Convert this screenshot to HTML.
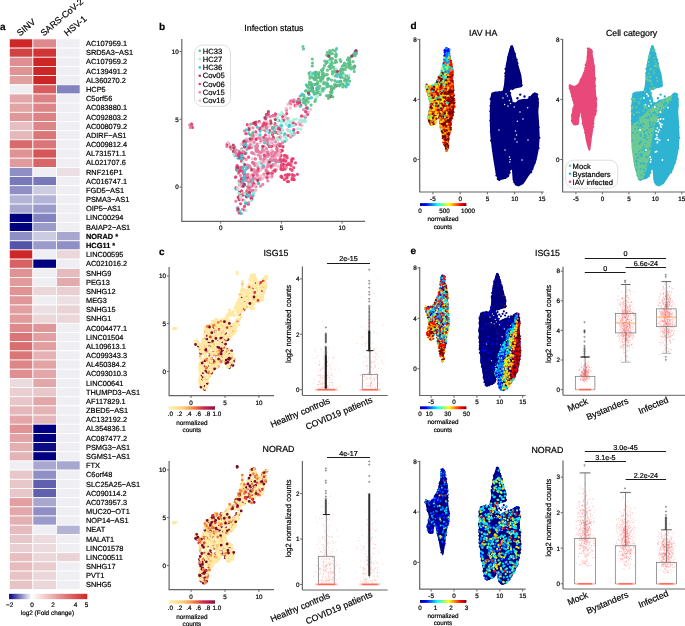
<!DOCTYPE html>
<html><head><meta charset="utf-8"><style>
html,body{margin:0;padding:0;background:#fff;}
svg{display:block;font-family:"Liberation Sans",sans-serif;will-change:transform;text-rendering:geometricPrecision;}
text{stroke:#000;stroke-width:0.2px;}
</style></head><body>
<svg width="685" height="626" viewBox="0 0 685 626" fill="none">
<g fill="#000">
<rect x="9.3" y="38.9" width="23.6" height="9.2" fill="#cd2626" stroke="#fff" stroke-width="0.8"/>
<rect x="32.9" y="38.9" width="23.6" height="9.2" fill="#de8a8c" stroke="#fff" stroke-width="0.8"/>
<rect x="56.5" y="38.9" width="23.6" height="9.2" fill="#efeff3" stroke="#fff" stroke-width="0.8"/>
<text x="86" y="46.1" font-size="7.4">AC107959.1</text>
<rect x="9.3" y="48.1" width="23.6" height="9.2" fill="#d24243" stroke="#fff" stroke-width="0.8"/>
<rect x="32.9" y="48.1" width="23.6" height="9.2" fill="#d03636" stroke="#fff" stroke-width="0.8"/>
<rect x="56.5" y="48.1" width="23.6" height="9.2" fill="#efeff3" stroke="#fff" stroke-width="0.8"/>
<text x="86" y="55.3" font-size="7.4">SRD5A3−AS1</text>
<rect x="9.3" y="57.2" width="23.6" height="9.2" fill="#df8f91" stroke="#fff" stroke-width="0.8"/>
<rect x="32.9" y="57.2" width="23.6" height="9.2" fill="#cd2626" stroke="#fff" stroke-width="0.8"/>
<rect x="56.5" y="57.2" width="23.6" height="9.2" fill="#efeff3" stroke="#fff" stroke-width="0.8"/>
<text x="86" y="64.4" font-size="7.4">AC107959.2</text>
<rect x="9.3" y="66.4" width="23.6" height="9.2" fill="#df9395" stroke="#fff" stroke-width="0.8"/>
<rect x="32.9" y="66.4" width="23.6" height="9.2" fill="#cd2626" stroke="#fff" stroke-width="0.8"/>
<rect x="56.5" y="66.4" width="23.6" height="9.2" fill="#efeff3" stroke="#fff" stroke-width="0.8"/>
<text x="86" y="73.6" font-size="7.4">AC139491.2</text>
<rect x="9.3" y="75.6" width="23.6" height="9.2" fill="#e19fa1" stroke="#fff" stroke-width="0.8"/>
<rect x="32.9" y="75.6" width="23.6" height="9.2" fill="#cd2626" stroke="#fff" stroke-width="0.8"/>
<rect x="56.5" y="75.6" width="23.6" height="9.2" fill="#efeff3" stroke="#fff" stroke-width="0.8"/>
<text x="86" y="82.8" font-size="7.4">AL360270.2</text>
<rect x="9.3" y="84.8" width="23.6" height="9.2" fill="#efeff3" stroke="#fff" stroke-width="0.8"/>
<rect x="32.9" y="84.8" width="23.6" height="9.2" fill="#d75e5f" stroke="#fff" stroke-width="0.8"/>
<rect x="56.5" y="84.8" width="23.6" height="9.2" fill="#8383bf" stroke="#fff" stroke-width="0.8"/>
<text x="86" y="92" font-size="7.4">HCP5</text>
<rect x="9.3" y="94" width="23.6" height="9.2" fill="#e3a7a9" stroke="#fff" stroke-width="0.8"/>
<rect x="32.9" y="94" width="23.6" height="9.2" fill="#dd8284" stroke="#fff" stroke-width="0.8"/>
<rect x="56.5" y="94" width="23.6" height="9.2" fill="#efeff3" stroke="#fff" stroke-width="0.8"/>
<text x="86" y="101.1" font-size="7.4">C5orf56</text>
<rect x="9.3" y="103.1" width="23.6" height="9.2" fill="#e2a3a5" stroke="#fff" stroke-width="0.8"/>
<rect x="32.9" y="103.1" width="23.6" height="9.2" fill="#dd8688" stroke="#fff" stroke-width="0.8"/>
<rect x="56.5" y="103.1" width="23.6" height="9.2" fill="#efeff3" stroke="#fff" stroke-width="0.8"/>
<text x="86" y="110.3" font-size="7.4">AC083880.1</text>
<rect x="9.3" y="112.3" width="23.6" height="9.2" fill="#e09799" stroke="#fff" stroke-width="0.8"/>
<rect x="32.9" y="112.3" width="23.6" height="9.2" fill="#dd8284" stroke="#fff" stroke-width="0.8"/>
<rect x="56.5" y="112.3" width="23.6" height="9.2" fill="#efeff3" stroke="#fff" stroke-width="0.8"/>
<text x="86" y="119.5" font-size="7.4">AC092803.2</text>
<rect x="9.3" y="121.5" width="23.6" height="9.2" fill="#e7bfc2" stroke="#fff" stroke-width="0.8"/>
<rect x="32.9" y="121.5" width="23.6" height="9.2" fill="#dd8688" stroke="#fff" stroke-width="0.8"/>
<rect x="56.5" y="121.5" width="23.6" height="9.2" fill="#efeff3" stroke="#fff" stroke-width="0.8"/>
<text x="86" y="128.7" font-size="7.4">AC008079.2</text>
<rect x="9.3" y="130.7" width="23.6" height="9.2" fill="#e5b7ba" stroke="#fff" stroke-width="0.8"/>
<rect x="32.9" y="130.7" width="23.6" height="9.2" fill="#db7678" stroke="#fff" stroke-width="0.8"/>
<rect x="56.5" y="130.7" width="23.6" height="9.2" fill="#efeff3" stroke="#fff" stroke-width="0.8"/>
<text x="86" y="137.8" font-size="7.4">ADIRF−AS1</text>
<rect x="9.3" y="139.8" width="23.6" height="9.2" fill="#d96a6c" stroke="#fff" stroke-width="0.8"/>
<rect x="32.9" y="139.8" width="23.6" height="9.2" fill="#db7678" stroke="#fff" stroke-width="0.8"/>
<rect x="56.5" y="139.8" width="23.6" height="9.2" fill="#efeff3" stroke="#fff" stroke-width="0.8"/>
<text x="86" y="147" font-size="7.4">AC009812.4</text>
<rect x="9.3" y="149" width="23.6" height="9.2" fill="#df9395" stroke="#fff" stroke-width="0.8"/>
<rect x="32.9" y="149" width="23.6" height="9.2" fill="#d55657" stroke="#fff" stroke-width="0.8"/>
<rect x="56.5" y="149" width="23.6" height="9.2" fill="#efeff3" stroke="#fff" stroke-width="0.8"/>
<text x="86" y="156.2" font-size="7.4">AL731571.1</text>
<rect x="9.3" y="158.2" width="23.6" height="9.2" fill="#e19b9d" stroke="#fff" stroke-width="0.8"/>
<rect x="32.9" y="158.2" width="23.6" height="9.2" fill="#d86668" stroke="#fff" stroke-width="0.8"/>
<rect x="56.5" y="158.2" width="23.6" height="9.2" fill="#efeff3" stroke="#fff" stroke-width="0.8"/>
<text x="86" y="165.4" font-size="7.4">AL021707.6</text>
<rect x="9.3" y="167.4" width="23.6" height="9.2" fill="#8f8fc5" stroke="#fff" stroke-width="0.8"/>
<rect x="32.9" y="167.4" width="23.6" height="9.2" fill="#efeff3" stroke="#fff" stroke-width="0.8"/>
<rect x="56.5" y="167.4" width="23.6" height="9.2" fill="#ecdfe3" stroke="#fff" stroke-width="0.8"/>
<text x="86" y="174.5" font-size="7.4">RNF216P1</text>
<rect x="9.3" y="176.5" width="23.6" height="9.2" fill="#7878ba" stroke="#fff" stroke-width="0.8"/>
<rect x="32.9" y="176.5" width="23.6" height="9.2" fill="#7878ba" stroke="#fff" stroke-width="0.8"/>
<rect x="56.5" y="176.5" width="23.6" height="9.2" fill="#efeff3" stroke="#fff" stroke-width="0.8"/>
<text x="86" y="183.7" font-size="7.4">AC016747.1</text>
<rect x="9.3" y="185.7" width="23.6" height="9.2" fill="#8f8fc5" stroke="#fff" stroke-width="0.8"/>
<rect x="32.9" y="185.7" width="23.6" height="9.2" fill="#cbcbe2" stroke="#fff" stroke-width="0.8"/>
<rect x="56.5" y="185.7" width="23.6" height="9.2" fill="#efeff3" stroke="#fff" stroke-width="0.8"/>
<text x="86" y="192.9" font-size="7.4">FGD5−AS1</text>
<rect x="9.3" y="194.9" width="23.6" height="9.2" fill="#b3b3d6" stroke="#fff" stroke-width="0.8"/>
<rect x="32.9" y="194.9" width="23.6" height="9.2" fill="#b3b3d6" stroke="#fff" stroke-width="0.8"/>
<rect x="56.5" y="194.9" width="23.6" height="9.2" fill="#efeff3" stroke="#fff" stroke-width="0.8"/>
<text x="86" y="202.1" font-size="7.4">PSMA3−AS1</text>
<rect x="9.3" y="204.1" width="23.6" height="9.2" fill="#a7a7d0" stroke="#fff" stroke-width="0.8"/>
<rect x="32.9" y="204.1" width="23.6" height="9.2" fill="#9b9bcb" stroke="#fff" stroke-width="0.8"/>
<rect x="56.5" y="204.1" width="23.6" height="9.2" fill="#efeff3" stroke="#fff" stroke-width="0.8"/>
<text x="86" y="211.2" font-size="7.4">OIP5−AS1</text>
<rect x="9.3" y="213.2" width="23.6" height="9.2" fill="#000080" stroke="#fff" stroke-width="0.8"/>
<rect x="32.9" y="213.2" width="23.6" height="9.2" fill="#8383bf" stroke="#fff" stroke-width="0.8"/>
<rect x="56.5" y="213.2" width="23.6" height="9.2" fill="#efeff3" stroke="#fff" stroke-width="0.8"/>
<text x="86" y="220.4" font-size="7.4">LINC00294</text>
<rect x="9.3" y="222.4" width="23.6" height="9.2" fill="#000080" stroke="#fff" stroke-width="0.8"/>
<rect x="32.9" y="222.4" width="23.6" height="9.2" fill="#9b9bcb" stroke="#fff" stroke-width="0.8"/>
<rect x="56.5" y="222.4" width="23.6" height="9.2" fill="#efeff3" stroke="#fff" stroke-width="0.8"/>
<text x="86" y="229.6" font-size="7.4">BAIAP2−AS1</text>
<rect x="9.3" y="231.6" width="23.6" height="9.2" fill="#8f8fc5" stroke="#fff" stroke-width="0.8"/>
<rect x="32.9" y="231.6" width="23.6" height="9.2" fill="#cbcbe2" stroke="#fff" stroke-width="0.8"/>
<rect x="56.5" y="231.6" width="23.6" height="9.2" fill="#a7a7d0" stroke="#fff" stroke-width="0.8"/>
<text x="86" y="238.8" font-size="7.4"><tspan font-weight="bold">NORAD *</tspan></text>
<rect x="9.3" y="240.8" width="23.6" height="9.2" fill="#5454a8" stroke="#fff" stroke-width="0.8"/>
<rect x="32.9" y="240.8" width="23.6" height="9.2" fill="#9b9bcb" stroke="#fff" stroke-width="0.8"/>
<rect x="56.5" y="240.8" width="23.6" height="9.2" fill="#8f8fc5" stroke="#fff" stroke-width="0.8"/>
<text x="86" y="247.9" font-size="7.4"><tspan font-weight="bold">HCG11 *</tspan></text>
<rect x="9.3" y="249.9" width="23.6" height="9.2" fill="#cd2626" stroke="#fff" stroke-width="0.8"/>
<rect x="32.9" y="249.9" width="23.6" height="9.2" fill="#efeff3" stroke="#fff" stroke-width="0.8"/>
<rect x="56.5" y="249.9" width="23.6" height="9.2" fill="#ebd7da" stroke="#fff" stroke-width="0.8"/>
<text x="86" y="257.1" font-size="7.4">LINC00595</text>
<rect x="9.3" y="259.1" width="23.6" height="9.2" fill="#d76264" stroke="#fff" stroke-width="0.8"/>
<rect x="32.9" y="259.1" width="23.6" height="9.2" fill="#000080" stroke="#fff" stroke-width="0.8"/>
<rect x="56.5" y="259.1" width="23.6" height="9.2" fill="#efeff3" stroke="#fff" stroke-width="0.8"/>
<text x="86" y="266.3" font-size="7.4">AC021016.2</text>
<rect x="9.3" y="268.3" width="23.6" height="9.2" fill="#df9395" stroke="#fff" stroke-width="0.8"/>
<rect x="32.9" y="268.3" width="23.6" height="9.2" fill="#efeff3" stroke="#fff" stroke-width="0.8"/>
<rect x="56.5" y="268.3" width="23.6" height="9.2" fill="#e6bbbe" stroke="#fff" stroke-width="0.8"/>
<text x="86" y="275.5" font-size="7.4">SNHG9</text>
<rect x="9.3" y="277.4" width="23.6" height="9.2" fill="#e19b9d" stroke="#fff" stroke-width="0.8"/>
<rect x="32.9" y="277.4" width="23.6" height="9.2" fill="#efeff3" stroke="#fff" stroke-width="0.8"/>
<rect x="56.5" y="277.4" width="23.6" height="9.2" fill="#e3abad" stroke="#fff" stroke-width="0.8"/>
<text x="86" y="284.6" font-size="7.4">PEG13</text>
<rect x="9.3" y="286.6" width="23.6" height="9.2" fill="#df9395" stroke="#fff" stroke-width="0.8"/>
<rect x="32.9" y="286.6" width="23.6" height="9.2" fill="#ebd7da" stroke="#fff" stroke-width="0.8"/>
<rect x="56.5" y="286.6" width="23.6" height="9.2" fill="#eacfd2" stroke="#fff" stroke-width="0.8"/>
<text x="86" y="293.8" font-size="7.4">SNHG12</text>
<rect x="9.3" y="295.8" width="23.6" height="9.2" fill="#e09799" stroke="#fff" stroke-width="0.8"/>
<rect x="32.9" y="295.8" width="23.6" height="9.2" fill="#efeff3" stroke="#fff" stroke-width="0.8"/>
<rect x="56.5" y="295.8" width="23.6" height="9.2" fill="#ecdfe3" stroke="#fff" stroke-width="0.8"/>
<text x="86" y="303" font-size="7.4">MEG3</text>
<rect x="9.3" y="305" width="23.6" height="9.2" fill="#e19fa1" stroke="#fff" stroke-width="0.8"/>
<rect x="32.9" y="305" width="23.6" height="9.2" fill="#ecdfe3" stroke="#fff" stroke-width="0.8"/>
<rect x="56.5" y="305" width="23.6" height="9.2" fill="#ead3d6" stroke="#fff" stroke-width="0.8"/>
<text x="86" y="312.2" font-size="7.4">SNHG15</text>
<rect x="9.3" y="314.1" width="23.6" height="9.2" fill="#e19b9d" stroke="#fff" stroke-width="0.8"/>
<rect x="32.9" y="314.1" width="23.6" height="9.2" fill="#ebd7da" stroke="#fff" stroke-width="0.8"/>
<rect x="56.5" y="314.1" width="23.6" height="9.2" fill="#ebd7da" stroke="#fff" stroke-width="0.8"/>
<text x="86" y="321.3" font-size="7.4">SNHG1</text>
<rect x="9.3" y="323.3" width="23.6" height="9.2" fill="#de8a8c" stroke="#fff" stroke-width="0.8"/>
<rect x="32.9" y="323.3" width="23.6" height="9.2" fill="#e09799" stroke="#fff" stroke-width="0.8"/>
<rect x="56.5" y="323.3" width="23.6" height="9.2" fill="#efeff3" stroke="#fff" stroke-width="0.8"/>
<text x="86" y="330.5" font-size="7.4">AC004477.1</text>
<rect x="9.3" y="332.5" width="23.6" height="9.2" fill="#db7678" stroke="#fff" stroke-width="0.8"/>
<rect x="32.9" y="332.5" width="23.6" height="9.2" fill="#e19fa1" stroke="#fff" stroke-width="0.8"/>
<rect x="56.5" y="332.5" width="23.6" height="9.2" fill="#efeff3" stroke="#fff" stroke-width="0.8"/>
<text x="86" y="339.7" font-size="7.4">LINC01504</text>
<rect x="9.3" y="341.7" width="23.6" height="9.2" fill="#d96e70" stroke="#fff" stroke-width="0.8"/>
<rect x="32.9" y="341.7" width="23.6" height="9.2" fill="#e19fa1" stroke="#fff" stroke-width="0.8"/>
<rect x="56.5" y="341.7" width="23.6" height="9.2" fill="#efeff3" stroke="#fff" stroke-width="0.8"/>
<text x="86" y="348.9" font-size="7.4">AL109613.1</text>
<rect x="9.3" y="350.9" width="23.6" height="9.2" fill="#db7678" stroke="#fff" stroke-width="0.8"/>
<rect x="32.9" y="350.9" width="23.6" height="9.2" fill="#e5b3b6" stroke="#fff" stroke-width="0.8"/>
<rect x="56.5" y="350.9" width="23.6" height="9.2" fill="#efeff3" stroke="#fff" stroke-width="0.8"/>
<text x="86" y="358" font-size="7.4">AC099343.3</text>
<rect x="9.3" y="360" width="23.6" height="9.2" fill="#dd8688" stroke="#fff" stroke-width="0.8"/>
<rect x="32.9" y="360" width="23.6" height="9.2" fill="#e2a3a5" stroke="#fff" stroke-width="0.8"/>
<rect x="56.5" y="360" width="23.6" height="9.2" fill="#efeff3" stroke="#fff" stroke-width="0.8"/>
<text x="86" y="367.2" font-size="7.4">AL450384.2</text>
<rect x="9.3" y="369.2" width="23.6" height="9.2" fill="#df8f91" stroke="#fff" stroke-width="0.8"/>
<rect x="32.9" y="369.2" width="23.6" height="9.2" fill="#e3a7a9" stroke="#fff" stroke-width="0.8"/>
<rect x="56.5" y="369.2" width="23.6" height="9.2" fill="#efeff3" stroke="#fff" stroke-width="0.8"/>
<text x="86" y="376.4" font-size="7.4">AC093010.3</text>
<rect x="9.3" y="378.4" width="23.6" height="9.2" fill="#ecdbde" stroke="#fff" stroke-width="0.8"/>
<rect x="32.9" y="378.4" width="23.6" height="9.2" fill="#e3a7a9" stroke="#fff" stroke-width="0.8"/>
<rect x="56.5" y="378.4" width="23.6" height="9.2" fill="#efeff3" stroke="#fff" stroke-width="0.8"/>
<text x="86" y="385.6" font-size="7.4">LINC00641</text>
<rect x="9.3" y="387.6" width="23.6" height="9.2" fill="#eacfd2" stroke="#fff" stroke-width="0.8"/>
<rect x="32.9" y="387.6" width="23.6" height="9.2" fill="#e8c7ca" stroke="#fff" stroke-width="0.8"/>
<rect x="56.5" y="387.6" width="23.6" height="9.2" fill="#efeff3" stroke="#fff" stroke-width="0.8"/>
<text x="86" y="394.7" font-size="7.4">THUMPD3−AS1</text>
<rect x="9.3" y="396.7" width="23.6" height="9.2" fill="#e8c7ca" stroke="#fff" stroke-width="0.8"/>
<rect x="32.9" y="396.7" width="23.6" height="9.2" fill="#e3a7a9" stroke="#fff" stroke-width="0.8"/>
<rect x="56.5" y="396.7" width="23.6" height="9.2" fill="#efeff3" stroke="#fff" stroke-width="0.8"/>
<text x="86" y="403.9" font-size="7.4">AF117829.1</text>
<rect x="9.3" y="405.9" width="23.6" height="9.2" fill="#e5b7ba" stroke="#fff" stroke-width="0.8"/>
<rect x="32.9" y="405.9" width="23.6" height="9.2" fill="#e5b3b6" stroke="#fff" stroke-width="0.8"/>
<rect x="56.5" y="405.9" width="23.6" height="9.2" fill="#efeff3" stroke="#fff" stroke-width="0.8"/>
<text x="86" y="413.1" font-size="7.4">ZBED5−AS1</text>
<rect x="9.3" y="415.1" width="23.6" height="9.2" fill="#e3a7a9" stroke="#fff" stroke-width="0.8"/>
<rect x="32.9" y="415.1" width="23.6" height="9.2" fill="#e5b7ba" stroke="#fff" stroke-width="0.8"/>
<rect x="56.5" y="415.1" width="23.6" height="9.2" fill="#efeff3" stroke="#fff" stroke-width="0.8"/>
<text x="86" y="422.3" font-size="7.4">AC132192.2</text>
<rect x="9.3" y="424.2" width="23.6" height="9.2" fill="#df9395" stroke="#fff" stroke-width="0.8"/>
<rect x="32.9" y="424.2" width="23.6" height="9.2" fill="#000080" stroke="#fff" stroke-width="0.8"/>
<rect x="56.5" y="424.2" width="23.6" height="9.2" fill="#efeff3" stroke="#fff" stroke-width="0.8"/>
<text x="86" y="431.4" font-size="7.4">AL354836.1</text>
<rect x="9.3" y="433.4" width="23.6" height="9.2" fill="#e2a3a5" stroke="#fff" stroke-width="0.8"/>
<rect x="32.9" y="433.4" width="23.6" height="9.2" fill="#000080" stroke="#fff" stroke-width="0.8"/>
<rect x="56.5" y="433.4" width="23.6" height="9.2" fill="#efeff3" stroke="#fff" stroke-width="0.8"/>
<text x="86" y="440.6" font-size="7.4">AC087477.2</text>
<rect x="9.3" y="442.6" width="23.6" height="9.2" fill="#e4afb1" stroke="#fff" stroke-width="0.8"/>
<rect x="32.9" y="442.6" width="23.6" height="9.2" fill="#0c0c86" stroke="#fff" stroke-width="0.8"/>
<rect x="56.5" y="442.6" width="23.6" height="9.2" fill="#efeff3" stroke="#fff" stroke-width="0.8"/>
<text x="86" y="449.8" font-size="7.4">PSMG3−AS1</text>
<rect x="9.3" y="451.8" width="23.6" height="9.2" fill="#e5b3b6" stroke="#fff" stroke-width="0.8"/>
<rect x="32.9" y="451.8" width="23.6" height="9.2" fill="#000080" stroke="#fff" stroke-width="0.8"/>
<rect x="56.5" y="451.8" width="23.6" height="9.2" fill="#efeff3" stroke="#fff" stroke-width="0.8"/>
<text x="86" y="459" font-size="7.4">SGMS1−AS1</text>
<rect x="9.3" y="460.9" width="23.6" height="9.2" fill="#efeff3" stroke="#fff" stroke-width="0.8"/>
<rect x="32.9" y="460.9" width="23.6" height="9.2" fill="#a7a7d0" stroke="#fff" stroke-width="0.8"/>
<rect x="56.5" y="460.9" width="23.6" height="9.2" fill="#a7a7d0" stroke="#fff" stroke-width="0.8"/>
<text x="86" y="468.1" font-size="7.4">FTX</text>
<rect x="9.3" y="470.1" width="23.6" height="9.2" fill="#e8c7ca" stroke="#fff" stroke-width="0.8"/>
<rect x="32.9" y="470.1" width="23.6" height="9.2" fill="#8f8fc5" stroke="#fff" stroke-width="0.8"/>
<rect x="56.5" y="470.1" width="23.6" height="9.2" fill="#efeff3" stroke="#fff" stroke-width="0.8"/>
<text x="86" y="477.3" font-size="7.4">C6orf48</text>
<rect x="9.3" y="479.3" width="23.6" height="9.2" fill="#e8c7ca" stroke="#fff" stroke-width="0.8"/>
<rect x="32.9" y="479.3" width="23.6" height="9.2" fill="#6060ae" stroke="#fff" stroke-width="0.8"/>
<rect x="56.5" y="479.3" width="23.6" height="9.2" fill="#efeff3" stroke="#fff" stroke-width="0.8"/>
<text x="86" y="486.5" font-size="7.4">SLC25A25−AS1</text>
<rect x="9.3" y="488.5" width="23.6" height="9.2" fill="#e8c7ca" stroke="#fff" stroke-width="0.8"/>
<rect x="32.9" y="488.5" width="23.6" height="9.2" fill="#6060ae" stroke="#fff" stroke-width="0.8"/>
<rect x="56.5" y="488.5" width="23.6" height="9.2" fill="#efeff3" stroke="#fff" stroke-width="0.8"/>
<text x="86" y="495.7" font-size="7.4">AC090114.2</text>
<rect x="9.3" y="497.7" width="23.6" height="9.2" fill="#e19fa1" stroke="#fff" stroke-width="0.8"/>
<rect x="32.9" y="497.7" width="23.6" height="9.2" fill="#a7a7d0" stroke="#fff" stroke-width="0.8"/>
<rect x="56.5" y="497.7" width="23.6" height="9.2" fill="#efeff3" stroke="#fff" stroke-width="0.8"/>
<text x="86" y="504.8" font-size="7.4">AC073957.3</text>
<rect x="9.3" y="506.8" width="23.6" height="9.2" fill="#e3a7a9" stroke="#fff" stroke-width="0.8"/>
<rect x="32.9" y="506.8" width="23.6" height="9.2" fill="#8f8fc5" stroke="#fff" stroke-width="0.8"/>
<rect x="56.5" y="506.8" width="23.6" height="9.2" fill="#efeff3" stroke="#fff" stroke-width="0.8"/>
<text x="86" y="514" font-size="7.4">MUC20−OT1</text>
<rect x="9.3" y="516" width="23.6" height="9.2" fill="#e4afb1" stroke="#fff" stroke-width="0.8"/>
<rect x="32.9" y="516" width="23.6" height="9.2" fill="#9b9bcb" stroke="#fff" stroke-width="0.8"/>
<rect x="56.5" y="516" width="23.6" height="9.2" fill="#efeff3" stroke="#fff" stroke-width="0.8"/>
<text x="86" y="523.2" font-size="7.4">NOP14−AS1</text>
<rect x="9.3" y="525.2" width="23.6" height="9.2" fill="#e6bbbe" stroke="#fff" stroke-width="0.8"/>
<rect x="32.9" y="525.2" width="23.6" height="9.2" fill="#efeff3" stroke="#fff" stroke-width="0.8"/>
<rect x="56.5" y="525.2" width="23.6" height="9.2" fill="#b3b3d6" stroke="#fff" stroke-width="0.8"/>
<text x="86" y="532.4" font-size="7.4">NEAT</text>
<rect x="9.3" y="534.4" width="23.6" height="9.2" fill="#e8c7ca" stroke="#fff" stroke-width="0.8"/>
<rect x="32.9" y="534.4" width="23.6" height="9.2" fill="#ecdbde" stroke="#fff" stroke-width="0.8"/>
<rect x="56.5" y="534.4" width="23.6" height="9.2" fill="#efeff3" stroke="#fff" stroke-width="0.8"/>
<text x="86" y="541.5" font-size="7.4">MALAT1</text>
<rect x="9.3" y="543.5" width="23.6" height="9.2" fill="#eacfd2" stroke="#fff" stroke-width="0.8"/>
<rect x="32.9" y="543.5" width="23.6" height="9.2" fill="#ecdbde" stroke="#fff" stroke-width="0.8"/>
<rect x="56.5" y="543.5" width="23.6" height="9.2" fill="#efeff3" stroke="#fff" stroke-width="0.8"/>
<text x="86" y="550.7" font-size="7.4">LINC01578</text>
<rect x="9.3" y="552.7" width="23.6" height="9.2" fill="#e7bfc2" stroke="#fff" stroke-width="0.8"/>
<rect x="32.9" y="552.7" width="23.6" height="9.2" fill="#ebd7da" stroke="#fff" stroke-width="0.8"/>
<rect x="56.5" y="552.7" width="23.6" height="9.2" fill="#ead3d6" stroke="#fff" stroke-width="0.8"/>
<text x="86" y="559.9" font-size="7.4">LINC00511</text>
<rect x="9.3" y="561.9" width="23.6" height="9.2" fill="#e6bbbe" stroke="#fff" stroke-width="0.8"/>
<rect x="32.9" y="561.9" width="23.6" height="9.2" fill="#e9cbce" stroke="#fff" stroke-width="0.8"/>
<rect x="56.5" y="561.9" width="23.6" height="9.2" fill="#efeff3" stroke="#fff" stroke-width="0.8"/>
<text x="86" y="569.1" font-size="7.4">SNHG17</text>
<rect x="9.3" y="571.1" width="23.6" height="9.2" fill="#e8c3c6" stroke="#fff" stroke-width="0.8"/>
<rect x="32.9" y="571.1" width="23.6" height="9.2" fill="#ebd7da" stroke="#fff" stroke-width="0.8"/>
<rect x="56.5" y="571.1" width="23.6" height="9.2" fill="#efeff3" stroke="#fff" stroke-width="0.8"/>
<text x="86" y="578.2" font-size="7.4">PVT1</text>
<rect x="9.3" y="580.2" width="23.6" height="9.2" fill="#e8c3c6" stroke="#fff" stroke-width="0.8"/>
<rect x="32.9" y="580.2" width="23.6" height="9.2" fill="#ebd7da" stroke="#fff" stroke-width="0.8"/>
<rect x="56.5" y="580.2" width="23.6" height="9.2" fill="#efeff3" stroke="#fff" stroke-width="0.8"/>
<text x="86" y="587.4" font-size="7.4">SNHG5</text>
<text x="20.1" y="36.5" font-size="9" transform="rotate(-40 20.1 36.5)">SINV</text>
<text x="43.7" y="36.5" font-size="9" transform="rotate(-40 43.7 36.5)">SARS-CoV-2</text>
<text x="67.3" y="36.5" font-size="9" transform="rotate(-40 67.3 36.5)">HSV-1</text>
<text x="0" y="29.5" font-size="10" font-weight="bold">a</text>
<defs><linearGradient id="hg" x1="0" x2="1"><stop offset="0" stop-color="#000080"/><stop offset="0.2857" stop-color="#ffffff"/><stop offset="1" stop-color="#cd2626"/></linearGradient></defs>
<rect x="9.1" y="593.8" width="78.2" height="5.4" fill="url(#hg)"/>
<text x="9.6" y="607" font-size="6.4" text-anchor="middle">−2</text>
<text x="32" y="607" font-size="6.4" text-anchor="middle">0</text>
<text x="53" y="607" font-size="6.4" text-anchor="middle">2</text>
<text x="75.5" y="607" font-size="6.4" text-anchor="middle">4</text>
<text x="86.6" y="607" font-size="6.4" text-anchor="middle">5</text>
<text x="47.4" y="615" font-size="6.4" text-anchor="middle">log2 (Fold change)</text>
<text x="159" y="29.5" font-size="10" font-weight="bold">b</text>
<text x="273.9" y="30.8" font-size="8.8" text-anchor="middle">Infection status</text>
<path d="M181.8 39L181.8 221.3" stroke="#666" stroke-width="1.2"/>
<path d="M179.5 51.5L181.8 51.5" stroke="#666" stroke-width="1"/>
<text x="178.8" y="53.7" font-size="6.3" text-anchor="end">10</text>
<path d="M179.5 119.2L181.8 119.2" stroke="#666" stroke-width="1"/>
<text x="178.8" y="121.5" font-size="6.3" text-anchor="end">5</text>
<path d="M179.5 187L181.8 187" stroke="#666" stroke-width="1"/>
<text x="178.8" y="189.2" font-size="6.3" text-anchor="end">0</text>
<path d="M181.2 221.3L365 221.3" stroke="#666" stroke-width="1.2"/>
<path d="M220.7 221.3L220.7 223.6" stroke="#666" stroke-width="1"/>
<text x="220.7" y="230.2" font-size="6.3" text-anchor="middle">0</text>
<path d="M281.4 221.3L281.4 223.6" stroke="#666" stroke-width="1"/>
<text x="281.4" y="230.2" font-size="6.3" text-anchor="middle">5</text>
<path d="M342.1 221.3L342.1 223.6" stroke="#666" stroke-width="1"/>
<text x="342.1" y="230.2" font-size="6.3" text-anchor="middle">10</text>
<text x="159" y="255.2" font-size="10" font-weight="bold">c</text>
<text x="275.9" y="255.5" font-size="8.8" text-anchor="middle">ISG15</text>
<path d="M169.1 267L169.1 395.6" stroke="#666" stroke-width="1.2"/>
<path d="M166.8 275.9L169.1 275.9" stroke="#666" stroke-width="1"/>
<text x="166.1" y="278.1" font-size="6.3" text-anchor="end">10</text>
<path d="M166.8 323.6L169.1 323.6" stroke="#666" stroke-width="1"/>
<text x="166.1" y="325.8" font-size="6.3" text-anchor="end">5</text>
<path d="M166.8 371.4L169.1 371.4" stroke="#666" stroke-width="1"/>
<text x="166.1" y="373.6" font-size="6.3" text-anchor="end">0</text>
<path d="M168.6 395.6L274 395.6" stroke="#666" stroke-width="1.2"/>
<path d="M191.1 395.6L191.1 397.9" stroke="#666" stroke-width="1"/>
<text x="191.1" y="404.5" font-size="6.3" text-anchor="middle">0</text>
<path d="M225 395.6L225 397.9" stroke="#666" stroke-width="1"/>
<text x="225" y="404.5" font-size="6.3" text-anchor="middle">5</text>
<path d="M258.9 395.6L258.9 397.9" stroke="#666" stroke-width="1"/>
<text x="258.9" y="404.5" font-size="6.3" text-anchor="middle">10</text>
<rect x="168.5" y="406.3" width="46.5" height="3.4" fill="url(#ylr)"/>
<text x="170.4" y="416.4" font-size="6.3" text-anchor="middle">.0</text>
<text x="179.7" y="416.4" font-size="6.3" text-anchor="middle">.2</text>
<text x="189" y="416.4" font-size="6.3" text-anchor="middle">.4</text>
<text x="198.3" y="416.4" font-size="6.3" text-anchor="middle">.6</text>
<text x="207.6" y="416.4" font-size="6.3" text-anchor="middle">.8</text>
<text x="216.9" y="416.4" font-size="6.3" text-anchor="middle">1.0</text>
<text x="191.9" y="424.7" font-size="6.4" text-anchor="middle">normalized</text>
<text x="191.9" y="432.2" font-size="6.4" text-anchor="middle">counts</text>
<text x="278.5" y="451.8" font-size="8.8" text-anchor="middle">NORAD</text>
<path d="M169.1 461L169.1 589.6" stroke="#666" stroke-width="1.2"/>
<path d="M166.8 469.9L169.1 469.9" stroke="#666" stroke-width="1"/>
<text x="166.1" y="472.1" font-size="6.3" text-anchor="end">10</text>
<path d="M166.8 517.6L169.1 517.6" stroke="#666" stroke-width="1"/>
<text x="166.1" y="519.9" font-size="6.3" text-anchor="end">5</text>
<path d="M166.8 565.4L169.1 565.4" stroke="#666" stroke-width="1"/>
<text x="166.1" y="567.6" font-size="6.3" text-anchor="end">0</text>
<path d="M168.6 589.6L274 589.6" stroke="#666" stroke-width="1.2"/>
<path d="M191.1 589.6L191.1 591.9" stroke="#666" stroke-width="1"/>
<text x="191.1" y="598.5" font-size="6.3" text-anchor="middle">0</text>
<path d="M225 589.6L225 591.9" stroke="#666" stroke-width="1"/>
<text x="225" y="598.5" font-size="6.3" text-anchor="middle">5</text>
<path d="M258.9 589.6L258.9 591.9" stroke="#666" stroke-width="1"/>
<text x="258.9" y="598.5" font-size="6.3" text-anchor="middle">10</text>
<rect x="168.5" y="600.3" width="46.5" height="3.4" fill="url(#ylr)"/>
<text x="170.4" y="610.4" font-size="6.3" text-anchor="middle">.0</text>
<text x="179.7" y="610.4" font-size="6.3" text-anchor="middle">.2</text>
<text x="189" y="610.4" font-size="6.3" text-anchor="middle">.4</text>
<text x="198.3" y="610.4" font-size="6.3" text-anchor="middle">.6</text>
<text x="207.6" y="610.4" font-size="6.3" text-anchor="middle">.8</text>
<text x="216.9" y="610.4" font-size="6.3" text-anchor="middle">1.0</text>
<text x="191.9" y="618.7" font-size="6.4" text-anchor="middle">normalized</text>
<text x="191.9" y="626.2" font-size="6.4" text-anchor="middle">counts</text>
<defs><linearGradient id="ylr" x1="0" x2="1"><stop offset="0" stop-color="#fff2b8"/><stop offset="0.3" stop-color="#fcd27a"/><stop offset="0.55" stop-color="#f3803f"/><stop offset="0.75" stop-color="#d2284a"/><stop offset="1" stop-color="#8a1042"/></linearGradient></defs>
<text x="410.5" y="29" font-size="10" font-weight="bold">d</text>
<text x="483.2" y="35.5" font-size="8.8" text-anchor="middle">IAV HA</text>
<text x="631.6" y="35.5" font-size="8.8" text-anchor="middle">Cell category</text>
<path d="M419.7 39L419.7 192" stroke="#666" stroke-width="1.2"/>
<path d="M417.4 39.3L419.7 39.3" stroke="#666" stroke-width="1"/>
<text x="416.7" y="41.5" font-size="6.3" text-anchor="end">8</text>
<path d="M417.4 99.4L419.7 99.4" stroke="#666" stroke-width="1"/>
<text x="416.7" y="101.6" font-size="6.3" text-anchor="end">4</text>
<path d="M417.4 159.5L419.7 159.5" stroke="#666" stroke-width="1"/>
<text x="416.7" y="161.7" font-size="6.3" text-anchor="end">0</text>
<path d="M419.2 192L543.6 192" stroke="#666" stroke-width="1.2"/>
<path d="M432.9 192L432.9 194.3" stroke="#666" stroke-width="1"/>
<text x="432.9" y="200.9" font-size="6.3" text-anchor="middle">-5</text>
<path d="M460.2 192L460.2 194.3" stroke="#666" stroke-width="1"/>
<text x="460.2" y="200.9" font-size="6.3" text-anchor="middle">0</text>
<path d="M487.4 192L487.4 194.3" stroke="#666" stroke-width="1"/>
<text x="487.4" y="200.9" font-size="6.3" text-anchor="middle">5</text>
<path d="M514.7 192L514.7 194.3" stroke="#666" stroke-width="1"/>
<text x="514.7" y="200.9" font-size="6.3" text-anchor="middle">10</text>
<path d="M542 192L542 194.3" stroke="#666" stroke-width="1"/>
<text x="542" y="200.9" font-size="6.3" text-anchor="middle">15</text>
<path d="M562.6 39L562.6 192" stroke="#666" stroke-width="1.2"/>
<path d="M560.3 39.3L562.6 39.3" stroke="#666" stroke-width="1"/>
<text x="559.6" y="41.5" font-size="6.3" text-anchor="end">8</text>
<path d="M560.3 99.4L562.6 99.4" stroke="#666" stroke-width="1"/>
<text x="559.6" y="101.6" font-size="6.3" text-anchor="end">4</text>
<path d="M560.3 159.5L562.6 159.5" stroke="#666" stroke-width="1"/>
<text x="559.6" y="161.7" font-size="6.3" text-anchor="end">0</text>
<path d="M562.1 192L685 192" stroke="#666" stroke-width="1.2"/>
<path d="M575.9 192L575.9 194.3" stroke="#666" stroke-width="1"/>
<text x="575.9" y="200.9" font-size="6.3" text-anchor="middle">-5</text>
<path d="M602.4 192L602.4 194.3" stroke="#666" stroke-width="1"/>
<text x="602.4" y="200.9" font-size="6.3" text-anchor="middle">0</text>
<path d="M628.9 192L628.9 194.3" stroke="#666" stroke-width="1"/>
<text x="628.9" y="200.9" font-size="6.3" text-anchor="middle">5</text>
<path d="M655.3 192L655.3 194.3" stroke="#666" stroke-width="1"/>
<text x="655.3" y="200.9" font-size="6.3" text-anchor="middle">10</text>
<path d="M681.8 192L681.8 194.3" stroke="#666" stroke-width="1"/>
<text x="681.8" y="200.9" font-size="6.3" text-anchor="middle">15</text>
<defs><linearGradient id="jet" x1="0" x2="1"><stop offset="0" stop-color="#00008f"/><stop offset="0.125" stop-color="#0000ff"/><stop offset="0.375" stop-color="#00ffff"/><stop offset="0.625" stop-color="#ffff00"/><stop offset="0.875" stop-color="#ff0000"/><stop offset="1" stop-color="#800000"/></linearGradient></defs>
<rect x="420" y="203.1" width="46.4" height="2.9" fill="url(#jet)"/>
<text x="420" y="213.2" font-size="6.3" text-anchor="middle">0</text>
<text x="444.6" y="213.2" font-size="6.3" text-anchor="middle">500</text>
<text x="468.1" y="213.2" font-size="6.3" text-anchor="middle">1000</text>
<text x="443" y="221.1" font-size="6.3" text-anchor="middle">normalized</text>
<text x="443" y="228.8" font-size="6.3" text-anchor="middle">counts</text>
<text x="410.5" y="254.4" font-size="10" font-weight="bold">e</text>
<path d="M419.7 267L419.7 395.5" stroke="#666" stroke-width="1.2"/>
<path d="M417.4 267.9L419.7 267.9" stroke="#666" stroke-width="1"/>
<text x="416.7" y="270.1" font-size="6.3" text-anchor="end">8</text>
<path d="M417.4 318.3L419.7 318.3" stroke="#666" stroke-width="1"/>
<text x="416.7" y="320.5" font-size="6.3" text-anchor="end">4</text>
<path d="M417.4 368.7L419.7 368.7" stroke="#666" stroke-width="1"/>
<text x="416.7" y="370.9" font-size="6.3" text-anchor="end">0</text>
<path d="M419.2 395.5L525.6 395.5" stroke="#666" stroke-width="1.2"/>
<path d="M431.1 395.5L431.1 397.8" stroke="#666" stroke-width="1"/>
<text x="431.1" y="404.4" font-size="6.3" text-anchor="middle">-5</text>
<path d="M454 395.5L454 397.8" stroke="#666" stroke-width="1"/>
<text x="454" y="404.4" font-size="6.3" text-anchor="middle">0</text>
<path d="M476.9 395.5L476.9 397.8" stroke="#666" stroke-width="1"/>
<text x="476.9" y="404.4" font-size="6.3" text-anchor="middle">5</text>
<path d="M499.8 395.5L499.8 397.8" stroke="#666" stroke-width="1"/>
<text x="499.8" y="404.4" font-size="6.3" text-anchor="middle">10</text>
<path d="M522.7 395.5L522.7 397.8" stroke="#666" stroke-width="1"/>
<text x="522.7" y="404.4" font-size="6.3" text-anchor="middle">15</text>
<rect x="420" y="406.3" width="46.4" height="2.9" fill="url(#jet)"/>
<text x="420" y="416.4" font-size="6.3" text-anchor="middle">0</text>
<text x="429.3" y="416.4" font-size="6.3" text-anchor="middle">10</text>
<text x="447.8" y="416.4" font-size="6.3" text-anchor="middle">30</text>
<text x="466.4" y="416.4" font-size="6.3" text-anchor="middle">50</text>
<text x="443" y="424" font-size="6.3" text-anchor="middle">normalized</text>
<text x="443" y="431.7" font-size="6.3" text-anchor="middle">counts</text>
<path d="M419.7 460.7L419.7 589.2" stroke="#666" stroke-width="1.2"/>
<path d="M417.4 461.6L419.7 461.6" stroke="#666" stroke-width="1"/>
<text x="416.7" y="463.8" font-size="6.3" text-anchor="end">8</text>
<path d="M417.4 512L419.7 512" stroke="#666" stroke-width="1"/>
<text x="416.7" y="514.2" font-size="6.3" text-anchor="end">4</text>
<path d="M417.4 562.4L419.7 562.4" stroke="#666" stroke-width="1"/>
<text x="416.7" y="564.6" font-size="6.3" text-anchor="end">0</text>
<path d="M419.2 589.2L525.6 589.2" stroke="#666" stroke-width="1.2"/>
<path d="M431.1 589.2L431.1 591.5" stroke="#666" stroke-width="1"/>
<text x="431.1" y="598.1" font-size="6.3" text-anchor="middle">-5</text>
<path d="M454 589.2L454 591.5" stroke="#666" stroke-width="1"/>
<text x="454" y="598.1" font-size="6.3" text-anchor="middle">0</text>
<path d="M476.9 589.2L476.9 591.5" stroke="#666" stroke-width="1"/>
<text x="476.9" y="598.1" font-size="6.3" text-anchor="middle">5</text>
<path d="M499.8 589.2L499.8 591.5" stroke="#666" stroke-width="1"/>
<text x="499.8" y="598.1" font-size="6.3" text-anchor="middle">10</text>
<path d="M522.7 589.2L522.7 591.5" stroke="#666" stroke-width="1"/>
<text x="522.7" y="598.1" font-size="6.3" text-anchor="middle">15</text>
<rect x="420" y="600" width="46.4" height="2.9" fill="url(#jet)"/>
<text x="420" y="610.1" font-size="6.3" text-anchor="middle">0</text>
<text x="435.5" y="610.1" font-size="6.3" text-anchor="middle">1</text>
<text x="450.9" y="610.1" font-size="6.3" text-anchor="middle">2</text>
<text x="466.4" y="610.1" font-size="6.3" text-anchor="middle">3</text>
<text x="443" y="617.7" font-size="6.3" text-anchor="middle">normalized</text>
<text x="443" y="625.4" font-size="6.3" text-anchor="middle">counts</text>
<path d="M349.9 62.8h0M327.8 79.6h0M331.7 62.4h0M331 94.8h0M344.5 63h0M329.9 66.6h0M328.6 86.1h0M319.2 77.6h0M326.7 84.7h0M330.3 92.2h0M331.3 86.3h0M345.1 78.5h0M332 91.3h0M343.7 66h0M311.7 87.4h0M312.1 89.8h0M342.7 70.3h0M323.5 76.3h0M330 61.6h0M250.4 134.9h0M340.5 60.8h0M329 97.8h0M316.6 90h0M317.4 92.4h0M321.8 77.8h0M342.3 75h0M305.5 91h0M334.9 69.7h0M328.8 56.3h0M317.2 84h0M315.8 79.4h0M339.5 85.8h0M330.5 58.4h0M306.4 100.6h0M328.6 60.9h0M343 69.7h0M315.5 75.2h0M312.3 89.6h0M315.2 84.4h0M310.5 82.6h0M327.5 70.2h0M323.4 68.3h0M307.6 86.9h0M308.2 102.1h0M316.1 78h0M349.6 81.2h0M328.5 95.9h0M340.1 59.7h0M324.2 88.7h0M310.3 72.7h0M332.5 58.7h0M340.8 76h0M324 75.7h0M349.3 64.5h0M340.8 61.4h0M327.8 86.4h0M332.5 53.6h0M328.4 98.3h0" stroke="#5bbf86" stroke-width="3.2" stroke-linecap="round" stroke-opacity="0.9"/>
<path d="M268.2 143h0M260.3 156.9h0M283.6 115.4h0M244.6 195h0M262.4 148.9h0M280 158.2h0M291.2 100.7h0M275 157.5h0M191.1 124h0M240.5 175.6h0M248.5 181.8h0M277.4 150.7h0M189.6 125.1h0M272.2 128.5h0M268 154.5h0M274.4 156.3h0M249.5 192.9h0M250.5 167.5h0M256.5 151.3h0M262.8 184.4h0M246.1 145.1h0M243.4 142.4h0M247 190.8h0M277.6 160.8h0M272.4 151.4h0M244.5 152.3h0M259 152.1h0M282.8 146.3h0M274 154.6h0M239.7 185h0M284 155.5h0M258.1 183.5h0M275.8 162.3h0M260.4 156.3h0M261 179.1h0M284.2 160.2h0M246.9 149.4h0M273.9 157.9h0M281.7 151.1h0M233.7 151.2h0M266.5 116.2h0M267.8 152.3h0M238.3 169h0M237.6 210.5h0M226.8 146.4h0M270.5 160.2h0M269 144.1h0M276.1 169.6h0M273.5 145.5h0M250.3 183h0M279.5 160.3h0M242.5 209.2h0M278.6 143.9h0M242.6 183.4h0M248.9 177.5h0M256 186.6h0M258.4 150.8h0M261 177.9h0M262.3 167.8h0M266.4 138.5h0M267.2 123.8h0M255.5 164.5h0M255.5 158.9h0M263.9 174.2h0M257.2 174.7h0" stroke="#e37ca0" stroke-width="3.2" stroke-linecap="round" stroke-opacity="0.9"/>
<path d="M271 173.5h0M260.1 142.5h0M249.3 141.9h0M301.2 117h0M251.9 138.9h0M287.8 104.3h0M276 116.9h0M271.5 177.5h0M253 181.4h0M286.8 109.1h0M294.1 103.2h0M262.6 124.3h0M268.8 116.6h0M278.2 166.2h0M266.1 168.6h0M261 137.1h0M245.2 174h0M285.1 116.5h0M277.7 137.5h0M291.2 124.1h0M278.4 133.1h0M258.5 180.2h0M251.4 198.8h0M247.3 175h0M302.5 121.7h0M278.3 129.1h0M252.4 197.8h0M234.5 149.6h0M264 142.3h0" stroke="#f8b8cc" stroke-width="3.2" stroke-linecap="round" stroke-opacity="0.9"/>
<path d="M282.4 119h0M291.3 122.5h0M283.3 120.8h0M317.4 96.7h0M281.1 139.5h0M282.7 114.8h0M282.9 119.1h0M297.8 128.8h0M304.7 119.8h0M261.3 166.6h0M283.4 119.2h0M300.8 129.1h0M302.2 120.4h0M281.8 112.7h0M285.2 133.4h0M274.4 119h0M286.9 140.3h0M277.1 119.6h0M243.4 178.7h0M249.5 195.5h0M286.6 124.8h0M281.5 121.9h0" stroke="#9eeedd" stroke-width="3.2" stroke-linecap="round" stroke-opacity="0.9"/>
<path d="M256.8 170.8h0M276.2 145.3h0M258.3 171.1h0M273.2 154.2h0M243.4 173.1h0M263.9 139.3h0M277.5 151.5h0M293 178.2h0M252.9 178h0M280.3 144.3h0M242.7 195.1h0M275.9 153.3h0M263.2 129.5h0M265.3 155.9h0M295.1 105.7h0M253.9 190.5h0M248.6 157.2h0M240.6 203.8h0M281.4 150.3h0M272.5 134.6h0M239.3 157.2h0M297.4 174.3h0M264 122.9h0M293.1 158.7h0M291.8 179.5h0M243.2 144.7h0M280.9 161.8h0M288.3 163.4h0M265.4 135h0M287.3 181.5h0M252.1 138.9h0M305.4 117.1h0M295.4 124.4h0M283.8 165.6h0M292.2 177.6h0M254.3 184.4h0M228.5 144.1h0M275.1 123.7h0M291.1 165.4h0M278.6 129h0M285.2 175h0M247.5 167.7h0M260.6 127.9h0M256.1 138.9h0M240.3 153.9h0M293.3 122.8h0M298.6 99.2h0M247.3 124.7h0M273.2 115.5h0M287.9 175.2h0" stroke="#e83a6e" stroke-width="3.2" stroke-linecap="round" stroke-opacity="0.9"/>
<path d="M354.8 54.2h0M259.2 121.5h0M307.6 108.1h0M268 144.2h0M331.8 89.3h0M233.4 151.5h0M353 55.3h0M330.6 96.4h0M246.5 196.8h0M239.6 157.3h0M266.3 128.9h0M246.8 193.5h0M242.9 194.3h0M238.1 197.3h0M249.1 128h0M241.4 178.9h0M242 182h0M246 203.2h0M247.8 189.7h0M273.4 137.3h0M276.9 148.4h0M245.5 177.8h0M275.1 127.7h0M251.2 198.8h0M236 187.9h0" stroke="#a8385a" stroke-width="3.2" stroke-linecap="round" stroke-opacity="0.9"/>
<path d="M245.8 178.8h0M346.9 80.7h0M327.5 83.8h0M242.3 181.2h0M272.8 164.3h0M266.4 129.6h0M275 128.9h0M304.5 116.5h0M268.8 161.1h0M339.1 81.6h0M278.9 132h0M293.5 130.9h0M279.5 145.5h0M237.9 207.7h0M245.8 139.8h0M244.1 175.9h0M280.9 132.9h0M273.7 129.6h0M246.1 153.1h0M305.3 100h0M296.7 101.2h0M244.2 166.5h0M260.2 131.1h0" stroke="#38c8d8" stroke-width="3.2" stroke-linecap="round" stroke-opacity="0.9"/>
<path d="M342.9 69.3h0M336.8 81.9h0M307.6 98.3h0M326.6 95.7h0M309.3 82.1h0M348.3 57.9h0M353.1 61.7h0M315.1 73.7h0M336.6 62h0M314.9 101.5h0M341.3 68.9h0M335.7 56.2h0M326.5 61.8h0M348.8 77.7h0M342.2 69.5h0M345.1 80.6h0M326.9 86.8h0M322.6 75.2h0M324.2 82.7h0M348 59.8h0M312.5 63h0M332.5 71.5h0M333.6 88.4h0M347.7 63.5h0M322.3 88.7h0M304.8 103h0M322.7 79.2h0M337.8 85.7h0M310.9 83.9h0M328.8 78.5h0M322.5 76.6h0M331.2 58.8h0M324.5 65.7h0M327.3 52.3h0M306.2 90.6h0M313.9 72.8h0M318.5 74.5h0M310.1 90.6h0M335.8 54.7h0M314.1 79.2h0M335.7 60.2h0M346 81h0M326.7 55.2h0M329.4 52.7h0M317.3 90.7h0M304.3 97.2h0M317 87.7h0M355.6 51.5h0M349.7 61.2h0M349.1 67.3h0M350.3 64.6h0M318.9 88.6h0M318.8 73.9h0M312.2 77.2h0M300.1 100.1h0M311.4 87.2h0M345.8 81.9h0M331.5 80.1h0M318.9 72.5h0M317.9 83.5h0M313.4 91.3h0M318.1 87.1h0M309.9 75.7h0M349.1 62.6h0M321.4 70.2h0M319.8 93h0M328.8 66.6h0" stroke="#5bbf86" stroke-width="3.2" stroke-linecap="round" stroke-opacity="0.9"/>
<path d="M246.1 159.4h0M244.4 130.9h0M257.3 178.3h0M275.3 115.6h0M247.1 165h0M254.9 158.8h0M264.2 150.7h0M242.3 155.3h0M248.5 166.8h0M277 152.7h0M273.1 152.4h0M242.7 168.3h0M231 149h0M271.7 139.2h0M260.6 186.2h0M266.6 148.5h0M251.7 140.2h0M251.8 169.2h0M252.6 181.5h0M251.8 186.5h0M271.5 173.5h0M289.9 102.7h0M191.6 126.1h0M252.1 186.3h0M267.3 140.8h0M252.8 134.7h0M264 139.7h0M265.2 157.9h0M260.7 152.8h0M263.7 161.4h0M305.5 111.3h0M275.7 141.7h0M267.9 151.9h0M273.3 165.3h0M258.1 151.4h0M266.1 170.8h0M292.8 135.2h0M270.5 165.9h0M246.6 175.4h0M250.5 144.6h0M275.4 164.6h0M266.4 116.2h0M282.5 142.7h0M251.8 174.8h0M254.3 172.8h0M290.8 104h0M276.7 148.9h0M286.1 161.8h0M238.5 173.3h0M241.6 148.8h0M252.9 127.8h0M249.9 187.5h0M271.1 167.6h0M284.6 156.9h0M260.9 140.8h0M286.5 110.3h0M257.6 146.1h0M253.6 163.8h0M252.2 182.4h0M276.4 155.8h0" stroke="#e37ca0" stroke-width="3.2" stroke-linecap="round" stroke-opacity="0.9"/>
<path d="M278.6 120.5h0M284.2 164.3h0M241.4 178.9h0M300.9 105.3h0M244.1 184.6h0M243.3 178h0M291.8 160.4h0M227.1 144.3h0M256.1 122.2h0M294.6 133.8h0M280.5 126.5h0M280.8 155.7h0M280.1 150.7h0M283.6 159.6h0M281 176.7h0M253.3 123.4h0M236.6 169.4h0M235.2 152.9h0M293.4 101.4h0M240.4 154h0M292.1 170.3h0M241.9 158.5h0M248.7 147.7h0M272.4 173.2h0M275.9 132.5h0M248.6 187.7h0M238.4 154.3h0M243.5 158.1h0M284.3 167.9h0M191.8 124.1h0M192.6 127.5h0M245.9 141.8h0M244.3 173.7h0M297.5 103.9h0M239.4 194.7h0M243 200h0M292.1 134.7h0M294.4 175.5h0M259.4 129h0M268.1 154.1h0M295.5 162.8h0M284.6 164.2h0M255.7 131.9h0M297.5 102.3h0M265.9 126.3h0M267 172.8h0M247.7 177.6h0M265.7 119h0M282.4 150.6h0M245.1 153.7h0M282.9 169.7h0M282.9 146.8h0M241.5 161.2h0" stroke="#e83a6e" stroke-width="3.2" stroke-linecap="round" stroke-opacity="0.9"/>
<path d="M279.4 154.3h0M246.7 138.8h0M256.7 134.3h0M275.8 165.2h0M302.1 125.6h0M298.9 122.6h0M240.2 157.7h0M267.1 165.3h0M255.2 154.4h0M296.6 106h0M258.3 177.6h0M284.5 136.3h0M308.5 112.1h0M247.8 190.2h0M286.2 134.7h0M269 176.7h0M269 135.8h0M235.6 201.5h0M253.2 132.1h0M262.8 128.3h0M287.2 129.6h0M255.7 189.9h0M285 141.7h0M271.6 157.3h0M264.1 152.9h0M286.8 162.6h0M267.7 115.4h0M270 125.3h0M267 160.1h0M264.2 167.9h0M251.5 183.3h0M253.6 172.3h0M275.5 129.6h0M256.2 177.6h0M272.6 131.8h0M259.8 123h0M270.8 159.7h0M238.8 158.7h0M259.9 179h0M257.5 127.6h0M267.6 131.9h0M264.7 176.6h0" stroke="#f8b8cc" stroke-width="3.2" stroke-linecap="round" stroke-opacity="0.9"/>
<path d="M243.3 162.3h0M241.9 150h0M281.6 126h0M279.4 126.8h0M286.4 119.2h0M305.2 120.1h0M240.7 150.7h0M290.3 131.9h0M263.2 128.9h0M304.8 121.7h0M240.7 196h0M244.7 200.9h0M280.1 131.2h0M277.5 119.5h0M278.3 114.3h0M284.7 135.6h0M344.6 82.1h0" stroke="#9eeedd" stroke-width="3.2" stroke-linecap="round" stroke-opacity="0.9"/>
<path d="M336.6 48.7h0M259.9 134.9h0M268.6 131.7h0M237.9 158.1h0M313.9 92.8h0M243.2 144.3h0M269.4 132.6h0M244.2 186h0M237 170.5h0M235.9 189h0M278.4 161.6h0M248.6 133.4h0M248.5 196.4h0M246.3 129.9h0M284.7 141.2h0M257.2 127.1h0M264.6 158.5h0M307.7 86.2h0M247.2 194.8h0M311.5 97.7h0" stroke="#38c8d8" stroke-width="3.2" stroke-linecap="round" stroke-opacity="0.9"/>
<path d="M251.7 169.9h0M240.1 157.9h0M268.4 111.7h0M335.8 86.1h0M275.4 159.9h0M312.4 88.1h0M241.8 153.3h0M255.7 124.6h0M238.4 151.4h0M236.8 167.1h0M233.3 145.2h0M230.2 146.7h0M354.6 66.2h0" stroke="#a8385a" stroke-width="3.2" stroke-linecap="round" stroke-opacity="0.9"/>
<path d="M309.2 94.7h0M312.5 85.9h0M274.8 131.5h0M303.8 100.3h0M245.6 203.3h0M253.2 195.6h0M235.2 155.6h0M253.5 192.6h0M276.9 126.3h0M284.6 134.2h0M269.2 143.6h0M252.2 152.9h0M241.3 213.4h0M237.4 150.8h0M258.7 183.3h0M245.1 170.4h0M289.3 125.2h0M290.3 125.8h0M267.6 114.9h0M241.4 158.4h0M244.4 184.6h0M316.8 88.3h0M278.9 161.7h0M307.6 108.2h0M274.7 131.7h0" stroke="#38c8d8" stroke-width="3.2" stroke-linecap="round" stroke-opacity="0.9"/>
<path d="M315.6 99.5h0M346.1 67.2h0M345.4 86h0M336.1 56.2h0M330.3 54h0M342.6 69.6h0M353.8 54h0M346.3 65.9h0M310.6 83.1h0M334.2 87.6h0M311.8 83.7h0M344.2 64.4h0M328.1 78.7h0M303.2 99h0M345.1 69.4h0M331.2 87.2h0M317.6 81.7h0M315.5 75.9h0M320.8 81.1h0M328.2 78.5h0M342.3 84h0M327.4 62.3h0M314.7 79.3h0M328 55.4h0M308.3 91.9h0M335.2 50.9h0M319.3 76.6h0M316 72.2h0M303.5 49h0M311.1 85.2h0M337.9 85.3h0M352.1 67.3h0M336.2 54.2h0M303 46.5h0M305 101.8h0M320.3 91.9h0M327.4 74.5h0M335.3 84.7h0M323.6 73.6h0M344.7 80.4h0M322.7 74.2h0M340.9 81.6h0M320.7 78.7h0M330.7 63.7h0M332.8 96.8h0M309.1 98.6h0M310.9 83.7h0M305.9 104.6h0M303.4 102.6h0M342.5 77.4h0M342.3 66h0M313.7 78h0M341 77.1h0M324.8 61h0M351.7 56.5h0M306.3 84.9h0M319.9 86.2h0M309 73.3h0M323 77.5h0M329.7 50.5h0M349.7 58.4h0M340.5 71.3h0M330.4 51.2h0M339.7 84.7h0M330.3 54.1h0M266 127.2h0M346.9 83.9h0M335.4 85.5h0M316.8 84.2h0M316.3 93.4h0M314.4 94.2h0M314.1 92.6h0M356.5 53.4h0M310 78.2h0M349.2 67.5h0" stroke="#5bbf86" stroke-width="3.2" stroke-linecap="round" stroke-opacity="0.9"/>
<path d="M262.6 178.5h0M288.4 130.5h0M267.7 127h0M228.1 142.6h0M273 153.7h0M252 142.3h0M290.4 107.9h0M266.8 121.8h0M285.8 166.2h0M285.5 162.6h0M255.8 190.1h0M287.3 155.8h0M275.6 119.1h0M285.3 116h0M275.5 157.6h0M250.4 177.3h0M276.9 155.6h0M265.1 129.4h0M283.9 119.3h0M258.5 168.5h0M264.1 155.2h0M240.7 186.2h0M229.6 144.9h0M280.3 160.1h0M237.1 151.5h0M241.3 144.1h0" stroke="#f8b8cc" stroke-width="3.2" stroke-linecap="round" stroke-opacity="0.9"/>
<path d="M255 123.7h0M248.5 204.2h0M285.6 160.9h0M291.4 162.2h0M281.2 176.1h0M240.2 170.6h0M288.4 135.5h0M251.3 197.6h0M288.5 181.6h0M285 155.4h0M242.4 171.3h0M292.4 174.7h0M281.5 164.8h0M270.6 120.8h0M282.7 164.1h0M241.6 190.8h0M293.8 129.5h0M286.8 177h0M262.7 126h0M247 191.4h0M252.9 135.4h0M253.5 183.3h0M268.9 173h0M244.5 206.4h0M280.8 151.3h0M286.7 113.6h0M282.7 164.6h0M282.5 116.6h0M275 171.2h0M255.1 163.7h0M283.6 160.8h0M268.3 114.1h0M294.2 179.7h0M271.5 146.4h0M285.2 169.1h0M281.1 169.2h0M306.3 107.8h0M288.4 164.2h0M305.9 111.9h0" stroke="#e83a6e" stroke-width="3.2" stroke-linecap="round" stroke-opacity="0.9"/>
<path d="M249.7 184.8h0M253.3 136.3h0M285.9 178.2h0M271.8 156.3h0M272.1 142.6h0M266.2 170.2h0M246.2 180.1h0M264.2 146.5h0M268.5 162.4h0M255.5 146.2h0M272.1 116.1h0M251.6 147.6h0M277.8 152.9h0M279 160.7h0M274 155.4h0M251.2 190.3h0M252.4 135.4h0M247.1 191.9h0M255.8 150.3h0M257.9 167.2h0M263.3 159.7h0M263.8 139.1h0M248.8 147.5h0M251.5 182.7h0M279 155h0M265.8 139.7h0M269.2 145.8h0M257.3 171.6h0M267.8 180.9h0M263.9 166.2h0M246.9 168.6h0M286.2 177.7h0M243.6 193.4h0M249.6 145.5h0M249.1 184.1h0M303.7 109.7h0M258.1 137.8h0M273.6 139h0M266.7 127.4h0M259.4 178.9h0M257.2 148.3h0M236 201h0M250.1 181.2h0M272.3 160.3h0M251.2 147.2h0M256.5 173.2h0M290.6 137.1h0M260.5 158.8h0M286.2 167.5h0M271.3 153.6h0M243.3 142.6h0M237.3 208.1h0M271.3 153.2h0M290.2 164h0M247 175.5h0M254.8 165.4h0M298.6 100.5h0M264.5 158h0M294 99.8h0M247.5 186.5h0M267.8 156.4h0M250.6 140h0M275.8 159.8h0M261.8 151.7h0M254.9 172.4h0M268.8 155.2h0M288 118.5h0M249.9 189.3h0M255.7 147.8h0M235.3 155.3h0M278.6 144.8h0M258.3 155h0M254 169.5h0M272.1 142.2h0" stroke="#e37ca0" stroke-width="3.2" stroke-linecap="round" stroke-opacity="0.9"/>
<path d="M251.8 199.6h0M269.4 146.4h0M267.9 140.3h0M240.1 182h0M252.7 162.5h0M264.9 117.7h0M239.3 199.6h0M280.5 129.5h0M254.7 122.6h0M249.7 192.3h0M239.5 192h0M262.7 146.3h0M250 138.8h0M269.7 161.9h0M275.5 119.5h0M249.1 129.8h0M328.7 56.1h0" stroke="#a8385a" stroke-width="3.2" stroke-linecap="round" stroke-opacity="0.9"/>
<path d="M286.3 139.3h0M280.6 124.9h0M276.1 127h0M336.3 68.8h0M348.9 75.1h0M258 164.4h0M288.8 131h0M282.4 129.4h0M238.9 193.3h0M300.8 122h0M309.4 88.7h0M290.8 121.9h0M296.2 119h0M263.5 138.5h0M320.7 92.5h0M276.6 138.9h0" stroke="#9eeedd" stroke-width="3.2" stroke-linecap="round" stroke-opacity="0.9"/>
<path d="M267.3 140.7h0M257.2 175.2h0M249.3 165.6h0M248 174.4h0M242.2 182.5h0M300.1 124.6h0M235.3 177.6h0M253.3 177.8h0M240.1 152.5h0M267.6 166.9h0M248.6 202.7h0M290.3 101.3h0M250.1 180.1h0M239 181.1h0M272.8 171.3h0M250.6 195.4h0M269.9 145.9h0M246.2 180.2h0M243.2 151.4h0M257.2 144.1h0M235.6 149.9h0M251.5 190.6h0M256.6 149.2h0M268.1 164.3h0M269.4 138.6h0M267 152h0M253.1 162.6h0M270.4 159.3h0M272.1 175.9h0M275.1 152.5h0M278 133.4h0M267.7 143.2h0M270.2 116.6h0M260.1 138.6h0M272.6 132.8h0M254.2 142.3h0M267 176.4h0M190.3 127.6h0M261.5 163.2h0M236 153.5h0M274.9 124.9h0M265.4 130.8h0M251.7 152.6h0M267.7 171.7h0M234.7 146.5h0M263.2 167h0M266.5 139.4h0M247.1 140.9h0M273.3 160.3h0M255.3 179.1h0M242.7 179.2h0M253.5 153.5h0M234.6 152.6h0" stroke="#e37ca0" stroke-width="3.2" stroke-linecap="round" stroke-opacity="0.9"/>
<path d="M263.8 137.3h0M240.5 169.9h0M280.9 155.1h0M284.3 179.6h0M275.7 132.6h0M290.4 169.1h0M271.1 166.2h0M269.5 130.6h0M258.3 169h0M293.6 179.3h0M286.8 165.1h0M244.5 210.1h0M281.1 167.2h0M241.5 167.3h0M289.4 164.5h0M237.1 165.5h0M264.2 155.3h0M281.1 169.1h0M267 177.8h0M286.4 156.2h0M239.1 171.9h0M245.9 133.7h0M253.8 185.1h0M281.2 160.2h0M279.8 146.1h0M280.6 159.7h0M275.5 113.8h0M287 177.8h0M307.5 114.6h0M241.5 179.1h0M278.8 128h0M297.8 132.5h0M249.4 148h0M253.5 175.3h0M235.8 176.8h0M283.4 120.4h0M266.3 114.3h0M293.7 167.7h0M239.1 213h0M282 177.4h0M239.6 156.1h0M289.4 174.6h0M274.5 170.2h0M238.3 155.6h0M287.6 174.6h0M239.6 152.8h0M301.6 115.9h0M287.2 157.9h0M263.9 124.5h0M291.8 159.2h0M256 139.6h0M266 123.9h0" stroke="#e83a6e" stroke-width="3.2" stroke-linecap="round" stroke-opacity="0.9"/>
<path d="M329.3 95.7h0M335.2 76h0M331.6 67.5h0M326.8 82.9h0M309.3 84.3h0M252.9 132.8h0M322.6 70.6h0M335.9 71.6h0M323 90.9h0M351.1 69h0M316.5 74h0M330.8 61.2h0M334.7 62.7h0M356.6 50.9h0M303.8 95.1h0M343.1 84.8h0M323.8 83.1h0M312.3 66h0M314.8 84.1h0M325.8 63.5h0M340.2 77.1h0M311.1 105.1h0M333.6 72.2h0M318.5 74.1h0M308.9 88h0M320.7 80.7h0M354.8 66.3h0M336.5 74h0M330.4 68.7h0M354.2 71.5h0M331.9 92.5h0M354 68.4h0M327.8 85.7h0M311.2 85.1h0M332.7 67.6h0M326.2 74.9h0M355.1 55.7h0M311.4 90.9h0M332.8 50.1h0M315.8 72.3h0M332.4 73.9h0M250.7 124h0M344.9 75.3h0M346.7 76h0M347.4 59.8h0M334.4 84.8h0M306.3 100.1h0M340.2 70.5h0M342.8 86.9h0M317 77.7h0M347.5 79.3h0M312.1 90h0M340.5 81h0M343 73.1h0M272.5 127.4h0M312.3 59h0M340.6 73.6h0M300.3 96h0M334.7 80.6h0M320.1 94.7h0M275.2 132.6h0M333.5 67h0M331.4 89.4h0M322.2 72.5h0M349.3 65.2h0M329.5 66h0M311.5 88.6h0M331.8 64.5h0M323.6 83.9h0" stroke="#5bbf86" stroke-width="3.2" stroke-linecap="round" stroke-opacity="0.9"/>
<path d="M285.9 137.8h0M288.8 120.2h0M293.6 119.6h0M289.6 130.6h0M254.1 192.6h0M305.5 121.1h0M282.8 130.4h0M280.4 115h0M277.4 117.8h0M245.7 210.5h0M311.4 73.9h0M288.4 121.2h0M343.9 75.5h0M285.9 123h0M259.5 162.1h0M290.8 135.1h0M329.5 61.7h0M281.7 121h0M251.4 200.6h0M270.2 143.4h0M294.6 134.5h0M238.2 189.7h0M249.8 184.3h0M253 145h0M291.8 126.2h0M277.8 120.8h0M277.8 140.2h0M316.4 97.2h0M291 134.7h0M294.2 125.3h0M238.8 183.5h0M244.6 193.7h0M299.6 120.1h0M267.5 131.2h0M233.9 154.6h0M291.7 133.8h0" stroke="#9eeedd" stroke-width="3.2" stroke-linecap="round" stroke-opacity="0.9"/>
<path d="M302 95h0M245.5 144h0M281.6 125.5h0M346.2 86.9h0M312.7 74h0M264.7 142.8h0M337.2 76.3h0M263.3 165.6h0M242.5 168.4h0M246.8 168h0M302.1 94.1h0M239.5 211h0M243.7 178.1h0M354.8 52.2h0M246.6 147.1h0M300.3 106.3h0M338.5 74.5h0M252.4 179.8h0M241.5 155.7h0M245.7 144.3h0M244.1 172.8h0M243.4 180.9h0M348.4 84.4h0M289 126.5h0" stroke="#38c8d8" stroke-width="3.2" stroke-linecap="round" stroke-opacity="0.9"/>
<path d="M244 141.2h0M267.7 173.5h0M337.5 71.4h0M257.7 180.4h0M271 123.2h0M244.4 147.1h0M244.3 184.2h0M308.5 93.2h0M233.7 147.9h0M238.1 209.1h0M242.9 186.3h0M355.8 50.7h0M351.7 56.1h0M299.9 102.5h0M238.3 167.3h0M244.7 164.5h0M280.1 137.1h0" stroke="#a8385a" stroke-width="3.2" stroke-linecap="round" stroke-opacity="0.9"/>
<path d="M271.5 149.8h0M279.7 150.8h0M281 136.9h0M305.8 116h0M249.7 126.1h0M279.3 155.1h0M265 162.2h0M254.8 185.7h0M260.9 170.1h0M240.8 198.4h0M237.4 188.2h0M310.6 109.3h0M252.3 158.9h0M271.9 141.9h0M286 108.4h0M256.4 163.2h0M278.9 132.7h0M269.8 141.2h0M261.5 161.1h0M275.1 144.6h0M278.7 153.4h0M260.8 175.9h0" stroke="#f8b8cc" stroke-width="3.2" stroke-linecap="round" stroke-opacity="0.9"/>
<rect x="194.5" y="45.1" width="36" height="61.2" fill="#fff" stroke="#c8c8c8" stroke-width="0.6" rx="8"/>
<path d="M199.8 50.8h0" stroke="#5bbf86" stroke-width="2.6" stroke-linecap="round"/>
<text x="202.8" y="53.5" font-size="7.6">HC33</text>
<path d="M199.8 59.1h0" stroke="#9eeedd" stroke-width="2.6" stroke-linecap="round"/>
<text x="202.8" y="61.8" font-size="7.6">HC27</text>
<path d="M199.8 67.4h0" stroke="#38c8d8" stroke-width="2.6" stroke-linecap="round"/>
<text x="202.8" y="70.1" font-size="7.6">HC36</text>
<path d="M199.8 75.7h0" stroke="#a8385a" stroke-width="2.6" stroke-linecap="round"/>
<text x="202.8" y="78.4" font-size="7.6">Cov05</text>
<path d="M199.8 84h0" stroke="#e83a6e" stroke-width="2.6" stroke-linecap="round"/>
<text x="202.8" y="86.7" font-size="7.6">Cov06</text>
<path d="M199.8 92.3h0" stroke="#e37ca0" stroke-width="2.6" stroke-linecap="round"/>
<text x="202.8" y="95" font-size="7.6">Cov15</text>
<path d="M199.8 100.6h0" stroke="#f8b8cc" stroke-width="2.6" stroke-linecap="round"/>
<text x="202.8" y="103.3" font-size="7.6">Cov16</text>
<path d="M239.8 311.7h0M208.1 325.6h0M216.9 319.8h0M207.9 328.7h0M262.2 281.2h0M246.1 291.1h0M216.8 323.7h0M212.8 371.6h0M229.1 324.7h0M227.3 327h0M223.5 345h0M255.9 286h0M222.3 328.4h0M226.3 321.5h0M265.1 281.8h0M231.2 333.4h0M202.7 382.1h0M211.6 371.4h0M224.7 318.8h0M266.2 276.3h0M202.2 370.3h0M202.5 341.2h0M246 292.6h0M208.4 334.1h0M207.2 340.3h0M231 336.6h0M221.2 351.2h0M219.6 325.5h0M230.2 325.9h0M219.2 364.8h0M204.7 378.7h0M240.7 296.3h0M265.7 286h0M225.8 358.5h0M238 312.8h0M241.1 290.2h0M216.1 337.4h0M206.3 339h0M245.5 308h0M205.1 378.2h0M227.3 349.6h0M203.5 376.1h0M204.7 347.7h0M220.8 331.9h0M242.8 292.3h0M203.2 378.4h0M237.1 311.6h0M246 306.4h0M208.5 347.4h0M211.8 335h0M233.5 362h0M174.1 328.4h0M253.7 288.3h0M203.3 373.7h0M216.4 362.9h0M252.6 285.9h0M233.5 324.1h0M253.9 286h0M218.7 358.3h0M212.1 330.3h0M199.6 382.8h0M212.9 335.8h0M241.6 307.7h0M205.6 327h0M221.8 326.1h0M223 340.9h0M250.9 296.8h0M221 333.7h0M237.3 274.1h0M213.3 334h0M230.8 324.9h0M235.4 326.1h0M249.9 307h0M203.2 366.3h0M209.1 365.6h0M232.1 326.4h0M230.9 359.9h0M220.2 358.8h0M230.9 351.3h0M229.2 356.5h0M173.2 329.1h0M260.1 301.1h0M242.1 305.8h0M239.4 313.9h0M200.6 349.2h0M217.9 353h0M230.2 359.1h0M253.8 298.4h0M209.4 370.7h0M248.8 299.6h0M222 348.9h0M236.1 307.4h0M216.9 359.9h0M225.7 320.2h0M208.8 334.3h0M196.7 345.3h0M207 347h0M212.5 345.7h0M216.2 367.2h0M203.6 350h0M215.4 329.9h0M230.7 329.1h0M219.1 331.8h0M202.4 380.9h0M243.2 298.2h0M205.7 328.4h0M211.7 333.2h0M210.3 326.1h0M207.3 339.9h0M263.8 289.8h0M211.3 348.1h0M220.2 324.7h0M229.3 310h0M243 306.5h0M201.2 364.4h0M237 309h0M208.5 350h0M207.1 336h0M212.6 348.9h0M213.4 337.5h0M239.6 304.1h0M263.5 284.9h0M209.1 364.9h0M202.4 346h0M238 321.2h0M206.7 328.7h0M211.2 361.6h0M242.7 294.2h0M232.2 354.9h0M174.6 328.9h0M222.8 345.2h0M221.2 319.7h0M238.8 303.5h0M206.6 383.8h0M226.7 321h0M209.1 337.2h0M201.4 380.6h0M223.7 360.8h0M200 379.1h0M229.5 351.3h0M238.2 315.4h0M209.2 349.8h0M219.6 333.5h0M200.2 384.9h0M240.6 307.4h0M203.1 368.7h0M259.3 296h0M219.9 358.3h0M226.9 316.9h0M207.2 357.5h0M253.1 290.5h0M206.1 331.8h0M243.6 289.9h0M218.4 328.2h0M215.6 349.3h0M212.2 346.8h0M213.9 354.3h0M211.6 330.2h0M201 352h0M224.3 358.5h0M224.7 320.5h0M214 344.2h0M204.3 347.2h0M236.9 303.3h0M235.5 329h0M260.8 289.7h0M227.4 326.6h0M256.6 297h0M236.4 326.6h0M235.7 305.9h0M209.7 366.7h0M202.5 378.5h0M232.5 327.1h0M241 307.8h0M218.5 363.1h0M253.8 275.8h0M204.6 351.8h0M253.2 285.2h0M211.3 353.9h0M257.4 290.6h0M255.6 298.9h0M200.8 352.7h0M221.6 356.2h0M214.4 325.9h0M207.4 377.1h0M262.5 288.2h0M211.9 332.3h0M207.1 380.5h0M204.4 350.2h0M221.7 338.3h0M231 360.2h0M209.6 325.3h0M207.4 369.2h0M199.8 364.2h0M226.9 349h0M204.6 378.7h0M254.8 299.2h0M249.9 285.6h0M222.7 360.4h0M239.2 311.1h0" stroke="#ffe9a4" stroke-width="2.8" stroke-linecap="round"/>
<path d="M224.9 353.7h0M216.7 367.5h0M244.7 302.4h0M208.4 326.6h0M216.1 364.2h0M225.2 361.9h0M252.4 288.9h0M206.3 337.9h0M253.2 278.5h0M239.4 314.5h0M213.8 355.1h0M218.1 366.4h0M260 284.3h0M211 325h0" stroke="#e2383c" stroke-width="2.8" stroke-linecap="round"/>
<path d="M202.9 377.6h0M204.2 342.1h0M201.6 350.5h0M202.1 361.8h0M226.9 340h0M217 352.2h0M199.8 348h0M202.2 383.8h0M223.3 337.6h0M209.4 373.4h0M223.8 340.3h0M209.9 355.8h0M231.2 356.9h0M213.9 360.7h0M209.7 374.4h0M212.5 361h0M212.8 339.5h0M232.1 358.5h0M203.7 353.3h0M205.3 338.8h0M209.4 343h0M211.7 358.7h0M207.9 366.1h0M228.1 360.4h0M201.6 350h0M223 343.3h0M233 365.4h0M228.8 337.5h0M224 331.8h0M216.7 362.9h0M200.8 381.9h0M201.1 363h0M221.4 358h0M206.3 380.7h0M210 358.8h0" stroke="#7a0a2e" stroke-width="2.8" stroke-linecap="round"/>
<path d="M223.4 341.6h0M221.4 332.9h0M241.6 308.3h0M220.4 324.1h0M223.1 344.8h0M214.2 354.5h0M202.5 383.8h0M215.9 335h0M224.8 323.5h0M224.4 333.5h0" stroke="#fcc46c" stroke-width="2.8" stroke-linecap="round"/>
<path d="M213.6 351.8h0M209.3 352.7h0" stroke="#f4803a" stroke-width="2.8" stroke-linecap="round"/>
<path d="M222.6 343h0M211.7 354h0M215 352.4h0M255.6 297.2h0M257 291h0M241.2 317h0M213 352h0M216.1 334.3h0M208.4 335.6h0M224.2 345.5h0M257.4 295.8h0M210.5 324.4h0M203.2 378.7h0M256.8 288.6h0M225.9 346.4h0M258.3 296.6h0M212.1 325.8h0M216.3 360.4h0M200.8 366.8h0M231.3 315.2h0M250.8 288.2h0M203.3 389.1h0M250.3 294.2h0M211.3 335.9h0M228 321.2h0M220.1 326.3h0M233.6 325.1h0M210.5 372.9h0M232.3 360.1h0M225.4 337h0M205.1 388.9h0M250.9 286.9h0M213.1 337.1h0M228 317.5h0M228.2 360.6h0M215 340.9h0M250.8 289.2h0M217.1 322.5h0M203.1 345.6h0M200.5 356.2h0M204.6 329.9h0M251.8 302.3h0M241.3 307.5h0M231.4 313h0M229.8 325.7h0M225.3 339.8h0M236.1 323.7h0M209.6 358.5h0M246.6 296.7h0M255.1 280.6h0M232.5 314.7h0M212.7 334.8h0M229.3 363.7h0M217.4 366.8h0M252.7 278.6h0M244.1 308.1h0M220.8 358.2h0M255.8 278.9h0M198.8 349h0M242.9 295.1h0M218.4 324.3h0M225.8 327.8h0M212.3 337.6h0M240 306.5h0M201.6 352.2h0M209.9 336.4h0M243.5 298.3h0M262.5 288.4h0M201.4 362.4h0M210.2 361.7h0M203.5 383.7h0M200.5 357.5h0M254.2 308.3h0M201.5 384.1h0M214.7 361.1h0M253.4 295.3h0M206.3 386.9h0M206.2 368.4h0M219.7 326.2h0M205.7 376.3h0M224.1 340.5h0M240.3 302.7h0M264.3 279.3h0M250.7 293h0M221.2 324h0M210.1 369.4h0M237.1 272.4h0M242.3 281.2h0M254 280.2h0M219.7 359.1h0M226.5 315.4h0M244.8 305h0M236.3 309.6h0M233.8 328.3h0M224.4 321.7h0M209 370.5h0M231 359.5h0M211.5 334.5h0M202.1 348.4h0M201.4 379.3h0M207.8 375.9h0M206 342.4h0M203.8 373.5h0M204.8 386.2h0M242.8 307.8h0M208 340.7h0M253.7 281.1h0M225.5 334.3h0M250.8 288.2h0M251.9 302.5h0M219 358.1h0M227.8 362.2h0M229.1 313.2h0M237.2 313h0M237.7 307.8h0M238.6 301.5h0M202 376.2h0M203.8 347.6h0M241.7 307h0M205.1 348.9h0M211.7 339.8h0M238.8 320.6h0M242.1 306h0M259.6 287.1h0M238 310.4h0M212.5 337.6h0M254.9 287.2h0M216.1 360.1h0M204.7 339.8h0M228.8 354.7h0M200.7 345.2h0M212.7 338.9h0M255.5 286.5h0M221.9 320.1h0M202.1 348.7h0M264.9 277h0M200.1 384.3h0M216.6 321.7h0M251 276.2h0M238.9 313.2h0M208.1 345h0M208.8 335.9h0M203.4 365.8h0M206.5 384.1h0M229.5 336.2h0M207.5 337.1h0M217.2 339.1h0M205.6 329.6h0M202.3 363.8h0M220.6 325.6h0M209.5 372.7h0M205.8 341.2h0M232 360.4h0M258.2 282.1h0M221.7 353.1h0M256.5 291.1h0M259.7 295.4h0M203 371.1h0M223.7 353.6h0M204.6 340.4h0M240.7 304.9h0M260.6 290.4h0M198.2 343.1h0M200.4 386.4h0M228.5 313.5h0M261.6 299.4h0M226.2 323.2h0M207.2 327.1h0M217.2 338.4h0M204.5 359.2h0M205.3 357.6h0M206.8 349.7h0M228.7 315.5h0M215.8 322.5h0M216.4 351.8h0M206.3 362.9h0M205.7 331.4h0M207.3 362.7h0M218.9 357h0M224 319h0M206.9 365.3h0M214.4 339.5h0M225.3 336.7h0M224.4 354.3h0M231.4 356.7h0M207.1 327h0M204.8 341.1h0M200.9 369.6h0M207.2 366.3h0M258.7 289.9h0M248.2 287h0M216.3 367.4h0M238 309.4h0M253 276.2h0M216.9 328.2h0M210.6 356.6h0M258.5 296.7h0M221.7 331.1h0M229.1 335h0M209.4 333.9h0M233.4 330.2h0M220.4 325.8h0M236.5 321.8h0M213.3 340.3h0M223.3 320.1h0M233.6 315h0M237 323h0M204.5 357.9h0M256 293.1h0M222.7 359.7h0M255.2 298h0M247.7 302.8h0M211.7 361.7h0M215.3 328.8h0M216.2 320.4h0M207.5 382.5h0" stroke="#ffe9a4" stroke-width="2.8" stroke-linecap="round"/>
<path d="M247 297.9h0M206 381.7h0M244.5 309.1h0M206.8 339.2h0M205.7 370.5h0M200.6 353.6h0M224.7 322.6h0M215.3 325.4h0M233.9 361h0M220.5 350.7h0M218.4 339.5h0M213.4 350.7h0M227.2 360.6h0M204.7 389.5h0M213.7 338.5h0M230.1 365.6h0M205.1 386.2h0M202.1 380.3h0M216.6 356.5h0M210.1 340.6h0M217.1 339.6h0M206.9 382.4h0M234 359.1h0" stroke="#7a0a2e" stroke-width="2.8" stroke-linecap="round"/>
<path d="M215.5 322.9h0M240.3 295h0M210.1 336.5h0M200 356h0M226.9 356.7h0M201.9 383.3h0M209.7 376.1h0M229 338.1h0M241.3 311h0" stroke="#fcc46c" stroke-width="2.8" stroke-linecap="round"/>
<path d="M226 352.4h0M231 326.7h0M209.8 372.8h0M222.4 344.1h0M253.2 275.1h0M228.8 359.9h0M212.1 346h0M215.7 331.2h0M262.2 290.8h0" stroke="#e2383c" stroke-width="2.8" stroke-linecap="round"/>
<path d="M211.9 342.6h0M202.3 382.2h0M200 380.9h0M209.2 359.2h0" stroke="#f4803a" stroke-width="2.8" stroke-linecap="round"/>
<path d="M217.6 324.1h0M202.6 345.5h0M202.1 375h0M220.4 343.1h0M238.1 322.1h0M212.9 339.1h0M216 362.6h0M225.7 329.4h0M202.3 369h0M216.1 333.9h0M211 328.3h0M237.1 305.4h0M230.1 310.7h0M216.1 324.3h0M226.6 362.7h0M213.1 350.3h0M213.6 336h0M261.9 295.1h0M211.7 372.5h0M228.9 356.1h0M225.5 321.6h0M211.4 365.9h0M224.4 331.6h0M205.2 343.5h0M204 351.1h0M201.9 344.1h0M239.7 319.4h0M232.7 363.1h0M228.1 351.8h0M214.2 340.2h0M262.6 283.2h0M217.5 338.7h0M216.3 367.4h0M240.1 300.7h0M204.4 353.4h0M229.6 337.7h0M262.8 279.2h0M211.4 362.5h0M219.6 334.1h0M223.5 327.3h0M251.3 308.8h0M226.9 329.9h0M252.8 280.1h0M209.7 368.1h0M264 283.8h0M227.5 363h0M255.2 280.4h0M204.4 345h0M200.6 381.1h0M236.5 305.5h0M206.1 364h0M216.4 364.8h0M222.9 334.9h0M207.2 331.2h0M227.2 335.7h0M211.1 340.2h0M220.6 326.6h0M210.7 330.9h0M217.4 323.5h0M252.2 296.8h0M201.1 344.4h0M252.6 299.4h0M219.4 338.2h0M205.8 346.2h0M256 297.3h0M225.7 338.9h0M243.9 289.3h0M224.1 328.5h0M210.9 335.2h0M215.2 352.6h0M220 339.2h0M209 341.1h0M255.7 301.2h0M211.1 367.7h0M228.6 364.2h0M217.2 343.8h0M238.2 312.2h0M254.3 293.5h0M249.9 288.7h0M224.8 335.5h0M218.8 357.7h0M233.5 333.4h0M235.1 315.8h0M235.7 321.8h0M210.1 338.9h0M265 285.8h0M208.3 345h0M265.3 283.2h0M236.7 319.3h0M203.1 351.5h0M208.9 332.3h0M213.7 340.8h0M205.6 349.8h0M220.1 328h0M199.5 365.5h0M246.5 292.8h0M196.8 343.1h0M209.6 371.3h0M225.1 324.8h0M206.4 342.5h0M253.3 282.8h0M225.2 363.8h0M238.3 306.6h0M203.4 344.1h0M207.2 386.1h0M253 281.2h0M261.1 287.5h0M218.2 343.4h0M241.5 292h0M227.4 320.4h0M239.6 310.4h0M208.3 345.1h0M237.2 321.8h0M199.3 379.3h0M219.6 338.9h0M223.6 360.5h0M205.9 337.2h0M207.8 352.1h0M220.9 345.3h0M212.8 336.6h0M213.8 350.1h0M207.6 369.3h0M206.1 376.4h0M251.7 303.1h0M213.8 345.6h0M204.1 351.5h0M228.5 365.4h0M231.6 354.2h0M203.5 366.9h0M239.5 304h0M209.8 339.4h0M242.4 288.6h0M256.1 294.9h0M202.2 383.3h0M213.3 337.4h0M205 334.7h0M203.5 368.6h0M209.2 350.4h0M206.2 385.9h0M200.8 358.9h0M241.5 304.7h0M211.3 325h0M210.9 334h0M218.5 325.3h0M222.8 340h0M206.3 352.9h0M251.3 300.3h0M215.6 340.6h0M213.3 338h0M210.7 332.3h0M255.3 283.1h0M218.9 356.9h0M219.8 320.8h0M210 359.3h0M264 292.2h0M257 295.6h0M207.7 371.5h0M263.8 280.8h0M254.6 286.3h0M208.5 361.2h0M220.2 342.5h0M174.2 329.1h0M263.6 293.5h0M199.7 376.6h0M223.4 342.5h0M246.4 303h0M251 299.4h0M260.4 289.3h0M239 305.7h0M233.7 358.3h0M235.2 332.6h0M206.4 384.8h0M204.6 383.6h0M223.7 344.2h0M263.8 286.4h0M230.4 366h0M243.2 297.1h0M253.2 275h0M210 363.8h0M225.5 353.6h0M224.8 351h0M227.8 315.5h0M200.1 366.8h0M201.4 382.5h0M213.4 367.2h0M205.6 341.2h0M229.7 351h0M206.4 383.4h0M201.6 349.6h0M208.2 360.2h0M216.7 322.6h0M242.7 300.4h0M218 342.9h0M222.8 343.3h0M235.7 331.3h0M217.5 335h0M232 331.3h0M200.1 373.5h0M263.2 296.8h0M251.4 308.8h0M221.8 343.2h0M235 327.8h0M247.5 300.9h0M203.1 381.8h0M208.9 350.6h0M173.4 328.3h0M243.7 306.8h0M229.7 356h0M219.8 339.2h0M258.1 301.4h0M213.8 344h0M221 339.4h0M213.7 338h0M262.4 287.9h0M223.6 327.2h0M211.3 328.6h0M232.3 330.2h0M202.8 382.2h0" stroke="#ffe9a4" stroke-width="2.8" stroke-linecap="round"/>
<path d="M253.3 299.3h0M211.5 359.1h0M203 372.8h0M221 343.9h0M253.7 292.4h0M213.9 337.5h0M223.2 326.1h0M233.1 331.4h0M201.4 386.2h0M261.6 286.8h0M202.2 378h0" stroke="#fcc46c" stroke-width="2.8" stroke-linecap="round"/>
<path d="M205.5 350.8h0M210.4 362.3h0M198.3 345.9h0M207.2 383.6h0M201 387.2h0M208.8 343.2h0M214.6 363.5h0M214.2 361.7h0M203.4 348.5h0M215.1 331.8h0M224.5 356.7h0M228.1 339.6h0M204.3 365.9h0M205 360.9h0M217.3 347.1h0M225.6 333.5h0M211.5 337.4h0M221.4 359.5h0M222.6 351h0" stroke="#7a0a2e" stroke-width="2.8" stroke-linecap="round"/>
<path d="M255.4 287.1h0M208.6 372.7h0M219.2 329.4h0M222.4 347h0M214.4 368.3h0M206.7 351h0" stroke="#e2383c" stroke-width="2.8" stroke-linecap="round"/>
<path d="M221.2 361.9h0M204.7 377.2h0M224.1 355.7h0M205.7 332.2h0M200.4 349.7h0M220.5 361.2h0M210.2 328.1h0" stroke="#f4803a" stroke-width="2.8" stroke-linecap="round"/>
<path d="M225 343.5h0M249 286.9h0M264.4 288.4h0M256.3 283.1h0M237.6 321.9h0M260.8 282.4h0M211.6 330h0M263.2 281.1h0M211 362.9h0M223.8 347.4h0M225.2 340.5h0M226.7 319.3h0M243.7 310h0" stroke="#e2383c" stroke-width="2.8" stroke-linecap="round"/>
<path d="M242.4 284h0M265.5 287.7h0M208.6 330.7h0M247.4 295.7h0M264.3 288.8h0M213.9 369.6h0M215.8 359.5h0M208 361.1h0" stroke="#fcc46c" stroke-width="2.8" stroke-linecap="round"/>
<path d="M206.3 335.5h0M229.8 354.5h0M205.6 348.8h0M206.9 372h0M229.3 367.8h0M230.5 365h0M227.5 349.4h0M241.8 296.9h0M202.7 374h0M202.8 377.3h0M205.8 345.8h0M201.9 375.2h0M211.6 373.1h0M197.8 343.2h0M209.5 346h0M221.9 341.8h0M219.7 352.5h0M207.4 359.7h0M231.6 350.8h0M213.2 327.8h0M229 363.2h0M231.3 358.9h0M228.2 365.3h0" stroke="#7a0a2e" stroke-width="2.8" stroke-linecap="round"/>
<path d="M239.8 311.1h0M217 362.1h0M250.6 275.6h0M240.2 299.1h0M226.1 319.2h0M212 361.4h0M257.3 283.1h0M211.1 362.1h0M205.1 344.3h0M218.6 339.2h0M200.8 348.2h0M209.8 369.7h0M210.3 344.3h0M231.2 352.8h0M243.1 296.5h0M215.6 331.7h0M245.3 305.5h0M227.6 367.2h0M213.8 338h0M226.1 327.4h0M202.6 365h0M196.7 340.3h0M200.6 372.1h0M231.3 325.1h0M221.3 344.4h0M226.3 338.8h0M255.1 280h0M226.6 357.7h0M216.5 321.9h0M229.7 310.4h0M254.8 275h0M242.9 305.8h0M211.9 340h0M247.9 295.1h0M205.8 381.6h0M220.6 341.7h0M240.8 311.2h0M255.9 301.9h0M228.1 367.3h0M225.9 328.4h0M218.4 352.1h0M261.8 295.6h0M199.6 381.2h0M226.7 318.1h0M229.3 349.3h0M205.2 376.2h0M196.4 343.5h0M216.5 325h0M224 357.1h0M229 330.7h0M213.2 338.1h0M232.8 329h0M251.9 308.9h0M242 306.3h0M202.2 368.2h0M206.5 385.8h0M222 328.4h0M219.9 341.1h0M254.2 285.2h0M210.8 359.3h0M205 350.5h0M249.6 303.1h0M245.4 302.6h0M210.1 338.1h0M224.6 332.6h0M219.2 349.6h0M233 354.4h0M259.5 301.2h0M256 291.2h0M206.6 387.5h0M224.5 341.7h0M214.3 325.4h0M244.7 295.9h0M197.8 341.4h0M218.6 324.9h0M176.1 328.4h0M258.9 299.8h0M229.6 364.3h0M238 319.3h0M203.7 378.9h0M216.9 358.5h0M266.4 278.9h0M254.2 279.2h0M203.1 349.6h0M221.1 347.2h0M227.2 336.8h0M266.9 277h0M235.7 327.8h0M207.8 381.4h0M250.4 292h0M227 353.9h0M209.8 370.3h0M231.4 336.6h0M208.8 334.5h0M204.4 383.4h0M233 312.6h0M213.2 343.9h0M233.7 358.5h0M200.4 344.9h0M237.7 311.8h0M220.2 326.8h0M199.9 380.4h0M200.9 365.8h0M252 305.6h0M239.6 312.4h0M244.7 305.4h0M223.3 346.2h0M256.7 281.4h0M200.7 373.8h0M216.6 356.9h0M240.4 308.7h0M235.6 322.9h0M215.4 347.4h0M210.5 365.9h0M209.9 361.1h0M219.2 358.1h0M222.2 340.3h0M246.2 293.3h0M214.2 340.6h0M229.3 321h0M251 306.2h0M206.8 368.8h0M228.9 330.2h0M230.9 328.1h0M205.9 365.6h0M242.1 295.5h0M214.3 347.6h0M195 341h0M250.1 285.1h0M227 323.8h0M256.7 300.5h0M226.9 335.1h0M206 363.2h0M205.5 333.3h0M205.4 355.7h0M202.2 364.5h0M199.8 369.8h0M201.8 385.1h0M221.9 359.1h0M220.5 323.7h0M210.6 340.9h0M241.1 311.3h0M244 290.9h0M202.1 360h0M206.7 344.1h0M258.1 284h0M231.6 354.4h0M227.9 322.1h0M220.8 344.2h0M226.2 321.6h0M221.3 330h0M221.1 336h0M211.4 336.3h0M209.7 374.7h0M206.1 381.1h0M204.5 344.2h0M218.6 323h0M245.7 307.4h0M224.3 325.5h0M225.5 362.5h0M250.4 305.2h0M259.9 297h0M204 381.3h0M201.8 359.5h0M219.4 333.5h0M203.1 350.3h0M255.8 300.3h0M215.8 365.9h0M199.1 344.4h0M248 301.2h0M227.4 361.3h0M225.6 357.9h0M260.3 298h0M209.5 360.1h0M209.2 359.5h0M262.7 289h0M222.1 320.2h0M226.4 354.1h0M229.1 325.1h0M219.7 336.8h0M202.6 349.6h0M264.6 288.6h0M238.7 305.3h0M213.8 339.9h0M204.9 336.2h0M202.3 364h0M207.3 331.4h0M252.2 290.2h0M215.1 366.7h0M249.8 279.2h0M212.8 344.4h0M238.6 307.5h0M238.4 299.6h0M226.7 323.2h0M229.1 328.8h0M250.6 296.8h0M239.2 306.4h0M249 284.1h0M217.3 353.6h0M208.6 344.3h0M213.8 343.9h0M202.6 366.3h0M208.4 371.5h0M204.5 353.6h0M204.2 368.7h0M204.7 376.8h0M209.2 375.6h0M232.6 359.3h0M256.5 286.1h0M236.1 307.1h0M224.1 355.6h0" stroke="#ffe9a4" stroke-width="2.8" stroke-linecap="round"/>
<path d="M218.1 356.2h0M209.2 371.9h0M206.2 359.6h0M221 321.6h0M215.3 362.8h0M210.5 360.1h0" stroke="#f4803a" stroke-width="2.8" stroke-linecap="round"/>
<path d="M232.5 361.8h0M239.9 294.7h0M225.6 321.1h0M215.7 326.4h0M217.4 351.3h0M252.1 303.2h0M246.9 307h0M213.9 344.5h0M206.8 331.6h0M227.1 350h0M256.6 299.2h0M212.1 363.9h0M227.5 366.3h0M212.8 324.6h0" stroke="#fcc46c" stroke-width="2.8" stroke-linecap="round"/>
<path d="M263.8 290.1h0M217.7 326.6h0M264.2 278.6h0M237.2 307.2h0M209.8 337.8h0M210 336.2h0M230.3 333.7h0M234.1 333h0M249.8 292.3h0M201.2 347.4h0M204.4 334.4h0M217.2 363.6h0M224 337.4h0M235.3 331h0M213.1 321.5h0M218.6 333.7h0M197.9 343.5h0M240.1 296.3h0M213.4 323.4h0M230 333.2h0M244.8 306.1h0M210.6 327.7h0M266 285.3h0M199.6 345.2h0M247.2 300.9h0M227 361h0M206.7 331.8h0M226.3 356.8h0M228.1 355.8h0M201.4 345.2h0M221.2 351.2h0M218.5 323.9h0M262.7 299.9h0M200.9 351h0M228.8 366.9h0M222.1 348.8h0M203 347.6h0M226 356.7h0M237.9 322.8h0M199.6 368.3h0M216.1 363.7h0M209.1 359.2h0M223.5 352.4h0M203 382.2h0M251.6 297.2h0M212 323.3h0M227.9 356.4h0M223.3 327.8h0M256.2 299.5h0M212.9 329.7h0M200.8 364.7h0M247.5 290h0M210.2 364.9h0M227.4 364.1h0M229.3 327.9h0M205.9 346.4h0M244.5 291.9h0M205.7 388.1h0M248.4 293.3h0M244.1 290.3h0M211.7 328.4h0M227.2 320.3h0M200.7 368.3h0M220.6 351h0M206.6 333.6h0M210.9 361.4h0M242.1 304.8h0M234.8 308.1h0M224.9 343.1h0M221.2 358.3h0M258.3 297.8h0M254.9 295h0M260.9 285.5h0M245.2 308.2h0M213.6 368.2h0M229.5 364.6h0M225.8 359.3h0M213.2 367.9h0M220.1 323.2h0M254.8 286.4h0M237.3 302.9h0M254.3 303.9h0M229 327.8h0M242.3 286.1h0M255.2 292.8h0M222.9 323h0M251.4 277.8h0M230.1 355h0M208.6 330.5h0M204.9 329.6h0M202.3 351.4h0M252 275.4h0M261.9 287.7h0M256 286.5h0M208.5 363.8h0M212.4 346.4h0M202.6 370.4h0M219.4 344h0M210.3 331.4h0M259.6 293.4h0M238.4 305.4h0M231.7 361h0M252.4 296.3h0M220.9 330.4h0M265.6 286.6h0M210.5 330.5h0M211.9 344.9h0M250.3 281.3h0M262.4 295.1h0M241.4 309.6h0M212.7 345.7h0M200.2 381.7h0M197.3 344.5h0M203.7 342.4h0M226.9 318.8h0M216.6 359.5h0M205.4 363.9h0M223.6 327.4h0M217 359.8h0M215.3 319.1h0M208.6 359.9h0M203.2 375.1h0M219.3 364.7h0M216.9 319.8h0M239.4 301.6h0M205.6 344h0M205 388.6h0M212 355h0M216.1 340.3h0M203.9 343.1h0M209.3 347.3h0M212.5 321.4h0M259.5 290.6h0M214 364.8h0M218.5 359.8h0M203.2 338.8h0M238.3 315.3h0M238 307.9h0M233.4 324.4h0M203.6 353.3h0M210.9 372h0M228.8 365.9h0M222.8 328.2h0M211.5 370.4h0M255 287.4h0M245.5 303.4h0M218.1 322.9h0M217.7 343h0M224.3 324.1h0M247.2 297.9h0M229.2 362.7h0M238.2 308.7h0M245.6 298h0M204.1 379.4h0M244.3 299.6h0M216.2 364.2h0M233.6 326.2h0M216.3 324.3h0M253.6 279.9h0M238.9 325h0M225.5 329.2h0M253.4 303.1h0M214.6 321.7h0M243 311.1h0M255.7 291.3h0M242.9 290.6h0M233.5 311.4h0M231.3 335.3h0M201 352.1h0M252 298.4h0M252.7 297h0M249.2 307.4h0M267.1 276.4h0M210.6 352.4h0M227.1 366.8h0M253.4 279.8h0M261.2 295.3h0M200.2 362.4h0M254 275.3h0M249.8 291.9h0M239.8 305.5h0M203.5 381.7h0M262.7 299.5h0M239.8 301h0M247.2 286.9h0M214.8 326.8h0M252.5 305.1h0M212.2 333.2h0M230.8 330.4h0M204.2 348.8h0M208.7 351h0M246.1 304.5h0M200.5 377.7h0M242.9 303.2h0M220.9 330.1h0M264 282.8h0M245.2 303.5h0M203.4 347.8h0M208.3 378.4h0M206.4 380.8h0M252.9 305.4h0M203.6 353.2h0M254.1 276.8h0M248 289.9h0M200.4 346.9h0M216.4 359.4h0M255.4 278.2h0M217.9 356.9h0M257.6 301.6h0M209 369.1h0M233.1 334.4h0M257.4 284.7h0" stroke="#ffe9a4" stroke-width="2.8" stroke-linecap="round"/>
<path d="M210.3 336.9h0M227.1 327.6h0M254.8 292.5h0M258 300.4h0" stroke="#e2383c" stroke-width="2.8" stroke-linecap="round"/>
<path d="M220.8 338.1h0M202.1 363.1h0M209.5 327h0M221.5 351.2h0M206.3 367.8h0M228.5 359h0M221.2 348.9h0M195.5 344.5h0M254 297h0M249.8 303.5h0M205.7 349.9h0M218.9 347.6h0M229.2 358.2h0M212.6 341.1h0M224.4 321.7h0M221.2 354h0M228 362.3h0M226.2 360.2h0M211.8 332.7h0M229.4 323.4h0M225.6 344.1h0M218.6 359.1h0M226 363.3h0M214.6 368.8h0M215.9 338.4h0" stroke="#7a0a2e" stroke-width="2.8" stroke-linecap="round"/>
<path d="M207.2 326.5h0M214 325.2h0M218.3 322.4h0M219.6 350.5h0M206 367.5h0M213.3 325.8h0M218.7 354.3h0" stroke="#f4803a" stroke-width="2.8" stroke-linecap="round"/>
<path d="M239.8 505.7h0M207.9 522.7h0M262.2 475.2h0M246.1 485.1h0M266.2 470.3h0M246 500.4h0M241.6 501.7h0M213.3 528h0M248.8 493.6h0M219.1 525.8h0M202.4 540h0M253.2 472.5h0M253.8 469.8h0M254.8 493.2h0" stroke="#e2383c" stroke-width="2.8" stroke-linecap="round"/>
<path d="M224.9 547.7h0M216.7 561.5h0M202.9 571.6h0M208.1 519.6h0M216.9 513.8h0M201.6 544.5h0M202.1 555.8h0M212.8 565.6h0M229.1 518.7h0M227.3 521h0M223.5 539h0M226.9 534h0M202.7 576.1h0M211.6 565.4h0M217 546.2h0M202.2 564.3h0M202.5 535.2h0M246 486.6h0M207.2 534.3h0M231 530.6h0M221.2 545.2h0M209.4 567.4h0M223.8 534.3h0M230.2 519.9h0M240.7 490.3h0M265.7 480h0M225.8 552.5h0M238 506.8h0M216.1 531.4h0M205.1 572.2h0M227.3 543.6h0M203.5 570.1h0M204.7 541.7h0M220.8 525.9h0M242.8 486.3h0M209.9 549.8h0M223.4 535.6h0M237.1 505.6h0M231.2 550.9h0M208.5 541.4h0M233.5 556h0M174.1 522.4h0M253.7 482.3h0M213.9 554.7h0M203.3 567.7h0M209.7 568.4h0M244.7 496.4h0M216.4 556.9h0M252.6 479.9h0M253.9 480h0M212.9 529.8h0M205.6 521h0M221.8 520.1h0M212.8 533.5h0M223 534.9h0M241.6 502.3h0M221 527.7h0M237.3 468.1h0M230.8 518.9h0M235.4 520.1h0M249.9 501h0M232.1 552.5h0M203.2 560.3h0M209.1 559.6h0M203.7 547.3h0M230.9 553.9h0M220.2 552.8h0M229.2 550.5h0M173.2 523.1h0M260.1 495.1h0M208.4 520.6h0M242.1 499.8h0M239.4 507.9h0M200.6 543.2h0M223.1 538.8h0M216.1 558.2h0M230.2 553.1h0M253.8 492.4h0M209.4 564.7h0M211.7 552.7h0M207.9 560.1h0M236.1 501.4h0M228.1 554.4h0M216.9 553.9h0M225.7 514.2h0M225.2 555.9h0M208.8 528.3h0M207 541h0M201.6 544h0M252.4 482.9h0M230.7 523.1h0M243.2 492.2h0M223 537.3h0M205.7 522.4h0M233 559.4h0M211.7 527.2h0M207.3 533.9h0M263.8 483.8h0M211.3 542.1h0M220.2 518.7h0M229.3 504h0M209.3 546.7h0M228.8 531.5h0M208.5 544h0M212.6 542.9h0M213.4 531.5h0M206.3 531.9h0M206.7 522.7h0M242.7 488.2h0M232.2 548.9h0M202.5 577.8h0M174.6 522.9h0M222.8 539.2h0M224 525.8h0M238.8 497.5h0M216.7 556.9h0M226.7 515h0M201.4 574.6h0M223.7 554.8h0M200 573.1h0M229.5 545.3h0M209.2 543.8h0M219.6 527.5h0M200.2 578.9h0M240.6 501.4h0M203.1 562.7h0M219.9 552.3h0M207.2 551.5h0M253.1 484.5h0M206.1 525.8h0M218.4 522.2h0M215.6 543.3h0M212.2 540.8h0M213.9 548.3h0M211.6 524.2h0M201 546h0M224.3 552.5h0M224.7 514.5h0M214 538.2h0M204.3 541.2h0M236.9 497.3h0M235.5 523h0M227.4 520.6h0M224.8 517.5h0M256.6 491h0M236.4 520.6h0M209.7 560.7h0M202.5 572.5h0M232.5 521.1h0M241 501.8h0M218.5 557.1h0M253.2 479.2h0M211.3 547.9h0M257.4 484.6h0M239.4 508.5h0M213.8 549.1h0M218.1 560.4h0M221.6 550.2h0M262.5 482.2h0M211.9 526.3h0M206.3 574.7h0M204.4 544.2h0M221.7 532.3h0M231 554.2h0M209.6 519.3h0M207.4 563.2h0M199.8 558.2h0M224.4 527.5h0M226.9 543h0M204.6 572.7h0M249.9 479.6h0M210 552.8h0M211 519h0" stroke="#ffe9a4" stroke-width="2.8" stroke-linecap="round"/>
<path d="M204.2 536.1h0M216.8 517.7h0M222.3 522.4h0M265.1 475.8h0M231.2 527.4h0M224.7 512.8h0M199.8 542h0M206.3 533h0M211.8 529h0M199.6 576.8h0M250.9 490.8h0M230.9 545.3h0M243 500.5h0M237 503h0M209.1 558.9h0M238 515.2h0M214.2 548.5h0M238.2 509.4h0M243.6 483.9h0M200.8 546.7h0M214.4 519.9h0M201.1 557h0M207.1 574.5h0M239.2 505.1h0" stroke="#f4803a" stroke-width="2.8" stroke-linecap="round"/>
<path d="M255.9 480h0M202.2 577.8h0M219.2 558.8h0M241.1 484.2h0M245.5 502h0M212.5 555h0M220.4 518.1h0M205.3 532.8h0M216.2 561.2h0M215.4 523.9h0M210.3 520.1h0M207.1 530h0M260.8 483.7h0M204.6 545.8h0M260 478.3h0" stroke="#fcc46c" stroke-width="2.8" stroke-linecap="round"/>
<path d="M226.3 515.5h0M208.4 528.1h0M223.3 531.6h0M219.6 519.5h0M204.7 572.7h0M203.2 572.4h0M213.6 545.8h0M233.5 518.1h0M218.7 552.3h0M212.1 524.3h0M221.4 526.9h0M232.1 520.4h0M209.4 537h0M217.9 547h0M222 542.9h0M196.7 539.3h0M212.5 539.7h0M203.6 544h0M202.4 574.9h0M201.2 558.4h0M239.6 498.1h0M263.5 478.9h0M211.2 555.6h0M221.2 513.7h0M206.6 577.8h0M200.8 575.9h0M209.1 531.2h0M215.9 529h0M259.3 490h0M226.9 510.9h0M235.7 499.9h0M255.6 492.9h0M207.4 571.1h0M221.4 552h0M222.7 554.4h0" stroke="#7a0a2e" stroke-width="2.8" stroke-linecap="round"/>
<path d="M222.6 537h0M216.1 528.3h0M231.3 509.2h0M250.8 482.2h0M209.6 552.5h0M220.8 552.2h0M225.8 521.8h0M209.8 566.8h0M222.4 538.1h0M200.5 551.5h0M242.3 475.2h0M236.3 503.6h0M201.4 573.3h0M251.9 496.5h0M238.6 495.5h0M203.8 541.6h0M227.2 554.6h0M238 504.4h0M254.9 481.2h0M209.7 570.1h0M207.5 531.1h0M209.5 566.7h0M256.5 485.1h0M259.7 489.4h0M223.7 547.6h0M207.2 521.1h0M241.3 505h0M217.2 532.4h0M204.8 535.1h0M258.7 483.9h0M206.9 576.4h0" stroke="#f4803a" stroke-width="2.8" stroke-linecap="round"/>
<path d="M247 491.9h0M211.7 548h0M215 546.4h0M255.6 491.2h0M257 485h0M213 546h0M208.4 529.6h0M224.2 539.5h0M257.4 489.8h0M210.5 518.4h0M215.5 516.9h0M225.9 540.4h0M240.3 489h0M212.1 519.8h0M216.3 554.4h0M250.3 488.2h0M211.3 529.9h0M226 546.4h0M228 515.2h0M211.9 536.6h0M233.6 519.1h0M225.4 531h0M250.9 480.9h0M210.1 530.5h0M213.1 531.1h0M228 511.5h0M228.2 554.6h0M231 520.7h0M217.1 516.5h0M203.1 539.6h0M200.5 550.2h0M204.6 523.9h0M241.3 501.5h0M231.4 507h0M229.8 519.7h0M206.8 533.2h0M225.3 533.8h0M236.1 517.7h0M205.7 564.5h0M246.6 490.7h0M255.1 474.6h0M229.3 557.7h0M217.4 560.8h0M252.7 472.6h0M244.1 502.1h0M218.4 518.3h0M212.3 531.6h0M209.9 530.4h0M243.5 492.3h0M262.5 482.4h0M224.7 516.6h0M201.4 556.4h0M210.2 555.7h0M233.9 555h0M203.5 577.7h0M201.5 578.1h0M214.7 555.1h0M220.5 544.7h0M206.2 562.4h0M205.7 570.3h0M224.1 534.5h0M240.3 496.7h0M264.3 473.3h0M210.1 563.4h0M219.7 553.1h0M226.5 509.4h0M244.8 499h0M218.4 533.5h0M233.8 522.3h0M224.4 515.7h0M209 564.5h0M231 553.5h0M202.1 542.4h0M207.8 569.9h0M206 536.4h0M203.8 567.5h0M208 534.7h0M253.7 475.1h0M225.5 528.3h0M219 552.1h0M228.8 553.9h0M227.8 556.2h0M229.1 507.2h0M241.7 501h0M205.1 542.9h0M211.7 533.8h0M242.1 500h0M259.6 481.1h0M204.7 583.5h0M212.5 531.6h0M213.7 532.5h0M226.9 550.7h0M212.1 540h0M204.7 533.8h0M228.8 548.7h0M212.7 532.9h0M255.5 480.5h0M221.9 514.1h0M264.9 471h0M201.9 577.3h0M200.1 578.3h0M238.9 507.2h0M208.1 539h0M208.8 529.9h0M217.2 533.1h0M205.6 523.6h0M229 532.1h0M202.3 557.8h0M220.6 519.6h0M205.8 535.2h0M232 554.4h0M258.2 476.1h0M221.7 547.1h0M203 565.1h0M204.6 534.4h0M230.1 559.6h0M240.7 498.9h0M260.6 484.4h0M198.2 537.1h0M200.4 580.4h0M228.5 507.5h0M261.6 493.4h0M226.2 517.2h0M205.1 580.2h0M205.3 551.6h0M206.8 543.7h0M228.7 509.5h0M215.8 516.5h0M216.4 545.8h0M205.7 525.4h0M207.3 556.7h0M218.9 551h0M224 513h0M206.9 559.3h0M214.4 533.5h0M225.3 530.7h0M216.6 550.5h0M224.4 548.3h0M231.4 550.7h0M207.1 521h0M207.2 560.3h0M216.3 561.4h0M210.1 534.6h0M253 470.2h0M217.1 533.6h0M216.9 522.2h0M209.2 553.2h0M221.7 525.1h0M229.1 529h0M209.4 527.9h0M233.4 524.2h0M220.4 519.8h0M236.5 515.8h0M234 553.1h0M213.3 534.3h0M215.7 525.2h0M223.3 514.1h0M233.6 509h0M237 517h0M204.5 551.9h0M256 487.1h0M222.7 553.7h0M211.7 555.7h0M262.2 484.8h0M216.2 514.4h0" stroke="#ffe9a4" stroke-width="2.8" stroke-linecap="round"/>
<path d="M206 575.7h0M241.2 511h0M203.2 572.7h0M244.5 503.1h0M203.3 583.1h0M220.1 520.3h0M210.5 566.9h0M232.3 554.1h0M205.1 582.9h0M251.8 496.3h0M232.5 508.7h0M212.7 528.8h0M240 500.5h0M201.6 546.2h0M215.3 519.4h0M254.2 502.3h0M253.4 489.3h0M206.3 580.9h0M219.7 520.2h0M250.7 487h0M221.2 518h0M237.1 466.4h0M213.4 544.7h0M242.8 501.8h0M250.8 482.2h0M202 570.2h0M202.3 576.2h0M238.8 514.6h0M200.7 539.2h0M202.1 542.7h0M216.6 515.7h0M251 470.2h0M206.5 578.1h0M229.5 530.2h0M200 574.9h0M202.1 574.3h0M206.3 556.9h0M200.9 563.6h0M248.2 481h0M238 503.4h0M210.6 550.6h0M258.5 490.7h0M247.7 496.8h0" stroke="#7a0a2e" stroke-width="2.8" stroke-linecap="round"/>
<path d="M256.8 482.6h0M200.8 560.8h0M198.8 543h0M242.9 489.1h0M253.2 469.1h0M254 474.2h0M211.5 528.5h0M204.8 580.2h0M237.2 507h0M203.4 559.8h0M204.5 553.2h0M215.3 522.8h0M207.5 576.5h0" stroke="#e2383c" stroke-width="2.8" stroke-linecap="round"/>
<path d="M258.3 490.6h0M215 534.9h0M250.8 483.2h0M200 550h0M200.6 547.6h0M255.8 472.9h0M237.7 501.8h0M216.1 554.1h0M255.2 492h0" stroke="#fcc46c" stroke-width="2.8" stroke-linecap="round"/>
<path d="M217.6 518.1h0M202.3 563h0M216.1 527.9h0M251.3 502.8h0M255.2 474.4h0M236.5 499.5h0M227.2 529.7h0M252.6 493.4h0M208.6 566.7h0M238.2 506.2h0M235.7 515.8h0M265 479.8h0M201 581.2h0M236.7 513.3h0M199.5 559.5h0M225.2 557.8h0M203.4 538.1h0M261.1 481.5h0M207.8 546.1h0M204.7 571.2h0M206.1 570.4h0M203.5 560.9h0M202.2 577.3h0M210.7 526.3h0M255.3 477.1h0M224.1 549.7h0M204.3 559.9h0M246.4 497h0M253.2 469h0M210.2 522.1h0M200.1 560.8h0M225.6 527.5h0M216.7 516.6h0M217.5 529h0M261.6 480.8h0" stroke="#7a0a2e" stroke-width="2.8" stroke-linecap="round"/>
<path d="M202.6 539.5h0M202.1 569h0M220.4 537.1h0M238.1 516.1h0M253.3 493.3h0M216 556.6h0M225.7 523.4h0M211 522.3h0M230.1 504.7h0M216.1 518.3h0M226.6 556.7h0M211.5 553.1h0M205.5 544.8h0M213.1 544.3h0M213.6 530h0M261.9 489.1h0M211.7 566.5h0M228.9 550.1h0M225.5 515.6h0M211.4 559.9h0M224.4 525.6h0M201.9 538.1h0M239.7 513.4h0M232.7 557.1h0M228.1 545.8h0M214.2 534.2h0M262.6 477.2h0M217.5 532.7h0M216.3 561.4h0M240.1 494.7h0M204.4 547.4h0M229.6 531.7h0M211.4 556.5h0M223.5 521.3h0M252.8 474.1h0M210.4 556.3h0M209.7 562.1h0M264 477.8h0M227.5 557h0M204.4 539h0M200.6 575.1h0M255.4 481.1h0M206.1 558h0M216.4 558.8h0M222.9 528.9h0M207.2 525.2h0M211.1 534.2h0M210.7 524.9h0M252.2 490.8h0M201.1 538.4h0M219.4 532.2h0M205.8 540.2h0M225.7 532.9h0M243.9 483.3h0M203 566.8h0M224.1 522.5h0M215.2 546.6h0M220 533.2h0M209 535.1h0M221 537.9h0M228.6 558.2h0M217.2 537.8h0M254.3 487.5h0M249.9 482.7h0M224.8 529.5h0M218.8 551.7h0M233.5 527.4h0M235.1 509.8h0M210.1 532.9h0M208.3 539h0M208.8 537.2h0M265.3 477.2h0M208.9 526.3h0M213.7 534.8h0M205.6 543.8h0M220.1 522h0M246.5 486.8h0M196.8 537.1h0M209.6 565.3h0M225.1 518.8h0M206.4 536.5h0M253.3 476.8h0M221.2 555.9h0M238.3 500.6h0M207.2 580.1h0M214.2 555.7h0M253 475.2h0M218.2 537.4h0M241.5 486h0M227.4 514.4h0M239.6 504.4h0M208.3 539.1h0M199.3 573.3h0M219.6 532.9h0M205.9 531.2h0M222.4 541h0M220.9 539.3h0M212.8 530.6h0M214.4 562.3h0M213.8 544.1h0M251.7 497.1h0M213.8 539.6h0M228.5 559.4h0M231.6 548.2h0M239.5 498h0M209.8 533.4h0M242.4 482.6h0M256.1 488.9h0M206.7 545h0M213.3 531.4h0M205 528.7h0M203.5 562.6h0M209.2 544.4h0M200.8 552.9h0M241.5 498.7h0M211.3 519h0M210.9 528h0M218.5 519.3h0M222.8 534h0M206.3 546.9h0M215.6 534.6h0M213.3 532h0M224.5 550.7h0M228.1 533.6h0M210 553.3h0M264 486.2h0M213.9 531.5h0M257 489.6h0M207.7 565.5h0M263.8 474.8h0M223.2 520.1h0M254.6 480.3h0M208.5 555.2h0M220.2 536.5h0M174.2 523.1h0M263.6 487.5h0M199.7 570.6h0M223.4 536.5h0M233.1 525.4h0M205 554.9h0M233.7 552.3h0M235.2 526.6h0M206.4 578.8h0M200.4 543.7h0M204.6 577.6h0M223.7 538.2h0M263.8 480.4h0M230.4 560h0M243.2 491.1h0M220.5 555.2h0M225.5 547.6h0M224.8 545h0M227.8 509.5h0M201.4 580.2h0M201.4 576.5h0M213.4 561.2h0M205.6 535.2h0M217.3 541.1h0M229.7 545h0M208.2 554.2h0M242.7 494.4h0M218 536.9h0M222.8 537.3h0M235.7 525.3h0M232 525.3h0M200.1 567.5h0M263.2 490.8h0M251.4 502.8h0M211.5 531.4h0M221.4 553.5h0M222.6 545h0M208.9 544.6h0M173.4 522.3h0M202.2 572h0M243.7 500.8h0M229.7 550h0M219.8 533.2h0M258.1 495.4h0M213.8 538h0M221 533.4h0M213.7 532h0M223.6 521.2h0M211.3 522.6h0M202.8 576.2h0" stroke="#ffe9a4" stroke-width="2.8" stroke-linecap="round"/>
<path d="M212.9 533.1h0M204 545.1h0M262.8 473.2h0M256 491.3h0M198.3 539.9h0M210.9 529.2h0M255.7 495.2h0M207.2 577.6h0M203.1 545.5h0M207.6 563.3h0M204.1 545.5h0M215.1 525.8h0M206.2 579.9h0M251.3 494.3h0M218.9 550.9h0M219.8 514.8h0M205.7 526.2h0M260.4 483.3h0M239 499.7h0M206.4 577.4h0M203.1 575.8h0M232.3 524.2h0" stroke="#f4803a" stroke-width="2.8" stroke-linecap="round"/>
<path d="M237.1 499.4h0M205.2 537.5h0M253.7 486.4h0M247.5 494.9h0M262.4 481.9h0" stroke="#e2383c" stroke-width="2.8" stroke-linecap="round"/>
<path d="M219.6 528.1h0M226.9 523.9h0M220.6 520.6h0M217.4 517.5h0M211.1 561.7h0M219.2 523.4h0M214.6 557.5h0M237.2 515.8h0M223.6 554.5h0M203.4 542.5h0M251 493.4h0M210 557.8h0M201.6 543.6h0M221.8 537.2h0M235 521.8h0" stroke="#fcc46c" stroke-width="2.8" stroke-linecap="round"/>
<path d="M225 537.5h0M242.4 478h0M206.3 529.5h0M239.8 505.1h0M217 556.1h0M250.6 469.6h0M226.1 513.2h0M212 555.4h0M211.1 556.1h0M218.6 533.2h0M209.8 563.7h0M210.3 538.3h0M231.2 546.8h0M215.6 525.7h0M227.6 561.2h0M205.6 542.8h0M206.9 566h0M226.1 521.4h0M231.3 519.1h0M221.3 538.4h0M229.3 561.8h0M255.1 474h0M230.5 559h0M242.9 499.8h0M211.9 534h0M227.5 543.4h0M240.8 505.2h0M255.9 495.9h0M228.1 561.3h0M218.4 546.1h0M226.7 512.1h0M229.3 543.3h0M196.4 537.5h0M216.5 519h0M218.1 550.2h0M224 551.1h0M229 524.7h0M213.2 532.1h0M232.8 523h0M242 500.3h0M206.5 579.8h0M249 480.9h0M222 522.4h0M219.9 535.1h0M254.2 479.2h0M264.4 482.4h0M245.4 496.6h0M210.1 532.1h0M224.6 526.6h0M233 548.4h0M256 485.2h0M224.5 535.7h0M214.3 519.4h0M197.8 535.4h0M208.6 524.7h0M202.8 571.3h0M205.8 539.8h0M176.1 522.4h0M258.9 493.8h0M229.6 558.3h0M211.6 567.1h0M238 513.3h0M216.9 552.5h0M266.4 472.9h0M254.2 473.2h0M250.4 486h0M237.6 515.9h0M227 547.9h0M260.8 476.4h0M200.4 538.9h0M220.2 520.8h0M199.9 574.4h0M200.9 559.8h0M252 499.6h0M239.6 506.4h0M244.7 499.4h0M223.3 540.2h0M200.7 567.8h0M216.6 550.9h0M240.4 502.7h0M235.6 516.9h0M215.4 541.4h0M221.9 535.8h0M209.9 555.1h0M219.2 552.1h0M222.2 534.3h0M214.2 534.6h0M229.3 515h0M251 500.2h0M206.8 562.8h0M206.2 553.6h0M228.9 524.2h0M205.9 559.6h0M242.1 489.5h0M195 535h0M250.1 479.1h0M256.7 494.5h0M226.9 529.1h0M206 557.2h0M205.5 527.3h0M205.4 549.7h0M247.4 489.7h0M201.8 579.1h0M219.7 546.5h0M207.4 553.7h0M220.5 517.7h0M231.6 544.8h0M241.1 505.3h0M244 484.9h0M202.1 554h0M258.1 478h0M231.6 548.4h0M211 556.9h0M227.9 516.1h0M226.2 515.6h0M221.1 530h0M211.4 530.3h0M209.7 568.7h0M206.1 575.1h0M218.6 517h0M245.7 501.4h0M223.8 541.4h0M213.9 563.6h0M250.4 499.2h0M204 575.3h0M219.4 527.5h0M203.1 544.3h0M215.8 559.9h0M199.1 538.4h0M227.4 555.3h0M225.6 551.9h0M260.3 492h0M209.5 554.1h0M225.2 534.5h0M209.2 553.5h0M226.7 513.3h0M262.7 483h0M222.1 514.2h0M226.4 548.1h0M229.1 519.1h0M229 557.2h0M202.3 558h0M215.1 560.7h0M249.8 473.2h0M208 555.1h0M212.8 538.4h0M231.3 552.9h0M226.7 517.2h0M239.2 500.4h0M228.2 559.3h0M208.6 538.3h0M213.8 537.9h0M202.6 560.3h0M208.4 565.5h0M204.5 547.6h0M204.2 562.7h0M232.6 553.3h0M236.1 501.1h0M224.1 549.6h0" stroke="#ffe9a4" stroke-width="2.8" stroke-linecap="round"/>
<path d="M229.8 548.5h0M205.1 538.3h0M200.8 542.2h0M196.7 534.3h0M200.6 566.1h0M220.6 535.7h0M225.9 522.4h0M261.8 489.6h0M199.6 575.2h0M202.7 568h0M202.2 562.2h0M210.8 553.3h0M249.6 497.1h0M265.5 481.7h0M206.6 581.5h0M218.6 518.9h0M201.9 569.2h0M203.7 572.9h0M227.2 530.8h0M266.9 471h0M235.7 521.8h0M204.4 577.4h0M233 506.6h0M197.8 537.2h0M213.2 537.9h0M233.7 552.5h0M237.7 505.8h0M246.2 487.3h0M202.2 558.5h0M199.8 563.8h0M221.9 553.1h0M264.3 482.8h0M204.5 538.2h0M225.5 556.5h0M201.8 553.5h0M248 495.2h0M215.8 553.5h0M219.7 530.8h0M204.9 530.2h0M207.3 525.4h0M229.1 522.8h0M250.6 490.8h0M249 478.1h0M204.7 570.8h0" stroke="#7a0a2e" stroke-width="2.8" stroke-linecap="round"/>
<path d="M240.2 493.1h0M245.3 499.5h0M213.8 532h0M202.6 559h0M226.3 532.8h0M226.6 551.7h0M216.5 515.9h0M229.7 504.4h0M254.8 469h0M247.9 489.1h0M205.8 575.6h0M241.8 490.9h0M251.9 502.9h0M259.5 495.2h0M256.3 477.1h0M203.1 543.6h0M207.8 575.4h0M209.8 564.3h0M208.8 528.5h0M256.7 475.4h0M230.9 522.1h0M206.7 538.1h0M213.2 521.8h0M224.3 519.5h0M238.7 499.3h0M213.8 533.9h0M252.2 484.2h0M238.6 501.5h0M238.4 493.6h0M215.3 556.8h0M209.2 569.6h0" stroke="#f4803a" stroke-width="2.8" stroke-linecap="round"/>
<path d="M257.3 477.1h0M243.1 490.5h0M205 544.5h0M219.2 543.6h0M244.7 489.9h0M209.2 565.9h0M221.1 541.2h0M231.4 530.6h0M211.6 524h0M209.5 540h0M210.5 559.9h0M214.3 541.6h0M227 517.8h0M263.2 475.1h0M210.6 534.9h0M220.8 538.2h0M255.8 494.3h0M202.6 543.6h0M264.6 482.6h0M210.5 554.1h0M217.3 547.6h0M243.7 504h0M256.5 480.1h0" stroke="#fcc46c" stroke-width="2.8" stroke-linecap="round"/>
<path d="M205.2 570.2h0M221.3 524h0M259.9 491h0M221 515.6h0" stroke="#e2383c" stroke-width="2.8" stroke-linecap="round"/>
<path d="M232.5 555.8h0M217.7 520.6h0M239.9 488.7h0M237.2 501.2h0M210 530.2h0M225.6 515.1h0M230.3 527.7h0M234.1 527h0M220.8 532.1h0M201.2 541.4h0M204.4 528.4h0M217.2 557.6h0M224 531.4h0M235.3 525h0M218.6 527.7h0M202.1 557.1h0M230 527.2h0M244.8 500.1h0M210.6 521.7h0M266 479.3h0M209.5 521h0M247.2 494.9h0M227 555h0M226.3 550.8h0M228.1 549.8h0M262.7 493.9h0M200.9 545h0M228.8 560.9h0M222.1 542.8h0M221.5 545.2h0M203 541.6h0M226 550.7h0M237.9 516.8h0M209.1 553.2h0M223.5 546.4h0M203 576.2h0M227.1 521.6h0M223.3 521.8h0M212.9 523.7h0M200.8 558.7h0M247.5 484h0M210.2 558.9h0M227.4 558.1h0M205.9 540.4h0M248.4 487.3h0M221.2 542.9h0M200.7 562.3h0M220.6 545h0M252.1 497.2h0M242.1 498.8h0M246.9 501h0M224.9 537.1h0M221.2 552.3h0M258.3 491.8h0M213.9 538.5h0M254.9 489h0M260.9 479.5h0M245.2 502.2h0M213.6 562.2h0M229.5 558.6h0M213.2 561.9h0M254.8 480.4h0M254 491h0M237.3 496.9h0M254.3 497.9h0M229 521.8h0M206.8 525.6h0M222.9 517h0M251.4 471.8h0M230.1 549h0M208.6 524.5h0M256 480.5h0M212.4 540.4h0M219.4 538h0M256.6 493.2h0M259.6 487.4h0M218.3 516.4h0M231.7 555h0M212.1 557.9h0M211.9 538.9h0M205.7 543.9h0M241.4 503.6h0M212.7 539.7h0M218.9 541.6h0M197.3 538.5h0M203.7 536.4h0M226.9 512.8h0M216.6 553.5h0M205.4 557.9h0M223.6 521.4h0M217 553.8h0M229.2 552.2h0M219.6 544.5h0M212.6 535.1h0M219.3 558.7h0M205.6 538h0M224.4 515.7h0M221.2 548h0M228 556.3h0M212 549h0M216.1 534.3h0M209.3 541.3h0M259.5 484.6h0M214 558.8h0M218.5 553.8h0M203.2 532.8h0M238.3 509.3h0M238 501.9h0M233.4 518.4h0M210.9 566h0M228.8 559.9h0M226.2 554.2h0M222.8 522.2h0M227.5 560.3h0M211.5 564.4h0M218.1 516.9h0M247.2 491.9h0M229.2 556.7h0M238.2 502.7h0M216.2 558.2h0M216.3 518.3h0M206 561.5h0M253.6 473.9h0M238.9 519h0M253.4 497.1h0M214.6 515.7h0M243 505.1h0M211.8 526.7h0M242.9 484.6h0M231.3 529.3h0M201 546.1h0M252 492.4h0M252.7 491h0M267.1 470.4h0M210.6 546.4h0M227.1 560.8h0M261.2 489.3h0M203.5 575.7h0M262.7 493.5h0M247.2 480.9h0M230.8 524.4h0M225.6 538.1h0M218.6 553.1h0M226 557.3h0M208.7 545h0M200.5 571.7h0M214.6 562.8h0M242.9 497.2h0M220.9 524.1h0M203.4 541.8h0M208.3 572.4h0M218.7 548.3h0M206.4 574.8h0M203.6 547.2h0M254.1 470.8h0M216.4 553.4h0M255.4 472.2h0M217.9 550.9h0M257.6 495.6h0M209 563.1h0M233.1 528.4h0" stroke="#ffe9a4" stroke-width="2.8" stroke-linecap="round"/>
<path d="M263.8 484.1h0M264.2 472.6h0M249.8 486.3h0M210.3 530.9h0M207.2 520.5h0M213.1 515.5h0M197.9 537.5h0M213.4 517.4h0M215.7 520.4h0M201.4 539.2h0M221.2 545.2h0M218.5 517.9h0M206.3 561.8h0M251.6 491.2h0M212 517.3h0M254.8 486.5h0M227.9 550.4h0M256.2 493.5h0M228.5 553h0M211.7 522.4h0M195.5 538.5h0M227.2 514.3h0M227.1 544h0M202.3 545.4h0M252 469.4h0M261.9 481.7h0M202.6 564.4h0M214 519.2h0M210.3 525.4h0M238.4 499.4h0M210.5 524.5h0M250.3 475.3h0M200.2 575.7h0M208.6 553.9h0M203.6 547.3h0M255 481.4h0M245.5 497.4h0M224.3 518.1h0M204.1 573.4h0M225.5 523.2h0M212.8 518.6h0M255.7 485.3h0M249.2 501.4h0M200.2 556.4h0M229.4 517.4h0M249.8 485.9h0M239.8 499.5h0M239.8 495h0M214.8 520.8h0M252.9 499.4h0M248 483.9h0" stroke="#7a0a2e" stroke-width="2.8" stroke-linecap="round"/>
<path d="M209.8 531.8h0M217.4 545.3h0M216.1 557.7h0M244.5 485.9h0M206.6 527.6h0M255.2 486.8h0M208.5 557.8h0M215.3 513.1h0M205 582.6h0M233.6 520.2h0M233.5 505.4h0M254 469.3h0M213.3 519.8h0M215.9 532.4h0" stroke="#fcc46c" stroke-width="2.8" stroke-linecap="round"/>
<path d="M240.1 490.3h0M199.6 539.2h0M206.7 525.8h0M199.6 562.3h0M229.3 521.9h0M205.7 582.1h0M244.1 484.3h0M210.9 555.4h0M234.8 502.1h0M225.8 553.3h0M220.1 517.2h0M242.3 480.1h0M204.9 523.6h0M252.4 490.3h0M249.8 497.5h0M220.9 524.4h0M265.6 480.6h0M203.2 569.1h0M216.9 513.8h0M239.4 495.6h0M203.9 537.1h0M217.7 537h0M244.3 493.6h0M253.4 473.8h0M212.2 527.2h0M200.4 540.9h0M257.4 478.7h0" stroke="#f4803a" stroke-width="2.8" stroke-linecap="round"/>
<path d="M258 494.4h0M262.4 489.1h0M212.5 515.4h0M245.6 492h0M252.5 499.1h0M204.2 542.8h0M246.1 498.5h0M264 476.8h0M245.2 497.5h0" stroke="#e2383c" stroke-width="2.8" stroke-linecap="round"/>
<path d="M237.2 467h0" stroke="#7a0a2e" stroke-width="3" stroke-linecap="round"/>
<path d="M446.7 47.7L449.6 49.6L451 59.2L452.5 66.8L452.9 78.3L453.4 89.8L454 97.5L454.8 105.1L454 110.9L452.5 116.6L451.5 122.4L450.6 130L449.6 135.8L448.7 143.4L447.7 150.2L446.4 151.1L444.8 147.3L442.9 139.6L441.9 132L440 126L438.5 118L437.5 112L436.5 118L435.8 124.3L433 125.5L430.5 125.2L428.5 122.4L428 116.6L429.1 110.9L430.5 105.1L428.5 97.5L425.3 86L426.6 84.4L431.4 86L435.2 84.1L438.1 78.3L440.6 72.6L442.5 66.8L443.9 59.2L444.4 51.5L444.8 48.6Z" fill="#c8501a"/>
<path d="M442.8 107.3h0M431.8 104h0M448.4 90.2h0M444.7 86.9h0M448.2 94.3h0M432.8 107.5h0M445.6 108.4h0M428.5 85.8h0M435.1 93.3h0M445.9 101.4h0M443.1 120.9h0M434.7 115h0M432.8 122.3h0M425.9 87.9h0M443.6 96h0M446.2 82h0M442.6 97.9h0M434.4 86.9h0M433.2 121.7h0M439.9 94.6h0M445 139.5h0M448.8 76.7h0M449.5 132.9h0M444.8 136.4h0M442.1 92h0M443.4 106.8h0M429.1 98.6h0M447.1 103.1h0M448.3 116.2h0M428.1 86.3h0M445.7 124.6h0M448.7 139h0M447.4 104h0M431.4 111.1h0M444.1 120.7h0M431.9 107.2h0M433.2 111h0M446.8 144.8h0M448.3 134.9h0M441.1 127h0M431.7 114.1h0M438.8 84.5h0M442 103.7h0M431.1 96.6h0M435.4 118.1h0M435.1 92.8h0M447.7 79.5h0M443.5 117.4h0M444.8 99.3h0M437.2 106.9h0M432.2 104.9h0M439.1 115.2h0M444.7 90.6h0M447.7 116.9h0M429.9 95h0M447.5 132.6h0M447 95.7h0M428.7 116.7h0M431.4 90.8h0M440.3 94.8h0M434 113.8h0M430.1 121.1h0M449.1 63h0M434.7 116.9h0M429.9 86.9h0M443 134.5h0M432.4 124.5h0M439 94.6h0M447.6 98.9h0M430 109.9h0M429.1 116.2h0M447.9 90.8h0M436.8 105h0M439.4 97.7h0M438.1 97.6h0M443.8 124.1h0M442.6 128.6h0M439.9 115.5h0M448 147.6h0M439.2 104.1h0M431.5 91.8h0M443.1 113.9h0M445.3 138.7h0M430.3 89h0M426.8 91.1h0M440.4 89.8h0M430.1 112.8h0M432.5 94.8h0M443.3 126.1h0M445.5 137.3h0M443.2 98.2h0M431.6 119.3h0M427.8 90.6h0M435 88.2h0M445.1 88.7h0M425.9 87h0M444.6 89h0M432.8 93.3h0" stroke="#ffe600" stroke-width="2.3" stroke-linecap="round"/>
<path d="M431 105.1h0M440.4 75.2h0M442.2 82.8h0M448.4 78h0M449.3 58.5h0M434 108.7h0M432.2 93.1h0M439.1 77.8h0M429.1 111.8h0M448.1 65.2h0M445.6 53.2h0M444.4 60.6h0M449.2 72.6h0M449.6 76.8h0M432.6 112.9h0M430 94.2h0M429.8 93h0M446.9 71.3h0M441.3 90.3h0M448.1 70h0M439.4 76h0M445 64.7h0M442.7 113.7h0M447.7 76.3h0M444.6 64.2h0M448.6 64.7h0M432.2 112.3h0M449.6 64h0M429.6 120.1h0M449.4 59.7h0M441.5 79.6h0M449.2 83.9h0M443.5 77h0M445.9 70.9h0M439.1 81h0M445.9 124.1h0M444.5 52.1h0M442.7 79h0M450.2 59.4h0M431.7 112.7h0M447.7 48.9h0M447.9 66.5h0M445.7 76.7h0M429.5 87.1h0M431.6 115.5h0M432.6 97.9h0M443.1 64.1h0M429.9 98.9h0M437.4 98h0M444.9 65.6h0M439.6 109h0M444.9 83.9h0M437.7 83.8h0M451.2 67.1h0M435.7 83.4h0" stroke="#00e5ee" stroke-width="2.3" stroke-linecap="round"/>
<path d="M446.2 107.5h0M447.7 113h0M442.7 104.8h0M444.3 132.3h0M449.4 130.9h0M448.1 93.5h0M439.2 104.6h0M445.6 95.4h0M441.7 96.7h0M450.8 99.6h0M437 80.8h0M452.3 83.4h0M449.5 88.8h0M442.7 117.3h0M450.6 129.8h0M446.7 72.7h0M449.6 90.2h0M449.5 91.6h0M448.6 120.6h0M440.4 123h0M446.9 143.8h0M448.8 85.3h0M435.7 90.7h0M445.1 87.8h0M440.7 95.6h0M448 140.8h0M451.4 103.6h0M448.2 75h0M445.7 140.1h0M434.1 96.3h0M443 109.5h0M446.9 116h0M436.4 118.5h0M450.8 114.4h0M435.1 92h0M449.6 95.2h0M451.4 83.1h0M449.1 124.6h0M441.2 129.2h0M446.5 150.8h0M450.8 123.2h0M448.1 137.4h0M450.4 96.5h0M451 110.1h0M442.2 79.7h0M449.1 132.9h0M442.4 93.6h0M446.5 131.6h0M449 72.2h0M449.3 104.6h0M445.4 117h0M451.3 86.9h0M448.4 112.5h0M446.5 106.4h0M446.8 110.9h0M452.1 92.2h0M449.2 115.5h0M443.7 143h0M446.1 148.8h0M447.4 126.9h0M450.9 82.2h0M451.4 80.6h0M445.3 105.8h0M443.9 113.4h0M441.3 116.7h0M433.1 122.6h0M450.4 117.8h0M451.7 104.4h0M434.2 106.6h0M452 83.7h0M434.8 108.5h0M443.8 102.5h0M442.6 111.8h0M435.8 112.4h0M433.3 122.6h0M453.2 89.5h0M448.4 101.2h0M429.7 118.4h0M451.9 99.3h0M431.5 104.6h0M440.4 95.3h0M447.9 135.8h0M446.1 134.1h0M436.7 111.2h0M439.9 110.3h0M433 116.2h0M434 94.6h0M449 111.4h0M448.2 91.7h0M440.6 100.1h0M452.6 92.3h0M449.6 73.8h0M451.8 72.3h0M453.9 98.8h0M434.6 96.4h0M430.3 92.2h0M451.5 113.8h0M451.7 87.4h0M439.3 86.2h0M439 95.2h0M445.9 108.4h0M452 99.3h0M446.5 73h0M442.8 113.9h0M440.8 117.1h0M449.8 117.7h0M441.6 91.5h0M443.2 132.9h0M451.9 111.1h0M447.4 82.6h0M435.9 92.1h0M442.4 99.6h0M452.6 109.2h0M445.2 103.3h0M440.6 80.4h0M440.3 96.7h0M450.6 124.8h0M444.2 144.6h0M434.3 121.5h0M443.8 84.9h0M446 123.7h0M448.6 93.3h0M450 126.1h0M439.6 111.1h0M430.6 124.3h0M450.1 103.5h0M437.3 84h0M449.5 116.7h0M446.8 122.9h0M449.5 90.8h0M435.9 90.8h0M432.8 104h0M451.4 79.7h0M435.1 95.1h0" stroke="#7f0000" stroke-width="2.3" stroke-linecap="round"/>
<path d="M439.3 76.9h0M430.6 117.7h0M435.1 112.9h0M449.7 126.5h0M447.4 115.3h0M451.9 105.1h0M446.5 150.7h0M430.4 104.6h0M448.2 81.5h0M435.4 111h0M439.4 93.8h0M450.4 125.5h0M450.6 106h0M436 83.8h0M443.7 106.9h0M449.9 129.6h0M433.2 89h0M444.1 72.6h0M450.6 70.6h0M439.6 114.8h0M443.3 127.6h0M446.9 87h0M450.4 72.3h0M433.6 98.9h0M448.6 139.1h0M434.9 101h0M443.8 142.8h0M439.9 98.5h0M434.5 91.1h0M450.2 66.4h0M446 118.6h0M451.9 74.7h0M431.9 93.5h0M434.3 122.9h0M443.1 132.5h0M443.5 109.5h0M448.4 89.5h0M446.5 129.4h0M436.3 90.2h0M444.4 97.7h0M435.9 112h0M433.9 124.1h0M441.1 103.6h0M432.6 95.4h0M448 116.8h0M448.4 61.6h0M446.7 103.3h0M444.1 110.1h0M433.6 104.3h0M438.3 96.3h0M433.8 106h0M444.3 107.5h0M429.6 112.2h0M443.7 101.9h0M444.2 123.8h0M435.7 121.7h0M440.2 102h0M431.2 91.7h0M449.3 133h0M429.7 97.8h0M433.9 104.9h0M433.4 101.4h0M437.7 86.1h0M443.6 77.2h0M438.7 107.2h0M437 108.2h0M440 118.8h0M448.1 115.7h0M448.5 96.7h0M449.9 60.1h0M430.7 88.5h0M450.5 116.3h0M440.9 93.3h0M443.3 124.3h0M451.5 113.7h0M431.3 102.3h0M443.3 131.9h0M432.3 114.3h0M430.6 87.5h0M447.7 62.6h0M435.7 106.5h0M442.6 108.8h0M452.5 93h0M444.7 106.1h0M434.2 93.8h0" stroke="#ff7f00" stroke-width="2.3" stroke-linecap="round"/>
<path d="M433.8 119.6h0M441.9 95.1h0M433.4 113.6h0M434.6 106.9h0M447.4 88.4h0M449 68.8h0M444.9 63.5h0M446.8 63.9h0M447.4 67.8h0M439.8 74.9h0M444.5 80.2h0M448.1 82.8h0M440.1 79.3h0M445.6 65.8h0M434.5 109.7h0M447 69.7h0M428.7 93.5h0M439.4 114.7h0M442.8 76.3h0M441.5 81.5h0M448.4 57.2h0" stroke="#7fff7f" stroke-width="2.3" stroke-linecap="round"/>
<path d="M445.6 50.4h0M445.7 65.3h0M442.1 71.4h0M447.3 55.4h0M443.7 63.3h0M448.7 63.9h0M445.2 50.9h0M448.5 61.8h0M445.5 53.4h0M449.5 49.9h0M446.1 65.5h0M449.2 49.5h0" stroke="#007fff" stroke-width="2.3" stroke-linecap="round"/>
<path d="M449 53h0M445.6 49.6h0M447.3 54.7h0M445.6 54.9h0M447.7 52.4h0" stroke="#0000ff" stroke-width="2.3" stroke-linecap="round"/>
<path d="M444.2 126.4h0M449.9 125.4h0M442 105.4h0M450.6 124.3h0M441.1 129.3h0M453.8 95.6h0M450.1 110.6h0M448.6 92.2h0M448.9 64.3h0M437.2 82.2h0M444.1 86.9h0M452.6 70.4h0M454.4 107.2h0M446.8 74h0M451.9 73.9h0M451.2 91.5h0M442.6 72.7h0M443.4 106.2h0M453.5 94.4h0M445.7 125.4h0M434.6 100.7h0M449.5 132.4h0M442.2 99.1h0M429.5 114.5h0M442.4 130.8h0M440.8 105h0M450.9 83.4h0M448.6 110.7h0M453 86.9h0M450.8 112.9h0M450.5 119.3h0M439.6 88.6h0M443.6 73.2h0M449.2 95.8h0M444.7 126.2h0M450.4 69h0M442.6 100h0M451.4 102.2h0M443.7 116.7h0M447.2 102.6h0M439.7 98.4h0M450.7 61.7h0M430.8 103.7h0M451.2 74.4h0M437.6 112.5h0M446.8 142.2h0M440.5 115h0M440.6 105.2h0M442.6 119.4h0M440.2 104.5h0M440.6 96h0M437.5 91.2h0M443.4 82.3h0M445.8 93.1h0M447 128h0M445.6 125.4h0" stroke="#ff0000" stroke-width="2.3" stroke-linecap="round"/>
<path d="M451 110.1h0M439.3 89.5h0M447.9 124.2h0M450.8 110.3h0M444.8 112.7h0M448.6 112.7h0M434.8 99.8h0M444.8 82.5h0M449.6 118.5h0M444.5 81.3h0M437.9 80.5h0M440.1 104.6h0M448.3 97.5h0M435 96.8h0M451.3 109.3h0M438.3 105.8h0M435.7 91.2h0M444.7 136.6h0M444.9 118.5h0M443.6 142h0M442.8 138.2h0M440.7 108h0M450.4 101.3h0M427 89.4h0M452.4 81h0M451 87.5h0M448.2 139h0M441.1 75h0M448.5 131.4h0M445.4 133.1h0M452.1 114.8h0M434.8 90.3h0M439.1 117.6h0M439.4 105.3h0M442.6 102.2h0M451.4 81.7h0M439.4 107.9h0M451 119.5h0M450.6 94.4h0M446.3 117h0M449.4 92h0M454.3 100.1h0M435.9 86.4h0M449.2 125h0M453.8 103.1h0M433.1 107.2h0M444.9 130.9h0M453 87.4h0M445.2 137.4h0M432.4 114.6h0M451.4 107.5h0M446.9 85.8h0M444.8 97.9h0M446.6 120.8h0M444.2 141.9h0M442.4 78.7h0M450.7 119.1h0M450.9 87.5h0M445.6 99.5h0M434 94.6h0M437.5 89.7h0M426.7 84.7h0M454 99.1h0M443.1 107.1h0M450.1 99.7h0M428.7 117h0M437.5 93.7h0M447.4 136.5h0M449.9 77.5h0M440 106.7h0M447.8 148.3h0M440.8 81.9h0M439.8 109.1h0M448.4 128.8h0M446.1 107.5h0M452.1 82.2h0M448.8 131.8h0M440.8 126.6h0M448.3 145.6h0M449 125.4h0M444.3 111.8h0M450.2 125h0M443.5 120.3h0M452.4 74.5h0M450 109.7h0M443.8 130.5h0M452.5 82.5h0M445.3 139.4h0M438 86.6h0M452.6 114.8h0M444.4 132.6h0M429.4 121.6h0M441.4 97.3h0M437.1 86.6h0M448.2 135.6h0M437.7 81.2h0M446.9 119.9h0M443.4 136.3h0M444.1 137.6h0M438.3 87.2h0M453.7 95.6h0M443.6 76h0M449.2 103.6h0M451.5 98.1h0M431.6 103.3h0M452.2 89.1h0M448.2 139.9h0M446 129.3h0M450.7 117.8h0M449.6 109.8h0M444.7 131.8h0M441.3 111h0M445.4 144.7h0M449.1 72.3h0M446.5 137.5h0M444.7 98h0M443.2 133.2h0M432.3 111.9h0M447.1 142.4h0M438.4 84.8h0M429.6 94.2h0M438.1 111h0" stroke="#7f0000" stroke-width="2.3" stroke-linecap="round"/>
<path d="M430 85.6h0M446.2 128.7h0M433.9 93.4h0M435.2 87.1h0M434.6 105.4h0M438 97.1h0M449.2 82.5h0M442.5 118.7h0M438.7 79.8h0M444.6 108.9h0M438.2 87.7h0M443.4 141.2h0M428.1 86.3h0M442.3 102.6h0M435.8 119.1h0M441.4 97.8h0M448.2 95.7h0M443.1 120.9h0M430.6 112.5h0M446.3 125.3h0M437.5 85.5h0M439.9 98.4h0M434.1 93.4h0M440 113.5h0M449.1 131.3h0M438.7 107.7h0M446.7 103.4h0M438.2 91h0M435.5 116h0M431.7 98.4h0M447.6 96.1h0M429.2 114.1h0M440.5 89.7h0M430 112.7h0M430.8 93.5h0M447.4 129.5h0M439.5 82.2h0M447.5 117.7h0M442.1 83h0M441.7 89.8h0M432.7 124.2h0M432.5 102.2h0M433 125h0M436.9 108.3h0M446.8 58.6h0M435.8 85.6h0M447.7 126.4h0M433.7 98.5h0M446.6 93.2h0M449.2 76.8h0M433.4 92.7h0M440.3 119.9h0M427.3 91.7h0M446.1 100.7h0M444.8 78.3h0M449.1 65.4h0M446.4 101.6h0M441.5 80.5h0M443.4 98.6h0M443.3 131.5h0M446.8 100.4h0M436.7 101.3h0M436.2 106.4h0M433.4 119.2h0M448.4 83.3h0M445.4 76.3h0M445.5 95h0M435.7 123.8h0M438.7 102.4h0M436.1 113.9h0M448 72.6h0M447.5 134.6h0M431.8 115.8h0M430.1 99.8h0M430 115.4h0" stroke="#ffe600" stroke-width="2.3" stroke-linecap="round"/>
<path d="M447.7 70.7h0M431.9 118.8h0M445.1 82.9h0M449.9 72.5h0M443.9 64.7h0M429.7 88.2h0M441.8 77.9h0M444.4 70.8h0M449.2 70.5h0M439.5 95.4h0M438.6 100.9h0M446.5 64.1h0M428.2 87.8h0M432.4 95.2h0M452.2 71.3h0M447.3 61.7h0M448.9 59.4h0M429.3 91.2h0M447.1 66.5h0M444.5 84.6h0M452.5 68.9h0M440.6 109.1h0M448.6 52.6h0M449.1 67.6h0M443 67.4h0M442.4 80.6h0M447.1 60.5h0M430 91.2h0M449.1 63.8h0M444.5 56.6h0M444.2 115.5h0M441.7 84.8h0M448.1 90.3h0M447 78.3h0M444.2 83.8h0M446.3 50.4h0M428.2 92.8h0M442.9 116.5h0M429.3 98.9h0M449 83.9h0M447.7 60.2h0M448 71.7h0M431.5 92.5h0M442.3 84.2h0M447 55h0M431.3 90.3h0" stroke="#00e5ee" stroke-width="2.3" stroke-linecap="round"/>
<path d="M440.5 127h0M449.7 58.2h0M444 88.4h0M452 75.5h0M444.2 109.5h0M446 136.6h0M438.7 88.7h0M444.9 107h0M448.6 75.4h0M443.6 92.6h0M433.6 92.2h0M444.5 72.2h0M443.9 117.6h0M439.6 110.6h0M454.2 100h0M431.3 124.8h0M440.1 122.6h0M437.4 87h0M434.3 111.3h0M437.6 112.1h0M447.2 83.7h0M446.9 120.9h0M425.9 87.2h0M434.7 102.3h0M429.8 92.4h0M439.5 88.7h0M449.5 87.4h0M436.3 96.3h0M449.2 131.7h0M442.2 121.6h0M444 82.5h0M441.5 73.8h0M439.4 102h0M451.7 64h0M445.3 108.3h0M453.1 99.7h0M428.2 118.3h0M439.3 77h0M450.7 106.6h0M439 114h0M436.4 87.3h0M435.8 108h0M452.2 79.7h0M451.6 94.7h0M450.5 66.2h0M447.4 102.1h0M429.6 93.6h0M439.5 87.6h0M450.1 78.1h0M433.9 107.9h0M434.3 103.8h0M448.3 122.1h0M451.7 88.4h0M451.6 82.3h0M439.7 113h0M443.3 123.3h0M441.1 104.4h0M451.1 118.2h0M447.4 139.6h0M436.5 114.5h0M440.8 128.6h0M431.3 93.9h0M443.4 84h0M445.2 80.5h0M438.7 108.5h0M446.1 71.4h0M439.4 95.6h0M452.5 86.4h0M444.8 86.3h0M452.2 117.7h0M444.5 139h0M435.5 107.3h0M446.2 108.3h0M448.9 110.8h0M444.2 57.9h0M440.1 117.2h0M452 114.5h0M446.3 135h0M441.4 104.2h0M430.2 110.6h0M447 82h0M436.9 112.9h0M446.3 127h0M440.8 125.3h0M449.9 97.7h0M453.2 90.2h0M431 106.7h0M439.5 97.3h0M452 105h0M448.7 123.1h0M443.8 87.7h0M444.9 87.7h0M438.7 100.8h0M451.2 121.3h0M444.9 125.8h0M434.8 108.7h0M435.3 104.8h0M435.5 98.4h0M449.3 128h0M453.9 107.5h0M430.1 117.1h0M444.8 140.6h0M450.7 73h0M452.4 94.4h0M433 110.9h0M445.2 108.9h0M442.6 103.5h0M448.2 128.7h0" stroke="#ff7f00" stroke-width="2.3" stroke-linecap="round"/>
<path d="M446 94.1h0M444.6 91.8h0M453.1 97.8h0M430.6 94.3h0M430.4 117.4h0M443.9 63h0M435.3 104h0M433 105.8h0M435.6 113.1h0M450.7 68.8h0M451.6 80.3h0M448.8 92.7h0M451 100.8h0M442 88.2h0M445.3 142.1h0M446.1 119.4h0M452.6 84.2h0M448.7 85.5h0M450.5 64.2h0M451.3 100h0M451.4 102.9h0M448.8 58.5h0M434.1 93.3h0M433 97.7h0M443.4 120.6h0M448.3 100.1h0M446.6 125.3h0M445.2 72.7h0M441.2 86h0M451.3 112.7h0M451 69.6h0M449.7 87.8h0M434.1 111.8h0M454.3 106.4h0M446.7 106.1h0M450.4 86.4h0M450.2 116h0M447.6 117.3h0M450.7 114h0M449.2 134.3h0M445 77.2h0M449.7 65.6h0M444 104.3h0M436.4 94.5h0M447.5 124.2h0M433.3 97.7h0M452.5 74.6h0M451.5 65.2h0M452.6 72.8h0M451.8 102.7h0M451.2 84.7h0M450.4 72.9h0M446.4 80.9h0M435.8 115.8h0M447 88.9h0M445.3 93.1h0M443.9 105h0M437.6 103.3h0M438.6 113.5h0M427.8 86.6h0M452 77.9h0M445.4 85.9h0M429.2 118.9h0M451.4 112h0M434.6 88h0M443.7 112.2h0M443.8 65.1h0M448.6 117h0M446.1 66h0M445.3 86.5h0M441.1 101.1h0M449.3 94.2h0M432.7 93.1h0M441.6 96.1h0M439.8 106.4h0M433.6 95.3h0M452.7 82.7h0M443.1 68.5h0M446.7 109.5h0M450.4 90.5h0M453.9 100.6h0M450.6 61.3h0M453.7 105.6h0M441.5 118.9h0" stroke="#ff0000" stroke-width="2.3" stroke-linecap="round"/>
<path d="M444.3 78.4h0M444.7 71.6h0M436 84h0M430.1 119.7h0M429.7 95.3h0M435.9 83.7h0M444.7 57.5h0M432.5 100.2h0M447.6 118.4h0M447.5 68.3h0M441.2 129.2h0M438.3 78.1h0M435.2 112.7h0M444.9 117.2h0M446 73.6h0M446.1 103.4h0M441.2 101.7h0M443.7 115.5h0M443.8 81.1h0M435 98.5h0M440.4 74.3h0M443.8 114.2h0M439 79.6h0" stroke="#7fff7f" stroke-width="2.3" stroke-linecap="round"/>
<path d="M448.9 50.9h0M449.5 56.1h0M449.2 53.3h0M448.7 70.4h0M441.7 70.3h0M445.2 56.2h0" stroke="#007fff" stroke-width="2.3" stroke-linecap="round"/>
<path d="M445.2 53.8h0M446.5 48.1h0M444.7 50.5h0" stroke="#0000ff" stroke-width="2.3" stroke-linecap="round"/>
<path d="M439.4 97.1h0M438.9 87h0M445.5 132.9h0M438.7 97.2h0M452.2 83.8h0M438.4 100.5h0M443.6 110.8h0M433.7 111.2h0M447.6 78.5h0M445.6 108.7h0M439.3 112.3h0M436.9 109.6h0M447.5 137.5h0M448.7 117.1h0M452.1 95.2h0M432.1 85.9h0M437.3 103.1h0M451 69.7h0M448 78.8h0M439.9 89.1h0M436.1 87.1h0M442.9 100.8h0M449.8 131.1h0M433.4 93.9h0M449.1 130.6h0M429.8 87.9h0M448.3 97.2h0M442.8 109.3h0M433.1 95.6h0M440.5 95h0M432.2 90.5h0M440.5 114.1h0M446.1 114.6h0M444 88h0M443.5 81.4h0M445.2 91.1h0M441.5 114h0M430 107.9h0M447.8 107h0M443.7 118.7h0M447.9 70.9h0M447.7 123.3h0M446.3 140.3h0M445.1 83.6h0M447.3 86h0M429.6 110.5h0M429.8 90.7h0M447.4 130.1h0M432.6 104.5h0M434.7 94.4h0M442.5 127h0M437.4 110.2h0M444.8 143.8h0M446.9 141.1h0M451.8 70.1h0M444.1 131.5h0M444.5 79.3h0M448.1 87.2h0M442.1 107.6h0M447.4 142.1h0M445.5 109h0M426.9 91.3h0M443 132.5h0M450.4 85.1h0M451.1 114.8h0M433.4 102h0M442.6 89.9h0M446.8 134.2h0M430.8 114.2h0M446.6 119.5h0M441.2 83.2h0M433.3 97.2h0M452.2 109h0M430 89.5h0M451 120h0M430 101.3h0M444 77.8h0M452.6 75.8h0M444.5 132h0M451 60.9h0M442.6 133.8h0M443.6 128.1h0M434.3 113.3h0M448.6 67.9h0M434.9 120.4h0M452.2 71.2h0M430.5 94.9h0M444 101.9h0M440.5 118.6h0M445.7 63.8h0M449.7 63.4h0" stroke="#ff7f00" stroke-width="2.3" stroke-linecap="round"/>
<path d="M449.9 111h0M447.8 148h0M450.6 67.6h0M443.8 91.1h0M451.3 79h0M445.1 103.8h0M444 114.1h0M450.5 65.2h0M434.7 111.6h0M433 104.2h0M450.3 112.3h0M452.6 71.9h0M429.1 96.3h0M451 62.9h0M451.4 77.6h0M432.8 118.7h0M445.1 143.1h0M440 82.2h0M431 119.9h0M453.3 112.5h0M451 60.9h0M451.2 116.5h0M431 99.5h0M437.2 98.2h0M433.2 111.7h0M450.5 115.5h0M435.9 106.2h0M439.3 110.5h0M446.9 132.2h0M442.5 109.2h0M430.3 118.9h0M440.3 89.4h0M436.3 90.1h0M438.9 80.1h0M449.2 122.5h0M431.3 90.2h0M450.6 120.1h0M444.2 130h0M444.1 94.3h0M443.2 119h0M439.5 110.3h0M440.5 113.7h0M453 86.1h0M451.9 94.1h0M450.3 125.4h0M447.4 99h0M451.2 73.3h0M447.4 101.1h0M451.7 68.1h0M443.6 76.1h0M452.1 75.8h0M437.2 99.2h0M447.3 139.2h0M452 67.1h0M449.9 65.4h0M447.7 93.1h0M451.6 78.9h0M451.8 106.7h0M441.6 120.4h0" stroke="#ff0000" stroke-width="2.3" stroke-linecap="round"/>
<path d="M436.5 98.6h0M444.9 75.4h0M428 94.9h0M446.5 84.3h0M445.2 72.5h0M432.8 85.3h0M444.4 78.4h0M446.9 59h0M444.5 65.9h0M443.2 68.4h0M446.2 67.1h0M429.2 118.8h0M439.5 114.4h0M430.1 98h0M438.3 97.6h0M448.8 54.9h0M449.3 57.7h0M431.4 106.4h0M448.6 49.2h0M447.9 101.9h0M431.4 119.6h0M430.7 107.4h0M443.8 84.6h0M445.3 53.2h0M443.6 65.2h0M444.5 70.6h0M445.2 81.3h0M448.2 71.8h0M448.9 66.5h0M443.9 59.3h0M445.1 68.4h0M442 72.5h0M443.1 75.9h0M443.9 77.5h0M431.5 116.9h0M445.6 102.1h0M444.2 71.5h0M447.8 71.7h0M443.1 71.5h0M429.4 119.4h0M435.5 84.5h0M449 70.8h0M438.6 104.8h0M441.2 82.5h0M428.8 92.2h0M447.6 103.1h0M432.3 91.3h0M452 68.5h0M444.7 84.8h0M437.4 80.9h0M450.2 67.6h0M441.7 71.9h0M439.9 107h0M430.7 106.4h0M442 91.6h0M430.7 118.7h0M447.5 67.3h0M447.5 57.3h0" stroke="#00e5ee" stroke-width="2.3" stroke-linecap="round"/>
<path d="M433.7 110.2h0M442.7 134.9h0M446.6 112.5h0M441.5 112.4h0M435.4 121.6h0M433.5 116.6h0M445.9 83.1h0M446.7 117.3h0M447.6 65.5h0M435.4 118.7h0M444.3 96.6h0M440.1 105.9h0M441.8 105.8h0M442.1 69.1h0M437.9 101.5h0M444.7 132.6h0M444 132.1h0M442.5 97.7h0M431.7 124.3h0M446 131.5h0M427.1 86.9h0M441.5 125.6h0M435.9 112.1h0M438 103.2h0M435.3 89.5h0M443.1 120.5h0M442.2 101.8h0M437.7 107.1h0M428.5 119.3h0M430.9 99.9h0M444.7 87.3h0M433.2 109.9h0M448 89.5h0M441.2 122h0M428.7 95.4h0M439.8 80h0M447.8 147.5h0M426.4 87.5h0M446.4 114.4h0M442.2 94.1h0M448.1 75.3h0M440.6 79.3h0M433.7 99.2h0M446.4 93.3h0M446 81h0M440.9 112.2h0M435.9 117.5h0M428.8 91.4h0M441.1 95h0M431.1 119.1h0M439.6 84.8h0M436.8 87h0M434.5 107.8h0M438 99.2h0M432.8 112.8h0M437.5 103.1h0M439.7 115.3h0M434.1 103.9h0M436 96.2h0M429.2 90.7h0M444.1 57.4h0M442.5 99.8h0M443.5 95.9h0M442.6 103.7h0M437.9 82.9h0M440.4 105.4h0M434.4 85.6h0M444.1 109.2h0M428.2 117.1h0M436 116.8h0M439.9 86.9h0M448.2 132.1h0M430.7 118.2h0M442.6 69.6h0M439 114.1h0M448.5 57.3h0M434.3 104.6h0M445.1 74.5h0M428.5 116h0M446.8 117.9h0M435.8 114.1h0M448.4 87.8h0M446.5 101h0M432.9 106.6h0M442 69.4h0M447.1 123.7h0M443.7 100h0" stroke="#ffe600" stroke-width="2.3" stroke-linecap="round"/>
<path d="M451.5 102.7h0M451.1 112.2h0M452.3 113.4h0M453.3 112.1h0M450.3 113.8h0M436.6 103.3h0M453 98.6h0M438.4 105.9h0M442.6 132.6h0M448.6 91.7h0M452.4 80.9h0M453.2 107.1h0M428.9 115.6h0M447.5 120.5h0M452.1 98.1h0M450 76.9h0M449.8 90.8h0M445.3 97.3h0M441.1 108.6h0M449.6 119.8h0M431.8 107.9h0M440.9 80.6h0M448.5 93.4h0M442.5 72.6h0M449.9 119.5h0M445.3 136.2h0M433.2 117.7h0M442.6 105.4h0M448.5 132.9h0M446.6 139.9h0M437.8 109.8h0M433.5 123.9h0M441.4 84.3h0M444.7 106.4h0M451.4 97.1h0M450.3 92.2h0M444.2 124.2h0M445.7 121.9h0M445.6 146.5h0M454.5 102.8h0M433.5 104.5h0M434 86.7h0M440.7 86.3h0M443.1 136.3h0M453 100h0M448.7 100.9h0M451 112.8h0M441.8 131.6h0M451.9 118.4h0M444.9 139.5h0M453.4 90.6h0M452.7 92h0M434.4 115.6h0M432.1 88.9h0M450.2 100.9h0M447.1 144.3h0M448.9 83.5h0M452.1 113.5h0M444.9 113.5h0M443.8 123.4h0M445.3 137.1h0M449.2 93h0M441.7 103.6h0M452.7 115.5h0M449.3 105.5h0M446.7 130.5h0M451.8 112.2h0M433 113.3h0M437.2 82.2h0M449.4 111.5h0M436.4 118.7h0M448.5 98.1h0M433.3 97.9h0M433.8 89.7h0M452.4 75.5h0M444.1 107.6h0M449.2 113.6h0M449.4 90.3h0M449.5 121.8h0M451.1 117.7h0M440.3 87.3h0M453.5 100.2h0M438 99.4h0M444.9 131.4h0M440.2 99.4h0M439.9 115.7h0M430.8 106.5h0M450.4 127.6h0M446.1 80.3h0M447.4 134.1h0M441.3 93.9h0M438.3 95.4h0M446.4 84.6h0M443.4 125.6h0M437.7 106.6h0M445.4 88.7h0M439.7 113.3h0M444.7 101.3h0M451.7 91.5h0M428.9 120.3h0M450 120.5h0M448.9 134.2h0M447.1 100.5h0M450 90.6h0M446.8 93.9h0M444.8 124.7h0M443.5 97.5h0M445.6 92.5h0M446.3 126.4h0M449.5 99.5h0M442.6 124.3h0M442.1 124.2h0M446.9 117.6h0M444.7 123.6h0M450.7 129.2h0M445.4 144.6h0M438.7 77.5h0M448.2 138.9h0M444.1 80.8h0M442.8 136.2h0M432 95.4h0M439.9 78.6h0M450.9 97.3h0M441.8 79.1h0M450.8 127.8h0M430.7 107.4h0M452.2 101.4h0M442 92.8h0M452.3 101h0M443.3 116.5h0M448.3 122.1h0M444.7 93h0M447.9 76.9h0M452.9 109.4h0M448.1 147.1h0M447.7 100.6h0" stroke="#7f0000" stroke-width="2.3" stroke-linecap="round"/>
<path d="M448.5 57.5h0M426.3 87.8h0M443.5 70.9h0M441 97.2h0M445.1 107.9h0M427.1 85.6h0M442.1 68.7h0M442.3 67.6h0M447.4 68.3h0M443.5 81h0M429.3 98h0M445.8 66.9h0M428.5 116.4h0M430.3 102.4h0M444.5 85.1h0M445.5 76.8h0M430.4 116.6h0M434.2 104.4h0" stroke="#7fff7f" stroke-width="2.3" stroke-linecap="round"/>
<path d="M447.4 49.7h0M444.4 55.6h0M444.8 52.5h0M446.7 50.6h0M448.4 51.2h0M448 49.2h0M444.7 50.6h0" stroke="#0000ff" stroke-width="2.3" stroke-linecap="round"/>
<path d="M446.5 56.9h0M447.1 54.5h0M446.8 62.6h0M446 48.6h0M445.6 71.7h0M448.5 71.6h0M445.5 71.8h0M444.5 59.9h0M446.9 48.6h0M447.3 55.9h0M446.4 56.1h0" stroke="#007fff" stroke-width="2.3" stroke-linecap="round"/>
<path d="M512.5 45L513.6 47.4L516 55.7L518.4 65.3L521.3 74.9L522.2 82L522 87L519 87.8L515 88.6L512.6 90.2L511 89.4L509.8 91L511 95L512.2 99L513 103L515.8 102.2L519 99.8L523 99L527 99L530.1 96.6L532.5 93.4L534.9 92.2L537.3 93.4L538.5 99L539 102.4L538.3 112L539 121.6L539.7 136L539 148L536.6 160L533 169.6L528.2 176.8L523.4 184L518.6 186.4L515 185.2L512.6 179.2L511.9 169.6L510.2 170.8L509 176.8L504.2 179.2L498.2 180.4L495.8 174.4L493.4 160L491.7 148L490.3 136L489.8 124L489.8 109.6L490.5 97.6L491.5 92.8L495 91.4L500 91.5L502.8 90.5L504 84.5L504.8 75L505.7 65.3L507.6 55.7L509.5 48.5L511 45.5Z" fill="#00007f"/>
<path d="M499 169.3h0M522.3 137.5h0M534.2 153.6h0M537.7 141.2h0M525.1 179.6h0M533.8 103h0M505.3 159.5h0M532.2 104h0M537.8 106.3h0M524.6 99.8h0M505.4 76h0M537.4 94.4h0M523.1 160.2h0M492.3 111.2h0M515.1 113.3h0M510.2 92.9h0M535.5 142.9h0M508.5 104h0M504.6 102.2h0M516.9 125.1h0M523.4 111.7h0M507.5 125.3h0M509.9 55h0M537.3 114h0M509.8 172.7h0M534.5 162.2h0M517.1 137h0M506.2 135.9h0M516.5 73.9h0M522.1 157.9h0M524.4 179h0M510.3 69.3h0M535.8 121.3h0M532 115.9h0M515.9 103.7h0M513.4 83.6h0M521.9 136.4h0M490.7 115.7h0M521.5 138.2h0M511.5 148.4h0M507.4 169.7h0M500.6 150.4h0M533 160.9h0M503.6 172.6h0M513.3 157h0M507 82.5h0M491.7 133h0M499.9 117.1h0M508.9 80.3h0M525.6 120.7h0M502.2 153.8h0M503.1 177.2h0M523 164.1h0M534.2 95.1h0M492.6 115.9h0M519.9 180.4h0M514.1 182.2h0M532 153.4h0M516.5 166.6h0M506.9 64.2h0M508.8 95.9h0M534.4 108.4h0M507.9 66.4h0M515.4 159.8h0M503.7 163.9h0M531.7 114.3h0M510 62.8h0M527.8 131.7h0M522.5 158.8h0M497.9 179.2h0M508.7 153h0M497.4 107.5h0M532.9 101.8h0M516.1 77.8h0M531 172.5h0M515 53.7h0M535.2 128.1h0M520.9 81.8h0M522.3 141h0M503.8 152.7h0M505.6 171.8h0M512 139.4h0M498.6 119h0M510.5 136.3h0M530.4 143h0M516.8 62.3h0M537.7 133.4h0M515.5 155.6h0M496.2 152.6h0M505.3 166.8h0M530.7 170.4h0M513.8 73.1h0M515 176.6h0M506.7 132.6h0M535.4 104h0M507.8 146h0M497.5 122.3h0M528.6 155.7h0M521.2 183.5h0M535.7 103.6h0M504.9 152.6h0M506.6 130.1h0M517.6 161.7h0M510.1 56.7h0M517.6 70h0M528.9 154.5h0M518.4 101.3h0M501.8 108.1h0M507.5 73.6h0M518.8 154.2h0M510.5 168.3h0M520 142.8h0M528.6 168.5h0M501.4 168h0M508.4 94.6h0M511.8 72h0M515.2 163.7h0M494.8 134h0M513.6 161.6h0M494 115.5h0M502.5 123.6h0M512.3 87.8h0M518.6 154.1h0M521.1 139h0M511.3 82.8h0M506.9 107.2h0M536 114.1h0M516.6 164h0M512.4 132h0M493.5 98.8h0M532.5 131.4h0M504.2 99.7h0M529.4 162.4h0M503.9 95.6h0M505.5 68.7h0M512.5 163h0M529.4 97.1h0M505.1 92.5h0M526.4 134.5h0M493.9 120.1h0M500.9 159.7h0M534.6 146.7h0M530.2 112.1h0M533.9 118.8h0M531.2 169.7h0M507.3 170.6h0M501.2 136.6h0M510.5 165.2h0M522.6 152.2h0M534.2 118.3h0M511.2 78.1h0M507 150.1h0M495.9 144.7h0M507.5 86.5h0M503.6 176.5h0M505 130.9h0M535.2 158.2h0M500.4 164.3h0M536.3 154.2h0M492.3 117.6h0M519 170.6h0M510.7 77.7h0M514.1 120.8h0M515.7 167.1h0M515.4 152.5h0M497.7 178.6h0M516.8 153h0M517.5 115.2h0M501.4 168.4h0M524.2 114.6h0M518.7 182.9h0M505.1 73.2h0M508.6 171.7h0M510.8 68.5h0M514.7 63h0M509.3 151.3h0M528.1 173.1h0M504.5 101.8h0M506.1 148.7h0M507.9 169.2h0M538.7 148.2h0M510.4 81.2h0M528.8 153.2h0M508.5 70.8h0M514.1 112.3h0M528.7 174.1h0M507.4 118h0M519.6 102.4h0M509.6 127.1h0M527.9 133.7h0M518.2 134.5h0M523.9 146.8h0M509.2 63.6h0M510 120.4h0M500.3 156h0M515.9 179.7h0M527.2 113.6h0M496.3 175.5h0M515.3 64.5h0M499.6 113.4h0M517 84.3h0M501.3 104.8h0M504 160.4h0M512.2 72.8h0M517.4 136.3h0M501.1 135.7h0M509.7 148h0M505.3 154.3h0M504.5 91.2h0M496.3 129.3h0M516 80.9h0M516.3 173.3h0M529 123.3h0M514.9 80.4h0M495.3 112.5h0M519.6 107.2h0M501.4 173.4h0M534.5 127.1h0M518.9 124.2h0M517.9 67.6h0M506.5 164.3h0M534.6 97.2h0M508.7 129.9h0M494.8 106.2h0M529 115.9h0M506.3 96.2h0M498.9 92.7h0M513.7 180h0M511.1 99.2h0M511.2 162.1h0M514.9 154.8h0M514.2 85.3h0M504.7 123.3h0M521.3 111.2h0M513.9 169.7h0M524.7 130.4h0M532.2 118h0M520.4 127.9h0M531.4 171.8h0M506.1 124.9h0M512.1 145.4h0M515.5 59.9h0M533.9 118.8h0M491.8 96.8h0M508.6 95.1h0M515.1 111.5h0M494.3 149.4h0M533.1 137h0M513.7 102.9h0M503.9 127.8h0M515 63.5h0M531.8 161.4h0M514.9 80.1h0M534.5 111.4h0M509.2 146.8h0M534.4 111.6h0M514.6 157.4h0M498.1 105.2h0M508.4 135h0M508.3 169.8h0M521.1 151.8h0M523.8 120.2h0M532.6 164.5h0M501.9 129.5h0M493.2 95.7h0M529 164.3h0M530.6 110.8h0M514.7 165.4h0M512.9 85.7h0M499.8 125.7h0M514 140.5h0M501.9 123.1h0M534.7 163h0M511.9 118.1h0M523.4 117.1h0M500.8 132.1h0M490.9 140.6h0M530 166.9h0M499.3 130.5h0M525.1 122.8h0M537.7 123.8h0M506.1 94.6h0M525.8 164h0M495.7 106.9h0M519.7 139.9h0M520.7 165.5h0M518.4 110.8h0M493.8 107.7h0M496.1 112h0M490.3 111.2h0M498.5 114.8h0M514.4 117.4h0M527.9 144.3h0M513.6 151.6h0M499.7 97.1h0M508.5 170.4h0M504.5 93.8h0M505.4 69.1h0M493.6 138.1h0M521.4 112.8h0M526.7 134.1h0M510.6 143.1h0M517.7 155.7h0M509.1 122.8h0M504 165.5h0M533.8 120.9h0M519.5 74.3h0M536.1 154.5h0M525.1 175.2h0M508 57.6h0M521.1 110.9h0M512 121.9h0M491.3 107.1h0M491.5 98.1h0M530.8 125.6h0M494 95.2h0M522.6 153.6h0M530.4 109.6h0M529 153.1h0M507.9 92.7h0M490.3 120.6h0M505.5 177.9h0M518.8 159.1h0M515.6 153.9h0M521.9 165.8h0M517.1 69.6h0M530.5 132.3h0M513.8 70.7h0M512 84.7h0M498.3 139.8h0M503.8 145.1h0M519 135.1h0M520.2 104.5h0M511.4 82.5h0M533.7 151.7h0M521.5 164h0M511.8 136.3h0M533.2 112.6h0M516.8 167.1h0M519.5 170.1h0M507.6 167.5h0M496.1 132.6h0M514.5 55.1h0M512.9 129.8h0M508.8 148.7h0M506.1 158.9h0M511.2 57h0M508.1 62h0M513.8 131h0M534 102.8h0M499.3 143h0M509.4 106.4h0M508.6 148.9h0M516.6 84h0M514.1 111.5h0M498.6 178.7h0M495 93.5h0M510.7 68.2h0M517.6 63.2h0M511 127.2h0M511.2 63.2h0M506.7 159h0M501.8 117.8h0M533 125.5h0M520.4 131.7h0M513.7 135.7h0M508.2 81.3h0M538.1 121.4h0M490.5 99h0M503 141.4h0M524.6 137.5h0M499.7 167.5h0M508.4 87.3h0M499.5 145.7h0M493.9 128.8h0M519.1 101.4h0M522.1 110.5h0M536.2 118.6h0M524.7 100.5h0M523.5 176.8h0M490.4 105.8h0M506.1 153.5h0M498.7 162.1h0M517.8 124.8h0M517.7 67.4h0M533.7 111.2h0M494.1 98.1h0M535.3 140.1h0M536 105.9h0M511.4 123.5h0M514.6 127.8h0M525.8 150.2h0M517.5 133.4h0M490.7 131.7h0M534.6 128.7h0M496.7 172.4h0M493.4 151.3h0M496.7 125.2h0M522.6 124h0M504.3 122.3h0M512.8 104.6h0M519.2 141.7h0M538 98.9h0M511.2 46.4h0M499.5 157.7h0M497.5 125.2h0M530.5 108.8h0M503.1 122.3h0M492.5 96.7h0M534.9 140.6h0M538.2 145.5h0M507.4 88.1h0M514.7 117h0M497.9 161.8h0M495.4 159.5h0M497.3 94.4h0M534.2 101.8h0M501.2 108.3h0M537.4 135.6h0M516.9 59.7h0M519.6 75.8h0M514.3 132.3h0M503.4 107.1h0M523.3 181.7h0M521.9 85.2h0M535.5 94.1h0M499.4 180.1h0M492.4 108.8h0M532.5 169h0M534 115.8h0M522.9 163.1h0M501.8 98.3h0M492.1 94.4h0M531.7 168.9h0M502.4 147.6h0M499.5 98.7h0M530.5 121.7h0M530.6 132.7h0M534.4 160h0M505.8 171.8h0M517.9 170.6h0M520.1 162.8h0M523.4 116.3h0M505.4 166.6h0M527.6 159.1h0M527.3 127.7h0M527.6 130.7h0M517.9 182.8h0M504.8 100.8h0M515.6 174.7h0M497.7 99.7h0M510.9 105.1h0M495.6 134.3h0M517.4 148.8h0M509 163h0M530.2 154.5h0M525.8 121.5h0M515 175.1h0M508.9 123.5h0M520.3 148.9h0M539.5 137.7h0M522.6 100.5h0M515.4 63.7h0M509.9 138.9h0M514 67h0M522.1 148.6h0M519.8 102.9h0M497.2 165.5h0M500.7 102.2h0M515.7 75.1h0M514 178.3h0M536.1 107.3h0M513.7 52.7h0M498.1 121.5h0M519.3 78.5h0M518.2 74.1h0M491.6 120.9h0M497.8 116.9h0M534 141h0M515.6 159.9h0M534.5 107.7h0M512.6 120.2h0M500 124.2h0M515 144.4h0M491.6 98.8h0M498.8 129h0M531.4 122.6h0M507 167.2h0M514 143.3h0M527.6 111.8h0M510.3 139.4h0M538.7 127.3h0M513.1 68.7h0M522.1 151h0M508.5 111.2h0M533.2 153.7h0M516.4 178.7h0M514.3 159.8h0M499.3 91.9h0M501.7 164.7h0" stroke="#00007f" stroke-width="2" stroke-linecap="round"/>
<path d="M503 98h0M506 94h0M509.4 100.6h0M504.6 104.6h0M514.2 107h0M523 119h0M517.4 121.3h0M527.7 107.7h0M507.5 96h0M510.5 103.5h0M508 106h0M515.5 131h0M516.5 135h0M515 139h0M517 142h0M509.5 157h0M510.2 159.5h0M509.8 162h0M520 112h0M499 130h0M528 140h0M505 150h0M522 160h0" stroke="#fff" stroke-width="1.5" stroke-linecap="round"/>
<path d="M520.2 94.6h0M517.4 98.2h0M524.5 96.5h0" stroke="#00007f" stroke-width="2.4" stroke-linecap="round"/>
<path d="M589.3 47.7L592.1 49.6L593.5 59.2L594.9 66.8L595.3 78.3L595.8 89.8L596.4 97.5L597.2 105.1L596.4 110.9L594.9 116.6L594 122.4L593.1 130L592.1 135.8L591.2 143.4L590.3 150.2L589 151.1L587.5 147.3L585.6 139.6L584.6 132L582.8 126L581.3 118L580.4 112L579.4 118L578.7 124.3L576 125.5L573.6 125.2L571.6 122.4L571.1 116.6L572.2 110.9L573.6 105.1L571.6 97.5L568.5 86L569.8 84.4L574.4 86L578.1 84.1L580.9 78.3L583.4 72.6L585.2 66.8L586.6 59.2L587.1 51.5L587.5 48.6Z" fill="#e8497a"/>
<path d="M586.7 101.6h0M591.7 98.1h0M591.3 127.1h0M593.6 87.4h0M595.8 113h0M581.5 94h0M578.3 101h0M593.3 126.8h0M590.9 129.5h0M590.1 72.2h0M585.2 75.6h0M592.2 130.3h0M581.4 111.2h0M589.1 48.4h0M582.7 100.3h0M584.3 73.7h0M574.9 88.1h0M584.5 86.7h0M578.4 89.3h0M590.8 112.3h0M588.1 81.2h0M593.8 100.3h0M590.7 101.1h0M575.9 121.1h0M589.9 101.6h0M583.6 75.8h0M592.5 68.9h0M593.8 88.9h0M580.7 91h0M592.8 119.3h0M583.8 122.6h0M588.1 52.5h0M587 63h0M585.3 124.5h0M587.3 138h0M583.9 117.6h0M588.9 60.7h0M590.7 69.3h0M582.9 94.3h0M585.7 98.6h0M589.6 51.1h0M583.6 93.1h0M590.3 104.8h0M587 105.3h0M583.3 110.8h0M591.9 76.3h0M579.6 100.8h0M582.6 76.9h0M594 70.5h0M586.5 72.7h0M587.7 62.3h0M588.5 80.5h0M579.6 87.5h0M592.1 51.5h0M577.5 118.9h0M589.8 103.3h0M588.7 129.8h0M578.1 84.8h0M588 124.1h0M574.2 89.3h0M576.5 111.9h0M595.5 102.8h0M581 87.3h0M595.3 78.2h0M569.6 88.2h0M588.6 126.3h0M591.2 66.1h0M573.9 109.4h0M584.3 127.8h0M591.5 63.9h0M589.9 72.6h0M591.9 88.4h0M586.3 102.4h0M591.4 116.2h0M576.2 114.6h0M577.1 86.3h0M587.9 131.5h0M588 83.6h0M595.2 95.4h0M589.4 96.9h0M578.6 96h0M586.5 133.1h0M588.8 100h0M591.6 57.4h0M588 128.6h0M590.8 57.8h0M596.3 110.8h0M578.6 87.7h0M585.9 73h0M587 134.4h0M595.2 95.7h0M590.7 74.6h0M593.8 113.6h0M573.6 95.3h0M591.9 113.6h0M580.6 91.1h0M595.1 97h0M594.2 98h0M580.7 84.8h0M590.6 73.4h0M587.2 124.9h0M580.8 112h0M582.5 123.6h0M583.9 103.7h0M585.3 68.1h0M589.6 75.5h0M587.5 91h0M589.5 67.1h0M582.8 103.4h0M579.7 86.1h0M585.7 79.4h0M593.3 73.4h0M590.9 69.1h0M592.8 59h0M586.7 136h0M592.3 123.7h0M588.1 120.5h0M582.8 77.4h0M588.5 108.3h0M589.3 89.6h0M581.2 99.3h0M586.7 85.4h0M579 115.3h0M590.1 85.4h0M581.6 98h0M585.3 90.8h0M577.9 117.1h0M586.4 63.5h0M575.5 89.1h0M583.4 82.5h0M594.1 71.3h0M585.1 132.3h0M589.1 96.2h0M573.2 115.9h0M587.5 83.3h0M591.2 73.2h0M572.8 119.2h0M580.7 79.7h0M586.5 102.1h0M584.5 113.5h0M574.2 100h0M577.2 117h0M593.4 116.3h0M587.6 127.3h0M587.2 104.5h0M589.6 96.5h0M585.5 65.1h0M588.3 101.5h0M588 71.3h0M587.9 51.4h0M573.3 110.2h0M586.4 122.9h0M586.1 74.2h0M591.1 60.9h0M594.1 66h0M596.5 99.5h0M588.6 98h0M580.9 82.4h0M569.9 85.3h0M577 105h0M588.9 108.4h0M571.8 115h0M588.6 64.8h0M586.4 118.8h0M588.6 63.6h0M572.4 115.4h0M595.3 114.7h0M586.6 66.5h0M573.3 115.3h0M591.5 133.2h0M584.9 93.8h0M592.8 63.5h0M586.3 133.6h0M590.3 141h0M593 74h0M589.4 125.9h0M577.7 119.6h0M581.7 79.5h0M591 131.8h0M573.3 94.4h0M589.2 147.9h0M586.7 86h0M596.2 105.5h0M585 113.5h0M585.9 109.9h0M573.9 120.3h0M590.4 127.8h0M573.1 108.6h0M577.5 124h0M578.6 95.5h0M571.8 96h0M578.3 121h0M592.5 83.1h0M588.2 118.5h0M586.2 74h0M583.8 73.3h0M589.2 123.7h0M590 107.3h0M583.8 125.4h0M586.9 86.1h0M571.8 120.8h0M583.9 79.1h0M583.1 93.8h0M575.3 106.6h0M580.5 80.4h0M587.9 124.1h0M588.4 106.5h0M587.7 48.5h0M595.2 86h0M593.1 100.3h0M579.2 115.8h0M588 52.2h0M573.5 89.6h0M589.2 81.4h0M592.8 101.4h0M593.1 89h0M573.4 110.1h0M592 103.1h0M573.9 90.5h0M587 104.8h0M574.4 97.9h0M579.4 83.6h0M589.4 109.5h0M590 50.2h0M583.5 125.2h0M578.8 99.6h0M579.9 83.3h0M591.9 72.3h0M593.8 68.2h0M580.3 84.5h0M588.8 123.7h0M591.3 107h0M590.9 55.6h0M590.8 111.8h0M590.2 121.8h0M587.5 57.3h0M595.6 102.6h0M591.2 50.6h0M572.5 94.6h0M586.5 96.3h0M596.2 98h0M590.1 136.1h0M591.5 109.8h0M582.6 108.1h0M575 122.5h0M589.4 145.8h0M585.7 89.3h0M589.6 92.4h0M571.2 90.9h0M594.9 80h0M592.4 125.8h0M582.4 111.5h0M578.4 112.4h0M582.2 83.5h0M584.3 90.2h0M588.9 57h0M585.2 123.2h0M589.8 119.4h0M589.1 137.5h0M585.6 133.6h0M592.8 110.9h0M588.4 70.3h0M591.3 115.2h0M575.7 100.9h0M586.7 63.1h0M582.2 84.1h0M573.2 96.3h0M587 83.1h0M586.7 130.3h0M572.3 115.1h0M577.1 111.2h0M578.3 94.2h0M593.6 123.5h0M583.7 85.3h0M585.1 109h0M587 118.6h0M585.9 91.7h0M591.4 134.9h0M587.8 104.2h0M583.4 106.1h0M587 135.8h0M593.5 97.6h0M582 81.5h0M589.4 115.5h0M581 79.2h0M591.8 76.5h0M582.6 88.1h0M593.9 67.6h0M590.5 62.3h0M591.3 89h0M588.4 55.5h0M570.6 87.6h0M579.9 86.8h0M582.6 87.8h0M590.9 63.4h0M587 115.4h0M590.9 119h0M586.4 86.3h0M578.8 110.1h0M589 124.2h0" stroke="#e8497a" stroke-width="2" stroke-linecap="round"/>
<path d="M653.2 45L654.2 47.4L656.6 55.7L658.9 65.3L661.7 74.9L662.6 82L662.4 87L659.5 87.8L655.6 88.6L653.3 90.2L651.7 89.4L650.5 91L651.7 95L652.9 99L653.6 103L656.4 102.2L659.5 99.8L663.4 99L667.2 99L670.2 96.6L672.6 93.4L674.9 92.2L677.2 93.4L678.4 99L678.9 102.4L678.2 112L678.9 121.6L679.6 136L678.9 148L676.6 160L673.1 169.6L668.4 176.8L663.7 184L659.1 186.4L655.6 185.2L653.3 179.2L652.6 169.6L650.9 170.8L649.8 176.8L645.1 179.2L639.3 180.4L637 174.4L634.6 160L633 148L631.6 136L631.1 124L631.1 109.6L631.8 97.6L632.8 92.8L636.2 91.4L641 91.5L643.7 90.5L644.9 84.5L645.7 75L646.6 65.3L648.4 55.7L650.3 48.5L651.7 45.5Z" fill="#2eb4d2"/>
<path d="M640.1 169.3h0M662.7 137.5h0M674.2 153.6h0M677.6 141.2h0M665.4 179.6h0M673.8 103h0M646.2 159.5h0M672.3 104h0M677.7 106.3h0M665 99.8h0M646.3 76h0M677.4 94.4h0M663.5 160.2h0M633.5 111.2h0M655.7 113.3h0M651 92.9h0M675.5 142.9h0M649.2 104h0M645.5 102.2h0M657.4 125.1h0M663.7 111.7h0M648.4 125.3h0M650.6 55h0M677.2 114h0M650.5 172.7h0M674.5 162.2h0M657.6 137h0M647 135.9h0M657.1 73.9h0M662.5 157.9h0M664.7 179h0M651 69.3h0M675.7 121.3h0M672.1 115.9h0M656.5 103.7h0M654 83.6h0M662.3 136.4h0M632 115.7h0M661.9 138.2h0M652.2 148.4h0M648.2 169.7h0M641.6 150.4h0M673.1 160.9h0M644.5 172.6h0M653.9 157h0M647.8 82.5h0M633 133h0M641 117.1h0M649.7 80.3h0M665.9 120.7h0M643.2 153.8h0M644 177.2h0M663.4 164.1h0M674.2 95.1h0M633.9 115.9h0M660.4 180.4h0M654.7 182.2h0M672.1 153.4h0M657 166.6h0M647.7 64.2h0M649.5 95.9h0M674.4 108.4h0M648.7 66.4h0M656 159.8h0M644.6 163.9h0M671.8 114.3h0M650.8 62.8h0M668 131.7h0M662.9 158.8h0M639 179.2h0M649.5 153h0M638.5 107.5h0M673 101.8h0M656.7 77.8h0M671.1 172.5h0M655.6 53.7h0M675.2 128.1h0M661.3 81.8h0M662.7 141h0M644.8 152.7h0M646.4 171.8h0M652.7 139.4h0M639.6 119h0M651.2 136.3h0M670.5 143h0M657.3 62.3h0M677.6 133.4h0M656 155.6h0M637.3 152.6h0M646.2 166.8h0M670.9 170.4h0M654.4 73.1h0M655.6 176.6h0M647.6 132.6h0M675.4 104h0M648.6 146h0M638.6 122.3h0M668.8 155.7h0M661.6 183.5h0M675.7 103.6h0M645.8 152.6h0M647.5 130.1h0M658.1 161.7h0M650.8 56.7h0M658.1 70h0M669 154.5h0M658.9 101.3h0M642.8 108.1h0M648.3 73.6h0M659.2 154.2h0M651.3 168.3h0M660.4 142.8h0M668.8 168.5h0M642.4 168h0M649.2 94.6h0M652.5 72h0M655.7 163.7h0M636 134h0M654.2 161.6h0M635.2 115.5h0M643.4 123.6h0M653 87.8h0M659.1 154.1h0M661.5 139h0M652 82.8h0M647.8 107.2h0M676 114.1h0M657.2 164h0M653 132h0M634.7 98.8h0M672.5 131.4h0M645.1 99.7h0M669.6 162.4h0M644.8 95.6h0M646.4 68.7h0M653.2 163h0M669.6 97.1h0M646 92.5h0M666.6 134.5h0M635.1 120.1h0M641.9 159.7h0M674.6 146.7h0M670.3 112.1h0M674 118.8h0M671.3 169.7h0M648.1 170.6h0M642.2 136.6h0M651.2 165.2h0M663 152.2h0M674.2 118.3h0M651.9 78.1h0M647.8 150.1h0M637.1 144.7h0M648.3 86.5h0M644.5 176.5h0M645.9 130.9h0M675.2 158.2h0M641.4 164.3h0M676.3 154.2h0M633.5 117.6h0M659.4 170.6h0M651.4 77.7h0M654.7 120.8h0M656.2 167.1h0M656 152.5h0M638.8 178.6h0M657.3 153h0M658 115.2h0M642.4 168.4h0M664.6 114.6h0M659.2 182.9h0M646 73.2h0M649.4 171.7h0M651.5 68.5h0M655.3 63h0M650 151.3h0M668.3 173.1h0M645.4 101.8h0M646.9 148.7h0M648.7 169.2h0M678.5 148.2h0M651.1 81.2h0M668.9 153.2h0M649.3 70.8h0M654.7 112.3h0M668.9 174.1h0M648.3 118h0M660 102.4h0M650.3 127.1h0M668.1 133.7h0M658.7 134.5h0M664.3 146.8h0M650 63.6h0M650.7 120.4h0M641.3 156h0M656.4 179.7h0M667.5 113.6h0M637.4 175.5h0M655.9 64.5h0M640.6 113.4h0M657.5 84.3h0M642.3 104.8h0M644.9 160.4h0M652.9 72.8h0M658 136.3h0M642.1 135.7h0M650.5 148h0M646.2 154.3h0M645.4 91.2h0M637.4 129.3h0M656.5 80.9h0M656.8 173.3h0M669.2 123.3h0M655.5 80.4h0M636.5 112.5h0M660 107.2h0M642.3 173.4h0M674.6 127.1h0M659.4 124.2h0M658.4 67.6h0M647.3 164.3h0M674.7 97.2h0M649.4 129.9h0M636 106.2h0M669.2 115.9h0M647.2 96.2h0M640 92.7h0M654.4 180h0M651.8 99.2h0M651.9 162.1h0M655.5 154.8h0M654.9 85.3h0M645.6 123.3h0M661.7 111.2h0M654.5 169.7h0M665 130.4h0M672.3 118h0M660.8 127.9h0M671.5 171.8h0M646.9 124.9h0M652.8 145.4h0M656.1 59.9h0M673.9 118.8h0M633.1 96.8h0M649.4 95.1h0M655.7 111.5h0M635.5 149.4h0M673.2 137h0M654.3 102.9h0M644.8 127.8h0M655.6 63.5h0M671.9 161.4h0M655.5 80.1h0M674.6 111.4h0M649.9 146.8h0M674.4 111.6h0M655.2 157.4h0M639.2 105.2h0M649.2 135h0M649.1 169.8h0M661.6 151.8h0M664.1 120.2h0M672.7 164.5h0M642.9 129.5h0M634.4 95.7h0M669.2 164.3h0M670.7 110.8h0M655.3 165.4h0M653.5 85.7h0M640.8 125.7h0M654.7 140.5h0M642.9 123.1h0M674.7 163h0M652.6 118.1h0M663.8 117.1h0M641.8 132.1h0M632.2 140.6h0M670.2 166.9h0M640.3 130.5h0M665.4 122.8h0M677.7 123.8h0M647 94.6h0M666.1 164h0M636.9 106.9h0M660.1 139.9h0M661.1 165.5h0M658.9 110.8h0M635 107.7h0M637.3 112h0M631.6 111.2h0M639.6 114.8h0M655 117.4h0M668.1 144.3h0M654.2 151.6h0M640.7 97.1h0M649.3 170.4h0M645.4 93.8h0M646.3 69.1h0M634.8 138.1h0M661.8 112.8h0M667 134.1h0M651.3 143.1h0M658.2 155.7h0M649.9 122.8h0M644.9 165.5h0M673.8 120.9h0M660 74.3h0M676 154.5h0M665.4 175.2h0M648.8 57.6h0M661.5 110.9h0M652.7 121.9h0M632.6 107.1h0M632.8 98.1h0M671 125.6h0M635.2 95.2h0M662.9 153.6h0M670.5 109.6h0M669.2 153.1h0M648.7 92.7h0M631.6 120.6h0M646.4 177.9h0M659.2 159.1h0M656.1 153.9h0M662.3 165.8h0M657.7 69.6h0M670.6 132.3h0M654.4 70.7h0M652.7 84.7h0M639.4 139.8h0M644.7 145.1h0M659.4 135.1h0M660.7 104.5h0M652.1 82.5h0M673.8 151.7h0M661.9 164h0M652.5 136.3h0M673.3 112.6h0M657.3 167.1h0M660 170.1h0M648.4 167.5h0M637.2 132.6h0M655.1 55.1h0M653.5 129.8h0M649.6 148.7h0M647 158.9h0M651.9 57h0M648.8 62h0M654.5 131h0M674 102.8h0M640.4 143h0M650.2 106.4h0M649.4 148.9h0M657.1 84h0M654.7 111.5h0M639.7 178.7h0M636.2 93.5h0M651.4 68.2h0M658.1 63.2h0M651.7 127.2h0M651.9 63.2h0M647.5 159h0M642.8 117.8h0M673.1 125.5h0M660.9 131.7h0M654.3 135.7h0M649 81.3h0M678 121.4h0M631.8 99h0M644 141.4h0M664.9 137.5h0M640.7 167.5h0M649.2 87.3h0M640.5 145.7h0M635.1 128.8h0M659.6 101.4h0M662.4 110.5h0M676.2 118.6h0M665 100.5h0M663.9 176.8h0M631.7 105.8h0M646.9 153.5h0M639.7 162.1h0M658.3 124.8h0M658.2 67.4h0M673.7 111.2h0M635.3 98.1h0M675.3 140.1h0M676 105.9h0M652.1 123.5h0M655.2 127.8h0M666.1 150.2h0M658 133.4h0M632 131.7h0M674.6 128.7h0M637.8 172.4h0M634.6 151.3h0M637.8 125.2h0M663 124h0M645.2 122.3h0M653.4 104.6h0M659.7 141.7h0M678 98.9h0M651.9 46.4h0M640.5 157.7h0M638.6 125.2h0M670.7 108.8h0M644.1 122.3h0M633.7 96.7h0M674.9 140.6h0M678.1 145.5h0M648.3 88.1h0M655.3 117h0M639 161.8h0M636.6 159.5h0M638.4 94.4h0M674.3 101.8h0M642.2 108.3h0M677.4 135.6h0M657.4 59.7h0M660 75.8h0M654.9 132.3h0M644.3 107.1h0M663.6 181.7h0M662.3 85.2h0M675.5 94.1h0M640.5 180.1h0M633.6 108.8h0M672.6 169h0M674 115.8h0M663.3 163.1h0M642.8 98.3h0M633.3 94.4h0M671.8 168.9h0M643.4 147.6h0M640.6 98.7h0M670.6 121.7h0M670.8 132.7h0M674.5 160h0M646.6 171.8h0M658.4 170.6h0M660.6 162.8h0M663.7 116.3h0M646.2 166.6h0M667.8 159.1h0M667.6 127.7h0M667.8 130.7h0M658.4 182.8h0M645.7 100.8h0M656.1 174.7h0M638.8 99.7h0M651.7 105.1h0M636.8 134.3h0M657.9 148.8h0M649.7 163h0M670.3 154.5h0M666.1 121.5h0M655.6 175.1h0M649.6 123.5h0M660.7 148.9h0M679.4 137.7h0M663 100.5h0M655.9 63.7h0M650.6 138.9h0M654.7 67h0M662.4 148.6h0M660.2 102.9h0M638.4 165.5h0M641.7 102.2h0M656.2 75.1h0M654.6 178.3h0M676.1 107.3h0M654.3 52.7h0M639.2 121.5h0M659.8 78.5h0M658.7 74.1h0M632.9 120.9h0M638.9 116.9h0M674 141h0M656.2 159.9h0M674.5 107.7h0M653.3 120.2h0M641 124.2h0M655.6 144.4h0M632.9 98.8h0M639.9 129h0M671.5 122.6h0M647.8 167.2h0M654.6 143.3h0M667.9 111.8h0M651 139.4h0M678.6 127.3h0M653.7 68.7h0M662.5 151h0M649.3 111.2h0M673.3 153.7h0M657 178.7h0M655 159.8h0M640.3 91.9h0M642.7 164.7h0" stroke="#2eb4d2" stroke-width="2" stroke-linecap="round"/>
<path d="M660.6 94.6h0M657.9 98.2h0M664.8 96.5h0" stroke="#2eb4d2" stroke-width="2.4" stroke-linecap="round"/>
<path d="M672.8 95.6L665.6 107.1L658.4 116.7L654.6 126.3L652.2 135.9L651 145.5L649.8 155.1L647.4 164.7L645 174.3L642.6 179.1L638 179L634 166L631.5 148L631 135L632 126L638 121L646.4 111.9L653.6 105.9L660.8 101.2L668 96.4Z" fill="#6cc994"/>
<path d="M640.1 169.3h0M646.2 159.5h0M655.7 113.3h0M648.4 125.3h0M647 135.9h0M641.6 150.4h0M649.7 80.3h0M643.2 153.8h0M649.5 153h0M656.7 77.8h0M644.8 152.7h0M651.2 136.3h0M637.3 152.6h0M647.6 132.6h0M648.6 146h0M638.6 122.3h0M645.8 152.6h0M642.4 168h0M636 134h0M653 87.8h0M653 132h0M634.7 98.8h0M669.6 97.1h0M641.9 159.7h0M642.2 136.6h0M647.8 150.1h0M637.1 144.7h0M645.9 130.9h0M641.4 164.3h0M654.7 120.8h0M638.8 178.6h0M658 115.2h0M642.4 168.4h0M650 151.3h0M651.1 81.2h0M648.3 118h0M660 102.4h0M650.7 120.4h0M637.4 175.5h0M644.9 160.4h0M642.1 135.7h0M646.2 154.3h0M637.4 129.3h0M660 107.2h0M642.3 173.4h0M658.4 67.6h0M647.3 164.3h0M649.4 129.9h0M645.6 123.3h0M646.9 124.9h0M655.7 111.5h0M635.5 149.4h0M644.8 127.8h0M649.9 146.8h0M649.2 135h0M642.9 129.5h0M642.9 123.1h0M652.6 118.1h0M641.8 132.1h0M640.3 130.5h0M655 117.4h0M634.8 138.1h0M644.9 165.5h0M648.8 57.6h0M661.5 110.9h0M652.7 121.9h0M632.6 107.1h0M639.4 139.8h0M644.7 145.1h0M660.7 104.5h0M653.5 129.8h0M649.6 148.7h0M647 158.9h0M648.8 62h0M640.4 143h0M654.7 111.5h0M639.7 178.7h0M647.5 159h0M642.8 117.8h0M631.8 99h0M644 141.4h0M640.7 167.5h0M640.5 145.7h0M662.4 110.5h0M665 100.5h0M646.9 153.5h0M639.7 162.1h0M652.1 123.5h0M632 131.7h0M637.8 172.4h0M634.6 151.3h0M645.2 122.3h0M640.5 157.7h0M638.6 125.2h0M644.1 122.3h0M655.3 117h0M639 161.8h0M636.6 159.5h0M643.4 147.6h0M640.6 98.7h0M646.2 166.6h0M636.8 134.3h0M649.6 123.5h0M663 100.5h0M655.9 63.7h0M650.6 138.9h0M660.2 102.9h0M638.4 165.5h0M653.3 120.2h0M639.9 129h0M651 139.4h0M649.3 111.2h0M642.7 164.7h0M645 133h0M645.7 113.9h0M636.9 125.2h0M637.7 153.6h0M650.5 76.4h0M645.3 130.9h0M635 131.3h0M648 151.6h0M641.6 162.9h0M636.3 159.6h0M641.8 154.1h0M639.6 156.4h0M646.1 157.1h0M659.3 110h0M635.1 143.3h0M637.7 153.5h0M633.8 131.4h0M644.9 91.5h0M663.3 108.2h0M655.9 116h0M647.3 162.2h0M645 145.6h0M647.7 108.9h0M651.6 132h0M660.9 111.6h0M657.5 108.6h0M639.4 156.7h0M647.3 145.5h0M647.2 116h0M646.8 136.1h0M649.6 122.7h0M642.7 154.8h0M644.6 145.5h0M655.4 105.1h0M650.1 69.8h0M644.6 156.8h0M640.1 161.7h0M637.3 171h0M642.7 172.3h0M670.8 98.7h0M645.8 169.6h0M665.9 105.8h0M650.3 119.8h0M637.1 138.5h0M645.6 123.3h0M646.3 134h0M639.2 170.5h0M634.3 100.9h0M670.5 97.2h0M642.3 161.7h0M651.9 135.3h0M651.4 133.7h0M635.6 155.4h0M648.8 124.9h0M642.9 141.7h0M654.3 125.2h0M639.1 126.2h0M657.4 106.2h0M634.9 134.2h0M647.9 94.8h0M656.9 111.5h0M654.2 111.2h0M633.8 130.4h0M655.3 110.3h0M636.3 163.4h0M636.5 134.5h0M631.9 136.3h0M638.6 149.1h0M633.8 114.4h0M645.5 156.6h0M654.2 119.2h0M637.6 151.6h0M656.3 65.7h0M646.5 148h0M639.1 171.6h0M639.7 117.7h0M640.6 131.5h0M654.6 50h0M651.7 122.6h0M652.4 50.5h0M639.2 173.1h0M664.9 103.6h0M641.7 117.2h0M644.3 131.7h0M639.3 103.6h0M640.3 128.7h0M662.2 111.5h0M659.8 103.6h0M661.9 111.4h0M647.7 137.5h0M635.4 127.7h0M636.3 107.3h0M655.5 66.3h0M637.9 149.8h0M647.2 146.8h0M632.1 134.6h0M643.7 132.1h0M654.3 65.7h0M640.7 169h0M656 105h0M639.3 152.1h0M651.1 121.9h0M647 120.9h0M647.6 137.4h0M643.9 105.7h0M661 112.5h0M643.5 151.4h0M646.9 120.2h0M639 173.4h0M634.3 129h0M639.6 147.4h0M640.8 132.4h0M636.5 139.5h0M637.1 162.3h0M633.6 151.3h0M652.2 131.6h0M646.4 125.8h0M649.5 148.5h0M642.3 137.4h0M638.6 160.1h0M641.1 122.7h0M637.6 146.3h0M646.7 144.2h0M669.8 100.2h0M656.2 122.1h0M644.3 141.8h0M634.3 123.7h0M649.9 88.5h0M645 158.3h0M640.8 136.4h0M658.3 111.1h0M645 125.7h0M636.2 152.3h0M658 104.9h0M640.7 157h0M639.3 146.3h0M657.4 81.1h0M666.1 102.8h0M643 158.4h0M648.7 73.6h0M655.2 66.3h0M635.3 152.2h0M641.8 128.3h0M655.1 115.8h0M644.2 174h0M636.4 139.2h0M638.8 139.7h0M649.9 55.8h0M654.4 111h0M642.5 174.8h0M639.9 166.6h0M642.8 156.8h0M651.3 124h0M644.9 127h0M642.1 116.9h0M659.9 109.9h0M640.6 123.3h0M636.8 151h0M635.3 128.6h0M639.6 135.1h0M656.8 119.2h0M669.6 98.6h0M649 147.5h0M645.5 126.2h0M642.4 160.9h0M643.2 140.5h0M638 131.6h0M652.4 123.5h0M632.4 140.6h0M643.1 171h0M652.3 128h0M633.4 142.9h0M657.7 104.3h0M644.1 126.6h0M666.8 101.9h0M643 144.1h0M633.7 149.8h0M645 142h0M643.3 110.8h0M635.3 156.3h0M638.9 159.6h0M646.1 153.4h0M637.6 164.9h0M648.6 135.8h0M634 139.9h0M645.5 131.4h0M644.5 108.1h0M637.2 147.8h0M635.1 140.9h0M638.4 154.7h0M642.6 136.9h0M642.2 134.5h0M640.9 163.3h0M633.8 146.5h0M637.1 144h0M643.7 130.2h0M664.1 99.4h0M659.1 104.2h0M658.5 107.2h0M635.2 137.2h0M638.7 130.6h0M643 148.8h0M641.2 140.8h0M650.2 124.1h0M641.4 157.1h0M642.6 159.7h0M642.2 121.6h0M655 121.1h0M647 145.8h0M654.8 107.6h0M640.9 150.8h0M633.7 139h0M650.2 129h0M637.2 153.1h0M642 125.2h0M640.9 160.5h0M637.6 138.2h0M636 147.6h0M634.8 157.5h0M661.7 107.7h0M639.5 164.1h0M645.9 132.5h0M633.7 132.2h0M642.2 169.4h0M651.2 119.5h0M660 102.6h0M638.4 173.1h0M647.8 80.3h0M650 140.9h0M633.2 98.7h0M657.2 106.7h0M648.4 151.3h0M654.9 88h0M647.9 119.1h0M640 142.3h0M635.3 132.4h0M641.8 156.9h0M642.8 144.2h0M640.5 120.5h0M655.7 118.8h0M646 131.2h0M644 167.6h0M649.2 149.5h0M663.7 104.9h0M633.5 126.9h0M651.4 134.2h0M645.5 163.6h0M643.6 137h0M644.5 118h0M642.6 154.9h0M650 77.2h0M648.8 145.8h0M656.1 119.4h0M633.9 148.9h0M640.9 135.2h0M654.2 58.1h0M642.8 171h0M651.8 84.3h0M644.4 161.2h0M646.8 79.3h0M639.5 159h0M637.1 126.5h0M653.6 70.6h0M639.9 126.2h0M645 143h0M645.9 165.8h0M646.6 129.9h0M641.3 150.9h0M642.1 121.7h0M635.3 128.2h0M648.9 140.6h0M667.9 101.4h0M669.6 99.5h0M633.4 125.8h0M639.8 129.5h0M633.4 132.1h0M645.2 106.7h0M656.6 106.7h0M642.2 140.5h0M651.4 120.4h0M642.5 159.7h0M653.9 127.7h0M652.5 125.3h0M634.8 151.4h0M667.9 103.2h0M646.2 107.1h0M641 120.1h0M639.4 133.7h0M670.2 97.6h0M653.5 116.5h0M641 136.4h0M649.2 133.2h0M644.7 137.7h0M633.7 151.9h0M647.2 116.1h0M656.3 106.8h0M634.5 157.2h0M646.3 167.5h0M645.8 168.9h0M640.8 167.9h0M640 131.9h0M649.5 81.1h0M643.5 166.6h0M652 133.8h0M646 134h0M652.1 114.4h0M638.3 163.6h0M639 112.4h0M643.6 172.3h0M641 144.4h0M643.5 163.9h0M650.7 139.6h0M653.6 118h0M641 119.2h0M647.4 157.4h0M643.7 123.9h0M650.9 128.9h0M644.7 154.3h0M643.6 115.4h0M652.6 122.8h0M639.3 128.2h0M637.5 133.9h0M650.5 138.7h0M650.6 127.7h0M635.1 157h0M643.6 160.9h0M659.6 105.3h0M655.1 114.7h0M650 119.6h0M648.8 65.2h0M652.5 128.8h0M641.6 118.4h0M635.3 130.8h0M640.3 133h0M645.9 156.3h0M632.5 107.8h0M654.1 73.3h0M645.2 145.6h0M637 166.3h0M644.3 120.1h0M634.8 127.9h0M637.1 154.1h0M643.3 152.4h0M647.7 132.9h0M644.6 164.4h0M640.7 155.7h0M651.8 135.6h0M639 137.6h0M632.5 108.3h0M645.3 169.3h0M639.7 150.9h0M643.1 159.7h0M661.2 103.3h0M639.4 133.2h0M638.7 134.4h0M647.4 77.1h0M650.5 147.2h0M645.8 145h0M638.7 102h0M649 152.8h0M636.7 122.8h0M652 109.6h0M643.3 147.6h0M637.8 150.4h0M644.5 148.1h0M650.2 137.2h0M653 119.7h0M635.7 148.2h0M657.8 111.1h0M665.9 105.9h0M650.7 113h0M642.6 157.8h0M661.6 108.2h0M651.8 134.5h0M640.7 126.8h0M667.8 100.5h0M637.7 170.6h0M663.4 105.9h0M647.2 125.6h0M635.4 128h0M638.9 143.2h0M634.7 155.8h0M637.1 137.8h0M643.4 156.8h0M653 129h0M649.6 120h0M651 68.6h0M642.5 134.5h0M663.9 99.4h0M636.7 112.3h0M655.4 106.4h0M639.9 157.5h0M666.1 101.1h0M651.5 137.6h0M652.1 130h0M638.5 126.2h0M645.7 118.5h0M659.1 105.3h0M644.2 164.3h0M644.3 152.5h0M638.2 167.4h0M646.5 147.5h0M633.6 150.3h0M639.9 171.4h0M633.9 152.9h0M662.2 100.8h0M649.7 125.9h0M650.2 130.9h0M648.8 150.7h0M638.8 166.6h0M632.3 133.1h0M631.6 112.4h0M638.7 160.4h0M645.3 162.8h0M651.5 121.4h0M633.6 148.4h0M648.4 120.8h0M654.7 61h0M657.7 111.7h0M640.8 126.1h0M640.6 167.1h0M658.7 114.7h0M645 161.9h0M655.6 120.1h0M644.7 154.5h0M641.4 127.3h0M646.4 135.2h0M660.3 109.2h0M649.5 149.5h0M647.3 125.7h0M636 155.4h0M656.6 105.6h0M635.1 153.9h0M640.1 149.6h0M635.2 141.9h0M635.2 148.3h0M641.3 166.9h0M637.8 129.7h0M642.1 138.1h0M653 123.2h0M665.4 102.6h0M668 98.6h0M634 142.1h0M650.6 134.1h0M645 161.6h0M642.4 130h0M647.1 111.9h0M644.5 143.3h0M665.7 102h0M640.2 173.1h0M636.8 131.3h0M635 152.9h0M638 148.7h0" stroke="#6cc994" stroke-width="2" stroke-linecap="round"/>
<path d="M665 99.8h0M644.5 172.6h0M633 133h0M644.6 163.9h0M646.2 166.8h0M647.5 130.1h0M643.4 123.6h0M646.9 148.7h0M654.7 112.3h0M650.3 127.1h0M641.3 156h0M650.5 148h0M661.7 111.2h0M640.8 125.7h0M632.2 140.6h0M658.9 110.8h0M649.9 122.8h0M637.2 132.6h0M649.4 148.9h0M651.7 127.2h0M635.1 128.8h0M637.8 125.2h0M639.2 121.5h0M641 124.2h0M663.8 104.2h0M640 142.9h0M641.1 141.2h0M645.3 149.1h0M648.5 116.5h0M641.7 153.6h0M653.1 122.5h0M640.5 162.8h0M648 117.6h0M645.4 151.1h0M639.8 126.2h0M666 103.7h0M637.4 157.9h0M643.8 132.1h0M649.9 112.3h0M666 103.4h0M652.1 132.7h0M654 113.6h0M653.2 112.9h0M656.2 114.7h0M643.4 123.7h0M645.4 143.3h0M646 136.2h0M653.9 112.8h0M636.7 165h0M643.5 146.4h0M644.1 131.4h0M649.7 121.8h0M640.8 136h0M655.7 123.1h0M636.6 154.2h0M638.4 128.4h0M658.1 115.4h0M649 156.1h0M636.4 169.8h0M666.2 103.3h0M656.5 106.4h0M640.5 169h0M640.2 154.5h0M659.5 114.2h0M651.4 116.2h0M643.4 148.5h0M638.2 124.4h0M646.9 139.6h0M646 156.8h0M644.2 137.8h0M636.3 160.3h0M654.2 126.5h0M643.5 124.2h0M644.6 150.6h0M651.1 115h0M636.1 154.3h0M641 142.2h0M660.2 107.8h0M658.5 114.2h0M649.3 127.6h0M643.9 169.4h0M637 125.3h0M641.6 164.3h0M647.2 157.4h0M642.1 155.2h0M663.7 104.4h0M646.2 118h0M641.5 175.2h0M648.7 118.2h0M647.3 164h0M662.7 109.8h0M648.8 134.2h0M642.3 126.8h0M639.5 151.3h0M641.8 149.9h0M643.4 163h0M661.8 102.1h0M637 161.6h0M635.9 161.5h0M652.3 125.1h0M640.4 134.4h0M650.2 124.7h0M644.9 138.2h0M664.8 102.6h0M639.1 143.9h0M653.1 122.9h0M644.8 134.9h0M664.7 105.3h0M638.6 157.3h0M646.1 130.3h0M655 112.4h0" stroke="#2eb4d2" stroke-width="1.8" stroke-linecap="round"/>
<path d="M643.9 98h0M646.9 94h0M650.2 100.6h0M645.5 104.6h0M654.8 107h0M663.4 119h0M657.9 121.3h0M667.9 107.7h0M648.3 96h0M651.2 103.5h0M648.8 106h0M656.1 131h0M657 135h0M655.6 139h0M657.5 142h0M650.3 157h0M650.9 159.5h0M650.5 162h0M660.4 112h0M640.1 130h0M668.2 140h0M645.9 150h0M662.4 160h0M659.6 140.2h0M656.7 151.4h0M656.1 138.8h0M657.1 137.3h0M659.3 129.9h0M660.5 124.2h0M661.1 127.2h0M655.5 151.9h0M657.4 128.1h0M658.5 119.6h0M660.6 126.1h0M657.3 142.7h0M658.2 132h0M662.1 124.4h0M659.6 123h0M660.7 119h0M656.5 134.6h0M658 139.3h0" stroke="#fff" stroke-width="1.8" stroke-linecap="round"/>
<rect x="565.7" y="160.2" width="52" height="28" fill="#fff" stroke="#c8c8c8" stroke-width="0.6" rx="8"/>
<path d="M570 165.8h0" stroke="#6cc994" stroke-width="2.6" stroke-linecap="round"/>
<text x="572.6" y="168.5" font-size="7.6">Mock</text>
<path d="M570 173.8h0" stroke="#2eb4d2" stroke-width="2.6" stroke-linecap="round"/>
<text x="572.6" y="176.5" font-size="7.6">Bystanders</text>
<path d="M570 181.8h0" stroke="#e8497a" stroke-width="2.6" stroke-linecap="round"/>
<text x="572.6" y="184.5" font-size="7.6">IAV infected</text>
<path d="M439.3 324.9h0M437.4 298h0M445.2 341h0M441.8 314.9h0M443.9 303.3h0M445.8 340.2h0M447.4 304.9h0M445 311.8h0M439.3 317.1h0M444.3 336.1h0M433.4 311.1h0M444.6 292.7h0M444.5 288.9h0M428.5 313h0M443 321.4h0M442.8 297h0M438.1 310.7h0M443.2 322.1h0M442.8 308h0M431.7 317.9h0M446.4 311.7h0M444.7 339.5h0M440.5 336.2h0M446.1 338.3h0M446.2 327.3h0M438 341.4h0M441.8 340.1h0M442.5 324.2h0M438.9 318.1h0M439.9 326.8h0M444.8 331.9h0M443.5 301.6h0M443.3 291.8h0M436.8 297.8h0M446.2 303.9h0M433.9 310.6h0M446.2 304.9h0M441.1 318.2h0M434.6 324.6h0M433.6 328.9h0M437.9 321.8h0M443.8 332.9h0M445.9 335h0M433.5 329.2h0M447.1 318.3h0M441.4 277.7h0M428.5 307.8h0M444.8 315.3h0M440.6 325.1h0M440.6 338.7h0M437 327.4h0M433.4 337h0M432 314.3h0M429.6 311.8h0M437.5 318.9h0M439.2 318.8h0M446.6 320.7h0M428.4 317h0M445.1 296.8h0M441.9 339h0M448.7 317.8h0M432.5 315.8h0M446.7 330.4h0M446.9 308.3h0M435.1 307.2h0M442 325.9h0M439.4 330.5h0M436.8 317.5h0M446 286.7h0M436.5 316.9h0M435.5 316.8h0M441.8 299.3h0M430.8 317h0M437 331.8h0M437.5 302.4h0M443.8 332h0M437.5 331.4h0M437.5 323.2h0M428.8 309.6h0M426 311.4h0M437.2 322.6h0M434.8 317.2h0M437.7 313.2h0M440.2 306.2h0M442.1 338.7h0M434.9 311.5h0M444.3 313.2h0M436.6 331.2h0M441.1 305.3h0M442.1 289.9h0M445 332.9h0M443.5 278.9h0M442.8 338h0M438.3 303.3h0M439.2 326.2h0M441.3 309.3h0M446.6 301.8h0M441.7 340.1h0M440.9 309.6h0M431 313.2h0" stroke="#00e5ee" stroke-width="2" stroke-linecap="round"/>
<path d="M429.4 323.1h0M441 307.8h0M438.9 304.4h0M429.1 333.6h0M444.9 344.7h0M431.8 335.2h0M443.9 314.1h0M444.1 300.4h0M441.7 277.3h0M441.9 289.7h0M438.6 314.7h0M430.5 313h0M438.5 316.1h0M432.6 331.4h0M436.5 313.7h0M438.7 323.3h0M431.5 330.3h0M438.8 294.9h0M440 315.4h0M443.9 289.6h0M442.2 303.7h0M436.9 314.3h0M444.4 299.3h0M442.8 355.5h0M445 346.4h0M441.1 349.3h0M427.8 317.6h0M443.7 353.1h0M434.7 303.9h0M441.9 352.5h0M442.8 294.8h0M441.7 276.6h0M442.8 332.2h0M444.3 351.5h0M445.8 295.6h0M443.8 293.6h0M442.8 288.6h0M429.8 328.1h0M442.5 361.4h0M437 317.6h0M441.2 289.3h0M445.6 290.6h0M430.2 324.9h0M444 348.1h0M447 297.6h0M430.1 330.6h0M441.5 333.1h0M430.2 313.3h0M432.9 312.8h0M445 345.9h0M440.2 354.9h0M442.1 359.7h0M440.9 288.8h0M430.4 329.1h0M430.4 322.9h0M431.9 339h0M445.1 288.7h0M444.3 327.7h0M428.3 335.6h0M441 310.9h0M444.1 286.6h0M432.2 324.3h0M445 285h0M442.9 315.2h0M440.8 302.2h0M437.3 314.4h0M432.6 333h0M443.7 348.9h0M434.3 328.2h0M431.2 332.4h0M444.9 346.5h0M445.8 292.8h0M440.2 332.8h0M431.9 323h0M436.2 314.8h0M441.7 290.2h0M434.3 323h0M437.7 333.2h0M439.3 301.2h0M429.3 321.9h0M439.7 346.4h0M429.9 331.8h0M439.2 342.8h0M433.6 312.2h0M439 318.5h0M447.6 326.5h0M443.8 358.7h0M439.7 288.7h0M436.3 322.2h0M435 329.3h0M442.7 354.2h0M441.5 351.2h0M441.6 279.8h0M427.5 313.4h0M430.8 314.5h0M446.7 330.3h0M441.6 350.1h0M439.9 304h0M436.7 328.1h0M429.9 335h0M441.9 313h0M442.9 342.3h0M429.1 308.3h0M444.8 276.5h0M432.8 308.9h0M447.6 313h0M444 282.9h0" stroke="#7f0000" stroke-width="2" stroke-linecap="round"/>
<path d="M430.2 322.2h0M442.3 325.1h0M440.6 345.9h0M444.6 279.4h0M443.2 331.7h0M430.9 325.1h0M444.8 284.1h0M441.7 325.9h0M440.5 341h0M432 326.2h0M443.8 313.4h0M432.9 313.2h0M436.3 322.7h0M433.1 328.1h0M431 337.6h0M425.1 308.7h0M445 309.4h0M439.3 333.3h0M443.1 281.4h0M442.6 295.9h0M437.9 343.4h0M432.5 324.6h0M431.3 337h0M441.8 279.6h0M441.2 351.9h0M444.5 306.5h0M440.5 295.9h0M444 332.4h0M446 294.2h0M446.1 330.9h0M447 297h0M446.6 304.7h0M439.2 295.9h0M443.8 350.1h0M448.4 314.1h0M431.3 328h0M443.2 280.8h0M438.7 322h0M444.1 329.3h0M433.2 334h0M432.3 338h0M432.5 319.4h0M442.7 327.9h0M439.3 330.3h0M443.5 299h0M442.5 343.5h0M439 344.6h0M444.3 289.2h0M436.3 331.6h0M430.8 315h0M443.5 333h0M439.2 328.7h0M431.4 337.8h0M448.1 310h0M438.3 301.7h0M443.3 346.1h0M428.4 334.2h0M440.4 327.3h0M431.6 322.4h0M429.9 322.7h0M427.6 332.8h0M429.8 311.1h0M428.7 336.5h0M444.7 287.8h0M428.3 329.1h0M437.2 320.5h0M444.6 328.4h0M428.6 327.1h0M427.9 332.4h0M445.6 284.8h0M443.5 276h0M446.4 297.3h0M445.3 333.6h0M432.4 327h0M442.9 293.4h0M445.9 339.6h0M440.5 356.2h0M444.2 316.1h0M445.3 285.4h0M437.6 315.5h0M439.3 298.9h0M431 322.2h0M425.2 307.9h0" stroke="#ff0000" stroke-width="2" stroke-linecap="round"/>
<path d="M444.1 310.6h0M439.3 322.9h0M447 323.1h0M442.5 361.3h0M442 320h0M445.9 339.2h0M436.3 300.2h0M446 323.9h0M433.6 305.2h0M448.7 315.2h0M440.1 324.6h0M445.5 327.7h0M443.3 309.1h0M437.4 338.1h0M444.7 295.9h0M439.9 324.6h0M437.6 315.1h0M431.3 309.6h0M430.8 329.6h0M446.6 321.8h0M439.5 326.8h0M436.7 331.2h0M441.2 288.2h0M441.8 339.5h0M436.5 298.7h0M438.1 343.3h0M440.3 354.7h0M445.8 315.9h0M440.2 288h0M432.4 311.4h0M444.4 288.5h0M442 334.4h0M442.8 356.4h0M439.1 313.5h0M444.6 295.5h0M444.9 322.6h0M439.6 346.1h0M440 333.4h0M437.7 323h0M431.3 337.8h0M447.1 305.1h0M432.6 325.9h0M446.1 329.6h0M431.9 330.4h0M440.1 296.3h0M442.2 347.4h0M439.5 347.7h0M442 294.4h0M443.9 311.8h0M443.4 317.9h0M431.4 320h0M436.4 307.2h0M443.8 304.4h0M430.1 329.5h0M443.7 290.7h0M440.2 339h0M429.9 311.9h0M445.9 332.5h0M437.3 310.3h0M441.2 290h0M436.7 326.4h0M429.1 339.2h0M426.8 310.9h0M434.8 305.4h0M435.1 305.2h0M446.4 291.3h0M445 311.1h0" stroke="#ffe600" stroke-width="2" stroke-linecap="round"/>
<path d="M443.5 329.7h0M427.4 306.9h0M439.7 336.4h0M445.1 310.6h0M438.8 312.1h0M432.1 315.7h0M439.8 341.9h0M434 334.4h0M440.8 316.9h0M445.8 333.7h0M444.8 305.3h0M441 340.8h0M444.2 286.8h0M436.3 302.9h0M436.2 314.3h0M428.9 312.3h0M441.7 281h0M439.6 330.5h0M439.8 339.2h0M445.5 321.8h0M432.9 314.7h0" stroke="#0000ff" stroke-width="2" stroke-linecap="round"/>
<path d="M436.4 299.4h0M432.9 329.6h0M429 322.7h0M445.9 343.8h0M427.9 328.7h0M432.3 307.9h0M445.3 343.6h0M428.6 314h0M447.6 294h0M449.1 324.8h0M439.9 324h0M444.3 351.6h0M432.8 319.7h0M444.7 346.4h0M442.5 345.3h0M428.2 331h0M442.6 321.6h0M428.5 314.6h0M436.6 309.3h0M431.8 323.9h0M437.4 314.9h0M440 299.6h0M447.6 312.3h0M447 295.6h0M430.6 339.3h0M443.1 321h0M442.5 296.2h0M434.5 325.7h0M447 328.1h0M432.2 336.8h0M428.7 329.5h0M439.8 340.7h0M439.8 345.6h0M430.5 330.8h0M433.4 324.3h0M441 324h0M433.6 311.1h0" stroke="#ff7f00" stroke-width="2" stroke-linecap="round"/>
<path d="M445.4 340.1h0M446.1 318.5h0M434.5 302.8h0M444.3 312.3h0M441.3 308.6h0M445.1 299.4h0M443.9 297.8h0M445.1 314.8h0M438.9 301.8h0M436 305.9h0M429.5 316h0M444.1 310h0M447.2 312.3h0M446.6 302.5h0M441.5 323.7h0M447.9 307.9h0M438.1 332.8h0M446.8 322.5h0M440.2 320.9h0M444.1 319.8h0M440.1 320.4h0M447.1 318.2h0M440.1 299.7h0M428.2 308h0M443.2 304.2h0M437.3 316.1h0M429.7 320.7h0M439.8 317.3h0M445.4 340.7h0M433.4 304.9h0" stroke="#7fff7f" stroke-width="2" stroke-linecap="round"/>
<path d="M440.7 285.8h0M440.4 307.8h0M427 307.3h0M432.9 312.1h0M446.6 307.8h0M443.2 341.4h0M440.3 330h0M435.6 315.7h0M437.1 301.4h0M443.7 311.1h0M440.8 278.7h0M436 324.8h0M437 334.6h0M438.3 311.7h0M441.4 321.6h0M439.2 335h0M428.5 317.9h0M429.2 309.2h0M445 276.9h0M443.5 287.4h0M432.2 313.7h0" stroke="#007fff" stroke-width="2" stroke-linecap="round"/>
<path d="M446.2 327.3h0M443.5 294.2h0M437.4 341.4h0M442.2 342.9h0M443.7 339.1h0M445.2 283.8h0M440.9 312h0M444.3 329.5h0M440.4 309.1h0M441.1 304.1h0M445.1 334.3h0M444.8 304.1h0M440.5 326.8h0M437.1 322.6h0M444 316.7h0M441.3 304.5h0M435.6 323.7h0M435.9 309.4h0M435.5 308.5h0M433.7 305.4h0M445.4 295.8h0M444.2 298.2h0M446.2 308.3h0M438 297.8h0M440.8 295.5h0M440.3 333.6h0M436.7 327.7h0M438.6 300.3h0M438.9 321h0M448.9 318.8h0M434.8 307.9h0M444.9 312.1h0M449 318.9h0M442.2 335.1h0M433.6 307.4h0M435.8 319.6h0M444.3 306.7h0M427.1 308.6h0M448.6 321.4h0M430.7 314.8h0M441 283.2h0M439.6 336.4h0M428.4 312.4h0M436.6 309.4h0M434.9 306.7h0M448 308.3h0M432 313.3h0M431.1 316.9h0M438.9 336.9h0M438.3 296.8h0M446.9 288.6h0M441.4 325.8h0M440.9 277.4h0M439.9 336.1h0M443.4 292.3h0M444 318.9h0M441.1 317h0M444.5 284.7h0M441.4 296h0M438 307.1h0M446 324.3h0M446.5 329.5h0M442.6 336.2h0M438 343.3h0M437.5 310.2h0M440.8 305.9h0M439 301h0M449.1 324.2h0M447.5 292.7h0M429.3 313.4h0M433.5 325.5h0M447.3 301.8h0M446 334.8h0M446.2 308.3h0M432 314.3h0M443 285.7h0M445.5 318.6h0M428.3 313.4h0M436.6 308.4h0M434.9 313.5h0M446.9 309.1h0M445.3 299.9h0M436.7 329.7h0M443.4 339.1h0M437.9 322.5h0M446.3 334.1h0M446.6 289.6h0M443.5 340.9h0M444.1 342.9h0M439.9 305.4h0M447.2 303.9h0M441.4 302.5h0M444.8 299.4h0M445.7 296.1h0M431.5 312.7h0M426.4 311.9h0M442.9 309.5h0M441.5 313.1h0M440.6 328.7h0M447.3 333.6h0M439.9 335.8h0M444.7 289.8h0M442.9 300.6h0M426.8 307.6h0M445.4 327h0M438.1 320.2h0M434.4 329.6h0M439.9 317.6h0M444.3 294h0M442.7 319.2h0M447.6 304.1h0M432.5 308.7h0M437.7 340.1h0M434.6 307.6h0M441.5 307.5h0M438 319.7h0M444.8 314h0M430.9 313h0M438.4 315.6h0M448.5 315.2h0M440.1 298.7h0M435.9 320.8h0M433.7 330.5h0M448.7 325.1h0M442.7 326.7h0M445.1 327h0M438.1 328h0M443.8 295.1h0M439 305.6h0M428.7 318.7h0M443.9 342.9h0M428.3 314h0M435.5 328.1h0" stroke="#00e5ee" stroke-width="2" stroke-linecap="round"/>
<path d="M428.6 306.7h0M435.4 316.4h0M440.8 303.2h0M435.9 301.9h0M433.5 311.4h0M428.3 314.8h0M432.6 310.7h0M438.7 309h0M433.5 334.8h0M446.6 303.5h0M442.3 333h0M442.9 336.3h0M446.5 318.8h0M442.4 340h0M443.1 286.7h0M446.3 293.4h0M445.2 308.6h0M437.6 326.4h0M439.1 302.6h0M438.4 310.2h0M439.8 338.4h0M431.7 317.6h0M438.5 306.1h0M440.3 323h0M442.2 325.7h0M447.1 300.3h0M442.4 320.2h0M438.2 322.4h0M442.3 277.3h0M447.1 323h0M444.3 338.2h0M446 296.2h0M436.2 301.7h0M442.9 281.1h0" stroke="#0000ff" stroke-width="2" stroke-linecap="round"/>
<path d="M436.4 310h0M430.2 334.6h0M446.6 326.6h0M442.1 349.5h0M446.8 302.3h0M440 354h0M440 312.6h0M445.8 319.9h0M444.8 294.1h0M432.2 328.3h0M444.8 345.4h0M446.6 325.1h0M442.5 340h0M435.5 311.2h0M428.6 329.5h0M445.5 300.4h0M431.9 325.4h0M443.2 349.4h0M445.2 290h0M433 329.5h0M437.7 342.8h0M433.2 324.9h0M442.1 319.4h0M438.3 302.5h0M443.9 348.6h0M439.5 332.6h0M439.7 292.4h0M443.3 347.8h0M439.7 346.7h0M430.6 328.8h0M431.2 328h0M429.8 310.7h0" stroke="#ff7f00" stroke-width="2" stroke-linecap="round"/>
<path d="M446.1 327.4h0M440.7 300.7h0M448 317h0M429.2 314.1h0M437.6 325.5h0M446.3 335.2h0M438.2 317h0M435 329h0M425.2 308.1h0M435.9 325.3h0M445.6 332.2h0M443.4 333.3h0M444.7 291.7h0M445.8 290.5h0M448.8 318.1h0M439.6 324.8h0M430.7 320.7h0M446.8 304h0M434 314.2h0M436.8 326.4h0M442.1 325.1h0M447.6 296h0M445.6 339.8h0M434.3 319.9h0M448.1 310.6h0M436.6 316.6h0M435.9 319.5h0M432.8 317.6h0M442.8 335.5h0M428.1 317.9h0M444.7 321.9h0M431.7 314.9h0M440.2 330.7h0M435.7 306.1h0" stroke="#7fff7f" stroke-width="2" stroke-linecap="round"/>
<path d="M441 329.4h0M442 313.9h0M447.1 298.3h0M439.2 334.5h0M433.1 322.2h0M431.1 323.7h0M445 282h0M447.2 331.2h0M436.5 323.3h0M429.7 339.6h0M439.2 320.7h0M446 314.1h0M443 305.1h0M446.6 321.2h0M441.2 344.7h0M444.4 284.1h0M429.1 329.3h0M447.3 294.7h0M445 308.2h0M433.9 315.7h0M443.4 334.2h0M437 330.2h0M436.5 320.5h0M442.9 306.9h0M442.7 321.7h0M427.9 330.7h0M434 308.2h0M445.7 307.4h0M446.7 314.4h0M439.5 291.5h0M425.9 306h0M443.3 320.6h0M428.6 311.5h0M434.4 325.8h0M431.4 316.9h0M441.2 333.2h0M442.6 313.2h0M442.2 294.8h0M446.4 306h0M442.4 302.8h0M433.5 332h0M444 357h0M444.6 340.1h0M443.8 310.7h0M437.1 333.3h0M441.6 307h0M428 334.7h0M446.6 328.9h0M435.4 307.6h0M438.4 293.9h0M431.5 334.9h0M440.3 308.5h0M441.4 282.1h0M441.2 340.5h0M441.7 314.7h0M436.9 324.2h0M428.7 333.1h0M443.5 285.5h0M445.7 310.8h0M438.3 334.7h0" stroke="#ffe600" stroke-width="2" stroke-linecap="round"/>
<path d="M431.9 313.3h0M433 308h0M432.5 323.3h0M435.3 302.5h0M429 333.4h0M433.3 329.8h0M441 349.5h0M441.1 324.7h0M439.9 353.3h0M446 292.7h0M439.3 350.9h0M440.3 289.2h0M443.9 351.5h0M446.2 319.5h0M436.3 333.6h0M437.2 337.8h0M440.8 294.3h0M441.4 354.1h0M436.6 315h0M445.9 288.8h0M444.8 339.8h0M432.5 320.7h0M431.3 324.9h0M441.4 350.2h0M430.6 331.1h0M444.6 345.1h0M448.1 318.6h0M428.1 311.5h0M433.3 332.3h0M440.6 353.9h0M432.1 328.7h0M442.7 323.9h0M444.3 279.1h0M443.2 343.6h0M434.9 310.2h0M436.6 303.9h0M438.8 304.6h0M444.8 347.5h0M430.9 339.1h0M432.2 322h0M441.2 299.7h0M444.6 288.5h0M442.7 284.2h0M437 324.5h0M443.6 359.3h0M447.5 297.5h0M434.1 331h0M437.7 303.6h0M440.5 331.8h0M436.5 315.1h0M447.6 307.4h0M444.4 345.4h0M437.7 341.1h0M437.3 335.5h0M441.1 307.3h0M440.8 351.5h0M435.9 330.1h0M440.5 283.5h0M441 300.6h0M447.1 331h0M442.3 348.1h0M428.8 327.7h0M440.2 344.4h0M439.8 345.2h0M441.5 351.9h0M442.3 341.5h0M440.1 329.1h0M444.3 333h0M440.8 346.2h0M444.1 304.9h0M446.4 336.7h0M441.6 298.9h0M439.8 349.2h0M440.5 350.3h0M432.6 326.1h0M433 322.8h0M444.9 342.3h0M444.6 305.3h0M447.7 304.3h0M446.7 317.2h0M430 321.6h0M443.9 352.3h0M441 352.8h0M446 333.8h0M441 345.5h0M441.5 356.3h0M442.5 350.2h0M441 317.2h0M446 286.4h0M443 354.4h0M430.1 332.1h0M448.5 323.5h0" stroke="#7f0000" stroke-width="2" stroke-linecap="round"/>
<path d="M441 295h0M444.5 277.7h0M441.4 280.1h0M440.3 287.8h0M440.9 326.3h0M441.2 334.3h0M444.4 312.7h0M431.6 312.3h0M442.5 275.3h0M432.1 313.2h0M437 317.5h0M430.1 317.4h0M441.7 318.4h0M443.3 333.7h0M444 337.3h0M440.4 322.4h0M435.6 300.5h0M442 296.7h0M442.1 321.7h0M447.6 331.2h0M438.2 316.6h0M441.1 308.5h0M427.1 312.7h0M437.3 297.3h0M447.3 309.7h0M442.1 343.4h0M447.4 314.1h0M439.2 321.7h0" stroke="#007fff" stroke-width="2" stroke-linecap="round"/>
<path d="M432.6 318.6h0M432.9 316.1h0M427 307.3h0M428.7 335.4h0M426.1 309.9h0M428.4 308.9h0M447.5 302.9h0M444.1 345.1h0M441.6 346.6h0M433.6 305.2h0M436.5 325.5h0M447.6 305.6h0M442.5 288.7h0M430.7 319h0M443.9 315.2h0M440.4 304.1h0M427.1 334.1h0M436.4 299.5h0M443 290.7h0M443.5 315.6h0M436.1 330.5h0M446 330.6h0M427.6 333h0M431.2 339.8h0M433.5 306.7h0M443.2 352h0M440.8 282.4h0M429.7 313.7h0M444.7 279.7h0M436 325.9h0M446.9 321.1h0M435 321.6h0M444.5 327.8h0M440.6 305.3h0M447.5 297.4h0M442.9 303.7h0M433.8 324.2h0M440.2 289.5h0M445.4 316.9h0M429.4 324.4h0M428.1 337h0M442.2 290.3h0M440.2 331.8h0M440.2 303h0M435.1 303.1h0M435.6 308.1h0M433.4 338.8h0M433.3 317.5h0M443.8 295.8h0M444.7 295.6h0M429.8 312.6h0M448.7 319.3h0M441.4 326.3h0M428.6 331.8h0" stroke="#ff0000" stroke-width="2" stroke-linecap="round"/>
<path d="M436.5 316.4h0M444.2 283.2h0M434.1 321.6h0M440.2 311.3h0M435.7 323.8h0M447.3 305.2h0M446.5 301.2h0M425.5 308.6h0M441.7 326.1h0M442.7 333.4h0M442.5 305.6h0M436.4 329.2h0M441.4 295.7h0M443.3 336h0M438.5 323.7h0M447.2 317.2h0M445.4 299.5h0M435.2 320.1h0M443.2 276.7h0M447.2 314.8h0M446.2 293.4h0M443.7 301h0M436.9 309.7h0M433.7 308h0M445.3 335.2h0M441 279h0M435.2 327h0M438.2 305.7h0M437.9 316.5h0M443 280.6h0M441 324.2h0M441.3 325.5h0M446.6 300h0M442.7 277.4h0M444 316.4h0M449.2 321.2h0M436.6 330.9h0M432 307.7h0M431.3 315.1h0M433.1 310h0M429.5 318.4h0M442.2 331.1h0M441 308.2h0M440.4 308.8h0M445.6 319.5h0M443.2 292.2h0M447.2 330.1h0M440.2 305.9h0M441.4 311.4h0M444.7 313h0M438.5 321.9h0M442.4 330.9h0M437.5 301.5h0M431.8 318.2h0M437.8 329h0M434 334.5h0M431.8 310.2h0M447.4 298.3h0M440 289.7h0M440.8 294.2h0M427.6 311.6h0M443.7 294.5h0M433.9 310.5h0M445 337.1h0M446.4 333.7h0M444.5 290.8h0M443.5 338.3h0M448.4 319h0M441.4 305.1h0M436.7 331.7h0M433.6 315.7h0M441.7 295.1h0M439.6 298.6h0M432.6 314.2h0M441.9 291.1h0M445.8 341.9h0M444.1 295h0M427.9 311h0M440.5 283.1h0M439.2 321.9h0M439.7 294.9h0M446.9 293.7h0M440.8 301.4h0M435.2 304.5h0M439.7 334.8h0M441.6 295.2h0M441.6 309.3h0M441 319.9h0M433.3 305.8h0M444.6 294.3h0M440.4 326.6h0M440.8 285.2h0M447 313.9h0M441.6 299.3h0M445.7 340.1h0M431.4 320.5h0M443.4 321.5h0M443.2 319.7h0M442.6 335.2h0M445 318.4h0M441.3 297.4h0M431.4 316.4h0M439.2 339.2h0M438.8 339.1h0M440 298.7h0M446.3 335.6h0M428.6 319.9h0M433.5 330.7h0M444.1 308.6h0M446.1 342.1h0M442.5 319.7h0M438.7 312.7h0M438.7 311.8h0M445.3 289.8h0M444.3 291.9h0M443.3 291.4h0M446.8 301.1h0M437.5 334.4h0M447.9 326.7h0" stroke="#00e5ee" stroke-width="2" stroke-linecap="round"/>
<path d="M445.4 328.1h0M442.6 329.3h0M448.2 328.9h0M448.1 324.8h0M427.7 331.9h0M434.4 326.9h0M440.8 290.2h0M432.5 328.6h0M445.1 335.4h0M444.2 346.4h0M442.3 291.3h0M447.9 318.9h0M438.9 320.3h0M435.1 324.8h0M429.8 335.3h0M431.3 327.1h0M428.9 334.6h0M431.1 330h0M440.5 325.2h0M441.4 303.1h0M432.4 325.3h0M437.2 308.2h0M441.1 345.1h0M429.8 310.6h0M428.3 327.6h0M443.2 347.4h0M440 315.4h0M436.6 327.5h0M437.4 323.3h0M446.3 331.3h0M442.7 313.7h0M439.2 310.4h0M443.3 318h0M442.8 347.5h0M441.1 339.5h0M441.7 312.5h0M440.5 302.7h0M439.4 349.1h0M447.2 298.6h0M436.9 300.9h0M447.1 291.2h0M440.1 342.3h0M441 313h0M432.2 322.5h0M443.5 319.4h0" stroke="#ff7f00" stroke-width="2" stroke-linecap="round"/>
<path d="M434.1 317.6h0M431.7 327.3h0M446.7 321.1h0M438.3 329.3h0M427 314.5h0M433.1 336.9h0M431.8 328.2h0M443.4 300.8h0M433.2 334.5h0M445.3 311.1h0M445.9 289.6h0M444.4 333.2h0M445.7 329.1h0M447.6 295.3h0M442.1 345.2h0M439.1 295.8h0M439.2 323.4h0M431.6 338.8h0M445.7 312.3h0M441.8 337.2h0M441.7 357.8h0M426.2 306.7h0M430.9 334.5h0M437 303.9h0M437.6 307.3h0M448.2 329.3h0M439.6 349.2h0M446.3 286h0M435.6 316.8h0M438.5 345.3h0M447.1 334.3h0M439 291.7h0M448.3 311h0M429.8 324.2h0M429.4 318.8h0M443.6 320.4h0M429.2 325h0M438 337.3h0M444.5 305h0M436.4 327.6h0M428.6 325.5h0M425.6 308.3h0M437.3 309.9h0M447.7 331.8h0M444.9 328.4h0M431.4 317.1h0M444.8 330.2h0M436.1 302.1h0M444.9 310.7h0M444.7 337.7h0M442.3 352.6h0M435.3 318.3h0M434.9 321.4h0M443.2 344h0M435.6 315h0M442.4 305.9h0M439.9 340.3h0M427.7 335.9h0M435.9 322.9h0M433.6 332.9h0M439.6 346.1h0M427.6 312.3h0M439.9 316.7h0M447.2 326.3h0M441.6 356.2h0M443.9 351.5h0M428.7 310.1h0M445.6 291.6h0M437 324.7h0M434.6 318.1h0M442.7 333.9h0M443.2 351.7h0M429 332.7h0M429.2 325h0M429.2 334.5h0M431.1 324.4h0M438.7 293.2h0M432.2 330h0M429 314.5h0M443.7 299.5h0M445.2 288.1h0" stroke="#ffe600" stroke-width="2" stroke-linecap="round"/>
<path d="M446.4 329h0M445.9 291.6h0M435.9 316.5h0M443.4 289.9h0M439.9 294.4h0M437.1 323.7h0M440.7 300.7h0M439.7 292.3h0M446.6 316.4h0M431.5 313.7h0M439.6 336h0M428.7 317.2h0M446.3 329.6h0M444.8 283.4h0M443.6 324.7h0M442.4 313.2h0M443.9 295.2h0M440.6 295h0M439.1 318.6h0M437.4 330.3h0M441.6 326.4h0M440.8 306.3h0M442.8 275.7h0M446 343.3h0M441 306h0M430.3 315h0M441.8 288.5h0" stroke="#0000ff" stroke-width="2" stroke-linecap="round"/>
<path d="M439.3 348.1h0M447.4 330.1h0M443.6 359.1h0M441.6 346.4h0M435.7 319.2h0M440.1 327.8h0M431.5 332.7h0M442 304.6h0M441.3 322h0M443.3 350.3h0M441.5 316.5h0M431.2 322.4h0M441 346.1h0M440.4 345.7h0M430.4 307h0M441.5 349.1h0M431.3 333.6h0M446.2 287.7h0M442.6 352.3h0M439.5 319.5h0M445.2 344.9h0M440.6 339.1h0M442.8 287.5h0M427.9 334.5h0M429.4 335.5h0M439.4 326.6h0M437.5 314.6h0M427.4 335h0M431.3 328.6h0M445.9 331.8h0M441.1 351.9h0M432.3 331.9h0M443 356h0M443.6 358.7h0M441.5 349.9h0M440.1 334.5h0M433.6 333.5h0M442.1 275.8h0M441.5 279.6h0M437.9 314.6h0M429.5 334.8h0M431 329.6h0M443.2 307.1h0M437 332h0M429.3 324.3h0M432.1 322.1h0M440.6 343.9h0M428 317.2h0M442.1 302.3h0M429.9 333h0M441.7 320.6h0M439.1 341.5h0M434.9 327.3h0M438.1 313.7h0M442.8 353.3h0M438.8 325.2h0M443.3 354.1h0M432.3 306.7h0M444.5 347.5h0M443 319.3h0M445.8 306.4h0M445.5 310.9h0M446.4 296.4h0M439.2 293.3h0M446.8 292h0M436.2 330.6h0M444.1 283h0M447.1 292.4h0M442.8 333.6h0M441 338.6h0M436 299.9h0M434.8 302.8h0M446.2 316.6h0M429.2 324.2h0M447.4 319.6h0M440.8 345.7h0M446.2 286.1h0M443.5 313h0M432.8 335.9h0M442.4 282h0" stroke="#7f0000" stroke-width="2" stroke-linecap="round"/>
<path d="M441.1 298.2h0M436.1 307.9h0M447.9 317.7h0M440.6 316h0M442.5 282.7h0M444.2 313.3h0M439.1 316.9h0M430.4 310.8h0M444.4 281.1h0M437.5 330.7h0M444.2 276.2h0M440 303.2h0M436.8 302.1h0M440.2 338.5h0M438.3 330.6h0M438.9 313.8h0M443.8 298.1h0M444.8 323.4h0M446.9 329.1h0M436.7 306.1h0M434.4 307.9h0M435.4 318.2h0M440 302.9h0M426 311.5h0M445.4 336h0M448 307.2h0M430.6 311.5h0M438 304.7h0M443.2 281.9h0M441 277.4h0M447.3 320h0M439.8 332.7h0M444 337.3h0M443 338.7h0M440.2 318.8h0M438.3 336h0" stroke="#007fff" stroke-width="2" stroke-linecap="round"/>
<path d="M445.7 330.4h0M444.2 311.9h0M447.4 302.8h0M437.9 326h0M437.7 302.6h0M427.8 315.7h0M433.6 328.9h0M444.3 319.5h0M447.7 312.1h0M430.4 309.5h0M443.7 310h0M441.2 330.2h0M444.2 317.2h0M441.3 292.3h0M446 335.7h0M428.5 311h0M428.9 320.8h0M440.4 300.2h0" stroke="#7fff7f" stroke-width="2" stroke-linecap="round"/>
<path d="M439.2 346.2h0M431 306.5h0M438.8 292.9h0M442.8 284.5h0M440.7 281.6h0M440.4 330.7h0M430.1 325.5h0M434.7 321.4h0M430 339.2h0M444.6 344.4h0M428.4 308.7h0M426.2 307.9h0M441.3 355h0M438.3 340.2h0M435.3 321.5h0M431.6 322.6h0M438.8 292.5h0M446.5 332.7h0M434.7 317.3h0M444.1 277.9h0M433.6 324h0M427.5 315h0M442.8 345.8h0M439.1 326.6h0M442.7 344.4h0M434.7 303.9h0M442 302.9h0M440.3 284.7h0M443.8 276.2h0M437.2 318.3h0M438.7 295.8h0M430.8 322.6h0M440.3 300h0M427.3 332.6h0M441.1 355.6h0M440.5 314.1h0M443.6 295.1h0M440.5 345.2h0M435.1 324.4h0M443.8 308.1h0M428.1 335.1h0M436.7 330h0M446.9 311.7h0M427.1 333.2h0M437 307.8h0M443.9 345.7h0M438 304.2h0M429.2 334.1h0M429.3 330.7h0M442.3 340.9h0M432.2 322.7h0M427.4 332.2h0M438.4 295.3h0M438.6 301.3h0M447.6 298.6h0M439.2 347.1h0M447.3 294.7h0M440.4 320.4h0M443.3 283h0M446.9 324.4h0M443.8 358.3h0" stroke="#ff0000" stroke-width="2" stroke-linecap="round"/>
<path d="M498 272.7L498.9 274.7L500.9 281.7L502.9 289.7L505.3 297.8L506.1 303.7L505.9 307.9L503.4 308.6L500.1 309.3L498 310.6L496.7 309.9L495.7 311.3L496.7 314.6L497.7 318L498.4 321.3L500.7 320.7L503.4 318.7L506.8 318L510.1 318L512.7 316L514.8 313.3L516.8 312.3L518.8 313.3L519.8 318L520.2 320.8L519.6 328.9L520.2 336.9L520.8 349L520.2 359.1L518.2 369.1L515.2 377.2L511.1 383.2L507.1 389.2L503.1 391.3L500.1 390.2L498 385.2L497.4 377.2L496 378.2L495 383.2L491 385.2L485.9 386.2L483.9 381.2L481.9 369.1L480.5 359.1L479.3 349L478.9 338.9L478.9 326.9L479.5 316.8L480.3 312.8L483.2 311.6L487.4 311.7L489.8 310.9L490.8 305.8L491.5 297.9L492.2 289.7L493.8 281.7L495.4 275.6L496.7 273.1Z" fill="#00007f"/>
<path d="M486.6 377h0M491.9 368.7h0M508.2 318.7h0M492 298.7h0M480.9 328.2h0M500.1 329.9h0M496 312.9h0M494.5 322.2h0M491.3 320.6h0M501.7 339.9h0M507.1 328.6h0M493.8 340.1h0M495.8 281.1h0M495.7 379.8h0M492.6 348.9h0M501.3 296.9h0M496.1 293.1h0M500.8 322h0M498.7 305h0M479.6 332h0M497.1 359.4h0M493.6 377.3h0M487.9 361h0M490.5 379.7h0M493.3 304.1h0M480.5 346.5h0M487.4 333.2h0M494.9 302.3h0M489.3 363.9h0M490 383.5h0M516.2 314.7h0M481.3 332.1h0M493.2 288.8h0M494.8 315.4h0M494.1 290.7h0M490.5 372.4h0M495.9 287.6h0M485.7 385.3h0M494.8 363.3h0M485.3 325.1h0M501 300.2h0M500 280h0M505 303.6h0M490.7 363h0M492.1 379h0M497.5 351.9h0M486.2 334.7h0M496.3 349.3h0M501.6 287.2h0M484.3 362.9h0M491.9 374.8h0M499 296.3h0M493.1 346.1h0M494 357.4h0M485.4 337.5h0M491.6 362.9h0M495.9 282.5h0M502.2 293.7h0M502.9 319.9h0M488.9 325.6h0M493.7 296.7h0M488.7 375.8h0M494.5 314.3h0M497.4 295.4h0M482.4 331.8h0M489.5 338.6h0M497.8 308.6h0M496.9 304.4h0M493.3 324.8h0M497.8 345.6h0M482 317.9h0M491 318.6h0M490.7 315.1h0M492.1 292.6h0M512.2 316.4h0M491.8 312.5h0M482.3 335.7h0M488.2 368.9h0M493.5 378h0M488.5 349.5h0M496.9 300.5h0M493.3 360.8h0M484 356.3h0M493.8 307.5h0M490.4 383h0M491.7 344.7h0M487.8 372.8h0M481 333.6h0M496.4 300.1h0M499.3 336.3h0M485.5 384.7h0M502.2 331.6h0M488.6 376.2h0M491.7 296.3h0M494.7 378.9h0M496.5 292.4h0M499.8 287.8h0M495.2 361.9h0M491.3 320.3h0M492.5 359.7h0M494.1 376.8h0M496.2 303.1h0M494.6 294.4h0M499.3 329.1h0M493.7 333.9h0M503.9 320.8h0M495.5 341.5h0M495.2 288.3h0M495.9 335.9h0M487.7 365.8h0M484.3 382.2h0M500.3 289h0M487.1 330.1h0M501.7 305.6h0M488.5 322.9h0M490.8 369.4h0M497.7 296h0M488.3 348.7h0M495.6 359h0M491.9 364.3h0M491.2 311.4h0M484.3 343.4h0M500.9 302.8h0M500 302.4h0M483.5 329.3h0M503.9 324.9h0M488.6 380.3h0M503.4 339.1h0M502.5 291.7h0M492.9 372.7h0M494.7 343.9h0M483.1 324h0M492.8 315.6h0M486.5 312.7h0M496.8 318.2h0M499.4 306.5h0M491.4 338.3h0M505.4 328.2h0M492.6 339.7h0M497.6 356.9h0M500.5 285.2h0M480.6 316.1h0M494.7 314.8h0M500.1 328.4h0M482.7 360.2h0M499 321.3h0M490.7 342.1h0M500.1 288.3h0M500 302.1h0M495.1 358.1h0M485.9 323.2h0M494.5 348.2h0M494.5 377.3h0M489.1 343.6h0M481.7 315.2h0M498.3 306.8h0M487.2 340.3h0M499.3 352.7h0M489.1 338.2h0M488.1 345.7h0M479.8 352.9h0M486.8 344.4h0M492.6 314.3h0M483.9 324.6h0M482.2 325.3h0M484.2 328.9h0M479.3 328.2h0M486.2 331.2h0M499.5 333.4h0M487.2 316.3h0M494.6 377.8h0M491.3 313.6h0M492 292.9h0M482.1 350.8h0M505.4 329.5h0M496.3 355h0M495.1 338h0M490.8 373.7h0M503.8 297.3h0M494.2 283.3h0M505.2 328h0M497.6 337.2h0M480.2 324.8h0M480.3 317.2h0M482.4 314.8h0M494.1 312.7h0M479.3 336.1h0M492.1 384.1h0M501.8 293.4h0M499 294.3h0M497.5 306h0M486 352.2h0M490.6 356.6h0M504.4 322.6h0M497 304.1h0M497.3 349.2h0M493.8 375.4h0M484.1 346.1h0M499.7 281.2h0M498.3 343.8h0M494.9 359.7h0M496.9 282.7h0M494.2 286.9h0M499.1 344.8h0M486.9 354.9h0M495.4 324.1h0M494.7 359.8h0M501.4 305.4h0M499.3 328.5h0M486.3 384.8h0M483.3 313.4h0M496.5 292.1h0M502.3 287.9h0M496.7 341.6h0M496.8 287.9h0M493.1 368.3h0M489 333.7h0M498.9 348.7h0M494.4 303.1h0M479.4 317.9h0M490 353.6h0M487.2 375.4h0M494.5 308.2h0M487 357.2h0M482.3 343h0M503.5 320h0M506 327.7h0M508.2 319.3h0M479.4 323.7h0M492.6 363.7h0M486.3 370.9h0M502.4 339.6h0M502.3 291.5h0M482.5 317.2h0M497.1 338.6h0M499.7 342.1h0M479.6 345.4h0M484.7 379.5h0M481.9 361.8h0M484.6 340h0M491.1 337.5h0M498.2 322.7h0M496.9 273.9h0M487 367.2h0M485.4 339.9h0M490.1 337.5h0M481.1 316h0M493.7 308.8h0M499.8 333.1h0M483.6 368.7h0M488.5 325.8h0M501.7 285.1h0M503.9 298.5h0M499.4 345.9h0M490.3 324.8h0M505.9 306.4h0M487 386h0M481 326.2h0M488.9 317.4h0M480.8 314.2h0M489.5 358.7h0M487.1 317.7h0M492.3 379h0M492 374.6h0M491.5 319.5h0M485.5 318.6h0M496.6 323.1h0M483.8 347.6h0M495 371.6h0M494.9 338.5h0M506.5 319.3h0M500.4 288.4h0M495.7 351.4h0M499.2 291.2h0M504 321.2h0M485.1 373.7h0M488 320.7h0M500.6 298h0M499 279.2h0M485.8 336.8h0M503.7 300.8h0M502.7 297.1h0M480.4 336.3h0M485.6 333h0M498 335.8h0M487.4 339.1h0M480.4 317.8h0M493.3 375.1h0M496.1 351.9h0M498.5 292.6h0M494.6 328.2h0M486.8 312h0M488.9 373.1h0M490.9 346.5h0M507.2 322.4h0M490.2 310.6h0M501.7 320.7h0M491.5 330.5h0M483.9 339.9h0M496.5 297.2h0M505 297.3h0M494.7 292.1h0M496.5 290.6h0M486.5 354.8h0M501.1 303.2h0M490.7 314.1h0M502.9 291h0M489.7 312.4h0M484.6 363.8h0M495.7 299h0M495.4 309.6h0M491.1 344.7h0M487.5 353.4h0M482.2 345.1h0M493.5 362.1h0M488 371.6h0M483.4 368.8h0M493.2 296.4h0M488.1 364.2h0M486.2 366.1h0M510.8 321.7h0M491.8 366.7h0M486 333h0M503.3 327.2h0M494.1 293.7h0M487.4 325.7h0M493.4 286h0M493.7 375.6h0M482.3 355.1h0M484.6 363.6h0M489.9 324.2h0M506.2 330.9h0M491.1 360h0M481.1 345.2h0M495.8 293.7h0M495.5 299h0M490.8 311.7h0M481.6 327.1h0M496.9 355.3h0M485.8 324.3h0M507.9 329.4h0M498.3 321.3h0M487.2 333.9h0M495.6 283.3h0M506.7 325.7h0M504.6 296.8h0M500.3 332.3h0M493.9 332.6h0M502.5 299.9h0M488 363.8h0M485 324.3h0M497.9 337.7h0M493.4 306.9h0M492.9 371h0M490.9 357h0M493.2 326.3h0M496.6 345.7h0M504.7 328.6h0M501.7 326.1h0M487 371.5h0M493.9 372.1h0M499.4 284.1h0M486 366.3h0M492.9 357h0M500.6 299h0M493.9 371.2h0M492.8 332.2h0M503.5 294.2h0M496.2 280.3h0M492.5 349.1h0M493.5 333.6h0M494.9 337.8h0M488.9 364.8h0M494.4 293.5h0M482.3 315.1h0M490.5 357h0M499.9 323.1h0M491.3 361.6h0M495.3 293.5h0M489.6 326.4h0M480.6 326.1h0M490.6 366.4h0M503.2 292.1h0M486.6 370.5h0M484.2 332.3h0M484.2 378.4h0M494.5 284h0M486.4 340.8h0M514.7 316h0M488.9 379.4h0M513.2 317.7h0M490.8 308.2h0M491.6 377.2h0M504.2 331h0M501.7 338.1h0M508.9 323.7h0M501.1 342.5h0M495.5 335.4h0M491.4 338.4h0M492 347.3h0M505.6 301.2h0M485.8 377.9h0M491.2 320.1h0M481.6 319.5h0M503 302.9h0M513 316.5h0M509.1 321.9h0M488.5 370.5h0M484.3 367.4h0M489.5 323.9h0M494.3 304.8h0M482.4 314.7h0M500 288h0M496.9 348.4h0M496.4 347.1h0M482.8 365.3h0M497.5 353.7h0M494.1 339.7h0M497.1 298.3h0M496.4 285.8h0M489 353.8h0M498.9 340h0M485.7 340.8h0M487.4 333.4h0M501.6 324h0M482.1 347.5h0M493.4 314.5h0M481.2 322.2h0M514.4 317.7h0M501.2 328.4h0M500 301.7h0M501.8 341.8h0M489.8 345.7h0M498.9 328.2h0M481.2 344.3h0M483.1 324.1h0M492.2 299h0M499.8 327.5h0M498 355.4h0M498.1 309.4h0M483.4 372h0M483.6 347.7h0M479.5 349.2h0M482.9 327h0M485.3 360h0M495.2 329.1h0M507.5 327.3h0M495.1 379.5h0M509.1 321.7h0M481.2 330.9h0M493.3 373.1h0M491.3 366.3h0M498.8 334.9h0M484.5 362h0M482 337.9h0M500.7 290.1h0M496.6 300.8h0M497.9 278.8h0M487.8 329.9h0M512.6 321.7h0M491.9 321h0M492.2 359.1h0M485.8 378.9h0M486.3 333.6h0M487.1 345.2h0M499.2 276.9h0M499.1 348.4h0M496.7 337.7h0M494.9 286h0M494.6 314.6h0M479.6 321.9h0M497.3 277.3h0M494.3 303.4h0M485.9 380.1h0M508.1 321.8h0M489 385.5h0M488 333.2h0M485.9 312h0M490.2 345.4h0M486 321.9h0M491.4 313h0M482.7 317.9h0M486.8 342.9h0M505.7 328.4h0M503.7 321.9h0M497 346.3h0M493.2 350.3h0M499.9 340.9h0M500.3 296.9h0M491.4 307.6h0M482.6 342h0M498.7 330.2h0M500.1 282.3h0M483.4 325h0M499.9 290.6h0M503.7 305.3h0M497.9 329.6h0M484.7 360.6h0M485.2 312.8h0M497.9 320.6h0M495.2 304.3h0M492.8 358h0M480.8 323h0M498.8 283.1h0M479.7 347.8h0M504.8 304.1h0M497.6 309.3h0M489.7 345.7h0M500.5 331.1h0M498.9 290.1h0M487.1 376.7h0M500.4 323h0M497.5 353.1h0M485.9 362.5h0M494.9 365.7h0M496.9 351.1h0M496.2 337.1h0M492.7 336.4h0M493.1 350.2h0M497.3 349.1h0M489.9 323.6h0M503.1 338.1h0M504.7 329.3h0M479.3 337.5h0M489.6 361.9h0M492.6 335.7h0M490.9 329.6h0M485.7 380.3h0M481.7 343.1h0M486.2 358.5h0M487.2 345.9h0M483.5 351.9h0M489.5 338.7h0M493.2 322.8h0M497.3 289.6h0M484 371h0M495 312.7h0M481 361.8h0M491.2 355.2h0M491.7 349.2h0M497.2 345.3h0M492.1 340.4h0M491.5 311.9h0M486.8 333.1h0M486.5 323.8h0M494.8 359.5h0M482.8 314.8h0M492.6 313.2h0M498.6 329.6h0M488.6 350.2h0M482.3 333.9h0M486.2 331.7h0M485.3 369.2h0M503.4 297.7h0M498.8 304.5h0M487.5 337.8h0M491.7 296.3h0M488.4 319.8h0M499 291.5h0M483.7 373.3h0M484.5 357.7h0M492.4 355.8h0M494.9 377.2h0M512.4 319h0M500.6 337.3h0M483.1 319.5h0M492.1 306.6h0M490.3 353.9h0M481.6 338.7h0M501.9 297.6h0M514.3 314.8h0M495.2 309.2h0M480.5 323.8h0M495.1 296.7h0M480.9 327.4h0M493.2 288.3h0M490.9 367.7h0M487 333.7h0M494 290.8h0M498.4 296.5h0M479.2 331.9h0M515.3 315.4h0M502 290.8h0M496.9 278.2h0M480.4 323.7h0M504.2 335.4h0M487.2 349.3h0M502.4 328.1h0M490.4 320.6h0M480.9 333.5h0M498.8 295.2h0M494.1 372.2h0M492.4 304.2h0M488.4 331.9h0M498.3 298h0M490.9 340.4h0M501.7 298.9h0M498.3 306.1h0M502.1 335.7h0M492.3 299.4h0M503.2 297.9h0M493.1 381.8h0M483.3 362.6h0M497.8 284.8h0M502.2 322.9h0M487.2 366.6h0M492.9 383.3h0M487.4 316.4h0M484.4 326.5h0M486 357.7h0M505.2 334.2h0M490.7 319.3h0M496.6 298.3h0M501.6 303h0M509.1 321.2h0M489.2 367.7h0M494.3 292.6h0M494.1 296.7h0M483.9 319.3h0M499.7 290.6h0M489.5 357.7h0M490.1 345.1h0M486.4 333.5h0M482.5 362.6h0M495.3 367.4h0M503.6 335.2h0M488.4 314.8h0M488.1 342.5h0M498.4 351.1h0M499.6 332.1h0M493.2 378h0M490.2 380.9h0M483.5 351.7h0M494.9 337.1h0M485.5 352.1h0M487.2 349h0M497.9 307h0M500.1 338.2h0M497.5 348h0M498.6 323.3h0M483.1 314.3h0M498.1 279.9h0M493.9 307.3h0M488.1 325h0M495.1 281.8h0M499 328h0M502 290.2h0M488.7 381.5h0M487.5 326.3h0M489.6 314.8h0M486.5 374.6h0M492.2 305h0M489 366.5h0M480.8 315.4h0M497.4 301.2h0M496.3 338.9h0M500.9 307.9h0M485.2 342.6h0M502.2 331.7h0M494.4 365.8h0M492.9 326.7h0M490.8 341.5h0M488.4 333h0M501.6 295.5h0M495.7 321.9h0M487.1 338.3h0M494 304.5h0M483.8 361.6h0M482.5 342.8h0M486.2 348.2h0M501.1 334.9h0M512.1 317.6h0M494.3 358.6h0M487.7 332.9h0M491.3 340.8h0M488.6 369.9h0M489.4 352.7h0M483.5 377.3h0M484.8 345.3h0M495.1 288.9h0M492.4 301.6h0M497.3 278.2h0M480 352.9h0M497.2 342.3h0M509.2 321.6h0M480.9 354.8h0M500.8 324.2h0M502.2 333.9h0M501 308.2h0M487 376.6h0M491.9 378h0M486.7 327h0M483.4 326.2h0M486.7 364.5h0M499.5 341.6h0M481.5 315.3h0M490.1 341.1h0M484.4 334.5h0M495 318.8h0M484 325.4h0M499.4 302.9h0M498.9 302.7h0M491.2 309.9h0M503.4 330.7h0M496.4 332.4h0M501.5 304.4h0M509.8 320.4h0M489.1 355.8h0M503.5 302.3h0M493.9 381.1h0M499.9 350.8h0M500.6 294.7h0M490.9 354.1h0M494.6 303.3h0M486.4 323.8h0M489.4 327.9h0M496.4 314.3h0M482.5 366h0M485.6 368.8h0M488.6 316.7h0M480.4 316h0M491.4 322.3h0M491.9 363.6h0M484.5 373.3h0M498.7 351.1h0M494 348.8h0M490.9 319.7h0M481.4 352.2h0M495 366h0M485 339.3h0M491.3 345.1h0M485.9 314.4h0M490.5 325.6h0M484.1 358.9h0M482.3 353.1h0M485.1 364.7h0M488.8 349.8h0M488.5 347.7h0M487.4 371.8h0M492.5 352h0M481.2 357.8h0M481.2 314.9h0M484 355.7h0M489.8 344.2h0M479.4 336.3h0M500.7 282.1h0M492 327.6h0M498.8 282.9h0M491.8 366.5h0M503.5 338.6h0M503.1 292.7h0M507.4 318.3h0M503.1 322.4h0M502.6 324.9h0M485.4 344.5h0M502.7 334.6h0M489.1 359.7h0M498.3 323.1h0M499.4 299.7h0M493.9 281.4h0M487.6 353h0M495.4 339h0M487.8 366.7h0M488.8 368.9h0M490.2 350.5h0M488.5 336.9h0M500.8 301.8h0M485.7 327.4h0M499.5 336.5h0M500.7 293.5h0M495.4 320h0M492.7 357.2h0M499.3 325.2h0M484 316.3h0M487.4 361.4h0M494 312.9h0M495 297.4h0M481.1 351.5h0M494 307.2h0M492.3 376.1h0M495.4 343.1h0M511.8 323.4h0M483.3 369.4h0M478.9 330.5h0M484.1 363.3h0M488.3 340h0M497.8 278.9h0M499.5 289.2h0M487.3 369.6h0M482.3 324.6h0M484.5 350.9h0M483.1 358.7h0M484.3 327.6h0M482.1 367h0M505.3 325.3h0M494.5 325.2h0M486.1 372.6h0M491.6 346.1h0M501.9 302.8h0M481.1 345.8h0M494.6 369.8h0M488.5 377h0M498.3 353.2h0M496.2 335.2h0M493.7 375.5h0M503.9 321h0M494.5 294.8h0M498.8 341h0M485.1 380.1h0M493.3 302.3h0M495.2 353.1h0M480.6 317.8h0M497.1 356.8h0M479.4 322.9h0M501.5 324.4h0M493.8 361.8h0M499.4 308.8h0M493.4 334.8h0M486.6 354.3h0M505.3 318.8h0M479.2 338.2h0M491 311.1h0M512.2 319.6h0M482.5 346h0M488.1 366.5h0M489 355.9h0M487 336h0M500.1 334.6h0M491.7 345h0M502.2 320.1h0M504.9 302h0M496.5 295.2h0M502.1 290.2h0M490 375.5h0M494.5 360.3h0M496.7 323.9h0M507.1 322.9h0M513.6 315.1h0M481 341.4h0M498.1 297.2h0M496.4 347.5h0M491.3 372.1h0M489.6 339.1h0M494.9 289.8h0M489.7 349.8h0M490.5 333.9h0M488.8 364.8h0M500.1 343.5h0M495.2 299.7h0M503.4 332.4h0M494.2 357.2h0M500.5 335.1h0M481.3 359.8h0M487.3 348.4h0M504.3 297.2h0M504.3 301.1h0M498.9 283.7h0M489 378.3h0M491.3 320.7h0M495.5 362.4h0M496.8 305.6h0M490.5 361.2h0M503.2 333.5h0M504.4 331.1h0M490.4 370.1h0M492.4 301.5h0M496.2 331.4h0M486.1 368.3h0M484 341h0M483.4 323.2h0M498.4 321.4h0M498.4 294.2h0M486.4 340.8h0M490.9 354.9h0M491.7 374h0M498 320.7h0M483.2 364.3h0M487.3 324.9h0M507.8 326.4h0M487.7 361.5h0M487.5 332.4h0M481.3 322.2h0M482.5 342.5h0M494.3 352.9h0M510.7 320h0M495.5 366.3h0M479.4 329.5h0M503 303.1h0M483.8 328.7h0M512.2 318.4h0M480.8 340.4h0M491.5 319.2h0M486.4 343.6h0M498.2 274.7h0M480.8 345.7h0M482.2 333.2h0M491 324.5h0M480.9 319.8h0M487.4 354.2h0M500.3 294.3h0M496.4 336h0M499 309h0M493.8 326h0M488.7 368.8h0M498.6 342h0M497.4 340h0M500.5 304.1h0M482 361.9h0M489 320h0M498.1 322.7h0M481.4 313.6h0M491.9 324.8h0M487.4 335.7h0M485.6 330.1h0M483 334h0M498.1 307.7h0M486.1 347.1h0M490 311h0M504 325.4h0M491.1 328.6h0M512.7 316.8h0M495.8 306.1h0M498.2 332.6h0M487 312.8h0M504.7 299.4h0M487.5 349.3h0M494.5 346.7h0M497.3 318.2h0M491 381.9h0M490.6 350.4h0M481.1 362.3h0M491.3 379.8h0M492.8 332.3h0M501.2 288.4h0M500.6 324.5h0M502.6 330.7h0M481.8 366.7h0M507.5 327.8h0M492 375.4h0M491.6 376.6h0M502 286.6h0M501.5 292.4h0M487.3 375.8h0M515.8 315.3h0M486.6 345.6h0M494.6 342h0M494.7 303h0M489.6 374.7h0M497 347.2h0M491.7 347.3h0M497 330.9h0M498.3 298.1h0M500.6 287h0M497.5 281.6h0M485.1 372.1h0M487.7 318.3h0M485.7 329.2h0M489.6 379.5h0M487.4 356.1h0M497 291.6h0M489.6 372.4h0M495.8 352h0M496.3 322h0M498.4 333.9h0M487.4 334.9h0M490.2 326.9h0M492.9 317.7h0M489.7 338.9h0M499.8 285.2h0M495.2 381.4h0M489.9 377h0M496 343.1h0M484 340h0M480.4 335.4h0M487.9 372.7h0M492.8 366.9h0M490.6 364.3h0M489.7 331.7h0M488.3 365.1h0M497.5 338h0M485.9 342.5h0M500.7 321.3h0M496.5 293.5h0M481 328.6h0M497.3 283.6h0M485.9 328.8h0M480.6 339.5h0M484.4 347.2h0M508.3 328.2h0M508.7 326.4h0M490.3 318.8h0M495.7 351.2h0M495.8 342h0M482.3 366.6h0M489.6 369.9h0M503.5 323.3h0M494.5 299.9h0M499.6 331.1h0M499.5 349.9h0M495.2 335.2h0M495.8 285h0M494.2 289.6h0M500.1 350.3h0M486.3 325.7h0M497.4 343h0M507.1 322.5h0M488 334.2h0M482.5 344.7h0M490.1 314.8h0M491.9 333.9h0M479.6 319.1h0M492.9 318.4h0M486.8 346.5h0M491.7 366h0M487.9 381.9h0M480.1 325.4h0M483.6 320h0M486.2 324.9h0M498.8 296.5h0M494.1 334.1h0M485.8 320.9h0M498.8 288.5h0M491.1 357.1h0M484 374.4h0M496.3 281.6h0M502.3 305.2h0M490.3 335.7h0M492.8 372.5h0M482.1 342.2h0M484.1 364.2h0M489.4 362.7h0M493.3 346.4h0M489 318.3h0M501.5 288.3h0M479.4 341.9h0M489.6 324h0M490.5 372.8h0M492.6 317h0M487.1 365.6h0M496.8 348.7h0M491.1 322.6h0M480.1 325.7h0M491.1 376.9h0M486.3 361.5h0M506.2 327.1h0M489.2 368.9h0M498.9 287h0M504.9 321.6h0M486 346.6h0M492.9 318.3h0M498.2 287.8h0M495.5 289.7h0M485.4 347.7h0M499.5 342.3h0M500.1 347.2h0M496.1 316.1h0M486.3 324.5h0M493 299.7h0M495.6 358.4h0M491.6 356.5h0M482 334.7h0M505.5 299.9h0M480.1 320.8h0M485.4 320.5h0M515.1 314.7h0M495.6 293.3h0M494.3 363.1h0M493.1 302.9h0M494.7 368.4h0M496.7 309.3h0M497 309.2h0M502.8 294.8h0M480.4 327.3h0M483.7 338h0M488.5 322.7h0M494.2 347.5h0M496.6 284.3h0M496.9 326.9h0M489.4 358.7h0M497.4 297.5h0M484.6 361.1h0M490.5 359.2h0M495.4 350h0M496.9 288.2h0M488.6 341.3h0M502 297.9h0M497.8 335.4h0M495 313.1h0M482.8 359.2h0M502 328.1h0M509 323.7h0M495.8 329.7h0M489.2 322.9h0M481.4 323.3h0M486.1 361.8h0M497.3 280.5h0M492.8 310.5h0M488.8 367.3h0M499.2 346.8h0M505.2 325.7h0M492.5 320.5h0M496.8 347.8h0M511 323.7h0M498.3 322.4h0M494.9 311.2h0M510.4 324.4h0M495.2 378.9h0M493.8 291h0M491.2 382.7h0M487.1 341.3h0M510.6 319.3h0M504.6 305.7h0M484.6 378h0M495.7 279.9h0M483.6 321.6h0M506.8 323.8h0M492.8 340.2h0M491.7 297.8h0M497 353.5h0M482.6 342.3h0M494.5 305.2h0M485.6 355h0M479.4 342.1h0M489.2 330.9h0M481.9 365.6h0M501.6 342.8h0M489.5 366.4h0M488.1 360.7h0M484.8 327h0M497.8 343.1h0M494.8 335.6h0M496.1 292.5h0M495.6 307.3h0M489.5 371.7h0M505.4 320.6h0M488.8 347.7h0M501.5 295.3h0M507.3 318.3h0M483.7 329.1h0M510.9 323.7h0M491.1 327.9h0M489.3 331.6h0M499.9 324.2h0M498.5 352.8h0M491.6 324.3h0M498.5 288h0M486.5 367h0M509.2 319.7h0M491.4 306.5h0M480.6 318.4h0M495.3 309.9h0M496.5 350.4h0M483.9 370.5h0M499.2 341.6h0M489.8 313.7h0M495.1 300h0M483 370.4h0M494.6 294.4h0M497.2 339.8h0M492.3 322.2h0M485.3 340.8h0M500.1 291.6h0M499.5 296h0M493 374.6h0M491.5 334.3h0M501.3 321.7h0M483.4 331.9h0M495.2 316.7h0M503.1 323.3h0M490.2 372.7h0M490.3 362.8h0M485 375.3h0M492.2 358.6h0M481 361h0M493.9 308.7h0M502.7 307.3h0M486.5 378.6h0M481.3 363.2h0M505.8 319.5h0M494.9 340.6h0M495.4 344.7h0M494.2 361.3h0M479.9 346.6h0M479.3 329.2h0M485.4 369.4h0M495.1 287.7h0M497.6 320.4h0M480.8 321.5h0M491.2 371.4h0M496.5 336.7h0M481 359.4h0M508.7 328.4h0M493.8 336.3h0M486.4 327.3h0M500.9 337.9h0M499.2 286.1h0M498.2 285.5h0M494.1 323.4h0M501.9 328.6h0M486.9 347.6h0M487.3 340.7h0M487.1 375h0M502.7 331.1h0M490.9 370.7h0M501 298.6h0M485.6 325.9h0M494 375.2h0M491.1 318.6h0M500.1 335.7h0M495.4 339.5h0M503.4 340.7h0M505.1 301.7h0M490.6 364.5h0M502.3 289.8h0M496.8 279.3h0M484.8 330.5h0M495.3 313.6h0M490.8 350.8h0M492.1 348.3h0M480.2 330h0M506 306.3h0M504.1 326.5h0M494.8 360.3h0M492.9 340.4h0M492.9 291.7h0M483.1 365.3h0M500.9 323.5h0M508 321h0M485.5 335.6h0M502 342.8h0M487.1 327.3h0M503.7 302.5h0M480.4 334.4h0M498.8 278.4h0M482.3 364h0M503.2 306.1h0M488.3 320.3h0M486.6 360.4h0M492.5 309h0M484.1 327.5h0M485.8 329.1h0M482.4 354h0M482.4 359.3h0M497.1 355.2h0M485.7 355.6h0M487.7 374.9h0M511.8 321.2h0M501.1 345.6h0M494.1 304.7h0M484.7 343.7h0M488.4 350.7h0M503.3 293.3h0M495.5 363.7h0M505.1 331.9h0M501.8 287.7h0M498.5 276.8h0M503.8 334.6h0M484.2 329.5h0M494.4 311.2h0M497.8 338.2h0M489 315.2h0M508.6 321h0M497.9 338h0M510.8 317.6h0M501.3 286.7h0M490.7 348h0M486.7 328.4h0M496.1 295.7h0M508 323.3h0M481.4 354.1h0M483.8 322.4h0M485.4 366.9h0M495.7 347.4h0M490.9 370.4h0M488.6 343.9h0M491.2 317.7h0M492.7 328.8h0M490.5 355.1h0M498.7 295.3h0M504.7 298.7h0M492.7 381h0M490.6 319h0M501.1 343.4h0M484.7 322.8h0M486.7 380.1h0M492.2 296.2h0M483.8 345.1h0M482.2 363.2h0M498.8 322.7h0M497.9 346.8h0M491.8 344.2h0M516 314.2h0M483.6 317.2h0M484.8 359.7h0M499.5 329.2h0M496 306.1h0M493.5 303.6h0M505.1 299.1h0" stroke="#00007f" stroke-width="1.9" stroke-linecap="round"/>
<path d="M506.2 350.3h0M506.9 369.3h0M506.2 353.2h0M503.1 364.2h0M509.6 347.7h0M503.4 378h0M507.6 358.1h0M502.2 346.8h0M504.4 371.5h0M506 359.6h0M509.5 342.5h0M506.4 340.3h0M501.9 377.7h0M502.4 377.5h0M509.6 341.2h0M509 338.7h0M514.6 326.9h0M501.7 358h0M506.3 347.6h0M512.1 339.6h0M510.5 343.7h0M500.7 378.4h0M498.9 367.8h0M511.5 339.8h0M506.3 352.2h0M507.2 360.9h0M501 374.2h0M495 373.4h0M508.8 351.1h0M508.5 360.6h0M513.9 328.4h0M510.4 347.1h0M510.8 333.3h0M499.6 358.2h0M499 367.6h0M508 335.8h0M500.7 377.4h0M500.1 388.1h0M503.9 344.5h0M512.4 333.4h0M503.9 372.5h0M510.4 353.7h0M504.8 361.9h0M504.4 345.5h0M515.9 322.2h0M500.1 351.5h0M511.2 341.7h0M501.5 361.6h0M512.9 328.8h0M511.8 337.9h0M498.6 378.6h0M507.1 331.7h0M499.4 380.4h0M495.7 375.6h0M502.2 381.1h0M512.8 340.2h0M507.9 338.5h0M508.8 338.6h0M506.1 377.2h0M499.2 370.7h0M508.8 347.1h0M512.4 331h0M498.5 361.6h0M516.8 315.7h0M507.8 331.2h0M505.6 344h0M505.1 348.3h0M514.8 328.1h0M508.4 347.8h0M510.5 340.1h0M507.9 332.5h0" stroke="#7fff7f" stroke-width="1.9" stroke-linecap="round"/>
<path d="M516.2 363.8h0M519.2 324.1h0M518.9 314.1h0M517.3 354.8h0M518.8 330.6h0M517.5 336.7h0M517 342.4h0M519.1 346.8h0M513.3 377.8h0M517.5 321.9h0M511.5 376.2h0M517.7 330.6h0M512.1 371.1h0M516.5 358h0M516.2 334.2h0M517 367.6h0M518 364.3h0M519.9 359.2h0M515.3 349.9h0M514.2 370.3h0M514.9 372.9h0M511.8 372.8h0M516.6 371.7h0M512.7 374.9h0M519.2 338.8h0M515.8 336.4h0M517.8 364.5h0M519.4 336.8h0M517.9 334.4h0M517.1 352.4h0M516.5 342.9h0M519.4 317.9h0M516.8 352.8h0M519.5 357h0M514.8 376.7h0M516 332.1h0M520.7 350.4h0M517.8 325h0M516 353.2h0M513.8 337.7h0M520 341.7h0M515.4 363.8h0M515.1 366h0M514.7 358h0M511.3 355.4h0M512.9 373.2h0M511.1 377.3h0M515.1 372.1h0M512.3 356.2h0M511.1 377.2h0M516.4 371.4h0M520.4 352.9h0M515.2 352.6h0M516.7 342.4h0M515.4 363.3h0M519.7 341.9h0M518.1 365.1h0M515.5 353.9h0M519.5 325.1h0M512.9 365.8h0M513.2 362.1h0M518.3 327.8h0M511 374.1h0M515.5 357.7h0M514.8 355.4h0M516 364.6h0M512.3 368.8h0M519.3 339.2h0M514.2 356.9h0M519 352.5h0M518.6 328.7h0M514.6 357.1h0M520.1 336.1h0M510.1 378.1h0M518.5 325.7h0M513.8 365.2h0M518.2 334h0M516.6 360.4h0M513.4 371.9h0M504.6 305.8h0M512.1 376.8h0M518.8 343.6h0M515.6 363.8h0M518.5 364.9h0M518.3 327.4h0M518 347.2h0M516.6 357.4h0M512.7 351.2h0M515.4 368.9h0M518.8 323.1h0M512.6 377h0M513.5 375.8h0M507.5 376.6h0M517.5 351.4h0M519.4 357.6h0M513.2 339.6h0M503.1 295.6h0M516.2 353.4h0M518.7 324.7h0M512.6 377.7h0M513.1 370.4h0M514.3 358.9h0M509.4 361.7h0M518.4 359.5h0M513.6 366.3h0M516.2 356.4h0M516.4 348.1h0M516.5 361.1h0M518.4 356.3h0M514.7 357.2h0M515.2 374h0M519.9 351.3h0M514.6 360.2h0M516.9 365.8h0M509.8 378.6h0M513.6 365.8h0M514.2 368.9h0M516.5 347.2h0M520 323.3h0M513.7 341.2h0M517.2 350.2h0M515.7 354h0M517.8 327.1h0M516 370.8h0M518.9 364.1h0M518.3 343.6h0M517.1 371.9h0M513.6 366.1h0M516.8 339.6h0M513.5 372.9h0M520.1 347.4h0M515.3 334.1h0M517.4 369.1h0M517.8 349.4h0M517.3 349.1h0M519.6 321.5h0M517.3 340.5h0M507.9 376.9h0M520.3 338.7h0M518.1 347.7h0M507.9 370.5h0M513.7 372.9h0M519.6 347.2h0M518.6 354.2h0M517.8 329.8h0M518.1 349.9h0M517.1 370.6h0M515.3 351.8h0M519.6 356.5h0M513.1 343.3h0M520.1 336.3h0M514.8 355.7h0M517.6 370.4h0M517.8 351h0M518.4 313.7h0M514.3 347.5h0M517.5 342h0M516.7 357.7h0M515.5 368.7h0M513.6 364.7h0M520.3 355.8h0M515 369.9h0M512 376.9h0M515.5 350.7h0M517.9 331.9h0M515.8 359.6h0M517.5 335.8h0M515.7 373h0M518.7 325.4h0M517.6 366.5h0M514 370.8h0M514.7 359.7h0M515.1 331.9h0M518.7 338.2h0M518.8 351.1h0M516 348.4h0M516.2 341.3h0M512.3 348h0M516 356.4h0M512.7 367.2h0M518 333.1h0M517.8 325h0M511.8 368.6h0M516.8 345.2h0" stroke="#7f0000" stroke-width="1.9" stroke-linecap="round"/>
<path d="M519.1 353.4h0M516.4 370.9h0M515.2 369.8h0M514.4 363.6h0M517.2 322.2h0M514.7 345.2h0M513.7 377.3h0M511.1 380.1h0M516.5 341.5h0M516.4 328.6h0M509.1 372.5h0M515.8 362.2h0M517.7 323.8h0M518.9 348.7h0M514.1 376.5h0M513.2 346.2h0M516.4 369.1h0M512.8 364.5h0M517.2 328.1h0M512.3 369.4h0M510.5 380h0M516.9 348.7h0M508.9 366.5h0M517.9 341.1h0M513.5 333.8h0M513 342.3h0M519.5 343.8h0M511 362.4h0M514.9 339.1h0M510.9 354h0M513.1 351.9h0M517.9 332.3h0M515 353.3h0M506.9 388.4h0M513.4 361.2h0M506.8 375.9h0M512.3 357h0M508.2 385.8h0M512.1 349.3h0M508.9 384h0M516.4 365h0M516.8 353.1h0M510 363.1h0M503.8 388.7h0M509.8 365.1h0M508.7 379.7h0M505.2 388.5h0M512.7 371h0M518 344.9h0M518.2 358h0M511.9 363.5h0M519.9 347.9h0M512.4 375.3h0M513.7 346.3h0M518.2 325.4h0M515.5 342.8h0M506.8 375.1h0M511.1 356.3h0M509.9 373.3h0M515.2 343.5h0M513.5 335.3h0M507.4 383.3h0M509 385.9h0M511.1 355.3h0M519.2 324h0M515 333.9h0M513.9 334.9h0M507 373.6h0M517.3 354.6h0M518.1 349.7h0M515 358.4h0M511.1 382.8h0M505 388.4h0M519.6 354.7h0M512.5 374.8h0M518.6 361.7h0M514.9 360.5h0M507.3 378.1h0M515.2 337.4h0M515.3 355.6h0M511.7 373h0M516.8 339.5h0M514.2 335.3h0M514.2 347.3h0M517.3 366.9h0M512.4 364.1h0M513.9 376.3h0" stroke="#ff0000" stroke-width="1.9" stroke-linecap="round"/>
<path d="M508.6 385.5h0M508 385.1h0M514.4 332.2h0M504.2 386.2h0M513.5 379.6h0M513 354.9h0M511.5 365.5h0M516 334.5h0M511.6 363.4h0M511.8 338.4h0M511.8 332.1h0M504.8 373.7h0M506.4 363.7h0M513.1 345.9h0M515.4 329.3h0M515.2 340.2h0M516.2 320.4h0M517.3 313.9h0M502.5 378h0M516.4 325.3h0M505.6 367.1h0M506.6 384h0M507.3 370.8h0M508.4 346.4h0M513.8 337.5h0M511.4 358.5h0M506.8 375h0M511.6 381.9h0M505.4 375.7h0M512.6 345.7h0M512.9 379.3h0M510.2 365h0M513 363.9h0M513.1 340.3h0M514.1 332.1h0M513.3 357.1h0M514 331.4h0M517.2 321.9h0M515.7 327.6h0M507.9 372.6h0M507.4 367.1h0M515.4 342.9h0M510.3 382.7h0M506.5 365.1h0M517 326.2h0M504.4 388.1h0M507.6 386.7h0M509.3 358.3h0M512 333.1h0M507.3 376.3h0M517.5 318.6h0M515.1 340.7h0M514.6 346.3h0M513.3 379.7h0M513.9 333.7h0M516.9 324.2h0M512.7 345.9h0M508.4 384.4h0M507.9 363.2h0M511.1 358.2h0M512.7 331.1h0M507.9 374.8h0M517.1 324.8h0M507.8 354.4h0M511.5 366.8h0M504.1 366.4h0M515.1 343.3h0M510.1 364.7h0M505.9 378.8h0M513.9 349.7h0M513.6 338.4h0M510.8 354.2h0M505.9 354.1h0M513.9 355.6h0M517.2 326.3h0M503.8 369.6h0M508.1 378.8h0M509.4 376.2h0M512 380.1h0M517.9 318.9h0M514.3 342.6h0" stroke="#ff7f00" stroke-width="1.9" stroke-linecap="round"/>
<path d="M515.8 321.4h0M501.8 349.9h0M506.8 372.5h0M501.3 374.7h0M515.1 320.3h0M500.4 365.5h0M500 383h0M504.2 354.7h0M500.2 372.2h0M505.1 351.5h0M501.4 372.5h0M497.9 371.6h0M512.8 329h0M500.4 362.9h0M511.5 380.9h0M500.8 385.6h0M502.1 349.2h0M501.1 380.2h0M499 385.9h0M508.2 344.3h0M504.6 342.2h0M513.8 379h0M507.4 335.8h0M513.1 327.9h0M504 352.3h0M509.9 347.4h0M502.3 365.5h0M500.5 364h0M503.4 348.2h0M503.8 377.6h0M516 321.2h0M504.6 345.4h0M508.1 350.2h0M503.6 353.8h0M513.1 326.2h0M507 387.3h0M510.4 342h0M500.5 381.4h0M509.1 336.8h0M500.1 381.8h0M500.5 369h0M499.2 355.2h0M510.7 328.7h0M498.7 378.5h0M506.1 354.5h0M498.5 384.4h0M510.3 330h0M509.1 340.8h0M504.3 375.9h0M512.5 338.1h0M508.1 352.9h0M499 360.4h0M505.8 369.7h0M499.6 378.6h0M508.4 333.5h0M510.2 346.6h0M504.9 341.9h0M512.4 329.6h0M499.2 377.9h0M507.4 339h0M505.5 361.4h0M499.5 380.9h0M496.6 369.1h0M515 319.4h0M498.9 354.6h0M510 357h0M506 380.6h0M498.6 381h0M506.9 361.4h0M508.5 358.2h0M501 349.9h0M498.2 357.4h0M506.3 358.9h0M501 387.3h0M504.1 347.2h0M503.3 350.6h0M513.8 330.9h0M504.4 372.1h0M500.2 369h0M512 337.4h0M496.1 368.9h0M510.1 344.3h0M505.7 363.7h0M506 358.2h0M500.4 354.1h0M507.2 332h0M504.8 378.8h0M515.5 321.4h0M508.4 359.4h0M512.6 324.2h0M508.6 329.5h0M510.3 344.6h0M497.2 365.7h0M509.9 382.6h0M505.9 352.8h0M510.8 380.7h0M503.8 351h0M507.1 353.9h0M503.3 348h0M504.2 363.2h0M510.1 339.2h0M509.9 338.7h0M502.7 386.8h0M503.9 351.2h0M497.6 365.8h0M502 352.8h0M501.8 369.2h0M516.3 317.2h0M514.4 325.7h0M513.7 326h0M497.3 364.5h0M503.1 370h0M499.4 365.1h0M500.6 377.3h0M503.7 353.6h0M510.2 333.5h0M505.1 344h0M510.3 352.2h0M498.2 377h0M503.3 372.8h0M500 370.3h0M510.7 329.4h0M507.6 378.8h0M503.1 379.7h0M501.5 360.1h0M504.3 372.1h0M497.1 374.8h0M505.8 377.4h0M504.5 380.5h0M502.9 365.9h0M502.2 353.9h0M516.3 315.1h0M500 382.7h0M501 380.4h0M513.3 330.4h0M504.3 353.6h0M512.3 330.8h0M507.3 338.3h0M506.5 389.1h0M504.2 342.7h0M499 373.3h0M510 345.2h0M507.4 338.2h0M515.4 317.6h0M510.8 348h0M509.1 344.3h0M503 364.5h0M511.2 343.5h0M501.5 375h0M501.7 351h0M504.4 365.4h0M506.6 333.5h0M497 369.3h0M508.4 352.3h0M504 348.4h0M503.8 383.7h0M505.2 387.2h0M498.9 353.9h0M507.6 382.9h0M507.1 346.9h0M512.8 379.6h0M511.8 347.1h0M505.1 351.6h0M498.4 355.2h0M504.1 363.7h0M510.3 342.5h0M499.1 370.1h0M517.1 316.6h0M498.2 383.9h0M503.3 384.7h0M508.2 364.3h0M516 321.3h0M504.5 365.6h0M512.9 332.1h0M508.7 348.6h0M509.7 339.2h0M505.2 379.7h0M510.3 354.5h0M505.3 345.7h0M503.5 357.2h0M499.2 372.2h0M507.1 367.2h0M500 379.3h0M504.1 371.8h0M496.2 375.5h0M502.6 345.2h0M504.2 386.2h0M505.1 348.9h0M513.4 325.1h0M511.8 337.6h0M496.7 372.2h0M502 390.1h0M503.7 360.2h0M499.3 369.9h0M502.6 389.2h0M506.2 374.8h0M502.3 376h0M500.8 374.1h0M496.2 363.9h0M506.7 357.7h0M502.4 370.3h0M509.9 343h0M501.3 382.9h0M509.9 329.6h0M502.9 345.2h0" stroke="#00e5ee" stroke-width="1.9" stroke-linecap="round"/>
<path d="M514.5 322.2h0M505.8 349.3h0M498.6 366.6h0M509 336.2h0M506.4 368.1h0M502.2 370.5h0M503.2 364.3h0M496.3 376.1h0M498.9 370.4h0M496.3 373.5h0M500.6 375.1h0M501.6 363.2h0M507.8 331.1h0M510.9 347h0M502.8 347.8h0M510.3 330.2h0M516.6 316.5h0M496.9 370.9h0M499.9 364.8h0M499.7 366.9h0M499.8 373.7h0M508.6 338h0M498.9 362.1h0M513 326.9h0M505.5 372.5h0M501.6 375.1h0M506.4 338.9h0M507.1 332.5h0M502.1 359.7h0M499.2 384.5h0M500 356h0M506 361.6h0M499.5 369h0M504.5 377.1h0M507.3 354.2h0M507.8 342.2h0M502.3 363.8h0M499.6 383.1h0M501.3 376.4h0M500 372.7h0M500.2 387.4h0M501.6 376.5h0M505.6 344.4h0M501.1 348.4h0M499.4 380.8h0M515.9 318.6h0M504.7 351.9h0M506.8 331.1h0M501.5 363h0M500.3 352.4h0M500.8 389h0M509.8 329.4h0M504.3 350.6h0M509.4 337.2h0M508.9 353.1h0M500.3 364.5h0M503.3 343.1h0M500.4 362.8h0M495.9 373.1h0M501.9 365.7h0M500 383h0M495.6 371.4h0M502.7 363h0M506.4 333.4h0M505.9 346.4h0M500.7 350.7h0M499.5 354.2h0M506.1 335.8h0M501.9 366.1h0M508.2 329.8h0M499.2 385.9h0M515.8 318.1h0M508 337.7h0M500.3 367.7h0M512.8 323.4h0M508.3 349h0M503.5 356.5h0M502.4 362.9h0M500.6 379.2h0M502 359.6h0M501.1 383.7h0M501.9 367h0M503.3 347.2h0M496 370.6h0M512.5 324.7h0M501.2 384.9h0M502.3 366.8h0M502 366.2h0M502.1 346.7h0M507.5 337.8h0M509.4 336.7h0M503 352.2h0M512.3 324.3h0M508.2 344.5h0M495.2 371.3h0M499.8 360h0M504.4 349.6h0" stroke="#007fff" stroke-width="1.9" stroke-linecap="round"/>
<path d="M506 367.4h0M516.3 325.9h0M514 330.8h0M510.8 345.4h0M505.3 388.8h0M511.7 364.5h0M506.5 362.5h0M503.2 388.3h0M514.5 333.9h0M515.9 334.6h0M516.5 328.3h0M505.2 362.2h0M510.9 355.9h0M508.6 381.9h0M513.4 340.3h0M511.8 363.4h0M503.2 368.4h0M505.8 374h0M507.2 383.2h0M515.8 328.2h0M509.1 360.9h0M506.7 371.7h0M513 337h0M510.6 368.4h0M510.6 344.5h0M502.5 388.2h0M504.5 359.8h0M501.3 384.8h0M514.7 345.6h0M511.6 339.3h0M513 355.8h0M506.7 381.2h0M515.9 335.9h0M510.4 381.7h0M503.9 388.3h0M507.6 349.6h0M516.1 330.2h0M510.9 340.6h0M508.6 374.2h0M504.1 375.4h0M503.7 385h0M509.6 385.4h0M504.8 372.1h0M509.4 385.7h0M503.9 377.8h0M510 338.2h0M504.5 365.2h0M513.8 348.8h0M509.5 343.1h0M505.6 368.3h0M510.3 369h0M509.8 368.5h0M504.4 377h0M509.4 372.7h0M510.1 363.4h0M509.6 344.3h0M512.8 360.8h0M507.2 364h0M516.6 321.6h0M509.4 377.4h0M512.9 347.3h0M508.9 365.2h0M509.5 339.4h0M505.6 364.3h0M511.7 341h0M510.7 356.2h0M509.7 361.2h0M506.8 358.2h0M516.4 325.3h0M508.2 386.5h0M504.4 383.7h0M506.5 360.5h0M508.2 386h0M510 354.8h0M505.9 355.7h0M508.4 357.1h0M506.7 365h0M511.4 349.6h0M510.2 368.2h0M508.8 359.7h0M514.9 343h0M505.7 380.5h0M507.2 384.6h0M504.8 377.3h0M510.6 340.5h0M507.3 370.6h0M511.4 354.9h0M510.8 335.1h0M506.1 383.1h0M513.4 335.3h0M506.5 375.5h0M511 331.8h0M510.2 351.9h0M505.4 361h0M502.3 379.6h0M505.4 367.7h0M515.9 332.5h0" stroke="#ffe600" stroke-width="1.9" stroke-linecap="round"/>
<path d="M505.5 350.9h0M499.3 387.7h0M500.4 368.9h0M493 344.1h0M483.1 347.3h0M499.1 377.3h0M497.4 334h0M507.1 333.1h0M502.9 327.9h0M492.6 368.2h0M485.7 370.6h0M485.2 314.1h0M486.4 343.1h0M503.4 356.9h0M509.1 331.5h0M500 355.9h0M495 280.4h0M484.1 351.1h0M500.5 384.8h0M498.1 383.7h0M505.5 328.3h0M504.5 352.8h0M502.2 347.1h0M501.7 352.8h0M501.6 303.7h0M505.4 339.5h0M501.1 375.2h0M496.4 376.4h0M483.6 364.3h0M503.7 327.1h0M500.7 374.8h0M486.1 323.8h0M497.3 338.6h0M489.2 378.3h0M501.9 322.4h0M506.4 345.3h0M489.5 359.4h0M481.1 360.6h0M504.9 354.8h0M482.4 350h0M499 372.4h0M491 307.8h0M492.2 316.1h0M516.9 314.1h0M508.7 331.3h0M492.2 343.9h0M498.4 358.3h0M488.4 337h0M500.9 324.5h0M488.4 352.8h0M506.6 334.9h0M502.9 357.1h0M510.7 321.5h0M491.3 380.2h0M492.9 367h0M501.3 361.8h0M502.5 338.2h0M506.1 344.6h0M498.6 380.2h0M496.2 373.3h0M494.5 312h0M488.2 314.6h0M482.5 328.4h0M495.9 318.9h0M485.7 350.3h0M503.4 359.4h0M510.5 326.6h0M484.1 350.5h0M497 344h0M485.5 374.6h0M496.8 316.7h0M500.8 386.9h0M501.9 371.2h0M487.8 341.7h0M497.4 285.4h0M501.1 382.7h0M500.8 380.1h0M496.2 364h0M508.8 320.5h0M490 311.7h0" stroke="#0000ff" stroke-width="1.9" stroke-linecap="round"/>
<path d="M490 317.1h0M492.5 313.8h0M495.3 319.3h0M491.3 322.7h0M499.4 324.7h0M506.8 334.7h0M502.1 336.7h0M510.7 325.3h0M493.7 315.5h0M496.3 321.8h0M494.2 323.8h0M500.5 344.8h0M501.3 348.2h0M500.1 351.5h0M501.7 354h0M495.4 366.6h0M496 368.7h0M495.7 370.8h0M504.3 328.9h0M486.6 344h0M511 352.4h0M491.6 360.7h0M505.9 369.1h0" stroke="#fff" stroke-width="1.2" stroke-linecap="round"/>
<path d="M497.5 312.1h0M499.2 314.6h0M500.9 316.3h0M502.6 313.8h0M505.1 315.5h0M508.5 316.7h0M498.8 318.8h0M503.8 311.3h0M497.1 315.9h0M506.4 313h0M511 316.3h0" stroke="#00007f" stroke-width="2.2" stroke-linecap="round"/>
<path d="M442.7 468.8L445.1 470.4L446.3 478.4L447.5 484.8L447.9 494.4L448.3 504.1L448.8 510.5L449.5 516.9L448.8 521.7L447.5 526.5L446.7 531.3L445.9 537.7L445.1 542.6L444.3 548.9L443.5 554.6L442.4 555.4L441.1 552.2L439.5 545.7L438.6 539.4L437 534.4L435.8 527.7L434.9 522.6L434.1 527.7L433.5 532.9L431.1 533.9L429 533.7L427.4 531.3L426.9 526.5L427.9 521.7L429 516.9L427.4 510.5L424.7 500.9L425.8 499.5L429.8 500.9L433 499.3L435.4 494.4L437.5 489.7L439.1 484.8L440.3 478.4L440.7 472L441.1 469.6Z" fill="#00007f"/>
<path d="M440.4 513.9h0M444.3 535.3h0M435.9 507.6h0M446.1 535h0M444 537.3h0M443.4 489.4h0M439.1 492.2h0M442.5 469.4h0M437 512.8h0M430.2 502.7h0M438.5 501.5h0M433.3 503.7h0M443.9 522.9h0M441.6 496.9h0M437.7 492.3h0M445.5 486.5h0M446.5 503.3h0M445.7 528.7h0M437.9 531.5h0M441.7 472.8h0M440.6 481.7h0M439.2 533.1h0M440.9 544.4h0M438 527.3h0M443.9 486.9h0M437.1 507.8h0M439.6 511.4h0M437.7 506.8h0M443.5 516.6h0M440.7 517.1h0M437.5 521.7h0M444.9 492.7h0M434.2 513.2h0M436.9 493.3h0M446.7 487.9h0M441.2 481h0M442 496.3h0M434.2 502.2h0M443.1 515.4h0M433 499.8h0M441.6 532.8h0M429.6 503.6h0M448 515h0M435.5 502h0M447.8 494.4h0M442 534.6h0M429.3 520.5h0M438.4 535.9h0M444.6 482.4h0M444.9 502.9h0M444.5 526.1h0M432.1 501.1h0M441.5 538.9h0M441.5 498.8h0M447.7 508.8h0M442.7 510h0M433.4 509.3h0M440.2 540.3h0M442.3 512.6h0M444.7 476.9h0M444 477.2h0M448.7 521.6h0M440.7 541.4h0M443.9 491.3h0M446.6 524h0M429.1 508.6h0M435.2 505.1h0M447.7 510.1h0M446.9 510.9h0M443.8 490.3h0M440.8 533.5h0M435.3 522.7h0M438 515.7h0M439.2 485.9h0M441.1 505h0M442.9 485.1h0M446.1 490.3h0M444.1 486.7h0M445.7 478.3h0M440.4 542.7h0M445.3 532.4h0M437 493.7h0M441.9 519.6h0M442.6 503.9h0M435.7 512h0M440.4 500.4h0M433.7 525.4h0M443.4 500.3h0M439.2 504.9h0M432.8 527h0M440.1 482h0M430.7 503.5h0M446.8 488.6h0M439 539.6h0M442.5 509.4h0M428.7 525.9h0M441.1 498.6h0M428.4 528.7h0M435.2 495.6h0M440.2 514.4h0M438.5 523.9h0M429.6 512.6h0M432.2 526.8h0M446.2 526.2h0M441.2 535.4h0M440.8 516.4h0M442.9 509.6h0M439.4 483.4h0M441.8 513.8h0M441.5 488.5h0M441.4 471.9h0M428.8 521.1h0M440.2 531.8h0M446.8 484.1h0M448.9 512.2h0M442.1 510.9h0M435.3 497.9h0M425.9 500.3h0M442.3 519.6h0M442.1 483.1h0M440.2 528.3h0M442.1 482.1h0M428 525.5h0M447.9 524.9h0M440.3 484.5h0M444.6 540.4h0M438.9 507.4h0M445.7 482.1h0M440.1 540.8h0M443.5 546.9h0M445.9 490.8h0M442.8 534.2h0M436.1 495.4h0M444.1 539.2h0M428.8 507.9h0M442.6 552.7h0M438.9 523.9h0M439.7 520.9h0M429.3 529.6h0M443.6 535.9h0M428.6 519.8h0M432.4 532.7h0M433.4 508.9h0M427.5 509.2h0M433.1 530.2h0M445.4 498.4h0M441.7 528.1h0M437.9 490.2h0M440.6 501h0M438 495.1h0M437.3 507.4h0M430.5 518.1h0M435.1 496.2h0M441.4 532.8h0M441.8 518h0M441.3 469.5h0M447.8 500.9h0M433.9 525.9h0M441.5 472.6h0M429 503.9h0M442.5 497h0M446 503.4h0M428.9 521h0M445 515.2h0M429.7 510.9h0M434.1 498.9h0M442.7 520.6h0M437.7 533.7h0M433.5 512.2h0M434.5 498.6h0M446.6 486h0M434.9 499.6h0M442.2 532.4h0M444.4 518.4h0M443.9 522.5h0M443.4 530.9h0M444.3 471.2h0M428.1 508.1h0M440.3 509.5h0M448.6 510.9h0M443.3 542.8h0M444.6 520.8h0M436.9 519.4h0M442.8 550.9h0M439.5 503.6h0M442.9 506.3h0M427 505h0M447.5 495.9h0M445.3 534.2h0M436.7 522.2h0M438.3 504.4h0M442.3 476.6h0M439.1 532h0M443.1 528.8h0M442.5 544h0M439.5 540.7h0M445.7 521.7h0M444.4 525.4h0M440.4 481.7h0M436.5 499.3h0M440.6 498.4h0M427.9 525.3h0M433.1 507.8h0M439 520.1h0M440.7 528.1h0M444.5 541.8h0M441.4 516.1h0M437.5 517.7h0M440.7 542.6h0M436.3 497.1h0M435.5 495.2h0M444.8 492.9h0M436.8 502.6h0M446.6 485.5h0M444.4 503.4h0M441.9 475.4h0M426.4 502.2h0M434.5 501.5h0M444 481.9h0M440.1 501.1h0M442.4 532.9h0M438.5 516.2h0M440.5 515.6h0M444.6 525.1h0M438.3 517.9h0M441 485.2h0M433.3 516.9h0M439.6 516.8h0M433.7 503.7h0M432.3 517.7h0M443.7 518.1h0M435 498.8h0M431.5 507.8h0M429.5 502h0M446.4 486.6h0M433.8 516h0M444.6 529.3h0M437.8 502.4h0M439.7 517.4h0M437.6 514.8h0M435.7 524.3h0M429.1 523.4h0M439.1 522.2h0M431.4 526.7h0M427.2 509.8h0M442.4 515.9h0M439.2 529h0M434.7 518h0M446.3 501.8h0M438.7 509.2h0M430.8 524.8h0M442.3 518.9h0M443 521.4h0M438.2 516.1h0M440.2 535.2h0M448.6 516.6h0M443.3 487.9h0M439.7 515.7h0M446.9 497.7h0M433.1 503.1h0M429.7 526.4h0M428.6 529.4h0M444.4 545h0M443.8 534.8h0M448.9 514.6h0M439.7 484h0M445.1 519.5h0M431 529h0M446.3 479h0M441.8 477.5h0M440.7 489.5h0M444.3 506.5h0M429.5 508.9h0M431.9 507.8h0M446.4 518.5h0M443.6 542h0M441.4 473h0M445.1 536.1h0M426.9 502.3h0M442.3 547h0M446.9 487.2h0M441.4 544.8h0M447.8 517.3h0M444.2 516.9h0M444.4 516.7h0M445.6 518.8h0M429.4 528.1h0M441.3 475.9h0M429.6 517.5h0M442.1 549h0M444.1 541.4h0M440.5 518.9h0M445 507.4h0M427.2 526.5h0M439.3 538h0M446.7 504h0M435.7 506.8h0M442 500.6h0M446.1 492.1h0M446.1 505.6h0M444.6 514.4h0M444.7 476.9h0M443.9 516.1h0M428.6 520.7h0M435.8 494.4h0M442.4 485.8h0M444.4 512h0M431.6 526.2h0M439.5 512.3h0M443 469.2h0M442.1 543.2h0M441.9 486.2h0M438 500.5h0M446 513.9h0M442.2 540.7h0M445.4 506h0M445.1 516.8h0M432.3 513.3h0M443.3 472.5h0M440.4 519.9h0M439.6 512.6h0M438.1 491.1h0M447.5 510.4h0M433.6 511.7h0M442.5 517.2h0M425.2 502.3h0M444.6 482.8h0M439.5 535.8h0M440.5 532.1h0M443.1 545.7h0M437.3 516.1h0M437.7 499.3h0M442.4 504.1h0M438.1 499.4h0M438 503.7h0M430.7 521.5h0M441.1 531.5h0M443.3 523.8h0M438.5 523.1h0M443.8 483.1h0M440.7 545.4h0M444 483.7h0M428.6 526.2h0M430.8 523.3h0M431.2 506.8h0M441.8 538.6h0M426.7 500.9h0M443.3 523h0M444 503.5h0M439.4 518.4h0M428.5 510.1h0M447.3 507h0M427.1 506.7h0M429.3 512.5h0M427.8 511.2h0M441.6 475.5h0M441.7 527.7h0M435 515.6h0M425.9 500.9h0M427.2 501.5h0M444.8 543.5h0M443.4 545.5h0M444.9 488.6h0M440.3 483.7h0M441.9 535.7h0M430.1 512.7h0M428.9 532h0M442.8 517.3h0M447.5 508.4h0M441 472h0M440.2 527.7h0M433 523.5h0M438.2 530.3h0M443.6 474.9h0M444 495.4h0M440.2 513.1h0M447.5 506.6h0M442.5 515.7h0M432.6 526.2h0M436.9 501.5h0M443.7 511.7h0M431.6 530.9h0M438.1 494.8h0M445.1 508.7h0M439.8 502.3h0M441.7 476.6h0M438.4 497.8h0M432.3 531.2h0M444.2 493.7h0M440.2 504.8h0M444.7 488.2h0M444.9 543.6h0M442.6 477.8h0M434 518h0M437.2 533.1h0M441 521.8h0M436.9 510.2h0M438.8 511.5h0M434.6 503h0M438.1 511h0M439.7 489.9h0M433.9 500.3h0M444 496h0M437.3 525.9h0M447 497.3h0M435.5 509.5h0M429.9 504.2h0M445.2 509.3h0M439.7 507.2h0M442.6 489.6h0M437.7 503.3h0M442.7 518h0M441.8 506.1h0M447.7 497.7h0M441.4 483.3h0M443.3 548.1h0M440.7 531.9h0M436.4 515.6h0M429 508h0M446 500.5h0M437.5 498.1h0M444.7 533.2h0M440.3 530.7h0M443.6 529h0M439.1 532.2h0M432 514.6h0M444.1 540.3h0M431.7 526.4h0M438.4 515.6h0M443 490.9h0M430.8 522.1h0M442.5 471.6h0M438.4 502.5h0M432.5 512.5h0M431.8 527.5h0M446.2 525.4h0M446.1 505.7h0M444.1 470.4h0M427.4 505.5h0M441.4 550h0M439.3 490.7h0M444.1 528.1h0M429.4 519.7h0M444 515.3h0M433.4 509.5h0M437.9 512.2h0M443.5 515.1h0M429.4 522.7h0M447.1 513.7h0M436.3 506.9h0M446.6 527.8h0M445.9 529.9h0M440.7 496.9h0M431.5 508.9h0M444.6 487h0M434.2 499.8h0M444.7 477.1h0M444.4 474.7h0M446.1 511.2h0M441.8 476.3h0M434.6 496.3h0M445.6 496.1h0M439.8 522.4h0M440.7 547.3h0M441.6 501.9h0M431.9 519.3h0M429 529.9h0M446.2 500.2h0M440.3 503.4h0M442.4 469.5h0M432.7 501.5h0M443.9 532.4h0M436.6 526.4h0M439 500.6h0M441.3 552.4h0M431.7 522.9h0M440.5 488.5h0M437.6 529.8h0M444.7 499.7h0M442.2 551.9h0M445.2 528h0M433.7 514.8h0M444.6 516.5h0M442.6 471.5h0M446.7 489.4h0M447.4 489.5h0M444.3 504.6h0M429.6 513.3h0M441.1 545.8h0M430.2 517.7h0" stroke="#00007f" stroke-width="1.9" stroke-linecap="round"/>
<path d="M444.7 511h0M445.2 538h0M438.3 490.6h0M446.6 512.9h0M431.5 522.6h0M436.8 532.4h0M439.9 490.9h0M442.6 532.4h0M445.9 512.8h0M441.9 487.7h0M432.1 522h0M446.3 510.6h0M440.7 525.5h0M441 509.8h0M431.9 515.8h0M446 509h0M445.3 476.1h0M444.9 482.3h0M446.7 507.4h0M445.8 527.8h0M441.2 472.4h0M447.4 494h0M445.4 495.6h0M439.9 517.8h0M447.6 489.8h0M437.8 506.2h0M439.5 536.2h0M441 476.9h0M443.9 521.8h0M434.1 523.9h0M441.3 507.4h0M425.9 500.6h0" stroke="#00e5ee" stroke-width="1.9" stroke-linecap="round"/>
<path d="M446.4 502.1h0M431.1 530.3h0M443.2 513.9h0M445.1 472h0M442.1 537.6h0M425.6 502.8h0M444.3 484.2h0M439.7 490h0M442.9 492.1h0M434.3 501h0M436 510.9h0M432 516.8h0M428.8 525.4h0M440.4 500.8h0M427.5 530h0M445.7 513.7h0M429.3 504.7h0M444.9 489.5h0M441.1 476.8h0M430.9 513.3h0M446.4 532.3h0M437.8 500.3h0M442.7 525.6h0M433.5 521.1h0M442.3 509.4h0M443.5 479.6h0M445.8 523.6h0M436.6 527.3h0M438 498.8h0M445.2 534h0M448.8 517.1h0M447.1 484.8h0M439.3 488.9h0M443.5 475.9h0M437.6 529.6h0M446 524.4h0M434 503h0M429.1 519.5h0M433.5 514.2h0M444 476.5h0M442.8 495.8h0M442.3 541.7h0M443.4 473.8h0M429.4 501.3h0M443.2 530.7h0M445.1 538.9h0M445.3 509.5h0M435.4 505h0M434.3 506.6h0M448.8 519.5h0M441 520.8h0M443.3 508.8h0M437.7 498h0M437 511.6h0M433.9 498.1h0M433.2 529.8h0M440.9 474.3h0M443.7 476.4h0M428 503h0M442.3 495.1h0M441.4 485.6h0M433.4 512.2h0M444 526.5h0M444.2 517.5h0M432.9 517.7h0M429.8 521h0M445.3 536.2h0M435.4 518.6h0M439.3 517.7h0M442.7 507.3h0M432.9 522.7h0M445.5 475.2h0M437.1 493h0M435.2 498.3h0M447.2 517.7h0" stroke="#007fff" stroke-width="1.9" stroke-linecap="round"/>
<path d="M448.3 523.5h0M433.2 513.4h0M435.9 522h0M443.9 513.6h0M435.2 505.1h0M442.3 479.7h0M442.9 471.7h0M440.2 489.7h0M432.4 528.4h0M443.2 489.7h0M440 514.6h0M431.4 524.8h0M433.4 502.3h0M447.7 509h0M444.9 524h0M435.2 499.9h0M437.1 515.4h0M441.6 529.8h0M437.6 497.9h0M444.3 490.2h0M439.9 491h0M444.3 479.9h0M427.5 525.2h0M432.6 529h0M443.3 518.7h0M437.9 533.9h0M440.6 516.6h0M443.3 471h0M444 475.4h0M448.1 514.7h0M430.3 531.5h0M433.2 523h0M436.5 498.8h0M428.7 509.5h0M436.8 502.4h0M432.2 499.8h0M432.4 513.8h0M446.1 492.9h0M448.3 516.9h0M433.5 501.8h0M441.2 492.9h0M441.9 514.9h0M427.4 527.3h0M437.4 518.8h0M444.3 544h0M427.5 503.2h0M446.8 490.1h0M445.2 525.6h0M429.6 521.6h0M439 523.2h0M442.5 469.2h0M438.8 501.2h0M437.6 527.3h0M448.2 508.8h0M438.2 530.5h0M447.8 509.7h0M430.4 526.9h0M441.5 538h0M444.4 516.9h0M439 522.3h0M441.5 532.7h0M447.7 491.1h0M437.5 518h0M429.9 503.4h0M446.5 521.6h0M449.1 513.6h0M436.7 528.8h0M439.4 491.9h0M438.8 491.8h0M444.3 476.1h0M447.1 485.8h0M438.8 502.3h0M443.7 536.6h0M441.3 500.1h0M438.8 526.6h0M435.5 508h0M439.5 516.3h0M443.2 543.3h0M442.4 538.4h0M435.7 496.7h0M446.3 504.1h0M437.3 525.2h0M442.3 485.7h0M448.6 520.9h0M442.7 515.3h0M430.7 530.3h0M441.2 507.3h0M442.3 526.7h0M432 503.7h0M442.7 498h0" stroke="#0000ff" stroke-width="1.9" stroke-linecap="round"/>
<path d="M441.5 536.6h0M448.6 517.2h0M440.4 537.9h0M444 528.5h0M433.8 503.4h0M445.9 501.1h0" stroke="#7fff7f" stroke-width="1.9" stroke-linecap="round"/>
<path d="M439.5 495.4h0M439.7 505.7h0M440.2 519.5h0M440.4 536h0" stroke="#ffe600" stroke-width="1.9" stroke-linecap="round"/>
<path d="M443.7 481h0M441.3 494.6h0M445.4 495.2h0" stroke="#ff0000" stroke-width="1.9" stroke-linecap="round"/>
<path d="M498 466.6L498.9 468.6L500.9 475.5L502.9 483.6L505.3 491.6L506.1 497.5L505.9 501.7L503.4 502.4L500.1 503.1L498 504.4L496.7 503.7L495.7 505.1L496.7 508.4L497.7 511.8L498.4 515.1L500.7 514.4L503.4 512.4L506.8 511.8L510.1 511.8L512.7 509.8L514.8 507.1L516.8 506.1L518.8 507.1L519.8 511.8L520.2 514.6L519.6 522.6L520.2 530.7L520.8 542.7L520.2 552.8L518.2 562.8L515.2 570.9L511.1 576.9L507.1 582.9L503.1 584.9L500.1 583.9L498 578.9L497.4 570.9L496 571.9L495 576.9L491 578.9L485.9 579.9L483.9 574.9L481.9 562.8L480.5 552.8L479.3 542.7L478.9 532.7L478.9 520.6L479.5 510.6L480.3 506.6L483.2 505.4L487.4 505.5L489.8 504.6L490.8 499.6L491.5 491.7L492.2 483.6L493.8 475.5L495.4 469.5L496.7 467Z" fill="#00007f"/>
<path d="M519.1 547.1h0M508.6 579.2h0M515.8 515.1h0M491.9 562.4h0M514.5 515.9h0M508.2 512.4h0M492 492.5h0M518.9 507.9h0M506.9 563h0M480.9 522h0M500.1 523.7h0M496 506.7h0M517.3 548.5h0M494.5 516h0M501.7 533.6h0M493.8 533.8h0M495.8 474.9h0M518.8 524.3h0M495.7 573.5h0M516.4 564.6h0M492.6 542.6h0M501.3 490.7h0M506 561.1h0M496.1 486.9h0M517.5 530.4h0M500.8 515.7h0M498.7 498.8h0M505.8 543h0M497.1 553.1h0M493.6 570.9h0M487.9 554.7h0M515.2 563.5h0M490.5 573.4h0M480.5 540.2h0M487.4 526.9h0M494.9 496.1h0M509 529.9h0M489.3 557.6h0M490 577.2h0M506.8 566.2h0M516.2 508.5h0M504.2 579.9h0M499.3 581.4h0M514.4 557.3h0M501.3 568.4h0M493.2 482.7h0M494.8 509.1h0M494.1 484.5h0M500.4 562.6h0M490.5 566.1h0M510.8 539.1h0M485.7 578.9h0M485.3 518.9h0M501 494h0M500 473.9h0M517 536.2h0M490.7 556.7h0M492.1 572.7h0M497.5 545.6h0M486.2 528.5h0M496.3 543h0M513 548.6h0M501.6 481h0M519.1 540.6h0M491.9 568.5h0M513.3 571.5h0M499 490.1h0M500 576.7h0M493.1 539.9h0M517.2 515.9h0M494 551.1h0M485.4 531.3h0M511.5 559.2h0M505.3 582.5h0M517.5 515.6h0M502.2 564.2h0M502.2 487.5h0M511.7 558.2h0M503.2 558h0M496.3 569.8h0M511.5 569.9h0M488.7 569.5h0M497.4 489.2h0M500.2 565.9h0M483.1 541h0M482.4 525.6h0M497.8 502.4h0M503.1 557.9h0M496.9 498.2h0M493.3 518.6h0M517.7 524.4h0M501.4 566.2h0M497.8 539.4h0M514.7 538.9h0M491 512.4h0M512.1 564.8h0M492.1 486.4h0M497.9 565.3h0M512.2 510.2h0M491.8 506.3h0M509.6 541.4h0M488.2 562.6h0M512.8 522.7h0M513.7 571h0M493.5 571.7h0M488.5 543.2h0M496.3 567.2h0M506.5 556.3h0M516.2 527.9h0M496.9 494.3h0M493.3 554.5h0M484 550h0M493.8 501.3h0M491.7 538.4h0M487.8 566.5h0M518 558h0M503.4 571.7h0M496.4 493.9h0M500.6 568.8h0M485.5 578.4h0M502.2 525.3h0M491.7 490.2h0M494.7 572.6h0M496.5 486.2h0M499.8 481.7h0M511.1 573.8h0M494.1 570.5h0M519.9 552.9h0M496.2 496.9h0M503.9 514.6h0M495.5 535.3h0M510.9 540.8h0M495.2 482.1h0M487.7 559.5h0M500.8 579.3h0M500.3 482.9h0M501.7 499.4h0M490.8 563.1h0M497.7 489.8h0M502.1 542.9h0M488.3 542.4h0M495.6 552.8h0M491.9 558h0M491.2 505.2h0M484.3 537.1h0M500.9 496.6h0M501.1 573.9h0M483.5 523h0M503.4 532.9h0M502.5 485.5h0M492.9 566.4h0M516.6 510.2h0M483.1 517.8h0M511.8 525.9h0M499 579.5h0M499.9 558.5h0M499.4 500.3h0M491.4 532.1h0M505.4 522h0M499.1 570.9h0M508.2 538h0M504.6 536h0M492.6 533.4h0M500.5 479.1h0M480.6 509.9h0M500.1 522.2h0M482.7 553.9h0M515.3 543.6h0M499 515h0M490.7 535.9h0M500.1 482.1h0M516.5 522.1h0M495.1 551.8h0M499.7 560.6h0M485.9 517h0M494.5 541.9h0M514.9 566.6h0M489.1 537.3h0M481.7 509h0M511.8 566.5h0M513.1 521.7h0M499.8 567.4h0M498.3 500.6h0M487.2 534.1h0M489.1 531.9h0M516.6 565.4h0M507.1 526.9h0M488.1 539.4h0M479.8 546.6h0M508.6 531.7h0M519.2 532.5h0M509.1 566.2h0M504 546h0M504.8 567.4h0M482.2 519h0M484.2 522.6h0M486.2 524.9h0M510.9 549.7h0M487.2 510.1h0M492 486.8h0M482.1 544.5h0M509.9 541.1h0M496.3 548.7h0M502.3 559.2h0M495.1 531.7h0M490.8 567.4h0M515.8 530.1h0M503.8 491.1h0M508.6 575.6h0M494.2 477.1h0M505.2 521.8h0M480.2 518.5h0M480.3 511h0M513.4 534.1h0M506.4 557.4h0M513 520.7h0M511.8 557.1h0M494.1 506.5h0M479.3 529.8h0M503.2 562.1h0M500.5 557.7h0M505.8 567.7h0M501.8 487.2h0M513.1 539.6h0M486 545.9h0M490.6 550.4h0M503.4 542h0M504.4 516.3h0M497 497.9h0M515.8 555.9h0M505.5 566.2h0M497.3 543h0M501.6 568.8h0M493.8 569.1h0M484.1 539.9h0M499.7 475h0M496.9 476.6h0M499.1 538.5h0M486.9 548.6h0M495.4 517.9h0M494.7 553.5h0M501.4 499.2h0M496.5 486h0M496.8 481.8h0M493.1 562h0M489 527.5h0M498.9 542.5h0M494.4 496.9h0M519.4 530.5h0M479.4 511.7h0M490 547.3h0M508.1 544h0M487.2 569.1h0M494.5 502h0M487 550.9h0M482.3 536.7h0M503.5 513.8h0M506 521.4h0M517.9 528.2h0M508.2 513.1h0M492.6 557.4h0M486.3 564.6h0M502.4 533.4h0M502.3 485.3h0M515.8 522h0M482.5 511h0M517.1 546.1h0M517.7 517.5h0M497.1 532.3h0M499.7 535.9h0M509.1 554.6h0M479.6 539.2h0M481.9 555.6h0M506.4 532.7h0M491.1 531.3h0M503.6 547.5h0M519.4 511.7h0M496.9 467.8h0M487 560.9h0M485.4 533.7h0M481.1 509.8h0M516.8 546.6h0M519.5 550.7h0M493.7 502.6h0M485.7 564.3h0M485.2 507.9h0M488.5 519.6h0M501.7 478.9h0M503.9 492.3h0M499.4 539.6h0M490.3 518.5h0M507 581h0M505.9 500.2h0M517.3 507.7h0M487 579.7h0M481 520h0M516 525.8h0M506.7 565.4h0M488.9 511.2h0M480.8 507.9h0M513 530.8h0M513.2 540h0M516.4 562.8h0M492.3 572.7h0M504.4 565.2h0M507.1 526.3h0M510.6 562.1h0M510.4 535.8h0M510.6 538.3h0M502.5 581.9h0M491.5 513.2h0M500.5 575.1h0M485.5 512.3h0M496.6 516.8h0M502.1 553.5h0M509.1 530.6h0M500.1 575.5h0M494.9 532.3h0M504.5 553.5h0M520.7 544.1h0M500.4 482.2h0M495.7 545.1h0M499.2 485h0M506 553.3h0M504 515h0M485.1 567.4h0M499.2 578.2h0M517.8 518.7h0M499 473h0M485.8 530.6h0M503.7 494.6h0M502.7 490.9h0M480.4 530.1h0M500.5 562.7h0M487.4 532.9h0M480.4 511.6h0M513.8 531.5h0M493.3 568.8h0M499.2 548.9h0M496.1 545.6h0M520 535.4h0M498.5 486.4h0M506 555.3h0M494.6 522h0M501.3 578.5h0M499.5 562.7h0M490.9 540.2h0M507.2 516.1h0M490.2 504.4h0M491.5 524.3h0M483.9 533.7h0M496.5 491.1h0M505 491.2h0M505.6 560.8h0M494.7 485.9h0M496.5 484.4h0M486.5 548.5h0M501.1 497h0M498.7 572.2h0M490.7 507.9h0M502.9 484.8h0M506.6 577.6h0M515.1 559.7h0M484.6 557.5h0M495.7 492.8h0M511.3 549.1h0M495.4 503.3h0M491.1 538.4h0M482.2 538.8h0M493.5 555.8h0M493.2 490.2h0M488.1 557.9h0M507.3 547.9h0M510.3 523.7h0M486.2 559.8h0M503.4 550.6h0M510.8 515.5h0M511.1 571h0M509.1 534.6h0M504.3 569.6h0M486 526.8h0M503.3 521h0M494.1 487.5h0M487.4 519.4h0M493.4 479.9h0M512.5 531.8h0M493.7 569.3h0M482.3 548.9h0M484.6 557.4h0M508.1 546.6h0M514.7 539.3h0M507.3 564.5h0M506.2 524.6h0M491.1 553.7h0M507.8 535.9h0M481.1 538.9h0M495.8 487.5h0M495.5 492.8h0M481.6 520.8h0M509.5 536.2h0M499.6 572.3h0M496.9 549h0M485.8 518.1h0M507.9 523.2h0M498.3 515.1h0M515.1 565.8h0M513 549.6h0M487.2 527.7h0M495.6 477.1h0M512.3 550h0M506.7 519.5h0M504.6 490.6h0M500.3 526h0M493.9 526.4h0M508.4 527.2h0M510.2 540.3h0M502.5 493.7h0M488 557.5h0M485 518.1h0M493.4 500.7h0M492.9 564.7h0M490.9 550.7h0M493.2 520h0M496.6 539.4h0M504.7 522.3h0M487 565.2h0M499.4 478h0M486 560h0M492.9 550.7h0M510.5 573.6h0M500.6 492.8h0M516.4 565.1h0M496.2 474.2h0M492.5 542.8h0M499.6 576.8h0M512.4 523.3h0M493.5 527.4h0M494.9 531.6h0M488.9 558.5h0M499.9 516.9h0M491.3 555.3h0M495.3 487.3h0M506.7 574.9h0M515.9 529.7h0M489.6 520.2h0M499.2 571.6h0M507.4 532.8h0M500 549.7h0M486.6 564.2h0M484.2 526.1h0M505.5 555.1h0M484.2 572h0M515.2 546.4h0M494.5 477.9h0M486.4 534.6h0M514.7 509.8h0M488.9 573.1h0M490.8 502h0M491.6 570.9h0M499.5 574.5h0M495 474.2h0M506.4 534h0M516.7 536.1h0M501.9 571.4h0M504.2 524.8h0M503.9 582h0M501.7 531.9h0M500 566.4h0M502.4 571.2h0M500.2 581h0M484.1 544.8h0M491.4 532.1h0M505.6 495h0M509.6 534.9h0M485.8 571.6h0M491.2 513.9h0M481.6 513.3h0M515.4 557h0M519.7 535.7h0M516.9 542.4h0M503 496.7h0M496.6 562.8h0M488.5 564.2h0M501.6 570.2h0M484.3 561.1h0M489.5 517.7h0M494.3 498.6h0M500 481.8h0M496.9 542.1h0M496.4 540.8h0M500.5 578.5h0M497.5 547.4h0M494.1 533.4h0M497.1 492.1h0M510 550.7h0M509 532.5h0M518.1 558.8h0M514.6 520.6h0M505.6 538.1h0M515.5 547.6h0M498.9 533.7h0M485.7 534.5h0M501.6 517.8h0M482.1 541.2h0M508.9 560.2h0M501.7 551.7h0M493.4 508.3h0M481.2 516h0M514.4 511.4h0M500 495.5h0M489.8 539.5h0M498.9 521.9h0M517.9 534.8h0M483.1 517.9h0M506.3 541.3h0M506 574.3h0M492.2 492.8h0M499.8 521.3h0M498 549.1h0M498.6 574.7h0M498.1 503.2h0M483.4 565.7h0M483.6 541.5h0M479.5 543h0M516.1 523.9h0M482.9 520.8h0M485.3 553.7h0M495.2 522.9h0M513.5 527.5h0M507.5 521h0M495.1 573.2h0M509.1 515.5h0M512.9 559.5h0M481.2 524.6h0M506.9 555.1h0M491.3 560h0M484.5 555.8h0M482 531.6h0M500.7 483.9h0M496.6 494.6h0M497.9 472.6h0M487.8 523.7h0M512.6 515.4h0M491.9 514.8h0M492.2 552.8h0M485.8 572.5h0M486.3 527.4h0M487.1 538.9h0M499.2 470.7h0M499.1 542.1h0M496.7 531.5h0M504.7 545.7h0M494.9 479.9h0M501 543.6h0M479.6 515.7h0M497.3 471.2h0M512.1 533.3h0M513 536h0M519.5 537.6h0M508.1 515.6h0M518.3 521.6h0M489 579.2h0M488 527h0M485.9 505.7h0M498.1 577.4h0M506.8 524.8h0M491.4 506.8h0M482.7 511.7h0M500.7 572.1h0M514.8 549.1h0M486.8 536.6h0M505.7 522.2h0M498.2 551.1h0M504.1 569.1h0M497 540h0M493.2 544h0M499.9 534.6h0M504.5 546.5h0M500.3 490.7h0M514.9 532.8h0M491.4 501.4h0M482.6 535.8h0M498.7 524h0M500.1 476.1h0M516 558.3h0M512.3 562.5h0M519.3 532.9h0M499.9 484.4h0M502.2 540.8h0M497.9 523.4h0M484.7 554.3h0M485.2 506.6h0M497.9 514.4h0M495.2 498.1h0M511.6 575.6h0M480.8 516.8h0M503.7 578.7h0M509.6 579h0M498.8 476.9h0M504.8 565.8h0M504.8 497.9h0M512.6 539.4h0M512.9 573h0M501 580.9h0M513.1 545.6h0M509.4 579.4h0M498.9 483.9h0M487.1 570.4h0M514.2 550.7h0M497.5 546.8h0M485.9 556.2h0M496.9 544.8h0M496.2 530.9h0M492.7 530.1h0M498.9 561.5h0M517.9 526.1h0M489.9 517.4h0M515 547.1h0M503.1 531.9h0M513.8 524.7h0M519 546.3h0M511.5 533.5h0M504.7 523.1h0M518.6 522.5h0M492.6 529.5h0M490.9 523.4h0M481.7 536.9h0M486.2 552.3h0M487.2 539.7h0M493.2 516.5h0M497.3 483.4h0M495 506.5h0M491.2 548.9h0M497.2 539.1h0M492.1 534.2h0M513.4 554.9h0M491.5 505.7h0M496.1 562.6h0M486.8 526.9h0M510.2 558.7h0M486.5 517.5h0M494.8 553.2h0M492.6 507h0M510.1 571.8h0M498.6 523.3h0M513.8 558.9h0M505.7 557.4h0M506 551.9h0M482.3 527.7h0M486.2 525.5h0M503.4 491.5h0M503.9 571.5h0M498.8 498.3h0M487.5 531.6h0M500.8 582.6h0M491.7 490.1h0M488.4 513.5h0M499 485.3h0M484.5 551.4h0M494.9 570.9h0M512.4 512.7h0M506.8 569.6h0M509.8 523.2h0M500.4 547.9h0M501.7 546.6h0M483.1 513.3h0M492.1 500.4h0M501.9 491.4h0M514.3 508.6h0M505.4 533.3h0M510 531.9h0M480.5 517.6h0M495.1 490.5h0M490.9 561.4h0M516.6 554.1h0M494 484.6h0M508.2 579.4h0M498.4 490.3h0M479.2 525.7h0M515.3 509.2h0M502 484.6h0M512.1 543.1h0M504.6 499.6h0M496.9 472h0M480.4 517.4h0M487.2 543h0M508.9 577.6h0M490.4 514.4h0M480.9 527.3h0M498.8 489h0M494.1 565.9h0M492.4 498h0M516.4 558.7h0M504.8 572.5h0M507.2 554.6h0M488.4 525.7h0M498.3 491.8h0M490.9 534.1h0M502.1 529.4h0M492.3 493.2h0M504.5 558.9h0M503.2 491.7h0M493.1 575.5h0M483.3 556.3h0M513.8 542.5h0M515.5 515.2h0M518.5 558.6h0M513 557.6h0M502.2 516.7h0M492.9 577h0M487.4 510.2h0M484.4 520.3h0M513.1 534h0M514.1 525.9h0M486 551.4h0M505.2 527.9h0M490.7 513.1h0M496.6 492.1h0M501 567.9h0M509.1 515h0M508.4 553.1h0M489.2 561.5h0M494.3 486.4h0M509.4 531h0M494.1 490.5h0M483.9 513.1h0M499.7 484.4h0M486.4 527.2h0M482.5 556.3h0M503.6 529h0M488.4 508.6h0M496.4 570.1h0M493.2 571.7h0M483.5 545.4h0M494.9 530.8h0M485.5 545.9h0M510.3 538.3h0M497.2 559.4h0M516.6 551.1h0M487.2 542.7h0M497.9 500.8h0M500.1 532h0M510 556.8h0M508.9 546.8h0M497.5 541.7h0M498.6 517.1h0M483.1 508.1h0M498.1 473.7h0M493.9 501.1h0M500.3 558.2h0M505.9 546.5h0M495 567.1h0M512.7 544.9h0M488.1 518.8h0M483.6 558h0M495.1 475.6h0M499 521.8h0M515.4 562.6h0M502 484h0M487.5 520.1h0M489.6 508.6h0M518.8 516.8h0M486.5 568.3h0M492.2 498.9h0M489 560.2h0M497.4 495h0M496.3 532.7h0M513.5 569.5h0M500.9 501.7h0M503.8 544.7h0M485.2 536.4h0M509.8 562.2h0M492.9 520.5h0M490.8 535.2h0M507.5 570.3h0M501.6 489.3h0M517.5 545.1h0M487.1 532.1h0M494 498.3h0M519.4 551.3h0M483.8 555.3h0M482.5 536.5h0M486.2 542h0M503.3 541.7h0M491.3 534.5h0M513.3 550.8h0M488.6 563.6h0M483.5 571h0M503.1 489.4h0M495.1 482.7h0M500.7 568.4h0M486.1 517.6h0M502.7 580.5h0M503.9 544.9h0M497.3 472h0M509.4 566.4h0M480 546.6h0M489.2 572h0M497.2 536h0M513.9 522.2h0M480.9 548.5h0M516.2 547.1h0M510.4 540.9h0M501.9 516.2h0M510.8 527.1h0M502.2 527.7h0M487 570.3h0M491.9 571.6h0M486.7 520.8h0M486.7 558.2h0M499.5 535.4h0M500 576.7h0M481.5 509.1h0M497.6 559.6h0M484.4 528.2h0M512.6 571.4h0M495 512.6h0M513.1 564.1h0M499.4 496.7h0M498.9 496.5h0M496.4 526.2h0M501.5 498.2h0M489.1 549.5h0M503.5 496.2h0M517.2 515.7h0M493.9 574.8h0M506.4 539.1h0M514.3 552.6h0M489.5 553.2h0M502.7 556.7h0M499.9 544.5h0M512.8 554.5h0M515.7 521.4h0M494.6 497.1h0M502 546.5h0M486.4 517.5h0M501.8 562.9h0M508.7 573.4h0M509.4 555.4h0M496.4 508h0M518.4 553.2h0M482.5 559.7h0M506.4 527.1h0M485.6 562.5h0M488.6 510.5h0M507.9 566.3h0M507.2 557.7h0M491.4 516h0M491.9 557.3h0M484.5 567h0M498.7 544.8h0M494 542.6h0M516.3 510.9h0M490.9 513.4h0M495 559.7h0M485 533h0M485.9 508.2h0M513.6 560h0M513.7 519.8h0M516.6 515.4h0M505.2 582.1h0M490.5 519.4h0M484.1 552.6h0M485.1 558.4h0M488.8 543.5h0M512.7 564.7h0M487.4 565.5h0M492.5 545.8h0M507.4 560.8h0M505.9 540.2h0M484 549.4h0M504.9 548.5h0M489.8 537.9h0M479.4 530.1h0M500.7 476h0M492 521.3h0M509.4 571.1h0M498.8 476.7h0M503.5 532.4h0M503.1 486.5h0M499.5 547.9h0M503.1 516.1h0M497.3 558.2h0M502.6 518.6h0M485.4 538.2h0M512.9 541h0M518 538.7h0M518.2 551.7h0M499.4 493.5h0M506.1 529.6h0M493.9 475.3h0M501.9 559.8h0M499 566.1h0M495.4 532.8h0M488.8 562.6h0M490.2 544.2h0M515.4 536.7h0M488.5 530.7h0M516.2 550.1h0M499.4 558.8h0M511.9 557.2h0M519.9 541.6h0M500.8 495.6h0M499 561.3h0M485.7 521.2h0M500.6 571h0M518.4 550.1h0M491 501.6h0M499.5 530.3h0M500.7 487.4h0M495.4 513.8h0M506.5 558.8h0M492.7 550.9h0M499.3 518.9h0M517 520h0M514.7 550.9h0M515.2 567.7h0M487.4 555.1h0M494 506.7h0M495 491.2h0M494 501h0M504.4 581.8h0M492.3 569.8h0M512.4 569h0M495.4 536.9h0M511.8 517.2h0M478.9 524.3h0M507.6 580.3h0M484.1 557h0M505.1 537.7h0M510.3 546h0M488.3 533.7h0M497.8 472.8h0M487.3 563.3h0M482.3 518.3h0M483.1 552.4h0M513.7 540h0M509.3 552.1h0M482.1 560.7h0M494.5 519h0M518.2 519.1h0M486.1 566.3h0M501.9 496.6h0M498.3 547h0M496.2 528.9h0M500.7 571.1h0M519.9 545h0M516.9 507.9h0M515.5 536.6h0M503.9 514.8h0M494.5 488.6h0M498.8 534.8h0M514.6 554h0M485.1 573.8h0M493.3 496.1h0M495.2 546.8h0M480.6 511.5h0M507.3 570h0M500 564h0M516.9 559.5h0M505.6 558h0M479.4 516.7h0M501.5 518.2h0M499.4 502.6h0M493.4 528.6h0M511.7 534.7h0M486.6 548h0M506.8 568.8h0M517.5 512.4h0M505.3 512.6h0M508.7 525.1h0M479.2 532h0M510.7 523.1h0M482.5 539.7h0M488.1 560.2h0M500.1 581.7h0M487 529.7h0M500.1 528.3h0M491.7 538.7h0M507.6 572.5h0M514.2 562.6h0M502.1 484h0M490 569.2h0M503.1 573.4h0M513.6 508.8h0M501.5 553.8h0M481 535.1h0M516.5 541h0M509.7 554.9h0M498.1 491h0M489.6 532.9h0M494.9 483.7h0M489.7 543.5h0M488.8 558.5h0M495.2 493.5h0M500.5 528.8h0M520 517h0M487.3 542.1h0M504.3 491h0M504.3 494.9h0M513.7 535h0M489 572h0M503.9 538.2h0M491.3 514.5h0M496.8 499.4h0M490.5 555h0M503.2 527.3h0M504.4 524.9h0M515.7 547.8h0M517.8 520.9h0M490.4 563.8h0M504.3 565.8h0M492.4 495.3h0M484 534.8h0M506.8 551.9h0M498.4 515.2h0M498.4 488h0M486.4 534.5h0M515.8 511.8h0M516.4 519.1h0M504.5 574.1h0M498 514.5h0M518.9 557.8h0M483.2 558h0M492.2 537.6h0M512.4 527.1h0M508.2 580.2h0M502.9 559.6h0M487.7 555.2h0M498.4 552h0M516.3 508.9h0M482.5 536.2h0M510.7 513.8h0M518.3 537.4h0M495.5 560h0M479.4 523.3h0M503 496.9h0M513.6 559.8h0M480.8 534.2h0M491.5 513h0M504.3 547.3h0M486.4 537.3h0M498.2 468.5h0M504.4 577.4h0M480.8 539.5h0M516.9 518h0M507.3 532.1h0M500.9 518.2h0M513.5 529h0M480.9 513.6h0M503.9 566.1h0M507.4 576.9h0M510.4 547.5h0M500.3 488.2h0M504.2 536.4h0M499 567h0M512.7 539.6h0M496.4 529.7h0M499 502.8h0M493.8 519.8h0M488.7 562.5h0M498.6 535.8h0M506.5 554.2h0M508.4 578.1h0M500.5 497.9h0M500.3 561.4h0M516.8 533.3h0M506.6 528.7h0M502.9 550.9h0M507.9 556.9h0M511.1 551.9h0M481.4 507.4h0M487.4 529.4h0M483 527.7h0M498.1 501.5h0M515.4 511.4h0M486.1 540.8h0M512.8 517.2h0M504.8 555.6h0M490 504.8h0M503 558.2h0M504 519.2h0M491.1 522.3h0M512.7 510.6h0M509 579.6h0M511.2 537.2h0M491.3 573.9h0M495.8 499.9h0M498.2 526.4h0M487 506.6h0M504.7 493.2h0M487.5 543.1h0M494.5 540.4h0M497.3 512h0M491 575.6h0M503.5 550.2h0M490.6 544.1h0M501.5 568.7h0M481.1 556h0M491.3 573.4h0M492.8 526.1h0M501.7 544.7h0M501.2 482.2h0M500.6 518.3h0M481.8 560.4h0M507.5 521.6h0M492 569.1h0M491.6 570.3h0M502 480.4h0M501.5 486.3h0M515.8 509.1h0M486.6 539.3h0M502.4 556.6h0M497 524.7h0M500.6 480.8h0M485.1 565.8h0M487.7 512.1h0M504.4 559.1h0M506.6 527.2h0M497 563h0M485.7 523h0M489.6 573.1h0M487.4 549.8h0M497 485.4h0M489.6 566.1h0M495.8 545.7h0M510 548.5h0M500.6 572.8h0M496.3 515.8h0M489.7 532.6h0M511.2 535.5h0M520.1 541.2h0M501.5 555.3h0M495.2 575.1h0M517.8 543.2h0M496 536.8h0M501.3 555.6h0M480.4 529.2h0M487.9 566.4h0M492.8 560.6h0M489.7 525.5h0M504 542.1h0M488.3 558.8h0M485.9 536.2h0M500.7 515.1h0M496.5 487.3h0M481 522.4h0M502.5 531.9h0M497.3 477.5h0M517.3 542.8h0M485.9 522.6h0M480.6 533.3h0M484.4 541h0M508.3 521.9h0M508.7 520.1h0M495.7 545h0M482.3 560.3h0M489.6 563.6h0M503.5 517.1h0M494.5 493.7h0M499.5 543.6h0M495.2 529h0M495.8 478.9h0M486.3 519.4h0M497.4 536.7h0M507.1 516.3h0M482.5 538.4h0M490.1 508.6h0M491.9 527.7h0M507.9 568.5h0M507.9 570.6h0M505.2 580.9h0M479.6 512.9h0M507.1 525.4h0M492.9 512.2h0M491.7 559.7h0M487.9 575.6h0M483.6 513.8h0M486.2 518.7h0M498.9 547.6h0M494.1 527.8h0M485.8 514.6h0M498.8 482.3h0M484 568.1h0M496.3 475.4h0M490.3 529.4h0M520.3 532.4h0M492.8 566.2h0M484.1 557.9h0M489.4 556.5h0M495.7 569.3h0M488.2 508.4h0M489 512.1h0M495.9 512.7h0M511.5 560.5h0M504.1 560.1h0M479.4 535.6h0M515.1 537.1h0M490.5 566.5h0M507.6 576.6h0M492.6 510.7h0M487.1 559.3h0M496.8 542.4h0M507.1 540.6h0M491.1 516.4h0M510.1 558.4h0M502.2 574.8h0M491.1 570.6h0M486.3 555.2h0M506.2 520.8h0M489.2 562.6h0M518.1 541.4h0M498.9 480.9h0M486 540.4h0M512.8 533.9h0M498.2 481.7h0M495.5 483.5h0M512.8 573.3h0M501.1 577.4h0M511.8 540.9h0M485.4 541.4h0M519.6 540.9h0M499.5 536h0M501.9 560.7h0M500.1 540.9h0M517.8 523.6h0M496.1 509.8h0M505.9 572.5h0M486.3 518.3h0M493 493.5h0M495.6 552.1h0M491.6 550.3h0M482 528.4h0M503.4 553.1h0M505.5 493.7h0M480.1 514.5h0M498.4 548.9h0M515.1 508.5h0M495.6 487.1h0M493.1 496.8h0M494.7 562.1h0M496.7 503.1h0M510.3 536.3h0M519.2 517.7h0M499.1 563.8h0M483.7 531.7h0M488.5 516.5h0M494.2 541.2h0M496.6 478.2h0M496.9 520.6h0M496 564.3h0M507.9 532.3h0M484.6 554.8h0M490.5 552.9h0M488.6 535h0M495 506.9h0M503.3 578.4h0M509 517.5h0M508.2 558h0M518.1 543.7h0M495.8 523.5h0M516 515.1h0M486.1 555.5h0M497.3 474.4h0M492.8 504.3h0M499.2 540.5h0M505.2 519.4h0M492.5 514.3h0M496.8 541.5h0M498.3 516.2h0M494.9 505h0M515.3 545.5h0M510.4 518.1h0M501.2 578.6h0M493.8 484.9h0M491.2 576.3h0M507 567.3h0M517.3 548.3h0M487.1 535h0M510.6 513.1h0M502.3 560.5h0M504.6 499.5h0M508.8 532.3h0M484.6 571.7h0M510.5 520.4h0M495.7 473.7h0M519.6 550.2h0M518.1 543.4h0M506.8 517.5h0M513.1 537h0M492.8 534h0M491.7 491.6h0M482.6 536h0M494.5 499h0M485.6 548.7h0M479.4 535.8h0M489.2 524.6h0M481.9 559.3h0M502 559.9h0M513.9 543.4h0M501.6 536.5h0M489.5 560.1h0M514.8 549.4h0M508.7 542.3h0M502.1 540.4h0M484.8 520.8h0M506.1 570.9h0M497.8 536.8h0M494.8 529.3h0M505.2 573.4h0M495.6 501.1h0M517.6 564.1h0M488.8 541.5h0M507.3 512.1h0M510.9 517.5h0M491.1 521.7h0M511.1 576.5h0M499.9 517.9h0M517.8 544.7h0M518.4 507.4h0M514.3 541.2h0M517.5 535.7h0M507.5 531.5h0M509.4 530.5h0M498.5 481.8h0M511.4 543.3h0M509.2 513.5h0M491.4 500.3h0M503 546h0M496.5 544.1h0M516.7 551.4h0M483.9 564.2h0M499.2 535.3h0M489.8 507.4h0M495.1 493.8h0M494.6 488.2h0M505 582.1h0M497.2 533.6h0M492.3 516h0M499.5 489.8h0M515.5 562.4h0M493 568.3h0M512.4 524.7h0M491.5 528.1h0M519.6 548.4h0M516.8 509.5h0M510.3 548.2h0M520.3 549.5h0M503.1 517.1h0M512.5 568.5h0M490.2 566.4h0M485 569h0M492.2 552.3h0M505.3 539.4h0M503.5 551h0M481 554.7h0M493.9 502.5h0M502.7 501.1h0M512 570.6h0M508.2 538.2h0M515.5 544.5h0M494.2 555h0M485.5 568.3h0M479.9 540.3h0M514.9 554.2h0M499.2 565.9h0M496.8 510.5h0M479.3 523h0M495.1 481.5h0M507.1 560.9h0M497.6 514.2h0M480.8 515.2h0M517.9 525.6h0M500 573h0M504.1 565.5h0M481 553.1h0M496.2 569.2h0M508.7 522.2h0M493.8 530h0M486.4 521h0M500.9 531.7h0M498.2 479.4h0M494.1 517.1h0M514.9 536.7h0M517.5 529.5h0M486.9 541.4h0M487.1 568.7h0M502.7 524.9h0M485.6 519.7h0M507.2 578.3h0M505.9 547.9h0M494 568.9h0M502.6 538.9h0M504.2 579.9h0M505.1 542.7h0M515.3 549.3h0M504.8 570.9h0M491.1 512.4h0M495.2 565h0M500.1 529.4h0M501.9 564.9h0M510.6 534.3h0M495.4 533.3h0M503.4 534.4h0M505.1 495.5h0M490.6 558.3h0M518.7 519.1h0M496.8 473.2h0M513.4 518.8h0M503.8 563.3h0M484.8 524.2h0M487.8 535.4h0M495.3 507.4h0M507.3 564.3h0M506 500.1h0M494.8 554h0M511.7 566.7h0M492.9 534.1h0M492.9 485.5h0M517.6 560.2h0M514.2 529h0M483.1 559h0M514 564.5h0M500.9 517.3h0M507.8 525h0M508 514.8h0M502 583.7h0M502 536.6h0M497.4 479.2h0M514.7 553.4h0M487.1 521.1h0M503.7 496.3h0M480.4 528.1h0M511.4 548.7h0M498.8 472.3h0M482.3 557.7h0M499.3 563.6h0M503.2 499.8h0M510.8 528.9h0M488.3 514h0M486.6 554.1h0M517.3 560.6h0M492.5 502.8h0M484.1 521.2h0M482.4 553h0M518.7 531.9h0M485.7 549.4h0M506.1 576.8h0M508.1 572.4h0M511.8 515h0M501.1 539.4h0M494.1 498.5h0M505.6 537.7h0M488.4 544.5h0M516 542.1h0M500.8 573.7h0M509.4 569.9h0M513.4 529h0M516.2 535.1h0M512 573.7h0M512.3 541.7h0M494.4 505h0M512.4 557.8h0M497.8 532h0M508.6 514.8h0M517.9 512.7h0M497.9 531.7h0M506.5 569.2h0M502.3 569.7h0M486.7 522.1h0M496.1 489.5h0M508 517h0M516 550.1h0M481.4 547.8h0M483.8 516.2h0M511 525.6h0M495.7 541.1h0M504.4 543.3h0M510.2 545.6h0M490.9 564.1h0M488.6 537.7h0M512.7 560.9h0M492.7 522.6h0M490.5 548.8h0M506.7 551.4h0M498.7 489.1h0M492.7 574.6h0M510.5 533.9h0M502.3 573.3h0M518 526.8h0M502.4 563.9h0M507.9 526.2h0M513.9 570h0M517.8 518.8h0M505.4 561.4h0M501.1 537.1h0M484.7 516.6h0M508.8 514.3h0M486.7 573.8h0M492.2 490.1h0M498.8 516.5h0M491.8 538h0M509.9 536.7h0M483.6 511h0M484.8 553.4h0M501.3 576.6h0M499.5 523h0M509.9 523.4h0M502.9 538.9h0M514.3 536.4h0M516.8 539h0M496 499.9h0M493.5 497.4h0M505.1 492.9h0" stroke="#00007f" stroke-width="2.3" stroke-linecap="round"/>
<path d="M486.6 570.6h0M507.1 522.4h0M508 578.7h0M493.3 497.9h0M481.3 525.9h0M514 524.6h0M505 497.4h0M506.2 546.9h0M500.4 559.2h0M484.3 556.6h0M495.9 476.3h0M482.3 529.4h0M484.3 575.8h0M515.9 528.3h0M500 495.9h0M507.4 529.5h0M517.8 558.2h0M487.1 511.5h0M512.8 558.2h0M498 529.5h0M486.4 536.8h0M506.1 548.2h0M489.7 506.1h0M514.7 551.7h0M488 565.3h0M505.8 563.4h0M497.9 531.4h0M511.1 570.9h0M492.8 526h0M482.3 508.9h0M490.5 550.7h0M490.6 560.1h0M515 513.1h0M498.9 548.3h0M501.1 542.1h0M499.4 574.5h0M508.5 551.9h0M515.9 512.4h0M508.6 567.9h0M485.9 573.8h0M497.3 542.8h0M506.3 545.9h0M500.6 531.1h0M518.2 527.8h0M512.3 550.7h0M504.2 529.2h0M515.6 557.5h0M512.6 570.7h0M510.8 574.4h0M507.1 547.6h0M501.1 528.7h0M494.3 552.3h0M504.2 556.9h0M489.4 546.5h0M508.5 554.3h0M509.2 515.4h0M490.1 534.8h0M481.1 554.3h0M499.6 551.9h0M487.6 546.8h0M498.2 570.7h0M492.2 509.9h0M497.1 550.5h0M513.6 559.5h0M481.3 553.5h0M483.4 517h0M517.1 565.6h0M482.2 527h0M497.4 533.7h0M515.9 515.9h0M497.5 475.4h0M498.4 527.7h0M490.2 520.6h0M490.3 512.5h0M499.6 524.9h0M506.7 558.7h0M480.4 521.1h0M502 491.7h0M504.5 559.3h0M495.2 572.6h0M513.9 528.6h0M483.6 515.3h0M497 547.2h0M501.5 489.1h0M481.3 556.9h0M491.2 565.1h0M502.6 582.9h0M506.2 568.5h0M518.8 544.8h0M516 508h0" stroke="#0000ff" stroke-width="2.3" stroke-linecap="round"/>
<path d="M506.2 544h0M516.2 557.5h0M519.2 517.9h0M514.4 525.9h0M498.6 560.3h0M506.4 561.8h0M494.8 557h0M515.1 514.1h0M491.6 556.6h0M488.9 519.4h0M489.5 532.3h0M505.1 545.2h0M490.7 508.9h0M516.5 551.7h0M500.4 556.6h0M488.6 569.9h0M492.5 553.4h0M511.6 557.1h0M502.8 541.5h0M510.3 524h0M488.5 516.6h0M500 496.2h0M503.9 518.6h0M494.7 537.6h0M492.8 509.4h0M514.2 564h0M512.7 568.6h0M486.8 538.1h0M483.9 518.4h0M479.3 522h0M499.5 527.1h0M497.5 499.8h0M503.8 571.3h0M498.3 537.6h0M494.9 553.4h0M502.3 481.8h0M513.1 520h0M483.6 562.4h0M518.9 542.4h0M506.5 513h0M500.6 491.8h0M516.4 519.1h0M510.7 522.5h0M486.8 505.8h0M488.9 566.8h0M517.2 521.9h0M487.5 547.1h0M512.3 563.1h0M498.5 578.1h0M511.6 533.1h0M490.8 505.5h0M493.9 564.9h0M503.5 488h0M480.6 519.9h0M513.8 531.3h0M492 541.1h0M482.8 559h0M493.3 566.8h0M506.8 568.7h0M494.6 508.4h0M510.9 534.4h0M494.3 497.2h0M510.5 537.5h0M515.5 551.4h0M511 556.1h0M503.7 515.6h0M505.5 522.1h0M483.4 518.7h0M503.7 499.1h0M489.7 539.4h0M500.5 524.9h0M493.1 543.9h0M506.9 582.1h0M500.2 562.7h0M520.1 529.8h0M518.5 519.5h0M488.6 543.9h0M481.6 532.4h0M480.9 521.2h0M512.1 570.5h0M502.4 521.9h0M498.3 499.9h0M518 540.9h0M503.3 536.9h0M510.3 562.7h0M503.8 582.3h0M502.2 525.5h0M500.4 556.5h0M513.2 533.3h0M510.1 533h0M497.3 532.3h0M491.2 503.7h0M503.4 524.5h0M490.9 547.8h0M489.4 521.6h0M480.4 509.8h0M507.4 512.1h0M489.1 553.5h0M516.5 554.8h0M499.5 483h0M505.3 519h0M493.7 569.2h0M493.8 555.5h0M494.5 554h0M496.4 541.3h0M513.9 527.5h0M491.7 567.7h0M481.3 516h0M488.4 546.5h0M487.4 547.9h0M510 538.9h0M504.4 539.2h0M487.3 569.5h0M513.5 566.6h0M508.4 546h0M517.4 562.8h0M497.5 531.7h0M494.2 483.4h0M488 528h0M498.6 572.3h0M517.1 518.6h0M486.8 540.2h0M491.1 550.8h0M480.1 519.5h0M503.3 540.9h0M494.3 556.8h0M517.1 510.4h0M515 527.6h0M520.1 530.1h0M508.8 540.8h0M491.6 518.1h0M483.4 525.7h0M505.8 513.3h0M513.6 532.1h0M518.6 555.4h0M499.2 479.9h0M507.3 571.8h0M505.7 574.2h0M487.3 534.4h0M517.2 520h0M502.3 483.7h0M511.8 531.3h0M496.7 565.9h0M482.4 547.7h0M495.5 557.4h0M496.2 557.7h0M514.8 521.9h0M500.8 567.8h0M505.4 554.7h0M515.9 526.2h0" stroke="#7fff7f" stroke-width="2.3" stroke-linecap="round"/>
<path d="M491.3 514.4h0M479.6 525.7h0M513.5 573.2h0M493 537.8h0M493.7 490.5h0M504.2 548.5h0M494.5 508.1h0M498.9 564.1h0M482 511.6h0M516 528.3h0M490.4 576.6h0M517 561.3h0M481 527.3h0M499.3 530h0M495.2 555.6h0M493.7 527.7h0M507.6 551.8h0M495.9 529.7h0M487.1 523.9h0M511.8 532.1h0M488.6 574h0M516.5 535.3h0M486.5 506.5h0M496.8 512h0M514.5 527.7h0M513.8 572.7h0M516.4 522.3h0M494.5 571h0M505.2 555.9h0M499.3 546.5h0M497.4 527.7h0M492.6 508.1h0M498.9 555.8h0M491.3 507.4h0M505.4 523.3h0M482.4 508.6h0M492.1 577.8h0M499 488.1h0M494.2 480.8h0M483.3 507.2h0M496.7 535.4h0M515.2 533.9h0M504.6 539.1h0M507.2 576.9h0M479.4 517.5h0M516.5 536.6h0M484.7 573.2h0M484.6 533.7h0M514.1 570.2h0M489.5 552.5h0M502.5 571.7h0M495 565.3h0M488 514.5h0M501.7 514.5h0M512.9 566.9h0M483.4 562.5h0M491.8 560.4h0M489.9 518h0M508.4 540.1h0M504.9 535.6h0M509.1 525.3h0M502.3 557.6h0M494.4 487.3h0M503.2 485.9h0M501.3 570.1h0M510.4 575.3h0M508.9 517.5h0M501.1 536.3h0M495.5 529.1h0M513 510.3h0M482.4 508.5h0M507.6 543.4h0M496.4 479.6h0M489 547.5h0M501.2 522.2h0M501.8 535.6h0M519.5 518.9h0M513.2 555.8h0M511 567.8h0M490.2 539.2h0M486 515.6h0M506.3 552.6h0M510.9 547.8h0M505.4 569.4h0M497.6 503.1h0M504.1 540.9h0M494.9 559.4h0M503.3 544.4h0M504.4 565.8h0M485.7 574h0M484 564.7h0M491.7 542.9h0M514.6 550.8h0M512 531.2h0M482.8 508.6h0M483.7 567h0M490.3 547.6h0M501.6 497.5h0M495.2 503h0M507.2 525.8h0M487 527.4h0M501.7 492.7h0M501.6 496.8h0M490.1 538.9h0M508.6 523.3h0M495.3 561.1h0M499.6 525.9h0M490.2 574.6h0M509.9 576.3h0M488.7 575.2h0M480.8 509.2h0M488.4 526.7h0M512.1 511.4h0M495.9 566.8h0M508.8 544.8h0M484.8 539h0M509.9 532.5h0M492.4 495.4h0M500.8 517.9h0M501 502h0M518.7 518.5h0M483.4 520h0M510.1 557.1h0M495.6 565.1h0M509.8 514.2h0M500.6 488.5h0M514.4 519.4h0M482.3 546.8h0M481.2 551.6h0M481.2 508.7h0M500.7 544.4h0M503.1 563.7h0M508.9 558.9h0M510.3 576.4h0M484 510.1h0M481.1 545.3h0M483.3 563.1h0M494.6 563.5h0M512 526.9h0M488.5 570.7h0M503.3 566.5h0M509.8 572.2h0M511.1 550h0M512.2 513.4h0M515.1 534.5h0M504.9 495.9h0M496.5 489h0M510.7 550h0M490.5 527.6h0M500.1 537.2h0M513.3 573.4h0M498.9 477.6h0M509.9 567h0M495.5 556.1h0M517.2 544h0M499.2 579.6h0M516 564.5h0M490.9 548.6h0M515.2 537.2h0M487.3 518.6h0M488.4 530.7h0M487.5 526.1h0M494.3 546.6h0M483.8 522.4h0M512.3 524.5h0M491 518.2h0M506.5 582.8h0M508 531.4h0M489 513.8h0M510.7 515.3h0M491.9 518.5h0M485.6 523.9h0M507.4 532h0M510.8 541.7h0M502.6 524.5h0M494.7 496.8h0M489.6 568.4h0M497 540.9h0M491.7 541.1h0M498.3 491.9h0M508.2 579.7h0M487.4 528.7h0M515.3 527.8h0M512.9 522.6h0M499.8 479h0M505.9 549.4h0M484 533.8h0M502 553.3h0M506.1 538.3h0M498.6 573.8h0M517.3 534.2h0M503.8 577.4h0M480.1 519.1h0M498.8 490.3h0M502.3 499h0M508.4 550.8h0M482.1 535.9h0M493.3 540.1h0M482.5 522.1h0M501.5 482.1h0M489.6 517.8h0M485.7 544h0M504.9 515.4h0M505.1 545.3h0M485.4 514.3h0M489.4 552.4h0M496.9 482h0M482.8 552.9h0M502 521.9h0M517.1 564.3h0M488.8 561h0M515 552.2h0M496.1 486.3h0M489.5 565.4h0M483.7 522.9h0M498.5 546.5h0M495.3 503.7h0M483 564.1h0M485.3 534.5h0M498.5 555.3h0M510.2 561.9h0M495.2 510.5h0M490.3 556.5h0M512.3 518.1h0M495.4 538.5h0M485.4 563.1h0M510.8 547.9h0M490.9 564.4h0M515.7 566.7h0M513.9 549.3h0M490.8 544.6h0M492.1 542h0M516.8 533.2h0M485.5 529.3h0M514.2 541h0M515.1 525.7h0M485.8 522.9h0M501.1 576.4h0M484.7 537.5h0M503.3 487.1h0M505.1 525.7h0M498.5 470.6h0M505.1 542.1h0M484.2 523.3h0M489 509h0M510.8 511.4h0M501.3 480.6h0M504.7 492.5h0M483.8 538.8h0M482.2 556.9h0M511.8 562.3h0M490 505.5h0" stroke="#00e5ee" stroke-width="2.3" stroke-linecap="round"/>
<path d="M501.8 543.6h0M491.3 514.1h0M511.5 574.6h0M496.9 564.6h0M502.2 540.6h0M483.8 541.3h0M500 549.7h0M499 554.1h0M487.4 527.2h0M492.8 551.8h0M500.4 516.8h0M485.3 562.9h0M484 519.2h0M502.7 528.3h0M498.3 516.9h0M487.8 560.4h0M502.2 513.8h0M494.6 535.7h0M500.1 545.3h0M519.6 515.3h0M497.8 529.1h0M497 537.7h0" stroke="#ff7f00" stroke-width="2.3" stroke-linecap="round"/>
<path d="M505.5 544.6h0M501.6 556.9h0M490.1 531.2h0M500.3 546.2h0M513.4 565.6h0M488.1 536.3h0M495.7 515.7h0M507.1 516.7h0M505.4 514.4h0M504.1 520.3h0" stroke="#7f0000" stroke-width="2.3" stroke-linecap="round"/>
<path d="M516.3 519.7h0M502.9 513.7h0M497.6 550.6h0M497.6 530.9h0M492.6 561.9h0M516 515h0M499.3 522.2h0M486.3 578.5h0M499.8 526.9h0M514.8 570.3h0M492 568.3h0M516 546.9h0M515.4 557.5h0M501.7 519.8h0M520.4 546.6h0M513.2 511.5h0M509.1 515.7h0M481.2 538h0M498.8 528.7h0M511.4 552.3h0M479.7 541.6h0M479.3 531.3h0M483.5 545.7h0M481 555.5h0M492.4 549.6h0M504.3 544.3h0M509.5 536.8h0M518.3 521.2h0M512.6 517.9h0M489.5 551.4h0M505.6 562h0M494.4 559.5h0M504.4 570.7h0M503.7 520.9h0M487.7 526.7h0M509.8 558.8h0M501.9 559.4h0M509.6 538h0M481.4 546h0M488.5 541.5h0M491.8 560.2h0M503.7 547.3h0M491.6 539.8h0M481.1 539.5h0M491 504.9h0M489 549.6h0M496.7 517.7h0M491.3 565.8h0M494.2 551h0M496.2 525.1h0M486.1 562h0M505.8 571.1h0M502.2 547.6h0M501 574.1h0M513.3 524.2h0M482 555.6h0M498.1 516.5h0M509.1 538h0M511.8 531.7h0M512.7 524.9h0M499.4 574.1h0M507.9 564.2h0M495.4 543.8h0M498.2 577.5h0M512.9 525.9h0M484.1 544.3h0M488.1 554.4h0M509.7 532.9h0M489.3 525.3h0M501.3 515.4h0M515 563.6h0M508.8 553.4h0M501.9 522.4h0M500.8 580.6h0M480.2 523.7h0M503.7 553.9h0M487.7 568.6h0M490.7 541.8h0M485.4 560.6h0M508.4 541.5h0M490.6 512.8h0" stroke="#007fff" stroke-width="2.3" stroke-linecap="round"/>
<path d="M495.9 481.5h0M503.2 582h0M494.6 488.2h0M499.3 522.9h0M494.7 508.5h0M502.9 521.7h0M515.4 523.1h0M498.2 516.4h0M485.6 526.8h0M493.9 565.8h0M501.5 556.8h0M489.6 555.6h0M489.5 532.4h0M493.2 482.1h0M518.8 537.3h0M516.8 546.8h0M497.8 478.7h0M501.1 568.9h0M498.4 544.8h0M514 525.1h0M491.3 538.9h0M482.4 543.7h0M516.4 541.9h0M510.2 527.2h0M484.5 544.6h0M484.3 521.3h0M509.5 533.1h0M503.4 526.1h0M497.1 568.5h0M507.8 520.1h0M500 576.3h0M508.3 542.7h0M492.9 511.5h0M489.9 570.7h0M490.6 558h0M495.8 535.7h0M496.2 567h0M507.8 548.1h0M511.1 549.1h0M492.9 512.1h0M513.7 566.6h0M518.6 547.9h0M504.1 557.5h0M502.8 488.7h0M497.4 491.3h0M489.2 516.6h0M512.5 518.4h0M499.2 564.4h0M486.5 560.7h0M480.6 512.1h0M500.1 485.4h0M513.6 558.4h0M486.5 572.3h0M494.9 534.3h0M496.5 530.5h0M515.8 553.3h0M501 492.5h0M497.1 548.9h0M501.8 481.5h0M499.8 553.7h0M496.2 557.6h0M497.9 540.6h0" stroke="#ffe600" stroke-width="2.3" stroke-linecap="round"/>
<path d="M507.8 524.8h0M494.6 571.5h0M516.2 514.1h0M504.5 570.8h0M510.1 538h0M487.2 560.3h0M508 529.6h0M508.2 523.6h0M514.6 540.1h0M512.2 512.2h0M492.9 560.7h0M500.1 544h0M494.5 505.8h0M497 503h0M481.4 517.1h0M511 517.4h0M515.2 531.2h0M503.8 528.3h0M491.2 511.5h0" stroke="#ff0000" stroke-width="2.3" stroke-linecap="round"/>
<path d="M490 510.9h0M492.5 507.6h0M495.3 513.1h0M491.3 516.4h0M499.4 518.5h0M506.8 528.5h0M502.1 530.4h0M510.7 519h0M493.7 509.3h0M496.3 515.5h0M494.2 517.6h0M500.5 538.5h0M501.3 541.9h0M500.1 545.2h0M501.7 547.8h0M495.4 560.3h0M496 562.4h0M495.7 564.5h0M504.3 522.6h0M486.6 537.7h0M511 546.1h0M491.6 554.4h0M505.9 562.8h0" stroke="#fff" stroke-width="1.2" stroke-linecap="round"/>
<path d="M497.5 505.9h0M499.2 508.4h0M500.9 510.1h0M502.6 507.6h0M505.1 509.3h0M508.5 510.5h0M498.8 512.6h0M503.8 505.1h0M497.1 509.7h0M506.4 506.7h0M511 510.1h0" stroke="#00007f" stroke-width="2.2" stroke-linecap="round"/>
<path d="M497.5 505.9h0M502.6 507.6h0M498.8 512.6h0M506.4 506.7h0" stroke="#00e5ee" stroke-width="1.8" stroke-linecap="round"/>
<path d="M302.4 266.5L302.4 395.5" stroke="#666" stroke-width="1.2"/>
<path d="M300.1 278.9L302.4 278.9" stroke="#666" stroke-width="1"/>
<text x="299.4" y="281.1" font-size="6.3" text-anchor="end">4</text>
<path d="M300.1 334.3L302.4 334.3" stroke="#666" stroke-width="1"/>
<text x="299.4" y="336.5" font-size="6.3" text-anchor="end">2</text>
<path d="M300.1 389.7L302.4 389.7" stroke="#666" stroke-width="1"/>
<text x="299.4" y="391.9" font-size="6.3" text-anchor="end">0</text>
<path d="M302.4 395.5L387.7 395.5" stroke="#666" stroke-width="1"/>
<text x="290.9" y="324" font-size="7.6" text-anchor="middle" transform="rotate(-90 290.9 324)">log2 normalized counts</text>
<text x="330.5" y="403" font-size="8.9" text-anchor="end" transform="rotate(-23 330.5 403)">Healthy controls</text>
<text x="373" y="402" font-size="8.9" text-anchor="end" transform="rotate(-23 373 402)">COVID19 patients</text>
<path d="M327 263.5L370 263.5" stroke="#1a1a1a" stroke-width="1.15"/>
<text x="348.5" y="261.2" font-size="7.2" text-anchor="middle">2e-15</text>
<path d="M302.4 461L302.4 590" stroke="#666" stroke-width="1.2"/>
<path d="M300.1 493.6L302.4 493.6" stroke="#666" stroke-width="1"/>
<text x="299.4" y="495.8" font-size="6.3" text-anchor="end">2</text>
<path d="M300.1 539L302.4 539" stroke="#666" stroke-width="1"/>
<text x="299.4" y="541.2" font-size="6.3" text-anchor="end">1</text>
<path d="M300.1 584.4L302.4 584.4" stroke="#666" stroke-width="1"/>
<text x="299.4" y="586.6" font-size="6.3" text-anchor="end">0</text>
<path d="M302.4 590L387.7 590" stroke="#666" stroke-width="1"/>
<text x="290.9" y="518.5" font-size="7.6" text-anchor="middle" transform="rotate(-90 290.9 518.5)">log2 normalized counts</text>
<text x="330.5" y="597.5" font-size="8.9" text-anchor="end" transform="rotate(-23 330.5 597.5)">Healthy controls</text>
<text x="373" y="596.5" font-size="8.9" text-anchor="end" transform="rotate(-23 373 596.5)">COVID19 patients</text>
<path d="M327 457.5L370 457.5" stroke="#1a1a1a" stroke-width="1.15"/>
<text x="348.5" y="455.5" font-size="7.2" text-anchor="middle">4e-17</text>
<path d="M563 266.8L563 395.3" stroke="#666" stroke-width="1.2"/>
<path d="M560.7 271.2L563 271.2" stroke="#666" stroke-width="1"/>
<text x="560" y="273.4" font-size="6.3" text-anchor="end">8</text>
<path d="M560.7 300.8L563 300.8" stroke="#666" stroke-width="1"/>
<text x="560" y="303" font-size="6.3" text-anchor="end">6</text>
<path d="M560.7 330.4L563 330.4" stroke="#666" stroke-width="1"/>
<text x="560" y="332.6" font-size="6.3" text-anchor="end">4</text>
<path d="M560.7 360L563 360" stroke="#666" stroke-width="1"/>
<text x="560" y="362.2" font-size="6.3" text-anchor="end">2</text>
<path d="M560.7 389.6L563 389.6" stroke="#666" stroke-width="1"/>
<text x="560" y="391.8" font-size="6.3" text-anchor="end">0</text>
<path d="M563 395.3L685 395.3" stroke="#666" stroke-width="1"/>
<text x="550.6" y="324" font-size="7.6" text-anchor="middle" transform="rotate(-90 550.6 324)">log2 normalized counts</text>
<text x="588.5" y="403.5" font-size="8.9" text-anchor="end" transform="rotate(-23 588.5 403.5)">Mock</text>
<text x="629" y="403" font-size="8.9" text-anchor="end" transform="rotate(-23 629 403)">Bystanders</text>
<text x="669" y="402" font-size="8.9" text-anchor="end" transform="rotate(-23 669 402)">Infected</text>
<text x="535" y="255.5" font-size="8.8">ISG15</text>
<path d="M584.8 258.5L666.1 258.5" stroke="#1a1a1a" stroke-width="1.15"/>
<text x="625.5" y="256.2" font-size="7.2" text-anchor="middle">0</text>
<path d="M584.8 272.5L625.6 272.5" stroke="#1a1a1a" stroke-width="1.15"/>
<text x="605.2" y="270.6" font-size="7.2" text-anchor="middle">0</text>
<path d="M625.6 267.5L666.1 267.5" stroke="#1a1a1a" stroke-width="1.15"/>
<text x="645.9" y="266" font-size="7.2" text-anchor="middle">6.6e-24</text>
<path d="M563 460.5L563 589" stroke="#666" stroke-width="1.2"/>
<path d="M560.7 477.1L563 477.1" stroke="#666" stroke-width="1"/>
<text x="560" y="479.3" font-size="6.3" text-anchor="end">3</text>
<path d="M560.7 512.7L563 512.7" stroke="#666" stroke-width="1"/>
<text x="560" y="514.9" font-size="6.3" text-anchor="end">2</text>
<path d="M560.7 548.2L563 548.2" stroke="#666" stroke-width="1"/>
<text x="560" y="550.5" font-size="6.3" text-anchor="end">1</text>
<path d="M560.7 583.8L563 583.8" stroke="#666" stroke-width="1"/>
<text x="560" y="586" font-size="6.3" text-anchor="end">0</text>
<path d="M563 589L685 589" stroke="#666" stroke-width="1"/>
<text x="550.6" y="517.7" font-size="7.6" text-anchor="middle" transform="rotate(-90 550.6 517.7)">log2 normalized counts</text>
<text x="588.5" y="597.2" font-size="8.9" text-anchor="end" transform="rotate(-23 588.5 597.2)">Mock</text>
<text x="629" y="596.7" font-size="8.9" text-anchor="end" transform="rotate(-23 629 596.7)">Bystanders</text>
<text x="669" y="595.7" font-size="8.9" text-anchor="end" transform="rotate(-23 669 595.7)">Infected</text>
<text x="531.5" y="452.6" font-size="8.8">NORAD</text>
<path d="M584.8 451.5L666.1 451.5" stroke="#1a1a1a" stroke-width="1.15"/>
<text x="625.5" y="449.5" font-size="7.2" text-anchor="middle">3.0e-45</text>
<path d="M584.8 461.5L626 461.5" stroke="#1a1a1a" stroke-width="1.15"/>
<text x="605.4" y="459.8" font-size="7.2" text-anchor="middle">3.1e-5</text>
<path d="M625.6 479.5L666.1 479.5" stroke="#1a1a1a" stroke-width="1.15"/>
<text x="645.9" y="477.7" font-size="7.2" text-anchor="middle">2.2e-24</text>
<path d="M332.6 385.2h0M322.5 375.6h0M318.8 387.9h0M323.3 358.8h0M327.5 375.5h0M326.8 377.2h0M325.1 368.3h0M319.3 381.6h0M319.9 375.4h0M318.6 371.1h0M326 357.3h0M329.6 389.6h0M328.3 348.6h0M326 382.3h0M318.8 375.5h0M325.7 362.8h0M328.6 358.1h0M325.8 388.2h0M325.7 383.7h0M324.3 376.3h0M319.1 365.1h0M328.6 374.7h0M327.4 378.7h0M325 387.3h0M326.4 387.3h0M323.3 383.3h0M313.7 383.1h0M335.1 369.4h0M327.7 365.7h0M324.6 379.8h0M327.8 361.5h0M326.4 375h0M326.7 362.6h0M324.9 386.6h0M328.6 388.3h0M316.7 357.4h0M331.7 374.4h0M314.7 379.3h0M319.6 364.2h0M318.8 375.8h0M318.6 382h0M324.2 387.8h0M332.7 362.6h0M329.3 379.9h0M331.8 381.7h0M326.1 387h0M325.6 384.5h0M323.1 387.5h0M319.6 364.9h0M327.2 352.3h0M327 389.4h0M321.6 349.6h0M322.9 378.2h0M327.1 387.4h0M315 362.9h0M320.3 385h0M320.3 387.8h0M331.6 373.4h0M323 385.5h0M325.1 388.3h0M325.2 385h0M322.8 389.6h0M313.4 358.3h0M314.9 350.7h0M323.6 354h0M334 357h0M322.2 368.7h0M333 375.5h0M328.7 372.1h0M332.4 383.2h0M327.2 387h0M322.7 382.8h0M324 387.5h0M329.5 382.7h0M330.8 369.2h0M333.2 359h0M329.7 365.1h0M320.6 376.9h0M322 384.4h0M327.9 387h0M327.3 361.8h0M339.4 386.4h0M318.2 389.6h0M327.4 385.8h0M325.8 382.6h0M329.7 389.3h0M331 382.4h0M326.7 386h0M320.6 375.1h0M329.6 377.7h0M320.2 383h0M320.8 383.7h0M333.4 387.6h0M319.5 361.2h0M322.6 381.2h0M317.3 384.6h0M320.4 348.3h0M324.8 383.1h0M336.4 387.7h0M320.5 370.2h0M318.1 355.6h0M333.6 357.4h0M318.2 384.4h0M330.3 367.8h0M333.7 376.6h0M327.5 388.8h0M331.9 385.6h0M324.5 383.1h0M332.1 379.7h0M320.4 380.1h0M328.6 386.7h0M326.7 371.7h0M319.3 381.4h0M339.1 369.1h0M322.3 386.8h0M320.3 388.3h0M329.6 385.1h0M322.5 384.1h0M330 375.4h0M331.1 375.9h0M329.2 377.2h0M324.6 363.7h0M321.8 369h0M326.6 354.5h0M324.9 375.9h0M328.3 377.4h0M329.9 364.1h0M324.1 387.8h0M327.2 388.4h0M323.1 378.9h0M325.3 381.4h0M326.9 374.2h0M320.9 389.5h0M323 356.5h0M323.1 366.9h0M327.9 366h0M325.5 373.3h0M325.3 356.7h0M332.1 382.6h0M323.9 346.2h0M322 387.6h0M322.7 321.3h0M327.7 362.3h0M326.6 385.9h0M325.4 385.8h0M320.2 369.8h0M325.2 372.9h0M333.1 389.2h0M330.9 378.7h0M321.7 377.8h0M319.2 389.2h0M325.6 368.4h0M327.4 385.9h0M325.4 375.9h0M322.7 367.8h0M320.3 377.8h0M325.7 380.1h0M323.2 377.3h0M331 388.7h0M317.9 384.5h0" stroke="#ff3b3b" stroke-width="0.84" stroke-linecap="round" stroke-opacity="0.35"/>
<path d="M367.5 373.6h0M362 296.8h0M372.7 343.6h0M369.8 373.9h0M367.5 368.2h0M376.1 376.7h0M374.3 350.6h0M356.9 343.4h0M370.9 360.9h0M367.7 385.9h0M370.2 349.1h0M366.1 377.9h0M367.9 360h0M370.8 363.1h0M375.6 353.5h0M370.9 380.9h0M373.2 357h0M366.8 358.1h0M378.1 375.2h0M371.4 322.4h0M369.5 328.1h0M372.2 372h0M373.2 368.5h0M380.7 351h0M375.1 387.8h0M366.2 361.8h0M361.6 386.1h0M371.2 378.6h0M366.9 341.2h0M374.4 379.7h0M371.4 382h0M362 337.7h0M375.3 366h0M365.3 356.7h0M374.7 367.6h0M360.7 375.4h0M370.5 386.9h0M377.7 278.5h0M366.9 383.5h0M368.8 345.3h0M370.9 383.3h0M375.2 357.2h0M371.3 383.7h0M369.4 324.1h0M382.9 363.7h0M366.9 366.3h0M363.6 352h0M374.3 364.3h0M369.4 347.4h0M371.4 375.6h0M378.7 368.7h0M371 376.2h0M370.8 384.7h0M376.4 378.4h0M369.7 352.9h0M370.6 386h0M365.2 379.7h0M373.7 361.7h0M376.3 373.1h0M368.3 386.3h0M375.3 372.6h0M368.9 299.4h0M373.5 378.6h0M364.4 376.3h0M382.1 347.8h0M371.7 377.6h0M367.1 365.3h0M363.3 361.8h0M369.2 365.7h0M370.2 383.8h0M371.2 382.8h0M368.6 299h0M377.3 333.6h0M375.8 356.7h0M368.5 372.7h0M374.7 380.8h0M369 356h0M376 296.2h0M371.1 382.9h0M365.1 388.8h0M374.6 379.3h0M375 349.1h0M362.9 336.6h0M379.1 357.2h0M375.2 387.6h0M372.1 385.7h0M361.1 326.9h0M374.5 293.3h0M373.6 331.4h0M378.8 383.6h0M360.2 375.3h0M366.6 333.7h0M372.1 387.1h0M363.9 380.5h0M369.4 377.7h0M367 350h0M370 336.9h0M366.1 343.9h0M366.8 329.8h0M368.7 326.3h0M375.1 361.8h0M368.1 321.7h0M366.3 365.9h0M364.5 376.5h0M368.6 319.8h0M366.6 343h0M370.7 333.2h0M364.5 373.9h0M361.9 344.1h0M360 354.5h0M364.9 343.8h0M362.2 382.2h0M363.7 356.9h0M370.3 384h0M375.2 365.7h0M366.7 369.9h0M374.5 349.2h0M371 347.2h0M368.9 323.8h0M370 378.4h0M375.7 366.9h0M374 333.1h0M375.9 352.2h0M381.4 361.2h0M373.3 384.4h0M373.1 348.8h0M374.4 361.2h0M372.9 363h0M377.4 363.5h0M370.3 385.6h0M371.6 361.8h0M371.9 362.8h0M368.3 374.1h0M372 382h0M369.8 344.6h0M382.9 324.7h0M366.4 378.3h0M377.6 355h0M365.4 346.2h0M363.1 364.1h0M364.3 389.5h0M371.6 367.3h0M368.1 348.7h0M367.4 378.3h0M372.4 380.4h0M370.6 378.7h0M375.9 388.1h0M370.9 389h0M374.9 378.1h0M373.1 321.7h0M366.3 386h0M368.1 357.5h0M366.9 365.7h0M364.1 375h0M367.2 331.1h0M376 347.5h0M376.6 353.6h0M371.3 366.6h0M376.2 359.5h0M381.6 368.9h0" stroke="#ff3b3b" stroke-width="0.84" stroke-linecap="round" stroke-opacity="0.35"/>
<path d="M369.9 374.5L369.9 350.6" stroke="#707070" stroke-width="0.8"/>
<path d="M366.4 350.6L373.4 350.6" stroke="#555" stroke-width="0.9"/>
<rect x="362.3" y="374.5" width="15.2" height="15.2" fill="none" stroke="#707070" stroke-width="0.7"/>
<path d="M325.8 388.3a0.62 0.62 0 1 0 0.01 0M325.8 388a0.62 0.62 0 1 0 0.01 0M325.8 387.7a0.62 0.62 0 1 0 0.01 0M325.8 387.3a0.62 0.62 0 1 0 0.01 0M325.8 387a0.62 0.62 0 1 0 0.01 0M325.8 386.7a0.62 0.62 0 1 0 0.01 0M325.8 386.3a0.62 0.62 0 1 0 0.01 0M325.8 386a0.62 0.62 0 1 0 0.01 0M325.8 385.7a0.62 0.62 0 1 0 0.01 0M325.8 385.3a0.62 0.62 0 1 0 0.01 0M325.8 385a0.62 0.62 0 1 0 0.01 0M325.8 384.7a0.62 0.62 0 1 0 0.01 0M325.8 384.3a0.62 0.62 0 1 0 0.01 0M325.8 384a0.62 0.62 0 1 0 0.01 0M325.8 383.7a0.62 0.62 0 1 0 0.01 0M325.8 383.3a0.62 0.62 0 1 0 0.01 0M325.8 383a0.62 0.62 0 1 0 0.01 0M325.8 382.7a0.62 0.62 0 1 0 0.01 0M325.8 382.3a0.62 0.62 0 1 0 0.01 0M325.8 382a0.62 0.62 0 1 0 0.01 0M325.8 381.7a0.62 0.62 0 1 0 0.01 0M325.8 381.3a0.62 0.62 0 1 0 0.01 0M325.8 381a0.62 0.62 0 1 0 0.01 0M325.8 380.7a0.62 0.62 0 1 0 0.01 0M325.8 380.3a0.62 0.62 0 1 0 0.01 0M325.8 380a0.62 0.62 0 1 0 0.01 0M325.8 379.7a0.62 0.62 0 1 0 0.01 0M325.8 379.3a0.62 0.62 0 1 0 0.01 0M325.8 379a0.62 0.62 0 1 0 0.01 0M325.8 378.7a0.62 0.62 0 1 0 0.01 0M325.8 378.3a0.62 0.62 0 1 0 0.01 0M325.8 378a0.62 0.62 0 1 0 0.01 0M325.8 377.7a0.62 0.62 0 1 0 0.01 0M325.8 377.3a0.62 0.62 0 1 0 0.01 0M325.8 377a0.62 0.62 0 1 0 0.01 0M325.8 376.7a0.62 0.62 0 1 0 0.01 0M325.8 376.3a0.62 0.62 0 1 0 0.01 0M325.8 376a0.62 0.62 0 1 0 0.01 0M325.8 375.7a0.62 0.62 0 1 0 0.01 0M325.8 375.4a0.62 0.62 0 1 0 0.01 0M325.8 375a0.62 0.62 0 1 0 0.01 0M325.8 374.7a0.62 0.62 0 1 0 0.01 0M325.8 374.4a0.62 0.62 0 1 0 0.01 0M325.8 374a0.62 0.62 0 1 0 0.01 0M325.8 373.7a0.62 0.62 0 1 0 0.01 0M325.8 373.4a0.62 0.62 0 1 0 0.01 0M325.8 373a0.62 0.62 0 1 0 0.01 0M325.8 372.7a0.62 0.62 0 1 0 0.01 0M325.8 372.4a0.62 0.62 0 1 0 0.01 0M325.8 372a0.62 0.62 0 1 0 0.01 0M325.8 371.7a0.62 0.62 0 1 0 0.01 0M325.8 371.4a0.62 0.62 0 1 0 0.01 0M325.8 371a0.62 0.62 0 1 0 0.01 0M325.8 370.7a0.62 0.62 0 1 0 0.01 0M325.8 370.4a0.62 0.62 0 1 0 0.01 0M325.8 370a0.62 0.62 0 1 0 0.01 0M325.8 369.7a0.62 0.62 0 1 0 0.01 0M325.8 369.4a0.62 0.62 0 1 0 0.01 0M325.8 369a0.62 0.62 0 1 0 0.01 0M325.8 368.7a0.62 0.62 0 1 0 0.01 0M325.8 368.4a0.62 0.62 0 1 0 0.01 0M325.8 368a0.62 0.62 0 1 0 0.01 0M325.8 367.7a0.62 0.62 0 1 0 0.01 0M325.8 367.4a0.62 0.62 0 1 0 0.01 0M325.8 367a0.62 0.62 0 1 0 0.01 0M325.8 366.7a0.62 0.62 0 1 0 0.01 0M325.8 366.4a0.62 0.62 0 1 0 0.01 0M325.8 366a0.62 0.62 0 1 0 0.01 0M325.8 365.7a0.62 0.62 0 1 0 0.01 0M325.8 365.4a0.62 0.62 0 1 0 0.01 0M325.8 365a0.62 0.62 0 1 0 0.01 0M325.8 364.7a0.62 0.62 0 1 0 0.01 0M325.8 364.4a0.62 0.62 0 1 0 0.01 0M325.8 364a0.62 0.62 0 1 0 0.01 0M325.8 363.7a0.62 0.62 0 1 0 0.01 0M325.8 363.4a0.62 0.62 0 1 0 0.01 0M325.8 363.1a0.62 0.62 0 1 0 0.01 0M325.8 362.7a0.62 0.62 0 1 0 0.01 0M325.8 362.4a0.62 0.62 0 1 0 0.01 0M325.8 362.1a0.62 0.62 0 1 0 0.01 0M325.8 361.7a0.62 0.62 0 1 0 0.01 0M325.8 361.4a0.62 0.62 0 1 0 0.01 0M325.8 361.1a0.62 0.62 0 1 0 0.01 0M325.8 360.7a0.62 0.62 0 1 0 0.01 0M325.8 360.4a0.62 0.62 0 1 0 0.01 0M325.8 360.1a0.62 0.62 0 1 0 0.01 0M325.8 359.7a0.62 0.62 0 1 0 0.01 0M325.8 359.4a0.62 0.62 0 1 0 0.01 0M325.8 359.1a0.62 0.62 0 1 0 0.01 0M325.8 358.7a0.62 0.62 0 1 0 0.01 0M325.8 358.4a0.62 0.62 0 1 0 0.01 0M325.8 358.1a0.62 0.62 0 1 0 0.01 0M325.8 357.7a0.62 0.62 0 1 0 0.01 0M325.8 357.4a0.62 0.62 0 1 0 0.01 0M325.8 357.1a0.62 0.62 0 1 0 0.01 0M325.8 356.7a0.62 0.62 0 1 0 0.01 0M325.8 356.4a0.62 0.62 0 1 0 0.01 0M325.8 356.1a0.62 0.62 0 1 0 0.01 0M325.8 355.7a0.62 0.62 0 1 0 0.01 0M325.8 355.4a0.62 0.62 0 1 0 0.01 0M325.8 355.1a0.62 0.62 0 1 0 0.01 0M325.8 354.4a0.62 0.62 0 1 0 0.01 0M325.8 353.7a0.62 0.62 0 1 0 0.01 0M325.8 353a0.62 0.62 0 1 0 0.01 0M325.8 352.3a0.62 0.62 0 1 0 0.01 0M325.8 351.6a0.62 0.62 0 1 0 0.01 0M325.8 350.9a0.62 0.62 0 1 0 0.01 0M325.8 350.2a0.62 0.62 0 1 0 0.01 0M325.8 349.5a0.62 0.62 0 1 0 0.01 0M325.8 348.8a0.62 0.62 0 1 0 0.01 0M325.8 348.1a0.62 0.62 0 1 0 0.01 0M325.8 347.5a0.62 0.62 0 1 0 0.01 0M325.8 346.8a0.62 0.62 0 1 0 0.01 0M325.8 346.1a0.62 0.62 0 1 0 0.01 0M325.8 342.1a0.62 0.62 0 1 0 0.01 0M325.8 341.2a0.62 0.62 0 1 0 0.01 0M325.8 340.4a0.62 0.62 0 1 0 0.01 0M325.8 339.6a0.62 0.62 0 1 0 0.01 0M325.8 338.7a0.62 0.62 0 1 0 0.01 0M325.8 337.9a0.62 0.62 0 1 0 0.01 0M325.8 337.1a0.62 0.62 0 1 0 0.01 0M325.8 336.2a0.62 0.62 0 1 0 0.01 0M325.8 335.4a0.62 0.62 0 1 0 0.01 0M325.8 334.6a0.62 0.62 0 1 0 0.01 0M325.8 333.7a0.62 0.62 0 1 0 0.01 0M325.8 332.9a0.62 0.62 0 1 0 0.01 0M325.8 326.8a0.62 0.62 0 1 0 0.01 0" stroke="#111" stroke-width="0.4" fill="none"/>
<path d="M369.3 350.4a0.62 0.62 0 1 0 0.01 0M369.3 350a0.62 0.62 0 1 0 0.01 0M369.3 349.7a0.62 0.62 0 1 0 0.01 0M369.3 349.4a0.62 0.62 0 1 0 0.01 0M369.3 349a0.62 0.62 0 1 0 0.01 0M369.3 348.7a0.62 0.62 0 1 0 0.01 0M369.3 348.4a0.62 0.62 0 1 0 0.01 0M369.3 348a0.62 0.62 0 1 0 0.01 0M369.3 347.7a0.62 0.62 0 1 0 0.01 0M369.3 347.4a0.62 0.62 0 1 0 0.01 0M369.3 347a0.62 0.62 0 1 0 0.01 0M369.3 346.7a0.62 0.62 0 1 0 0.01 0M369.3 346.4a0.62 0.62 0 1 0 0.01 0M369.3 346a0.62 0.62 0 1 0 0.01 0M369.3 345.7a0.62 0.62 0 1 0 0.01 0M369.3 345.4a0.62 0.62 0 1 0 0.01 0M369.3 345a0.62 0.62 0 1 0 0.01 0M369.3 344.7a0.62 0.62 0 1 0 0.01 0M369.3 344.4a0.62 0.62 0 1 0 0.01 0M369.3 344.1a0.62 0.62 0 1 0 0.01 0M369.3 343.7a0.62 0.62 0 1 0 0.01 0M369.3 343.4a0.62 0.62 0 1 0 0.01 0M369.3 343.1a0.62 0.62 0 1 0 0.01 0M369.3 342.7a0.62 0.62 0 1 0 0.01 0M369.3 342.4a0.62 0.62 0 1 0 0.01 0M369.3 342.1a0.62 0.62 0 1 0 0.01 0M369.3 341.7a0.62 0.62 0 1 0 0.01 0M369.3 341.4a0.62 0.62 0 1 0 0.01 0M369.3 341.1a0.62 0.62 0 1 0 0.01 0M369.3 340.7a0.62 0.62 0 1 0 0.01 0M369.3 340.4a0.62 0.62 0 1 0 0.01 0M369.3 340.1a0.62 0.62 0 1 0 0.01 0M369.3 339.7a0.62 0.62 0 1 0 0.01 0M369.3 339.4a0.62 0.62 0 1 0 0.01 0M369.3 339.1a0.62 0.62 0 1 0 0.01 0M369.3 338.7a0.62 0.62 0 1 0 0.01 0M369.3 338.4a0.62 0.62 0 1 0 0.01 0M369.3 338.1a0.62 0.62 0 1 0 0.01 0M369.3 337.7a0.62 0.62 0 1 0 0.01 0M369.3 337.4a0.62 0.62 0 1 0 0.01 0M369.3 337.1a0.62 0.62 0 1 0 0.01 0M369.3 336.7a0.62 0.62 0 1 0 0.01 0M369.3 336.4a0.62 0.62 0 1 0 0.01 0M369.3 336.1a0.62 0.62 0 1 0 0.01 0M369.3 335.7a0.62 0.62 0 1 0 0.01 0M369.3 335.4a0.62 0.62 0 1 0 0.01 0M369.3 335.1a0.62 0.62 0 1 0 0.01 0M369.3 334.7a0.62 0.62 0 1 0 0.01 0M369.3 334.4a0.62 0.62 0 1 0 0.01 0M369.3 334.1a0.62 0.62 0 1 0 0.01 0M369.3 333.7a0.62 0.62 0 1 0 0.01 0M369.3 333.4a0.62 0.62 0 1 0 0.01 0M369.3 333.1a0.62 0.62 0 1 0 0.01 0M369.3 332.7a0.62 0.62 0 1 0 0.01 0M369.3 332.4a0.62 0.62 0 1 0 0.01 0M369.3 332.1a0.62 0.62 0 1 0 0.01 0M369.3 331.8a0.62 0.62 0 1 0 0.01 0M369.3 331.4a0.62 0.62 0 1 0 0.01 0M369.3 331.1a0.62 0.62 0 1 0 0.01 0M369.3 330.8a0.62 0.62 0 1 0 0.01 0M369.3 331.5a0.62 0.62 0 1 0 0.01 0M369.3 330.1a0.62 0.62 0 1 0 0.01 0M369.3 328.8a0.62 0.62 0 1 0 0.01 0M369.3 327.4a0.62 0.62 0 1 0 0.01 0M369.3 326a0.62 0.62 0 1 0 0.01 0M369.3 324.6a0.62 0.62 0 1 0 0.01 0M369.3 323.2a0.62 0.62 0 1 0 0.01 0M369.3 321.8a0.62 0.62 0 1 0 0.01 0M369.3 320.4a0.62 0.62 0 1 0 0.01 0M369.3 319.1a0.62 0.62 0 1 0 0.01 0M369.3 317.7a0.62 0.62 0 1 0 0.01 0M369.3 316.3a0.62 0.62 0 1 0 0.01 0M369.3 314.9a0.62 0.62 0 1 0 0.01 0M369.3 313.5a0.62 0.62 0 1 0 0.01 0M369.3 312.1a0.62 0.62 0 1 0 0.01 0M369.3 310.8a0.62 0.62 0 1 0 0.01 0M369.3 309.4a0.62 0.62 0 1 0 0.01 0M369.3 308a0.62 0.62 0 1 0 0.01 0M369.3 306.6a0.62 0.62 0 1 0 0.01 0M369.3 305.2a0.62 0.62 0 1 0 0.01 0M369.3 301.1a0.62 0.62 0 1 0 0.01 0M369.3 298.3a0.62 0.62 0 1 0 0.01 0M369.3 294.1a0.62 0.62 0 1 0 0.01 0M369.3 291.4a0.62 0.62 0 1 0 0.01 0M369.3 287.2a0.62 0.62 0 1 0 0.01 0M369.3 283.1a0.62 0.62 0 1 0 0.01 0M369.3 280.3a0.62 0.62 0 1 0 0.01 0M369.3 269.2a0.62 0.62 0 1 0 0.01 0" stroke="#111" stroke-width="0.4" fill="none"/>
<path d="M369.9 350.6L369.9 374.5" stroke="#707070" stroke-width="0.8"/>
<path d="M366.4 350.6L373.4 350.6" stroke="#222" stroke-width="0.9"/>
<path d="M328.6 547.7h0M330.4 571.4h0M326.1 581.5h0M331.7 571.7h0M318.6 568.3h0M329.6 559.7h0M327.4 554.2h0M324.2 525.3h0M318.1 574.4h0M322.2 552.5h0M323.8 561.8h0M330.6 564h0M332.1 563.5h0M329.5 541h0M331.8 563.7h0M332.2 548.9h0M339.4 578.2h0M328.2 530.3h0M324.4 536.9h0M323.6 574h0M322.2 565.3h0M325.6 576.4h0M316.8 572.1h0M330 582.7h0M330 564.4h0M319.9 542.2h0M324.6 532.6h0M319.4 569.6h0M339.4 564.6h0M329.9 584.3h0M332.8 577.8h0M333 577.8h0M315.6 571.6h0M326.2 570.6h0M327.2 564.6h0M335.4 566.4h0M329.8 558.4h0M323.7 547.8h0M324.2 572.5h0M336.7 562.7h0M321.1 514.5h0M327.9 579.7h0M318.4 538.8h0M322.3 578.3h0M339.4 567.9h0M327.3 539.5h0M326.2 566h0M326.5 559.3h0M321.4 582.6h0M323.4 570h0M321.8 581.3h0M331.7 573.4h0M333.2 572.4h0M330.5 568.8h0M322.9 556.4h0M334.2 579.3h0M325.6 581.2h0M331.1 567.7h0M336.6 550.1h0M326 570.3h0M322.7 537.4h0M322.9 575.8h0M331.1 556.3h0M332.1 556.8h0M317.3 565.4h0M330.3 578.5h0M333.6 565h0M326.5 565.3h0M332.8 579.7h0M327.7 568.6h0M322.1 561.7h0M329.5 580.6h0M330.6 569h0M328.1 572.1h0M329.5 559.6h0M329.3 571.9h0M326.6 578.8h0M322.1 580.4h0M329.4 580h0M322 558.6h0M329.2 550.4h0M326.3 558.5h0M323.7 547.3h0M325.5 567.1h0M325.4 570.9h0M323.3 582.4h0M318.7 574.1h0M334.5 567.3h0M326.3 580.5h0M331.9 579.5h0M332.7 573.5h0M332.3 557.9h0M321.5 580.1h0M325 549h0M322.1 557.3h0M320.1 568.4h0M335.2 568.9h0M317.6 558.4h0M321 569.5h0M320.8 574.4h0M326.6 545.9h0M326.6 537.3h0M330.5 495.9h0M332 581.4h0M330.3 562.8h0M319.1 548.6h0M323.6 544.5h0M329.8 564.5h0M327.6 535.8h0M325.6 565.7h0M335.7 542.1h0M323.9 550h0M331.4 561.2h0M335.3 583.1h0M322.1 545.2h0M322.2 538.6h0M336.9 530.3h0M337.1 564.8h0M317.3 565.8h0M328.9 573.2h0M332.3 541.4h0M330 553.3h0M328.8 576.5h0M328.3 580.5h0M325.4 583.6h0M319.2 574.6h0M325.1 580.8h0M326.4 565.9h0M330.3 573.2h0M318.8 577.9h0M331.6 537h0M326.8 581.5h0M322.5 536.9h0M323.7 566.2h0M323.6 526h0M327.9 527.9h0M326.9 544.5h0M322 518.4h0M330.9 555.4h0M323.1 558.9h0M328.3 503.6h0M325.7 520.9h0M327.9 557.9h0M335.6 574.8h0M327.1 542.3h0M328.9 578.3h0M319.3 584.2h0M332.8 572.2h0M323.9 574.2h0M318.1 575.9h0M320 563.5h0M326.2 532.8h0M324.8 558.9h0M331.8 580h0M325 569.3h0M333.6 584.3h0M333.6 560.7h0M322.5 506.2h0M329.8 579.4h0M324.2 582.2h0M321.3 512.1h0M325.6 513h0M329.4 536.9h0M323.4 562.8h0M323.2 580.9h0M326.1 551.1h0M338.2 536.4h0M326.9 534.7h0M324.5 554.6h0M330.4 574.2h0M328.3 577.3h0M324.7 550.2h0M327.2 564.9h0M328.2 572.7h0M323.3 570.4h0M323.5 566.6h0M333.5 571.5h0M339.4 571.9h0M328.9 536.4h0M321.1 559.8h0M324.4 546.5h0M323.9 555.3h0M323.8 545h0M317.7 584.2h0M319.2 568.2h0M330.3 576.3h0M325.3 569.2h0M328.4 562.5h0M326.4 567h0M329.8 543.7h0M322.9 576.7h0M322.7 584h0M326.8 562.8h0M319.4 518.3h0M323.8 570.4h0M324.8 552.2h0M321.3 582.8h0M324.5 567.4h0M315.1 565.2h0M317.2 522.2h0M324 553.8h0M316.5 544.7h0M323.9 568.7h0M322.8 523.9h0M332.8 572.3h0M329.7 565.2h0M327.1 568.3h0M326.9 572.1h0M339.4 568.7h0M336 556.4h0M325.2 552.8h0M320.6 551.8h0M323.7 565.4h0M328.4 580.9h0M319.5 584.2h0M325.2 541.1h0M328.6 582.1h0M327.1 543.7h0M326.2 583.4h0M332.1 537h0M337 565.6h0M316 517h0M336.2 580.1h0M329.7 564h0M327.2 583.7h0M333.1 514h0M328.1 575.1h0M320.9 571.9h0M324.8 571.3h0M317.4 561.5h0M325.1 584h0M330.3 572.2h0M334.5 570.6h0M325.2 561.6h0M326.7 506.6h0M328.5 575.2h0M319.1 580.7h0M328.9 525.6h0M327.6 519.2h0M324.2 539.2h0M328.6 542.4h0M323.5 563.8h0M313.4 575.9h0M320.1 580.4h0M321.5 507.1h0M327.5 580.3h0M324.5 516h0M325.2 565.8h0M333.5 543.3h0M332.1 551.6h0M323.7 561.1h0M332.7 557.5h0M324.6 530.5h0M334.5 573.9h0M328.3 563.7h0M327.2 555h0M325.9 577.9h0M333 577.2h0M321 551.7h0M320.3 568.8h0" stroke="#ff3b3b" stroke-width="0.84" stroke-linecap="round" stroke-opacity="0.35"/>
<path d="M369.8 572.8h0M366.6 556.3h0M363.8 547.7h0M372.2 523.7h0M369.4 512.7h0M356.9 578.1h0M369.8 571.4h0M371.5 566.3h0M372.4 572.9h0M371.3 570.2h0M373 548.8h0M368.1 534.5h0M368.9 540.8h0M375.8 544.5h0M360.8 580.8h0M369.5 554.2h0M368.5 531.1h0M367 543h0M367 570.4h0M377.2 572.6h0M364.9 579.8h0M377.9 567.5h0M365.3 573.1h0M370.4 559.3h0M370.7 573.6h0M370.7 569.4h0M365.3 568.7h0M366.7 579.8h0M363.7 548.8h0M368.9 515.3h0M375 544.5h0M368.7 571.6h0M360.4 567h0M367.3 493.1h0M356.9 571.5h0M367.9 539.8h0M368.2 567.5h0M375.8 580.8h0M364.1 568.5h0M367.3 578.6h0M366.8 519.4h0M370.4 580.6h0M372.2 581.9h0M363.6 568.1h0M373.5 561.1h0M368.4 565.6h0M375.7 521.9h0M378.1 550.4h0M374.6 568.8h0M371 568.2h0M367.6 563.7h0M365.7 579.6h0M369.5 568.2h0M373.6 570.7h0M367.5 560.9h0M363 567.5h0M371.4 556.3h0M369.7 533.7h0M371.9 533.4h0M378.5 577.1h0M365.9 578.4h0M382.9 563.7h0M374.2 513.2h0M372.7 584h0M377 529.7h0M371.2 581h0M370.3 529.6h0M372.4 569.8h0M356.9 549h0M372.9 553.4h0M361.1 560.9h0M379.2 553h0M358.3 537.8h0M366.6 560.6h0M375 580h0M374 575.6h0M371.9 563.7h0M362.4 535.6h0M373.6 503.1h0M367.7 559.6h0M370.4 554.8h0M377.4 576.7h0M374 576.5h0M365.3 554.3h0M370.1 546h0M375.7 561.3h0M365.3 551.1h0M361.8 549.4h0M369.5 557.7h0M365.5 511.9h0M368.8 556.3h0M362.4 581.8h0M367.8 564.4h0M373.6 563.6h0M363.8 570.6h0M366.5 582.5h0M377.4 562.3h0M367.6 537h0M377.2 575.9h0M376.7 510.9h0M365 574.8h0M377.4 572.6h0M360.3 545.3h0M369.5 562.1h0M366.4 581.8h0M368.6 550.8h0M371.4 539h0M356.9 547.8h0M373.5 553.9h0M375.9 580.4h0M363.7 580h0M364.2 573.4h0M371.6 562.4h0M377.5 569.5h0M367.7 564.8h0M379.4 572.9h0M369.6 524.7h0M368.8 528.9h0M374.9 548.4h0M365.1 564.8h0M367.2 572.1h0M368.7 552.8h0M364.7 562.1h0M371.4 538.5h0M370.1 524.6h0M370.3 562.9h0M367.9 519.9h0M371.2 558.3h0M369.7 562h0M363.7 573.8h0M373.3 579.1h0M363.7 546.6h0M362.8 573.2h0M372.9 582.7h0M375.3 568h0M370.8 540.5h0M374.1 563.5h0M364.2 570.1h0M358.8 540.6h0M375.5 530.2h0M368.6 581.7h0M364.5 581.3h0M372.9 528.2h0M366.2 573.5h0M363.3 568.9h0M361.6 530.4h0M370.9 537.5h0M369.3 557.6h0M367.8 556.5h0M371.4 493.2h0M363.3 574h0M371.6 561.8h0M368.6 530.9h0M376.8 563.1h0M372.9 543.9h0M363.3 577.2h0M371.3 573.1h0M374 566.2h0M366.9 565h0M370.1 577.8h0M364.2 546.5h0M367.6 557.7h0M369.6 564.2h0M368.3 526.1h0M367.1 584.3h0M374.5 571.9h0M371.4 567.9h0M367.3 524.5h0M374.5 579.3h0M373.9 548.3h0M372.8 580.5h0M365.5 558.9h0M365.4 582.1h0M367.4 560.2h0M369.8 577.7h0M375.5 537.2h0M364.9 579.1h0M372.5 536.7h0M368.7 569.8h0M375.9 531.5h0" stroke="#ff3b3b" stroke-width="0.84" stroke-linecap="round" stroke-opacity="0.35"/>
<path d="M326.4 556.3L326.4 514.5" stroke="#707070" stroke-width="0.8"/>
<path d="M322.9 514.5L329.9 514.5" stroke="#555" stroke-width="0.9"/>
<rect x="318.6" y="556.3" width="15.6" height="28.1" fill="none" stroke="#707070" stroke-width="0.7"/>
<path d="M322.9 514.5L329.9 514.5" stroke="#222" stroke-width="0.9"/>
<path d="M325.8 513.6a0.62 0.62 0 1 0 0.01 0M325.8 512.9a0.62 0.62 0 1 0 0.01 0M325.8 512.2a0.62 0.62 0 1 0 0.01 0M325.8 511.5a0.62 0.62 0 1 0 0.01 0M325.8 510.9a0.62 0.62 0 1 0 0.01 0M325.8 510.2a0.62 0.62 0 1 0 0.01 0M325.8 509.5a0.62 0.62 0 1 0 0.01 0M325.8 508.8a0.62 0.62 0 1 0 0.01 0M325.8 508.1a0.62 0.62 0 1 0 0.01 0M325.8 507.4a0.62 0.62 0 1 0 0.01 0M325.8 506.8a0.62 0.62 0 1 0 0.01 0M325.8 506.1a0.62 0.62 0 1 0 0.01 0M325.8 505.4a0.62 0.62 0 1 0 0.01 0M325.8 504.7a0.62 0.62 0 1 0 0.01 0M325.8 504a0.62 0.62 0 1 0 0.01 0M325.8 503.4a0.62 0.62 0 1 0 0.01 0M325.8 502.7a0.62 0.62 0 1 0 0.01 0M325.8 502a0.62 0.62 0 1 0 0.01 0M325.8 501.3a0.62 0.62 0 1 0 0.01 0M325.8 500.6a0.62 0.62 0 1 0 0.01 0M325.8 500a0.62 0.62 0 1 0 0.01 0M325.8 499.3a0.62 0.62 0 1 0 0.01 0M325.8 498.1a0.62 0.62 0 1 0 0.01 0M325.8 495.9a0.62 0.62 0 1 0 0.01 0M325.8 492.7a0.62 0.62 0 1 0 0.01 0M325.8 490.4a0.62 0.62 0 1 0 0.01 0M325.8 482.2a0.62 0.62 0 1 0 0.01 0M325.8 480a0.62 0.62 0 1 0 0.01 0M325.8 470a0.62 0.62 0 1 0 0.01 0M325.8 467.7a0.62 0.62 0 1 0 0.01 0" stroke="#111" stroke-width="0.4" fill="none"/>
<path d="M369.3 575.3a0.62 0.62 0 1 0 0.01 0M369.3 574.8a0.62 0.62 0 1 0 0.01 0M369.3 574.3a0.62 0.62 0 1 0 0.01 0M369.3 573.8a0.62 0.62 0 1 0 0.01 0M369.3 573.3a0.62 0.62 0 1 0 0.01 0M369.3 572.8a0.62 0.62 0 1 0 0.01 0M369.3 572.3a0.62 0.62 0 1 0 0.01 0M369.3 571.8a0.62 0.62 0 1 0 0.01 0M369.3 571.3a0.62 0.62 0 1 0 0.01 0M369.3 570.8a0.62 0.62 0 1 0 0.01 0M369.3 570.3a0.62 0.62 0 1 0 0.01 0M369.3 569.8a0.62 0.62 0 1 0 0.01 0M369.3 569.3a0.62 0.62 0 1 0 0.01 0M369.3 568.8a0.62 0.62 0 1 0 0.01 0M369.3 568.3a0.62 0.62 0 1 0 0.01 0M369.3 567.8a0.62 0.62 0 1 0 0.01 0M369.3 567.3a0.62 0.62 0 1 0 0.01 0M369.3 566.8a0.62 0.62 0 1 0 0.01 0M369.3 566.3a0.62 0.62 0 1 0 0.01 0M369.3 565.8a0.62 0.62 0 1 0 0.01 0M369.3 565.3a0.62 0.62 0 1 0 0.01 0M369.3 564.8a0.62 0.62 0 1 0 0.01 0M369.3 564.3a0.62 0.62 0 1 0 0.01 0M369.3 563.8a0.62 0.62 0 1 0 0.01 0M369.3 563.3a0.62 0.62 0 1 0 0.01 0M369.3 562.8a0.62 0.62 0 1 0 0.01 0M369.3 562.3a0.62 0.62 0 1 0 0.01 0M369.3 561.8a0.62 0.62 0 1 0 0.01 0M369.3 561.3a0.62 0.62 0 1 0 0.01 0M369.3 560.8a0.62 0.62 0 1 0 0.01 0M369.3 560.3a0.62 0.62 0 1 0 0.01 0M369.3 559.8a0.62 0.62 0 1 0 0.01 0M369.3 559.3a0.62 0.62 0 1 0 0.01 0M369.3 558.8a0.62 0.62 0 1 0 0.01 0M369.3 558.3a0.62 0.62 0 1 0 0.01 0M369.3 557.8a0.62 0.62 0 1 0 0.01 0M369.3 557.3a0.62 0.62 0 1 0 0.01 0M369.3 556.8a0.62 0.62 0 1 0 0.01 0M369.3 556.3a0.62 0.62 0 1 0 0.01 0M369.3 555.8a0.62 0.62 0 1 0 0.01 0M369.3 555.3a0.62 0.62 0 1 0 0.01 0M369.3 554.8a0.62 0.62 0 1 0 0.01 0M369.3 554.3a0.62 0.62 0 1 0 0.01 0M369.3 553.8a0.62 0.62 0 1 0 0.01 0M369.3 553.3a0.62 0.62 0 1 0 0.01 0M369.3 552.8a0.62 0.62 0 1 0 0.01 0M369.3 552.3a0.62 0.62 0 1 0 0.01 0M369.3 551.8a0.62 0.62 0 1 0 0.01 0M369.3 551.3a0.62 0.62 0 1 0 0.01 0M369.3 550.8a0.62 0.62 0 1 0 0.01 0M369.3 550.4a0.62 0.62 0 1 0 0.01 0M369.3 549.9a0.62 0.62 0 1 0 0.01 0M369.3 549.4a0.62 0.62 0 1 0 0.01 0M369.3 548.9a0.62 0.62 0 1 0 0.01 0M369.3 548.4a0.62 0.62 0 1 0 0.01 0M369.3 547.9a0.62 0.62 0 1 0 0.01 0M369.3 547.4a0.62 0.62 0 1 0 0.01 0M369.3 546.9a0.62 0.62 0 1 0 0.01 0M369.3 546.4a0.62 0.62 0 1 0 0.01 0M369.3 545.9a0.62 0.62 0 1 0 0.01 0M369.3 545.4a0.62 0.62 0 1 0 0.01 0M369.3 544.9a0.62 0.62 0 1 0 0.01 0M369.3 544.4a0.62 0.62 0 1 0 0.01 0M369.3 543.9a0.62 0.62 0 1 0 0.01 0M369.3 543.4a0.62 0.62 0 1 0 0.01 0M369.3 542.9a0.62 0.62 0 1 0 0.01 0M369.3 542.4a0.62 0.62 0 1 0 0.01 0M369.3 541.9a0.62 0.62 0 1 0 0.01 0M369.3 541.4a0.62 0.62 0 1 0 0.01 0M369.3 540.9a0.62 0.62 0 1 0 0.01 0M369.3 540.4a0.62 0.62 0 1 0 0.01 0M369.3 539.9a0.62 0.62 0 1 0 0.01 0M369.3 539.4a0.62 0.62 0 1 0 0.01 0M369.3 538.9a0.62 0.62 0 1 0 0.01 0M369.3 538.4a0.62 0.62 0 1 0 0.01 0M369.3 537.9a0.62 0.62 0 1 0 0.01 0M369.3 537.4a0.62 0.62 0 1 0 0.01 0M369.3 536.9a0.62 0.62 0 1 0 0.01 0M369.3 536.4a0.62 0.62 0 1 0 0.01 0M369.3 535.9a0.62 0.62 0 1 0 0.01 0M369.3 535.4a0.62 0.62 0 1 0 0.01 0M369.3 534.9a0.62 0.62 0 1 0 0.01 0M369.3 534.4a0.62 0.62 0 1 0 0.01 0M369.3 533.9a0.62 0.62 0 1 0 0.01 0M369.3 533.4a0.62 0.62 0 1 0 0.01 0M369.3 532.9a0.62 0.62 0 1 0 0.01 0M369.3 532.4a0.62 0.62 0 1 0 0.01 0M369.3 531.9a0.62 0.62 0 1 0 0.01 0M369.3 531.4a0.62 0.62 0 1 0 0.01 0M369.3 530.9a0.62 0.62 0 1 0 0.01 0M369.3 530.4a0.62 0.62 0 1 0 0.01 0M369.3 529.9a0.62 0.62 0 1 0 0.01 0M369.3 529.4a0.62 0.62 0 1 0 0.01 0M369.3 528.9a0.62 0.62 0 1 0 0.01 0M369.3 528.4a0.62 0.62 0 1 0 0.01 0M369.3 527.9a0.62 0.62 0 1 0 0.01 0M369.3 527.4a0.62 0.62 0 1 0 0.01 0M369.3 526.9a0.62 0.62 0 1 0 0.01 0M369.3 526.4a0.62 0.62 0 1 0 0.01 0M369.3 525.9a0.62 0.62 0 1 0 0.01 0M369.3 525.4a0.62 0.62 0 1 0 0.01 0M369.3 524.9a0.62 0.62 0 1 0 0.01 0M369.3 524.4a0.62 0.62 0 1 0 0.01 0M369.3 523.9a0.62 0.62 0 1 0 0.01 0M369.3 523.4a0.62 0.62 0 1 0 0.01 0M369.3 522.9a0.62 0.62 0 1 0 0.01 0M369.3 522.4a0.62 0.62 0 1 0 0.01 0M369.3 521.9a0.62 0.62 0 1 0 0.01 0M369.3 521.4a0.62 0.62 0 1 0 0.01 0M369.3 520.9a0.62 0.62 0 1 0 0.01 0M369.3 520.4a0.62 0.62 0 1 0 0.01 0M369.3 519.9a0.62 0.62 0 1 0 0.01 0M369.3 519.4a0.62 0.62 0 1 0 0.01 0M369.3 518.9a0.62 0.62 0 1 0 0.01 0M369.3 518.4a0.62 0.62 0 1 0 0.01 0M369.3 517.9a0.62 0.62 0 1 0 0.01 0M369.3 517.4a0.62 0.62 0 1 0 0.01 0M369.3 516.9a0.62 0.62 0 1 0 0.01 0M369.3 516.4a0.62 0.62 0 1 0 0.01 0M369.3 515.9a0.62 0.62 0 1 0 0.01 0M369.3 515.4a0.62 0.62 0 1 0 0.01 0M369.3 514.9a0.62 0.62 0 1 0 0.01 0M369.3 514.4a0.62 0.62 0 1 0 0.01 0M369.3 513.9a0.62 0.62 0 1 0 0.01 0M369.3 513.4a0.62 0.62 0 1 0 0.01 0M369.3 512.9a0.62 0.62 0 1 0 0.01 0M369.3 512.4a0.62 0.62 0 1 0 0.01 0M369.3 511.9a0.62 0.62 0 1 0 0.01 0M369.3 511.4a0.62 0.62 0 1 0 0.01 0M369.3 510.9a0.62 0.62 0 1 0 0.01 0M369.3 510.4a0.62 0.62 0 1 0 0.01 0M369.3 509.9a0.62 0.62 0 1 0 0.01 0M369.3 509.4a0.62 0.62 0 1 0 0.01 0M369.3 508.9a0.62 0.62 0 1 0 0.01 0M369.3 508.4a0.62 0.62 0 1 0 0.01 0M369.3 507.9a0.62 0.62 0 1 0 0.01 0M369.3 507.4a0.62 0.62 0 1 0 0.01 0M369.3 506.9a0.62 0.62 0 1 0 0.01 0M369.3 506.4a0.62 0.62 0 1 0 0.01 0M369.3 505.9a0.62 0.62 0 1 0 0.01 0M369.3 505.4a0.62 0.62 0 1 0 0.01 0M369.3 504.9a0.62 0.62 0 1 0 0.01 0M369.3 504.4a0.62 0.62 0 1 0 0.01 0M369.3 503.9a0.62 0.62 0 1 0 0.01 0M369.3 503.4a0.62 0.62 0 1 0 0.01 0M369.3 502.9a0.62 0.62 0 1 0 0.01 0M369.3 502.4a0.62 0.62 0 1 0 0.01 0M369.3 501.9a0.62 0.62 0 1 0 0.01 0M369.3 501.4a0.62 0.62 0 1 0 0.01 0M369.3 500.9a0.62 0.62 0 1 0 0.01 0M369.3 500.4a0.62 0.62 0 1 0 0.01 0M369.3 499.9a0.62 0.62 0 1 0 0.01 0M369.3 499.4a0.62 0.62 0 1 0 0.01 0M369.3 498.9a0.62 0.62 0 1 0 0.01 0M369.3 498.4a0.62 0.62 0 1 0 0.01 0M369.3 497.9a0.62 0.62 0 1 0 0.01 0M369.3 497.4a0.62 0.62 0 1 0 0.01 0M369.3 496.9a0.62 0.62 0 1 0 0.01 0M369.3 496.4a0.62 0.62 0 1 0 0.01 0M369.3 495.9a0.62 0.62 0 1 0 0.01 0M369.3 495.4a0.62 0.62 0 1 0 0.01 0M369.3 494.9a0.62 0.62 0 1 0 0.01 0M369.3 494.4a0.62 0.62 0 1 0 0.01 0M369.3 493.9a0.62 0.62 0 1 0 0.01 0M369.3 493.4a0.62 0.62 0 1 0 0.01 0M369.3 481.3a0.62 0.62 0 1 0 0.01 0M369.3 475.4a0.62 0.62 0 1 0 0.01 0M369.3 464.1a0.62 0.62 0 1 0 0.01 0M369.3 460.9a0.62 0.62 0 1 0 0.01 0" stroke="#111" stroke-width="0.4" fill="none"/>
<path d="M586.9 372.8h0M583.8 360.8h0M589.6 369.7h0M589.5 376.9h0M587.5 372.5h0M586.6 376.8h0M581.1 380.7h0M588.5 366.1h0M586.8 371.3h0M583.1 374.3h0M584.2 374.2h0M584.8 376.2h0M587.4 376.6h0M585.9 374.8h0M585 371h0M586.7 367h0M581.9 375.4h0M588.1 371.4h0M582.8 379.7h0M583.9 370.3h0M584.4 377.9h0M586.9 372.1h0M588.7 373.1h0M591.1 367.8h0M585.4 368.9h0M587.9 376.1h0M588.3 372.8h0M589 372.9h0M583 374.1h0M585.8 376.3h0M585.1 376.1h0M583.5 368.5h0M581 379.7h0M586.3 363.7h0M586.4 378.9h0M583.8 376.2h0M584.1 374.2h0M580.8 374.1h0M585.5 376.5h0M581.9 372.4h0M581.5 372.4h0M589 364.4h0M584.7 372.7h0M583.6 373.3h0M585.9 373.5h0M582 377.2h0M583.6 372.7h0M583.8 373.6h0M579.1 370.5h0M582.3 373.2h0M587.1 371.6h0M582.2 377.1h0M585.3 365.5h0M588.9 376.7h0M589.8 376.5h0M580.8 379.2h0M587.9 373.8h0M586.9 372.4h0M583.3 379.1h0M585.7 371.5h0M585.4 373.8h0M583.5 375.8h0M586.7 374.4h0M580.2 365.8h0M586.1 379.9h0M585.5 364.5h0M582.1 375.6h0M586.1 364.2h0M586.2 376.9h0M588.5 370.3h0M588.3 375.6h0M584.5 378.9h0M585.4 370.9h0M581.5 375h0M585.4 373.4h0M587.2 378.1h0M585.4 362.1h0M584.7 372.7h0M579.1 369.1h0M586.6 368h0M588 374h0M583.2 378.3h0M586.9 375.6h0M580.7 378.3h0M587.3 365.5h0M582.9 377.1h0M584.3 373.9h0M583 374.6h0M590.7 370.9h0M586 380.8h0M579.6 369.6h0M584.1 376.5h0M581.7 375h0M585.4 366.5h0M587.5 374.7h0M585.6 366.8h0M583.3 371.1h0M586.9 379.5h0M583.9 374h0M586.3 370.3h0M584.2 371.4h0M586.4 374.8h0M588.2 379h0M583.7 368.4h0M584.3 365.4h0M584.3 375.9h0M586.7 370.2h0M585.3 364.4h0M583.4 369.4h0M585.4 375.5h0M587 376.2h0M586.1 375.6h0M588 367.5h0M585.2 370.9h0M582.8 380.8h0M585.1 364.1h0M581.2 367.7h0M583 377.2h0M586.6 367.4h0M580.4 375.8h0M585 370.9h0M580.8 375.3h0M586.3 375.9h0M584.3 381.3h0M582.4 377h0M584.2 369.7h0M586.4 367.8h0M583.4 380.9h0M583.1 369.9h0M584.8 375.3h0M589.1 371.3h0M586.8 372.4h0M583.4 370.6h0M588.5 369.5h0M580.9 379.4h0M581.1 374.6h0M584.2 376.5h0M585.6 372.3h0M586 367.4h0M585.8 370.1h0M585.7 373.2h0M582.1 371.9h0M587.5 362.7h0M586 370.7h0M584.3 371.2h0M587.7 366.3h0M587.2 372.1h0M581.6 372.6h0M584.2 377.8h0M586.1 380h0M581.3 363.9h0M581.9 371.9h0M585.9 373.1h0M584.7 378h0M586.3 381.9h0M585.4 375.5h0M586.3 369h0M580.1 374.9h0M585.4 378.7h0M583.8 367h0M585.8 371.7h0M584.4 379.8h0M582.4 379.6h0M582.3 375.3h0M589.9 378.7h0M588 370.1h0M582.9 372.7h0M586 371.7h0M586 367.7h0M581.6 371h0M580.2 379h0M584.2 366h0M583.8 365.9h0M583.7 379.4h0M583.7 377.1h0M580.2 374.9h0M588.5 369.3h0M582.1 365.9h0M585.4 369.4h0M585.2 374.2h0M586.3 377.5h0M582.3 378.2h0M587.4 375.7h0M585.5 369.9h0M584 371.1h0M583.3 378.9h0M591 371.6h0M584.4 378.5h0M584.8 364h0M584.6 381.2h0M587.8 374.8h0M586.2 367h0M586.3 367.9h0M587.9 371h0M584.9 370.1h0M581.4 367.7h0M585 379.5h0M588.9 361.7h0M579.5 370h0M586.6 377.5h0M582.6 369.5h0M585.6 376.6h0M587 378.6h0M584.7 373.6h0M591.1 370h0M586 371h0M580.9 380.1h0M583.3 370.6h0M585.9 371h0M589 376.7h0M581.2 375.8h0M581.9 374.2h0M588.8 367.8h0M587.2 377.8h0M588 365.4h0M587.1 368.1h0M581.8 372.1h0M583.2 380.5h0M585.5 366.4h0M583.7 376.2h0M585.4 370h0M581.6 367.1h0M583.1 373.1h0M584.1 373.9h0M587.1 377.8h0M583.9 366.5h0M589 366h0M588.7 372.2h0M585.1 379.6h0M586.7 377h0M586.5 373.8h0M584.5 374.1h0M584.4 373.4h0M586.1 373.9h0M586.1 376.5h0M587.6 372.4h0M584.8 372.9h0M588 378.4h0M585.4 376h0M583.9 382.2h0M585.2 372.4h0M583.6 380.6h0M584.2 371.1h0M588.8 378.7h0M585.5 379.5h0M585.1 370.7h0M581.6 375.7h0M589.5 367.5h0M587.4 371.1h0M583.4 374.4h0M583.7 368h0M584.9 369.8h0M582.9 372.8h0M585.2 363.3h0M583.6 375.5h0M582.6 371.7h0M585.1 381.2h0M589.3 377.4h0M584.4 374.7h0M583.5 374h0" stroke="#ff3b3b" stroke-width="0.84" stroke-linecap="round" stroke-opacity="0.4"/>
<path d="M628 314.8h0M619.1 337.6h0M627 334.1h0M623.3 325.7h0M626.9 312.9h0M624.6 321.7h0M628.1 337.8h0M628.3 346.3h0M626.9 356.7h0M618.6 310.7h0M631.2 312.6h0M628.9 340h0M631.8 320.6h0M625.2 330.9h0M622.9 315.2h0M620.1 338.6h0M632.1 329.7h0M621.8 318.5h0M623.3 323.9h0M624.5 352.6h0M628.2 300h0M630.1 311.5h0M629.3 357.7h0M623.4 327.7h0M628.2 322.4h0M622.6 341.7h0M627.6 295.6h0M625.5 281h0M630.2 328.9h0M625.7 345.1h0M628.2 312.1h0M625.9 322.6h0M623.5 320.9h0M626.5 310h0M623.6 311.6h0M627.1 319.7h0M632.5 312.5h0M627.8 317.8h0M624.9 325.4h0M625.4 327.2h0M622.1 311h0M627.1 326.5h0M622.7 341.7h0M627.5 330.4h0M630.2 311h0M631.8 311.7h0M630.4 334.9h0M625.4 317.2h0M624.5 327.1h0M629.7 334.8h0M628.7 297.3h0M629 336.5h0M629.7 313.7h0M624.9 313.3h0M630.4 291.2h0M621.9 319.9h0M618.7 316.5h0M624.3 311.4h0M626.2 313.5h0M623.3 320.2h0M625.7 339.2h0M630.3 313.7h0M626.1 336.9h0M619.9 327.3h0M631.9 335.9h0M622.9 298.4h0M621.4 324.5h0M621.2 327.5h0M623.9 323.9h0M628.4 302.8h0M623.7 335h0M628.6 322.2h0M625.1 327.2h0M625.7 322.2h0M618 304h0M626.1 334.1h0M627.5 345.4h0M627.3 323.9h0M624.9 310.1h0M626.7 296.7h0M630.2 331.8h0M623.7 305.1h0M623.1 344.3h0M625.3 331.3h0M619.3 318.6h0M623.8 342.6h0M627.1 325.3h0M625.4 309.3h0M630.5 326.5h0M626.1 296.4h0M629.7 323h0M627.1 345.7h0M618.3 322.7h0M626.1 325.1h0M621.6 322.8h0M630.4 306.9h0M629.5 310.9h0M627.7 307.6h0M630.2 308.6h0M628.6 335.3h0M632.5 339.1h0M630.3 306.3h0M623 307.5h0M623.6 330.4h0M633.3 328.8h0M624 313.1h0M628.9 327h0M627.9 341.8h0M628.6 328.8h0M625.3 350.3h0M625.4 296.9h0M624.2 317.6h0M629.1 319.6h0M624.4 335.2h0M625.4 315.8h0M626.6 327.7h0M629.5 321.2h0M625.6 333h0M626.3 322.2h0M625.5 322.5h0M628.5 315.7h0M629.4 327.7h0M619.4 333.1h0M629.2 331.4h0M623.3 323.2h0M625.1 325.8h0M620.2 320.1h0M629.6 337h0M628.1 316.6h0M625.6 337.3h0M628.7 320.3h0M623.7 325.4h0M622 303.9h0M623.1 313.5h0M631.4 302.5h0M621.4 313.5h0M632.9 327.2h0M628.1 311.6h0M627.7 347.3h0M632 324.5h0M628.7 342.5h0M622.5 297.7h0M624.9 310.5h0M623.7 301.7h0M627.3 318.4h0M625.5 291.8h0M627.6 295.5h0M619.6 315.7h0M627.8 310.5h0M627 313.9h0M633.3 335.8h0M631.4 301.5h0M628 305.5h0M625.5 332h0M627.7 327.1h0M627.7 312.2h0M620.6 329.3h0M622.8 326.2h0M630.2 308.5h0M625 305.4h0M625 324.4h0M624.7 332h0M628.6 331.1h0M631.2 327h0M634.2 315.3h0M622.9 339h0M624.1 336.4h0M626.7 340.1h0M625.8 333.9h0M624.9 314.1h0M629.4 345.8h0M622 330.4h0M623.8 331h0M624.8 316.2h0M620.2 347.3h0M627.4 324h0M620.7 304.6h0M617.2 315.5h0M633 327.2h0M623.3 349.1h0M625 317.3h0M621.6 334.8h0M625.9 307.7h0M627.1 335.6h0M621.4 336.7h0M626.3 333.5h0M622.4 331.6h0M628.3 330.7h0M630.1 326.2h0M631.7 344.5h0M620.2 330.4h0M627.2 315h0M627 331h0M629.7 314.6h0M623.2 309.7h0M620.5 320.1h0M621.6 292h0M622.8 317.2h0M626.3 300.8h0M620.4 306.3h0M627 317.8h0M622.9 336.9h0M627.3 307.3h0M626.7 342.2h0M624 317.4h0M628.6 342.8h0M624.5 331.9h0M624.1 323.4h0M626.7 334.8h0M621.7 298.3h0M627.3 308.2h0M626.7 337.9h0M627 280.1h0M625.4 350.4h0M626.1 335.7h0M623.5 330.4h0M623.4 312.8h0M630 327.5h0M629.7 336.1h0M629.3 322.5h0M624.8 338.7h0M622.4 316.8h0M628.3 335.6h0M626.8 338.8h0M624.2 325.4h0M622.9 302.6h0M629.1 324.5h0M627.2 311.7h0M630 332.9h0M625.9 341.1h0M625.4 353h0M626.5 320h0M622.7 323h0M622.8 328.7h0M628 344h0M627.7 319.3h0M631.8 333.6h0M624.3 344.6h0M622.4 321.6h0M626.6 333.4h0M625.3 317.1h0M622.6 316h0M628 342.7h0M628.8 324.7h0M631.5 332h0M620.6 336h0M626.1 325.1h0M622.4 317.7h0M628 290.5h0M634.2 318.1h0M624.7 333.5h0M633.8 315.4h0M626.5 334.4h0M625.6 316.6h0M624.4 341.7h0M621.4 314.6h0M621.2 326.1h0M630.6 328.5h0M624.9 311.1h0M626.2 316.4h0M626.2 337.8h0M626.9 316.8h0M619.5 305.1h0M625.8 322.6h0M624.7 300.4h0M625.2 331.2h0M632.7 312.8h0M624.7 309h0M626 314.3h0M617.2 300h0M632.4 335.1h0M622.7 313.1h0M624.8 326.2h0M627.1 311.3h0M630.3 294.4h0M622.7 317.5h0M617.2 321.1h0M629.2 307.7h0M626.2 328.7h0M623 328.4h0M627.7 313.9h0M622 345.6h0M627.9 336.7h0M622.5 319.3h0M624.5 332.1h0M626.6 327.5h0M625.7 343.8h0M622.4 328.6h0M623.6 336.1h0M629.3 331.6h0M620.8 302.2h0M627.9 312.8h0M629.5 314.1h0M630.2 330.4h0M630 319.6h0M627.8 284.5h0M631.4 335.1h0M624.6 331.9h0M624.1 303.3h0M629 306.5h0M634.2 312.9h0M628.4 329.8h0M622.4 310.6h0M628.7 319.6h0M631.1 337.7h0M632.9 337.3h0M625.1 330.2h0M625.9 295.6h0M625.6 339.8h0M633.1 325.9h0M617.2 316.6h0M626 318.1h0M627.7 339.5h0M627.9 315.7h0M629.4 325.6h0M628.2 337.7h0M619.9 313.4h0M620.2 322.1h0M624.8 335.4h0M627.4 329.5h0M632.5 338.2h0M622.6 299.6h0M627.5 345.4h0M622.6 314.4h0M626 328.6h0M621.1 324.7h0M621.6 335h0M622.4 332.1h0M623.1 350.9h0M623 311.9h0M620.9 335.1h0M626.8 310.8h0M623.2 313.7h0M622.5 323.6h0M624.8 322.6h0M625.1 308h0M627.1 320.1h0M633.1 314h0M628.4 335.2h0M630.4 323h0M628.5 329.1h0M629.5 321.5h0M619.5 318.7h0M629.5 311.7h0M617.7 296h0M626.9 334.5h0M624.2 328.8h0M623.4 329.4h0M627.5 313.3h0M628 328.2h0M630.2 340.5h0M621.5 358.4h0M629.6 325.6h0M626.6 340.1h0M630.3 336.5h0M626.6 305.1h0M626 318.5h0M627.8 346.3h0M628 360.8h0M626.2 331.7h0M623.3 316.4h0M625.1 338.5h0M631.7 302.6h0M627.4 310.6h0M634.2 324.4h0M622.7 311.9h0M626.6 328.8h0M627.8 351.2h0M624 335.1h0M627.3 307.9h0M623.1 346.5h0M622.2 309h0M620.3 304h0M628 319.1h0M621.5 333.2h0M619.3 324h0M622.3 312.9h0M623 323h0M624.2 322.4h0M624.4 340.7h0M630.6 333.8h0M625.9 305h0M626.8 324.7h0M630.1 331.8h0M621.9 347.4h0M625.3 306.1h0M630.1 317.8h0M624.9 318h0M626.2 360.3h0M626.6 329h0M629.1 289.7h0M625.5 353.8h0M626.9 319.6h0M627 310.9h0M620.7 321.3h0M630.3 315.3h0M618.1 335.2h0M632.7 347.8h0M629.7 322.8h0M626.8 335.3h0M623.6 323.1h0M622 315.5h0M622.9 334.5h0M630.4 281.8h0M622.9 319.3h0M625.8 356.7h0M626.2 309.2h0M626.1 306.1h0M625.5 301.6h0M625.8 334.5h0M618.6 288.6h0M619.1 323.7h0M629 334.7h0M626 339.9h0M627.6 322.2h0M623.9 298.8h0M624.3 303.9h0M628.5 330h0M620.8 342.1h0M623.7 302.9h0M633.2 333.8h0M623.7 347.6h0M622.3 298.3h0M623.6 323.6h0M624.2 322.5h0M624.5 330.6h0M626.1 339.9h0M626.4 330.4h0M630.2 331.2h0M629.7 291.9h0M628.8 323.9h0M630.3 309.5h0M625.6 330.4h0M629.4 322.9h0M622.9 334.7h0M627.6 340.7h0M630.5 330.4h0M627.2 326.4h0M623.4 335.3h0M624.2 312.4h0M625.5 313.7h0M628 307.7h0M625.7 312.3h0M634.2 310.5h0M625.4 317.8h0M629.4 324.5h0M624.2 324.7h0M618.9 299.7h0M628.4 309.9h0M622.3 309.6h0M628.5 301.8h0M621.8 302.2h0M625.7 305.5h0M630 304.9h0M624.3 316.3h0M629.4 290.2h0M629 323.9h0M627 318.8h0M625.5 327.7h0M620.5 317.3h0M617.4 308.2h0M625 312.9h0M623.8 314.7h0M627.6 302.3h0M623 303.9h0M622.5 318.4h0M626.5 313.9h0M629 317h0M634.2 336.8h0M626.2 320.6h0M631.5 345.2h0M624.2 318.4h0M630.7 312.9h0M622.8 324.3h0M624 346.1h0M630 310.9h0M624.9 325.9h0M621.5 315.4h0M623.5 344.5h0M629.2 326.7h0M618.1 335.9h0M620.2 360.3h0M619.7 329.5h0M627.6 340.2h0M624.8 348h0M626 326.9h0M620.1 346.4h0M626.3 302.1h0M625.6 329.9h0M627.3 319.4h0M626.9 311.9h0M629 340.4h0M629.5 299.1h0M632.9 308h0M617.2 336.4h0M624 306.7h0M630.1 321h0M629.4 306.8h0M628.4 315.5h0M621.2 335.8h0M628.2 323.8h0M622.8 332.5h0M629.8 309.4h0M622.1 321.3h0M623.6 329.9h0M622.8 342.7h0M630.6 335.5h0M629.6 346.8h0M634.2 313.9h0M626.8 312.7h0M622.1 319h0M622.1 340h0M624.9 308.8h0M621.8 320.2h0M626.1 314.9h0M622.7 341.8h0M631.4 344.7h0M629.6 344.6h0M623.7 304.7h0M624.8 355.7h0M625.3 320.1h0M626.6 321.6h0M623.9 335.8h0M619.6 336.8h0M625.4 322.9h0M625.4 324.6h0M630.1 325h0M624.4 329.1h0M625.5 317.5h0M621.1 347.8h0M623.8 345.1h0M617.2 321.8h0M627.8 326.6h0M626.2 304h0M623.6 335.1h0M626.6 339.7h0M627.7 326.5h0M622.8 336.2h0M627.2 355.5h0M630.2 298.6h0M634 335.8h0M623.8 327.1h0M624.5 329.2h0M626.6 313.1h0M629.8 304.9h0M626.6 327.4h0M629.1 334h0M628.6 297.7h0M625.4 304.4h0M627.6 356.9h0M623 311.6h0M626.2 314.3h0M621.3 325.5h0M629.1 328h0M622.2 320.5h0M624.8 316.6h0M621.4 318.9h0M622.4 347.1h0M622.7 334.8h0M622.9 345.3h0M624.6 298.4h0M626.5 315.8h0M626.7 313.1h0M624.6 329.9h0M624.8 332.5h0M633.5 312.5h0M618.9 341.2h0M626.2 336.3h0M627.5 334.7h0M625.3 322h0M623.4 309.8h0M618.8 334h0M630.9 318.1h0M619.8 303.8h0M629.1 321.8h0M627.3 318.3h0M623.4 352.9h0M622.6 328.4h0M622.5 332.1h0M628.6 331.1h0M623.2 326.5h0M627 288h0M622.4 310.7h0M624 294.6h0M623.2 314.5h0M627.2 331.9h0M622.4 339.8h0M621.2 327.1h0M631.5 305.3h0M624 330.2h0M628.7 333h0M626.5 322.3h0M627.4 333h0M620.4 326.9h0M631.5 320.7h0M623.5 314.6h0M625.6 325.1h0M628.2 313.6h0M627.3 300.2h0M621.8 320h0M628.6 309.8h0M628.1 345.5h0M626.3 333.2h0M623.9 315.2h0M624.6 310.4h0M624.5 328.9h0M630.1 324.9h0M626.9 338.3h0M625.1 301.6h0M626.4 290.3h0M622.9 336.5h0M627 338.2h0M629.8 327.8h0M631 319.9h0M631.2 333.4h0M626.6 325.8h0M634 292.2h0M622.3 298.4h0M623.8 317.7h0M622.7 331.5h0M623.8 323.6h0M622.4 338.5h0M623.7 338.2h0M622.5 326.2h0M626.6 331.5h0M623.6 337.2h0M623.3 323.2h0M633.3 314.9h0M626.7 330h0M624.3 306.3h0M625.7 320.3h0M626.3 320.7h0M626.5 306.9h0M624.2 338.4h0M632.9 304h0M626 333h0M626.4 313.9h0M633.2 318.9h0M626.5 314.7h0M625.6 340.3h0M621.9 307.2h0M634.2 315.9h0M621.7 331.7h0M623.8 348.6h0M620.2 332.1h0M625.9 340.3h0M624.9 329.2h0M624.6 314h0M629.1 325h0M632.8 343.9h0M625.5 317.6h0M623.5 325.8h0M630.1 333.3h0M620.5 320.9h0M624.6 323.2h0M629.7 348.9h0M625.6 331h0M626.2 321.6h0M622.7 324.8h0M623.4 330.4h0M631.6 320.3h0M620.4 325.6h0M627.6 323h0M628.9 342h0M625 344.5h0M621.6 322h0M629.8 305.7h0M623.7 301.4h0M626.6 335.3h0M629 336.9h0M630.3 302.4h0M625.2 335.1h0M625 343.1h0M627.6 326.7h0M619.7 325.3h0M627.6 297.6h0M621.4 345.7h0M628.3 337h0M626.8 325.4h0M628.9 341.1h0M621.2 329.1h0M633 333.5h0M625.8 332.5h0M622.7 333.4h0M628.1 316.5h0M629.4 324.8h0M622.6 323.6h0M629.9 311.8h0M619.5 340.3h0M624.4 327.9h0M627.4 306.2h0M626.8 292.7h0M627.5 324.9h0M629.6 332.9h0M630.2 325.7h0M625.6 302.8h0M624.5 314.2h0M622.4 306.3h0M625.5 333.4h0M628 350.4h0" stroke="#ff3b3b" stroke-width="0.84" stroke-linecap="round" stroke-opacity="0.4"/>
<path d="M665 335.6h0M664.8 319.4h0M668 295.9h0M663.4 331.1h0M668.8 323.6h0M667.6 297.1h0M664.1 330.9h0M668.5 319.2h0M662 308.5h0M664.9 283.7h0M664.3 319.5h0M658.7 296.8h0M665.3 305.5h0M663.6 294.4h0M663.8 342.6h0M667.5 321.7h0M663.4 317.6h0M667.5 325.2h0M670 319.2h0M670.1 312.9h0M669.6 337.3h0M664.3 298.3h0M668 303h0M667.4 305.8h0M658.7 322.2h0M669.2 325.7h0M669.4 326.6h0M667.4 331.7h0M661.1 314.2h0M671.8 313.7h0M663.8 337.5h0M663.3 326.9h0M672.7 335.2h0M660.8 314.3h0M661 320.9h0M663.6 314.5h0M666.4 299.2h0M666 309.1h0M662.4 320.5h0M666.1 314.6h0M667.6 304.9h0M662.5 300.8h0M659.3 333.1h0M661.1 295.2h0M664.5 345.3h0M667.9 298.3h0M665.1 312.4h0M661.4 331.1h0M664.5 332.7h0M669.6 340.9h0M665.1 315.2h0M670.2 333.6h0M668.2 312.1h0M664.4 328.7h0M662.4 308.5h0M667.4 317.3h0M666.8 290.6h0M662.4 314.2h0M660.9 317.7h0M670 329.9h0M668.2 330.8h0M666.1 320.1h0M672.7 288.6h0M664.1 324.7h0M668.1 310h0M670.4 323.7h0M669.7 320.1h0M669.9 315.3h0M668.4 349h0M669.7 353.6h0M666.6 323.2h0M671.8 325.9h0M661.3 320h0M666.7 305.5h0M663.6 303.8h0M669.4 302.6h0M665.4 321.4h0M665.4 321.2h0M665.8 284.7h0M664.7 336.1h0M667.3 322.4h0M669.8 317.3h0M667.8 316.2h0M662.3 312.5h0M667.4 311.6h0M662.7 290.4h0M662.9 332.9h0M672.9 312.4h0M664.6 326h0M672.9 339.7h0M672.8 318.5h0M667.9 344.3h0M665.9 305h0M665.3 321.1h0M666.1 318.4h0M669.1 332.5h0M671.4 330h0M659.7 302.9h0M667.1 306.5h0M665.8 311.9h0M664.2 310.1h0M669.7 304.9h0M672.9 320.8h0M661.6 306.5h0M666.3 310.6h0M669.2 309.6h0M664.2 299.6h0M671.5 302.7h0M669.6 336h0M669.5 304.3h0M663.2 315.2h0M671.3 319.5h0M664.6 311.7h0M666.1 309.6h0M666.9 341h0M665.2 312.9h0M668.9 330.2h0M668.2 323.8h0M665.7 304.7h0M669.5 297.7h0M666.2 323.8h0M665.7 311.8h0M671.6 308.4h0M666.2 300.9h0M666.9 317.6h0M666.6 298h0M666.4 304.4h0M668.8 311.8h0M662.7 321.8h0M667.7 332.4h0M668.4 330.2h0M664.9 313.3h0M667.3 313.9h0M668.6 315.2h0M669.9 316.7h0M661.5 316.7h0M659.7 311.2h0M667.7 304.5h0M674.4 325.8h0M670.4 320.2h0M666.8 323.8h0M663.6 289.2h0M663.2 308.9h0M664.5 318.1h0M668.9 332.4h0M665.3 296.3h0M665.9 316.8h0M665.3 337.7h0M670 300.8h0M665.2 306.5h0M667.8 293.1h0M660.5 312.8h0M674.8 326.1h0M664.7 314.1h0M667.4 320.3h0M670.6 301.1h0M663.5 294.6h0M659.5 354.5h0M663.6 287h0M668.2 314.6h0M664.1 325.4h0M668.6 304h0M663.9 311.2h0M665.6 324h0M668.4 313.1h0M661.7 318.2h0M665.8 312.2h0M665.1 302.8h0M666 318.7h0M667.6 288h0M663.9 312.9h0M663.2 325.4h0M662.6 325.8h0M671.1 320h0M665.6 303h0M665 322.9h0M668.9 319.5h0M662.3 299.1h0M668.2 298.8h0M662.5 334.3h0M669 315.2h0M665.5 310.1h0M660.9 324.8h0M669.2 324.5h0M671.3 327.8h0M665.7 348.1h0M658.8 323.7h0M660.8 336.5h0M668 304.6h0M665.7 340.5h0M667.3 291.5h0M663.6 301h0M668.9 316.8h0M670.2 342.1h0M667.2 302.2h0M670.9 324.6h0M670.1 326.5h0M665.4 313.6h0M665.1 306.6h0M666.4 336.3h0M666.7 312h0M669.3 286.7h0M667.6 347.6h0M667.1 312.2h0M660.6 325.1h0M667.4 318.9h0M660.6 321.7h0M666.4 341.9h0M669.6 314.3h0M666.9 316.6h0M660.4 330.6h0M664.3 310.9h0M670.2 332.6h0M663.3 312.5h0M669.7 328.2h0M670.7 299.4h0M660.8 331.7h0M667.1 313.5h0M670.1 316.6h0M669.3 302.7h0M661.9 311.3h0M667.7 309.5h0M667 328.7h0M665.5 314.6h0M661 302.9h0M668.5 295h0M662.1 315.9h0M671.7 292.5h0M669 320.4h0M669.1 317.9h0M669.4 301.5h0M663.1 331.9h0M663.9 322h0M670.3 326.2h0M670.5 336.8h0M659 305.7h0M670.1 331.9h0M668.6 324.1h0M662.9 329.3h0M664.2 317.2h0M663.7 308.4h0M666.9 335.5h0M666.9 329.4h0M666.9 307.4h0M669.5 297.8h0M666.6 306.3h0M661.1 312h0M670.8 340.5h0M664 302.6h0M663.3 351.4h0M664.3 339.2h0M666.8 302h0M660.9 335.6h0M664.6 316.3h0M665.7 299h0M666.6 316.3h0M662.8 337.4h0M671.8 288.1h0M670.2 341.8h0M671.4 349.7h0M661.2 339.5h0M670.4 294.2h0M673.5 319.6h0M664.7 317.1h0M666.7 323h0M662.7 312.1h0M663 288h0M668.9 294.7h0M671.7 305.9h0M658 301.7h0M668.6 296.2h0M663 298.2h0M673.7 333.5h0M667.5 294.5h0M662.1 343.3h0M668.1 319.1h0M664.9 318.7h0M665.6 308.9h0M667.1 301.6h0M665.8 296.3h0M670.9 298.3h0M668 338.2h0M674.4 324.6h0M668.9 317h0M668 316.7h0M672.4 326.1h0M664.4 320.7h0M663.3 308.8h0M668.5 306.3h0M664.7 326.4h0M669.2 317.5h0M666.4 324.1h0M662.3 319.6h0M663.9 323.6h0M668.3 309.4h0M664.2 329.5h0M665.5 317.8h0M666.7 317.1h0M670.2 325.5h0M665.6 315.6h0M664.5 332.5h0M660 323.2h0M673.8 339.5h0M667.3 324.3h0M663.5 286.4h0M670.9 313.7h0M668.8 332h0M667.5 295.4h0M665.4 322.8h0M666.3 318.2h0M667.1 313.7h0M672.2 306.6h0M659.9 342.7h0M665 304.6h0M669.2 320.2h0M664.7 306.2h0M663 303.5h0M665.6 312.3h0M668.1 321.3h0M668.2 299.3h0M670.2 322.8h0M665.4 325.7h0M659 324.6h0M669.3 329.4h0M672.6 300.7h0M665.8 324.6h0M665 330.9h0M666.1 309.4h0M671.8 314.3h0M667.3 323.3h0M668.1 304.9h0M670 314.8h0M672.5 322.6h0M668.8 300h0M664.1 302.9h0M665.9 305.5h0M665 310.9h0M672 330.2h0M667.3 322.4h0M662.9 328.5h0M663.1 321.2h0M665.5 315.9h0M669.1 322h0M665.6 314.8h0M664.6 299.2h0M668.1 293.2h0M667.7 326.2h0M668.1 312.1h0M667.2 291.6h0M667.7 329.2h0M669.5 281.6h0M666.4 304.3h0M672.3 304.5h0M672.3 321.1h0M667.2 315.4h0M663.2 309.1h0M667.5 321.6h0M670.2 349.6h0M671 316.2h0M664 311.9h0M664 317.2h0M664.4 333.3h0M668.3 326.1h0M658 305.4h0M665.5 295.9h0M664.2 321.6h0M671.2 332.1h0M667.7 332h0M666.3 338.9h0M666.6 341.3h0M666.8 311h0M668.5 328h0M665.5 313.2h0M672.7 324.4h0M667.1 337.5h0M667.7 328.8h0M665.1 335h0M666.6 325.9h0M669.2 306.1h0M668.4 351.4h0M672.1 335.6h0M662.7 302.2h0M668.2 334.3h0M660.3 316h0M668.9 315.9h0M669.8 317h0M667.4 296h0M670.8 321.5h0M668.7 301.8h0M663.9 353.1h0M669.4 313.1h0M660.7 319.9h0M668.8 313.7h0M670 320.3h0M667 338.2h0M666 326.2h0M667 298.2h0M663.9 312.3h0M663.7 297.4h0M660.9 313.6h0M670.6 334.3h0M668.8 351.5h0M663.9 333.5h0M662.8 327.7h0M663.8 332.7h0M666.4 296.1h0M664.4 307.5h0M668.7 312.4h0M670.1 316.5h0M673.4 323.9h0M665.3 306.6h0M663.1 331.7h0M666.7 314.8h0M668.8 324h0M667 313.8h0M663 311h0M664.9 310.8h0M663.5 316.4h0M661.4 326.1h0M667.4 312.4h0M667.2 306.3h0M665.9 291.9h0M661.4 323.4h0M664.5 308.7h0M666.9 324.9h0M666 282h0M670.4 295.8h0M669.5 336.8h0M666.6 328.8h0M660.2 321.6h0M662.1 287h0M672.3 319h0M666.2 326.9h0M665.5 323.9h0M666.4 297.6h0M670.4 299.1h0M674.5 317.9h0M672.2 324.7h0M662.4 293.7h0M667.1 323.7h0M669.5 314.9h0M666.4 347.4h0M674 333h0M667.2 307.7h0M667.7 303.4h0M666.2 335.5h0M661.9 310.9h0M664.2 314.9h0M667.2 307.2h0M665.2 304.3h0M667.3 306.1h0M671.4 335.9h0M662 330.8h0M674.5 331.3h0M661.8 315h0M661.2 312.4h0M669.1 291.6h0M659.4 299.6h0M665.6 336.8h0M668.3 337.6h0M669.6 324.9h0M665.5 330.2h0M669.8 291.6h0M669.9 300.9h0M665 309.7h0M667.3 333.6h0M668.3 336h0M675 307.4h0M667 334.6h0M667.7 303.1h0M664.3 300.8h0M660.6 305.8h0M665.9 307.3h0M666.1 303.6h0M669.4 312.6h0M673.7 303.4h0M667.4 333.3h0M666.6 296.4h0M666.6 326.2h0M666.5 327.2h0M667.8 326.1h0M663.1 321.7h0M659.4 297h0M666 315.3h0M661.9 337.1h0M667.8 292.5h0M663.7 333.7h0M666.4 308.8h0M662 314.4h0M671.7 323.5h0M666.6 323.8h0M662.3 302.2h0M663 315.6h0M668.6 299.5h0M669.6 305.3h0M664.9 321.7h0M667.1 319.8h0M664.1 313.6h0M670.8 335.9h0M667.6 299.4h0M660 302.1h0M666 315.1h0M662.6 313.5h0M667 326.6h0M666.2 321.3h0M663.5 325.4h0M667.6 302.3h0M667.6 320h0M664.7 314.2h0M664.4 320.8h0M660.8 312h0M671.7 311.8h0M664.7 320.8h0M666.7 326.4h0M664.4 317.9h0M664.7 336.6h0M668.3 329.7h0M669.1 302.7h0M665.5 323.2h0M668 316.5h0M671.7 291.2h0M665.4 306.2h0M667 308.1h0M675 310.8h0M668.4 334.3h0M669 313.2h0M670.9 337.2h0M668.5 322.8h0M665.8 331.5h0M667.7 312h0M670.2 299h0M672.5 313.8h0M663.7 336.3h0M661.6 326.8h0M668.8 299h0M662.4 314h0M667.5 306.2h0M668.1 299.4h0M663.9 318.5h0M667.2 316.8h0M666.3 317.3h0M668.2 308.4h0M664.7 345.3h0M669.6 331.2h0M670 314.3h0M659.8 318.3h0M672.3 325.7h0M658.7 305.3h0M662.8 300.3h0M672.8 322.2h0M660.6 342.3h0M673.3 334.3h0M662.5 300.3h0M666.2 305.9h0M665.6 315.1h0M665.6 312h0M670.3 311.7h0M661.3 326.6h0M669.3 286.7h0M669 316.3h0M664.9 309.9h0M665.2 350.7h0M663.6 316.4h0M666.8 307.4h0M668.9 316.1h0M659.1 299.1h0M660.7 315h0M665.5 294.6h0M668.1 336.8h0M668 325.9h0M665.2 315.8h0M665.8 308.2h0M670.5 310.3h0M673 327.7h0M667.6 321.1h0M663.6 304.7h0M671.3 306.5h0M663 321.8h0M670.6 305h0M668.7 307.1h0M659.3 311h0M664.9 325.6h0M668 305.6h0M667 302.1h0M661.6 307.6h0M667.9 331h0M665.9 296.8h0M666.5 310.8h0M669.2 302.5h0M666.3 298.9h0M664.9 304.8h0M661.6 315.3h0M662.1 336.3h0M669 286.3h0M668.6 332.4h0M669.5 323.6h0M669.7 296.4h0M665.2 307.9h0M666.3 324.2h0M669.4 321.3h0M664.1 309.6h0M661.6 300.8h0M671.3 316.1h0M668.2 315.2h0M666.8 302.3h0M664.8 310.1h0M671.2 306.4h0M664.2 321.4h0M666.8 300.1h0M672.5 302.2h0M669.5 302.2h0M665.8 322.7h0M670.6 303.4h0M671.2 309.3h0M665.5 322h0M666.3 323.6h0M660.2 293.9h0M664.7 335.1h0M665.4 296.5h0M661.7 305.3h0M664.8 348.8h0M665.2 337.2h0M666.6 305.1h0M662.9 313.6h0M675 304.7h0M662.4 321h0M672.2 330.7h0M664 328.1h0M669.6 320h0M664.7 329.2h0M663.7 302.9h0M670.4 309.3h0M663.6 320.4h0M665.2 295.9h0M662.7 331.7h0M669.3 313.1h0M668.5 301.1h0M663.1 321.8h0M668.4 310h0M664.1 293.4h0M664.8 316.9h0M667.4 310.7h0M663.7 292.5h0M666.6 302.2h0M658 323.3h0M666.6 324.2h0M663 304.7h0M663.6 297.1h0M666 315h0M659.8 303.3h0M671.9 331.6h0M669.8 314.8h0M665.5 304.5h0M664.7 323.5h0M668.4 301.7h0M664.6 330.4h0M672 314.3h0M670.3 322.8h0M673.3 315.3h0M670.1 323.1h0M666.1 306.2h0M666.9 308.6h0M667.9 297.2h0M660.6 328.5h0M659.8 327.2h0M666.8 311.8h0M668.5 334.4h0M664.2 319.1h0M667.8 306.6h0M666.8 297.9h0M667.3 293.8h0M664.6 316.5h0M664 324.4h0M669 307.9h0M666.9 311.5h0M670.5 313.3h0M671.9 316.6h0M669.8 339.9h0M668.1 330.9h0M670.7 343.1h0M668.1 326.1h0M667.8 314.9h0M664.7 289.2h0M665.8 327.4h0M666.8 295h0M668.9 332.4h0M669.7 339.5h0M674.2 330.5h0M660.5 293.5h0M664.3 314.5h0M660.6 345.2h0M666.9 305.7h0M663.7 293.3h0M658 320.2h0M667.1 319.4h0M671.6 314.5h0M664 298.5h0M662.9 341.6h0M668.9 330h0M667 303.9h0" stroke="#ff3b3b" stroke-width="0.84" stroke-linecap="round" stroke-opacity="0.4"/>
<path d="M585.1 376.3L585.1 357" stroke="#707070" stroke-width="0.8"/>
<path d="M580.6 357L589.6 357" stroke="#555" stroke-width="0.9"/>
<rect x="575.3" y="376.3" width="19.6" height="13.3" fill="none" stroke="#707070" stroke-width="0.7"/>
<path d="M580.6 357L589.6 357" stroke="#222" stroke-width="0.9"/>
<path d="M584.5 356.3a0.62 0.62 0 1 0 0.01 0M584.5 354.8a0.62 0.62 0 1 0 0.01 0M584.5 353.3a0.62 0.62 0 1 0 0.01 0M584.5 352.6a0.62 0.62 0 1 0 0.01 0M584.5 351.1a0.62 0.62 0 1 0 0.01 0M584.5 350.4a0.62 0.62 0 1 0 0.01 0M584.5 348.9a0.62 0.62 0 1 0 0.01 0M584.5 348.2a0.62 0.62 0 1 0 0.01 0M584.5 346.7a0.62 0.62 0 1 0 0.01 0M584.5 345.2a0.62 0.62 0 1 0 0.01 0M584.5 340.8a0.62 0.62 0 1 0 0.01 0M584.5 336.3a0.62 0.62 0 1 0 0.01 0M584.5 331.9a0.62 0.62 0 1 0 0.01 0M584.5 331.1a0.62 0.62 0 1 0 0.01 0M584.5 330.4a0.62 0.62 0 1 0 0.01 0M584.5 329.7a0.62 0.62 0 1 0 0.01 0M584.5 321.5a0.62 0.62 0 1 0 0.01 0" stroke="#111" stroke-width="0.4" fill="none"/>
<path d="M625.7 313.4L625.7 284.5" stroke="#707070" stroke-width="0.8"/>
<path d="M620.9 284.5L630.5 284.5" stroke="#555" stroke-width="0.9"/>
<path d="M625.7 332.9L625.7 362.2" stroke="#707070" stroke-width="0.8"/>
<path d="M620.9 362.2L630.5 362.2" stroke="#aaa" stroke-width="0.9"/>
<rect x="615.6" y="313.4" width="20.2" height="19.5" fill="none" stroke="#707070" stroke-width="0.7"/>
<path d="M615.6 323L635.8 323" stroke="#f5a550" stroke-width="0.9"/>
<path d="M625.1 281.6a0.62 0.62 0 1 0 0.01 0M625.1 280.1a0.62 0.62 0 1 0 0.01 0" stroke="#111" stroke-width="0.4" fill="none"/>
<path d="M666.3 308.9L666.3 281.6" stroke="#707070" stroke-width="0.8"/>
<path d="M661.5 281.6L671.1 281.6" stroke="#555" stroke-width="0.9"/>
<path d="M666.3 326.7L666.3 353.3" stroke="#707070" stroke-width="0.8"/>
<path d="M661.5 353.3L671.1 353.3" stroke="#aaa" stroke-width="0.9"/>
<rect x="656.4" y="308.9" width="19.8" height="17.8" fill="none" stroke="#707070" stroke-width="0.7"/>
<path d="M656.4 317.1L676.2 317.1" stroke="#f5a550" stroke-width="0.9"/>
<path d="M665.7 276.4a0.62 0.62 0 1 0 0.01 0M665.7 274.2a0.62 0.62 0 1 0 0.01 0M665.7 356.3a0.62 0.62 0 1 0 0.01 0M665.7 359.3a0.62 0.62 0 1 0 0.01 0" stroke="#111" stroke-width="0.4" fill="none"/>
<path d="M583.2 522.6h0M588.4 527.6h0M581.4 539.8h0M584.8 525.2h0M588.3 532.3h0M581.5 516.6h0M590.9 516.3h0M579.2 502.5h0M585 534.3h0M584.5 527.1h0M586.4 514.8h0M580.7 510.6h0M590.8 531.2h0M584.3 519h0M582.8 535.4h0M585.7 549.1h0M581.2 509.1h0M593.5 518.3h0M590.3 513.4h0M582.5 539h0M583.1 565.1h0M586.1 521h0M587.2 525h0M584.5 542.8h0M584.3 506.1h0M585.3 514.6h0M587.7 516.1h0M579.8 553.4h0M586.1 509.3h0M586.2 525.2h0M580.1 545.4h0M585.4 547h0M594.1 537.4h0M588 529.4h0M587 556.5h0M585.9 531.2h0M586.3 495.3h0M581.7 522.1h0M586.5 526.4h0M590.3 515.6h0M586.4 547.4h0M586.7 524.5h0M588.6 529.1h0M583.7 492.5h0M585.9 548.6h0M582.4 513.1h0M579.7 529.1h0M589 562.7h0M592.9 557.7h0M589.5 527.4h0M584.7 543.2h0M583.7 547.1h0M580.7 524.3h0M586.8 513.1h0M584.7 538.3h0M589.1 528.5h0M579.3 507.2h0M586.1 547.7h0M592.9 535.3h0M587.6 521.8h0M581.5 536.8h0M593.4 521.9h0M581 522.3h0M588.8 545.7h0M581.5 523.4h0M577.9 534.3h0M584.5 484.7h0M589 538h0M584.5 541.6h0M582.3 527.9h0M588.9 538.3h0M587.1 553.7h0M583.3 532.4h0M585.8 529.7h0M586.6 530.4h0M588.9 511.1h0M582.3 533.5h0M582.9 493.5h0M584.5 550.7h0M585.4 496.5h0M576.1 527.9h0M590.2 537.1h0M589.2 537.4h0M584.1 525h0M587.7 517.2h0M583.1 510.1h0M592.2 551.5h0M580.1 521.3h0M594.1 543.4h0M586.8 548.8h0M586.1 528.5h0M583.6 516.4h0M585.3 540.1h0M594.1 557.6h0M585.8 516.8h0M587.6 501.1h0M587.6 505h0M586.6 512.2h0M583.8 563h0M585.7 534.4h0M591.8 502.7h0M587.5 523.3h0M586 512.1h0M586.2 535.6h0M579.5 564.2h0M584.8 549.4h0M588.6 534.6h0M586 532.9h0M594.1 540.6h0M581.9 562.2h0M583.2 522.7h0M585.7 539.7h0M585.1 510.5h0M584.8 538.2h0M582.6 512.9h0M580.5 545h0M579.9 524.7h0M585.3 531.8h0M590.4 541.1h0M586.2 504.5h0M589 507.9h0M583.8 523.5h0M582.5 530.7h0M583.9 525.5h0M580.2 546.6h0M583.8 537.6h0M584.4 546.8h0M588.6 499.5h0M588.4 518.9h0M578.2 530h0M586.2 534.1h0M581.8 505.4h0M589.2 523h0M577 508.5h0M585.6 498.8h0M594.1 512.4h0M587.7 520.6h0M584.6 563.4h0M583.6 517.3h0M588.1 544.4h0M582.5 530.5h0M585 548.3h0M585.7 562.2h0M583.6 537.5h0M586.5 541.2h0M587.4 513h0M583.6 500.8h0M585.8 523.8h0M584.7 543.4h0M580 516.9h0M578.4 504.2h0M586.3 524.6h0M583.9 530.7h0M586.4 565.4h0M583.8 549.7h0M579.1 539.4h0M580.6 548.6h0M584 546.2h0M589.2 534.8h0M586.1 538h0M589.8 510.2h0M583.5 489.5h0M579.4 543.5h0M585.3 547.9h0M586.5 561.9h0M588.3 538.9h0M581.1 545.7h0M585.1 533.9h0M587.1 540h0M590.4 523.2h0M583.4 543.2h0M580.4 540h0M582.6 531.5h0M589.8 536.9h0M589.3 521.4h0M585.1 557.2h0M588.9 530.4h0M579.5 509.9h0M587.5 511.9h0M587.2 554.6h0M583.2 525.5h0M579.3 529.6h0M583.4 520.8h0M589.4 527h0M578.3 546h0M582.6 514h0M584.5 553.7h0M590.6 523.4h0M580.1 565.1h0M582.3 539.6h0M589.5 523.4h0M582.8 563h0M586.4 557.8h0M586.6 508.4h0M579.2 534.4h0M584.5 539.5h0M586.2 537.5h0M590.7 534.2h0M585.4 544.6h0M584.7 541.7h0M582.5 541.4h0M589.8 542.6h0M579.8 486.5h0M588.1 508.3h0M584.9 522.1h0M584.5 528.5h0M587.5 546.6h0M584.9 546.9h0M590.7 533.1h0M584.7 533.4h0M586.3 554.9h0M583.6 551.1h0M576.1 534.6h0M585.8 526.5h0M586.1 542.6h0M586.3 518.8h0M586.1 511.9h0M578.2 520.6h0M586.2 505.7h0M587.9 518.8h0M582.1 545.8h0M587.2 529.3h0M590.4 510.5h0M579 530.7h0M583 501.4h0M579.7 545.4h0M590.6 551.9h0M587.5 521.1h0M586.9 530.5h0M589.6 510.7h0M583 535.2h0M585.3 523h0M583.6 533.2h0M578.7 532.2h0M581.4 564.9h0M590.5 521.6h0M583.2 505.9h0M582 505.4h0M586.4 539.9h0M583 513.6h0M594.1 543.3h0M586.7 495.3h0M578.8 513.4h0M581.8 536.9h0M588.8 530.7h0M586.1 520.9h0M587.9 565.9h0M589.3 544.4h0M588.4 523.4h0M590.1 510.1h0M586 511.8h0M586.2 535.7h0M589.5 543.2h0M587.2 537.5h0M590.5 534.6h0M585.5 540.7h0M584.7 522.8h0M581.9 559.9h0M586.2 524.9h0M592.5 550.7h0M585.2 554.9h0M590.1 490.2h0M585.8 528h0M580.7 516.8h0M582.1 535.3h0M587.9 524.2h0M594.1 537.5h0M579.7 538.2h0M587.8 514.1h0M585.6 539.3h0M586.2 561.4h0M581.8 533.8h0M587.1 535.8h0M591.2 521.6h0M588.7 534.3h0M579.7 549.2h0M589.1 542.2h0M587.2 532.4h0M585.3 522.3h0M580.6 520.2h0M576.1 544.2h0M590.5 528.8h0M582.3 506h0M587.1 514.2h0M589 523h0M590.6 513.9h0M586.7 532.3h0M587.3 531.9h0M591.1 565.6h0M587.6 540.8h0M583.1 528.3h0M591.1 523.9h0M584.2 539.1h0M585.9 556.2h0M580.2 531.5h0M586.8 537.2h0M585.9 535.7h0M585.5 541.9h0M589.6 520.7h0M585.5 564.4h0M589.1 519.9h0M581.5 512.9h0M582.6 520.7h0M586.2 544.5h0M578.8 501.6h0M581.1 552.8h0M587.6 550.4h0M587.3 532.6h0M587 555.3h0M584 512.4h0M583.6 521.4h0M585.1 528.2h0M582.9 540.4h0M583.6 553h0M581.7 553.7h0M582.1 523.7h0M579.8 553.5h0M580.3 516.3h0M589.3 526.5h0M579.2 538.9h0M589.6 527.3h0M582.1 528.1h0M579.6 533.6h0M581.5 542.5h0M588.8 524.6h0M588.6 555.5h0M583.1 538.6h0M583.3 540.6h0M581.4 539.9h0M587.5 536h0M594.1 545.7h0M584.3 528.5h0M585.5 531.2h0M583.6 547.5h0M593.8 522.2h0M578.3 517.2h0M588.3 535.1h0M580.3 535.4h0M586.9 538.2h0M580.3 526.4h0M584.5 491.7h0M587.5 539.2h0M583.1 522.9h0M587.1 529.5h0M585.8 507.1h0M580.4 533.2h0M579 525.1h0M588.3 549.8h0M576.1 528.6h0M585.2 496.5h0M589.7 534.4h0M581.7 537.3h0M594.1 509.9h0M587.1 559.7h0M587.6 550.8h0M584.2 534.4h0M583.8 529h0M587.4 549.5h0M580.4 535.8h0M587.6 532.9h0M585.4 539.6h0M580.6 538.9h0M587.1 521.5h0M582.9 511.1h0M582.3 514.2h0M584.4 561.3h0M585.1 514.7h0M583.8 500.3h0M588.8 549h0M587.5 565.8h0M583.2 498.9h0M587.9 517.4h0M584.2 522.5h0M577.7 513.7h0M588.1 535.2h0M582.5 547.3h0M591.5 545.3h0M591.4 545.5h0M585.7 540.8h0M583.6 520.2h0M588.5 526.1h0M586 550.9h0M580 514.5h0M586.3 536.2h0M587.9 551.9h0M583.4 510.3h0M583.2 494.3h0M582.9 532h0M581.2 537h0M583.9 560.6h0M587.6 530.3h0M581.1 533.2h0M589.1 535.7h0M587.4 527.1h0M589.1 507.1h0M588.2 517.4h0M580.9 488.7h0M584.6 529.3h0M580.4 510.5h0M584.6 533.3h0M587.9 531.4h0M591.8 550.1h0M579.2 540.6h0M593.8 506.4h0M588.3 528.5h0M579.4 493.5h0M586.1 538.6h0M592.8 554.4h0M589.3 523.2h0M588.8 541.1h0M586.4 542.7h0M580.6 520.9h0M584.9 556.6h0M580.9 546.9h0M578.6 535.7h0M582.9 509.2h0M586.9 524.8h0M594.1 521.3h0M584.3 529.6h0M586.2 514.6h0M584 553.1h0M583.9 563h0M582.5 510.7h0M592.5 498.7h0M588.7 554.2h0M583.9 523.8h0M585.8 560.2h0M585.3 555.2h0M581.6 523.2h0M586.3 521h0M586.5 524.9h0M590.9 549.4h0M586 522.6h0M585.1 515.7h0M587 540.8h0M585.9 528.4h0M594.1 545.5h0M583 520.8h0M576.1 521.7h0M590.2 499.1h0M589.4 532.1h0M586.9 518.6h0M587.6 530.2h0M587 521.4h0M576.1 562.5h0M587.5 560.8h0M583.2 546h0M589 565.6h0M592.3 506.7h0M587.8 534.9h0M580.1 501.8h0M583.1 550.9h0M579.9 512.5h0M580.1 544.5h0M584.5 539.1h0M586.7 532.2h0M590.5 519.3h0M581 518.5h0M583.5 548.5h0M585.1 540h0M587.9 527.6h0M586.5 531.3h0M583.1 509.5h0M585 530.4h0M587.1 542.9h0M586.1 524.4h0M584.5 541.4h0M580.3 541h0M582.6 531.6h0M576.1 521.4h0M585 526.2h0M584 535.1h0M582.8 497.1h0M592.2 515.3h0M581.4 523.2h0M587.2 502.2h0M582.4 519.7h0M579.3 506.4h0M583.8 502.6h0M580.8 537.1h0M581.5 543.7h0M581.7 529.2h0M588.9 554h0M587.5 530.3h0M587.1 534.4h0M581.3 545.1h0M587 541h0M585.8 523.8h0M585.1 563.4h0M580.5 511h0M586.2 527.7h0M586.9 542.8h0M588.6 535.9h0M585.8 544h0M587 503.2h0M592.1 540.9h0M582 543.1h0M586.5 510.6h0M591.1 547.8h0M584.3 523.9h0M586 492.4h0M584 510.8h0M577.4 518.1h0M589.6 552.6h0M589.2 547.8h0M587.7 503.2h0M583.1 516.8h0M583.5 550.6h0M583 488.1h0M582.6 504.9h0M586.4 544.2h0M578.4 556.6h0M584.7 499.1h0M584 521.9h0M583.8 530.3h0M585.2 563.3h0M589.1 529.7h0M578.2 520.6h0M588 542.4h0M583.6 527.5h0M585.1 515.9h0M584.5 524h0M590.5 522.8h0M591.7 525.5h0M579.3 522.1h0M583.9 532.9h0M576.8 533.2h0M584.8 534.6h0M579 548.5h0M587 538.5h0M590.2 521.7h0M577 525.8h0M590.7 522.2h0M590.5 530h0M593.6 499.7h0M582.6 561.3h0M582.8 545.7h0M588.1 538.5h0M586.8 528.7h0M580.2 528.5h0M582.5 551.5h0M584.7 525.5h0M580.1 529.6h0M583.2 533.2h0M594.1 541.7h0M587.1 527.9h0M580.6 527.1h0M578.2 512.6h0M586.7 540.9h0M585.4 524.6h0" stroke="#ff3b3b" stroke-width="0.84" stroke-linecap="round" stroke-opacity="0.4"/>
<path d="M622.4 555.1h0M630.5 556.7h0M623.1 558.6h0M632.1 518.4h0M624.4 519.4h0M628.5 535.5h0M623.9 564.7h0M624 537.3h0M625.4 547.8h0M624.5 551h0M626.9 549.1h0M624.7 526.6h0M631 552h0M627.1 533.8h0M627.4 544.4h0M626.2 553.8h0M622.7 529.8h0M626.2 558.2h0M632.3 528.6h0M626.4 545.7h0M631.4 531.1h0M623.2 509.8h0M624.5 508.8h0M624.8 536h0M628.7 557.3h0M629 506.1h0M632.5 537.2h0M634.6 547.8h0M627.6 533.8h0M626.3 545h0M630.4 564.5h0M627.1 522.4h0M626.2 565.6h0M623.1 537.8h0M633.3 522.5h0M623.6 549h0M621.5 527.7h0M626.9 557.8h0M624.7 532.6h0M626.7 507.1h0M624.9 545h0M626.5 553.4h0M628 532.8h0M625.1 524.9h0M626.8 539.7h0M623.4 555.9h0M622.4 520.5h0M628 542.6h0M629.7 552.3h0M619.6 540.5h0M631.5 559.5h0M618.2 539.5h0M620.6 558.8h0M626.5 544h0M625.5 534.5h0M629.5 541.7h0M625.2 549.9h0M621.6 543.3h0M627.4 514.9h0M627.4 524.2h0M624.9 537h0M618.9 528.7h0M623.7 546.5h0M620.4 546.7h0M623.8 531.3h0M629.2 522.1h0M621.7 559.5h0M626.7 539.9h0M623.1 548.8h0M621.1 556.1h0M616.7 525.9h0M625.8 535.4h0M626.6 526.8h0M628.7 538.9h0M623.1 568.8h0M622.7 532.8h0M622.2 555.3h0M624.9 564.4h0M628.1 537.7h0M628.3 551h0M621.2 513.3h0M628.6 533.6h0M623.9 530.3h0M625.5 551.6h0M631.3 536.4h0M624 533.1h0M624 545.9h0M626.6 523.7h0M629.3 528.5h0M628 536.8h0M630.8 531.9h0M628.3 564.1h0M623.8 554.7h0M633.4 549.2h0M622.9 549.6h0M625 519.5h0M621.8 538.1h0M628.7 529h0M626.5 553.9h0M625.7 554.2h0M634.3 543.7h0M630.3 518.1h0M621.2 536.8h0M629 548h0M630.7 510.2h0M627.6 552.2h0M622.5 538.7h0M617.8 524.4h0M628.2 526.4h0M618.8 536.5h0M619.6 535.4h0M624.5 541.1h0M626.7 514.5h0M626.3 530.6h0M624.5 532.8h0M622.8 537.8h0M626.1 517.6h0M624.6 530h0M630.3 516.1h0M630.2 545.9h0M630.5 553.5h0M624.4 540.3h0M626 556.3h0M629.5 554.1h0M626.9 522h0M621.6 548.8h0M625.4 544.5h0M626 562.1h0M629.8 550.8h0M625.4 521.1h0M627.7 501.9h0M627.7 544h0M625.2 544.6h0M627.3 535.5h0M627 536.7h0M630.1 533h0M619.7 533.3h0M627 565.6h0M623.9 538.2h0M622 542.9h0M617.5 545.7h0M621.8 539h0M619.1 522.5h0M624.9 502.8h0M620.7 530.1h0M630.5 550.8h0M628.8 543h0M622 533.5h0M630.3 512.4h0M618.4 518.6h0M621.3 551.3h0M628.8 547.3h0M616.7 543.5h0M623.1 558.9h0M625.3 527.8h0M616.7 541.8h0M623.7 516.3h0M626.7 528.9h0M626.2 544.6h0M624 548.5h0M628.6 538.6h0M627.2 521.2h0M624.9 533.4h0M623.1 556h0M626.7 536.6h0M629.2 528.8h0M619.9 550.8h0M624.8 561.8h0M629.4 511.3h0M628.1 509h0M624.2 527.6h0M626.7 542.4h0M634.7 520.1h0M623 527.1h0M626 533.2h0M627 553.7h0M622 548.3h0M633.7 532.4h0M624.6 555.6h0M617.1 533.2h0M624.9 547.3h0M630.3 549.5h0M616.7 531.3h0M626.2 557.5h0M623.5 562.2h0M626.4 506.3h0M623.2 530.8h0M628.5 544.4h0M626.7 553.6h0M622.3 560h0M628 551.1h0M629.7 547.4h0M622.8 538.7h0M627.7 539.7h0M632.2 512.4h0M630.6 531.4h0M627 532h0M620.1 554.1h0M623 546.4h0M625.7 541.4h0M622.5 553.7h0M627.3 526.3h0M622.5 532h0M628.8 560.3h0M625 538.3h0M626.5 534.5h0M626.4 528.9h0M629.8 550.1h0M626.2 534.1h0M634.7 525.2h0M627.1 553.3h0M622.1 539.7h0M624.5 546h0M624.3 545.6h0M626.2 556.8h0M623.7 535.4h0M616.7 528.8h0M624.3 521.2h0M621.3 551.6h0M622.5 534.3h0M627.6 546.2h0M626.7 544.9h0M619.3 530.3h0M624.2 521.9h0M630.7 557.1h0M623.5 550.7h0M624.3 533.1h0M624.2 538.8h0M626.8 542h0M616.7 523.9h0M622.2 520.1h0M630.5 553.5h0M625.8 539.4h0M627.7 553.5h0M625.9 548.7h0M622.2 541.8h0M627.6 542.8h0M624.6 528.2h0M620 561.2h0M629.2 549.3h0M624.6 564.4h0M623.7 529.5h0M625.4 522h0M628.8 535h0M625.1 535h0M626.1 532.4h0M622.3 519.5h0M620.9 539.8h0M624.1 536.4h0M631.6 549.2h0M624.6 530.1h0M626.5 542.6h0M628.3 521.3h0M623.6 521.3h0M632.2 543.4h0M625.8 525.2h0M627.8 562.9h0M624.3 540h0M629.2 532.6h0M621.4 515.4h0M630 515.9h0M625.2 527.9h0M625.8 523.2h0M622.2 547.5h0M619.8 527.6h0M626.6 537.2h0M625.5 517.8h0M626.2 541.6h0M625.1 546h0M629.3 526.2h0M623.8 528.4h0M628 556.7h0M628.7 561.8h0M626.5 550.4h0M623.3 540.6h0M634.7 565.6h0M618.9 526.5h0M626.1 539h0M624.6 528.9h0M626 538.4h0M634.7 552.9h0M624.4 557.8h0M631.4 530h0M626.4 536.6h0M623 498.1h0M623.9 542.4h0M628.6 552.3h0M628.9 537.3h0M626.3 522.5h0M618.7 555.4h0M624 544.1h0M628.2 540.1h0M622.9 554h0M627.5 531.1h0M625 569.3h0M619.2 526.9h0M628 538.5h0M625.2 518.5h0M622.1 539.6h0M628.3 541.8h0M624.4 531.9h0M625.3 547.2h0M621.5 531h0M624.6 553.3h0M625.8 526.9h0M621 558.6h0M623 554.8h0M625.6 526.7h0M623 544.8h0M625.6 532.7h0M626.5 513.3h0M623.2 548.5h0M622.5 522.2h0M626.3 561.2h0M634.7 534.1h0M627.2 545.4h0M630.2 514.6h0M625.1 535.9h0M633.6 543.5h0M626.7 557.1h0M624.7 558.1h0M625.2 527h0M626.9 543h0M627.3 543.1h0M634.7 529.4h0M623.6 523h0M622.3 540.1h0M622.4 526.2h0M622.8 542.4h0M629.4 542.6h0M632 551.9h0M628.4 538.5h0M625.2 535.2h0M626.8 543.2h0M628.1 515.7h0M621.8 534.3h0M630.8 535.9h0M624.1 540h0M623.2 496.2h0M626.8 518.9h0M627.7 532.9h0M626.2 534.3h0M623.2 518.6h0M624.8 530.5h0M632.4 534.3h0M628.9 540.6h0M629.5 542.7h0M623.7 515.3h0M627.4 535.9h0M625.9 546.4h0M626.1 535.8h0M622.3 544.6h0M633.8 546.7h0M622.2 521.3h0M631 543.1h0M625.3 551.9h0M627.4 516.9h0M627.7 515.7h0M616.7 519.3h0M622.1 515.8h0M623.8 530.3h0M619.5 543.7h0M621 528.3h0M623.5 530.2h0M622.7 545.9h0M627.6 512.1h0M622 516.5h0M626.4 544.7h0M632.5 513.5h0M625.7 506.9h0M625.2 530.6h0M630.9 548.8h0M623.4 514.5h0M624.7 509.9h0M623.6 533.1h0M625.8 515.3h0M624.2 536h0M626.7 555.9h0M616.7 545.8h0M626.6 531.4h0M625.7 553.8h0M634.3 536.9h0M621.3 541.7h0M625.5 528.8h0M624.8 526.4h0M627.5 536.9h0M623.3 543.6h0M629 520.6h0M623.8 537.8h0M631.6 549.9h0M624.2 523.5h0M623.9 547.8h0M627.2 524.6h0M621.7 516.5h0M626.8 533.7h0M628.7 548.9h0M624.5 541.9h0M621.7 547.4h0M625.6 543.7h0M625.3 540.2h0M627.9 551.2h0M621.6 499.8h0M626.5 536.8h0M627.6 529.8h0M633.7 547.3h0M627.4 493.5h0M626.6 549.6h0M627.3 529.3h0M621.4 535h0M626.3 541.6h0M624 549.7h0M628.3 527.6h0M622.4 555.3h0M627.1 549.9h0M624.1 528.9h0M630 558.3h0M621.6 525.1h0M622.1 523.2h0M627.2 541.3h0M624.3 552.3h0M626.1 537.6h0M627.1 547.1h0M626.9 541.3h0M627 519h0M628 543.4h0M623.7 546.4h0M625.5 547.7h0M625.3 534.9h0M626.8 529.5h0M630.3 545.2h0M624.8 549.6h0M622.3 558.5h0M623.3 552.1h0M630.8 527h0M622.2 560.1h0M621.2 530h0M629.2 535.5h0M622.3 541.6h0M630 553.3h0M625.6 536h0M622.8 554.9h0M626.4 561h0M628.1 527.6h0M624.1 510.7h0M626.2 531.4h0M624.4 542.3h0M632.7 522.1h0M628.7 541.6h0M626 533h0M629.5 554.5h0M623.4 550.1h0M629.4 534.2h0M625.9 531.5h0M628.1 542h0M622.8 524.6h0M626.3 526.7h0M622.7 527h0M621.9 544.4h0M628.2 520.5h0M628.4 559.6h0M630.4 522.5h0M624.8 554h0M624.2 536.3h0M629.4 558.6h0M623.9 536.1h0M629.8 551.6h0M625.2 537.3h0M624.4 541.4h0M620.9 534.6h0M633.9 544.1h0M616.7 527h0M626.9 526.3h0M621.5 493.4h0M627.5 531.3h0M622.6 553.2h0M619.9 558.5h0M619.3 551.8h0M618.8 539.7h0M631.1 550h0M634.2 541.9h0M630.2 552.8h0M628.7 551.1h0M629.3 568.1h0M621 524.2h0M630.9 508.3h0M622.6 545.7h0M624.6 542.5h0M623.2 532.6h0M625.7 542.2h0M631.9 520.1h0M627.3 529.6h0M629.4 543h0M629.5 538.5h0M627.2 556.9h0M620.6 525.9h0M632.4 540h0M622.7 547.8h0M622.3 538.6h0M620.4 534.9h0M627.8 533.6h0M623.3 532h0M625.7 542.5h0M623.5 528.3h0M623.7 514.9h0M624.4 530.3h0M626.6 540.2h0M629.6 558.6h0M623.8 512.5h0M627 558.6h0M625.4 530.2h0M620.6 511.6h0M623.7 524h0M634.7 508h0M624.9 546.1h0M624.6 557.3h0M621 518.4h0M629.2 566.3h0M627.3 544h0M629.1 568.7h0M623.4 529.8h0M630.3 550.5h0M625.9 525.6h0M623.5 545.4h0M620.4 546.9h0M628.1 536.4h0M632.9 541.7h0M620.4 520.3h0M631 554.3h0M619.8 551.6h0M619.7 524.4h0M626 534h0M625.1 565.7h0M629.8 525.5h0M627.5 522.4h0M632.7 529.9h0M621.1 540.9h0M629.9 531.2h0M630.4 538.8h0M634.7 527.5h0M627.6 530.8h0M623.4 536.2h0M629.1 525.3h0M624.1 511h0M624.6 505h0M625.8 562.2h0M627.4 551.3h0M625.5 539.4h0M628 533.3h0M630.6 527.5h0M624.5 534.7h0" stroke="#ff3b3b" stroke-width="0.84" stroke-linecap="round" stroke-opacity="0.4"/>
<path d="M665.1 565.2h0M672.6 545h0M666.4 530.4h0M662.9 566.4h0M666.4 552.9h0M663.9 558.9h0M663.9 553.1h0M669.7 541.6h0M666.3 534.3h0M665.9 552.8h0M667.3 550.7h0M661.8 554.9h0M663.9 549.2h0M664.1 541.5h0M657.7 543.6h0M669.1 548h0M669 546.7h0M668.4 548h0M666.2 558.3h0M670.4 569.5h0M661.9 545.7h0M665.6 557.8h0M668.2 572.2h0M665.7 534.2h0M667.2 539.8h0M663.5 564.6h0M668 564.3h0M665.6 533.9h0M659.3 569.8h0M666.7 569.8h0M669.1 554.4h0M670.9 573.1h0M675.2 545.5h0M663 538.8h0M670.7 550.6h0M660 562.1h0M667.3 545.1h0M659.5 550.3h0M665 549.7h0M664.1 546.6h0M670.8 549.3h0M664 539.2h0M665 555.9h0M664.4 559.1h0M663.1 548.6h0M657.3 543.2h0M668 556.7h0M666 544.8h0M674.2 542.9h0M673.1 556.7h0M665.9 538.8h0M662 556.8h0M657.5 540h0M661.7 565.8h0M669.7 562.2h0M670.6 562.1h0M666.9 572.7h0M662.2 553.7h0M670.1 563.2h0M669 543.9h0M664 559.8h0M666.4 566.6h0M668.6 545.2h0M668.9 553.6h0M665.6 566.8h0M674.6 562.4h0M666 563.1h0M664 552.8h0M665.5 560.1h0M667.4 542.8h0M670.6 547.5h0M667.6 555.1h0M667.3 550.4h0M668.4 532.7h0M666.9 550.3h0M667.8 546.2h0M669 547.7h0M672.8 564.3h0M668.8 544.2h0M667 544h0M671.2 558.2h0M669.4 542.3h0M661.5 546.3h0M671.4 547.9h0M667 553.7h0M663.7 564.7h0M665.2 540h0M663.1 530.5h0M664.1 539.9h0M667 548.7h0M667.6 566.6h0M669.1 558.7h0M662.3 545.1h0M661.8 553.8h0M667.9 564.4h0M667.5 535.5h0M661.7 560.1h0M665.8 545.1h0M664 563.6h0M671.9 547.9h0M667.2 546.4h0M666.3 560.9h0M667.5 538.6h0M657.3 537.1h0M668.9 552.1h0M663.7 549h0M667.1 549h0M660.2 543.8h0M665.9 552.9h0M661 550h0M658.1 536.9h0M664 566.5h0M659.5 554h0M667.7 541.6h0M673.7 548.5h0M666.7 565h0M668.8 544.2h0M661.1 536.4h0M667.1 556.2h0M658.3 532h0M662 546.1h0M665.9 540.4h0M666.2 558.2h0M668.3 567.2h0M673.8 540.6h0M674.2 543.6h0M668 553.1h0M664.7 542.6h0M662.8 542.9h0M665.1 554.1h0M665.3 543.7h0M669.7 557.7h0M664.9 554.4h0M665.1 569h0M665.4 554.5h0M670.1 566.9h0M668.6 552.5h0M664.8 555.2h0M663 563.9h0M671.4 546.4h0M664.9 549.4h0M665.7 538.5h0M671.9 556.3h0M662.6 541.6h0M666.4 566.8h0M664.4 555.7h0M664.6 538.3h0M661.8 536.1h0M666.5 540h0M663.2 546.3h0M665.8 560.8h0M664.6 553.5h0M666 556h0M666.9 531.7h0M659.9 541.7h0M663.6 540.3h0M663.6 540.4h0M662.2 564.6h0M666.4 548.7h0M672 546.3h0M666 541.6h0M667.2 544.9h0M672.8 534.3h0M668.9 547.3h0M666.7 550.9h0M663.6 556.3h0M664.6 555.9h0M662.4 554.5h0M664.1 547.1h0M662.9 561.6h0M673.5 560h0M665.7 554.9h0M668.5 533.6h0M667.1 539.7h0M663.4 559.1h0M665 533.7h0M667.2 551.8h0M663.4 545.4h0M662.5 543.9h0M661.1 534.1h0M663.8 553.5h0M659.2 553.8h0M672.5 564.8h0M673.2 554.9h0M661.4 564.3h0M667.1 547.5h0M672.4 547.3h0M669.4 540.6h0M670.9 537.8h0M671.4 556.2h0M662.2 544.3h0M665.8 547.2h0M667.7 518.1h0M668.4 536h0M664.8 572.8h0M668.7 559.5h0M670.7 564.1h0M667.8 549.9h0M666.2 554.5h0M663.1 556.9h0M673 562.1h0M671.9 560.9h0M660 562.9h0M669.9 544h0M669.4 552.8h0M665.8 544.9h0M666.6 550.9h0M663.7 572h0M665.3 546.9h0M664.7 547.1h0M663.8 552.5h0M672.7 553h0M664.3 546.1h0M660.5 554.4h0M666.7 564.7h0M667.2 539.2h0M669 542h0M661.5 534.2h0M668.5 567.1h0M667.4 545.1h0M669 559.9h0M668.2 559.2h0M659.6 538.8h0M671.9 552.6h0M671.5 550.8h0M662 562h0M671.7 552.2h0M661.1 536.2h0M665.8 566.6h0M668.3 556h0M661.4 538.4h0M670.8 565.1h0M666.4 550.5h0M665 547.3h0M664.3 543.5h0M669.4 562.5h0M667.4 560.9h0M670.4 556.4h0M668.3 542.2h0M664.3 561.8h0M661.8 538.4h0M667.6 564.2h0M671.2 539h0M667.6 541.9h0M670.4 566.1h0M663 539.1h0M666.6 558.5h0M668.1 544.8h0M664.5 550.4h0M668.8 550.6h0M666.2 557.2h0M663 553.3h0M666.5 552.6h0M663 544.7h0M667.1 558.7h0M662.3 557.6h0M658.4 542.4h0M668.5 529.4h0M672.6 550.2h0M665.2 571.9h0M668.2 556.3h0M675.3 558.8h0M672.8 553.7h0M667.1 545h0M672.4 567.6h0M663.4 559.5h0M671.5 544.4h0M664.6 558.8h0M674.7 566.8h0M664.3 563.4h0M664.2 545.7h0M666.6 538.9h0M664.7 537h0M664.6 568.4h0M668.2 547.3h0M666.9 549.5h0M673.3 543.6h0M662.2 557h0M664.8 564.4h0M674.2 547.2h0M666.3 533.8h0M670.3 547.8h0M661.6 542.9h0M663.5 544.4h0M671.9 564.9h0M665.1 553.7h0M660.4 560.3h0M669.7 547.3h0M669.8 551.3h0M664.3 547.8h0M664.4 529.3h0M667.5 544.2h0M671.5 546.4h0M670.7 550.7h0M666.9 570.3h0M666.5 567.1h0M660 549.9h0M670.9 542.4h0M668.7 555.6h0M665.9 555.3h0M658.7 544.5h0M671.6 539.9h0M669.4 557.7h0M670.8 554.8h0M666.3 542.7h0M663.9 547.8h0M672 543.9h0M671.1 544.2h0M666.6 561.8h0M668.8 545.2h0M659 555.4h0M666.9 557.6h0M659.7 552.4h0M669.3 553.1h0M661.9 554h0M671.8 546.5h0M663.5 558.1h0M661 532h0M665.4 553.8h0M663.7 557.8h0M663.1 547h0M666.5 552.2h0M662.9 562.9h0M670.9 558.8h0M664.3 535.4h0M672.2 553.8h0M665.6 553.5h0M662.5 547.8h0M664.3 540h0M669.2 554h0M670.6 543h0M667.8 549.4h0M668.2 545.7h0M669.5 541.6h0M661.4 570.3h0M664.4 556.2h0M662 560.5h0M663.5 529.1h0M663.5 561.7h0M659.7 558.2h0M660.8 555.6h0M668.5 556.6h0M662.8 541.7h0M667.3 549.2h0M662 561.5h0M666.7 550.9h0M674.1 566.9h0M666.7 549.8h0M667.2 550.7h0M661.6 561.3h0M669.1 564.7h0M673.9 559.3h0M663.9 571.3h0M668.9 546.2h0M668.9 558.1h0M665.1 553.2h0M673.1 552h0M669 539.7h0M670 544.2h0M669.6 523.5h0M663.3 545h0M664.7 529.5h0M660.4 548.6h0M665.3 535.9h0M664.7 553.9h0M667.8 561.1h0M667.3 551.5h0M667.1 566.2h0M663.5 542.1h0M665.1 563.5h0M667.1 534.6h0M667.2 548.5h0M667.3 562.2h0M665.2 544.3h0M661 549.4h0M662.1 556h0M667.3 548.1h0M667.6 532.4h0M666.1 550.6h0M665.5 561h0M668.7 570.7h0M663.4 541.5h0M670.4 560.8h0M663.4 556.1h0M666.3 541.8h0M673.4 570.3h0M664.3 551.3h0M658.2 548.2h0M672 542.2h0M663.9 556.1h0M659.6 533.8h0M671.2 538.5h0M663.9 566.8h0M667.8 553.3h0M663.8 547h0M666.5 557.3h0M669.6 549h0M667.8 552.3h0M670 524.6h0M670.9 557.6h0M663.9 550.1h0M668.6 548.9h0M669.7 553.5h0M662.3 557.6h0M666.3 553.2h0M668.6 546.8h0M666.3 558.2h0M671.9 533.2h0M666.5 554.1h0M670 546.5h0M662.2 543.2h0M671.2 556.4h0M674.1 532.2h0M665.5 565.4h0M669.7 554.4h0M672 542.6h0M665 554.4h0M667.7 557.1h0M663 558.2h0M668.4 557h0M672.2 537.7h0M665.6 546.7h0M668.7 550.3h0M668.9 551.8h0M674 563.2h0M669.1 545h0M662.5 553.3h0M663.2 544.4h0M661.6 530.9h0M670.1 540.3h0M669.3 544.3h0M666.3 539.8h0M667.1 542.7h0M665.7 555.5h0M668.2 572.4h0M671 537h0M669.7 562.7h0M667.4 572.8h0M666.4 549.2h0M666.3 539.5h0M658.4 541.8h0M667.8 544.3h0M671.1 557.9h0M663 565.2h0M662.1 541.1h0M663.5 562.6h0M660.2 554.1h0M668.8 560.2h0M667.9 559.7h0M667.1 544.9h0M667.5 525.8h0M670.3 565h0M667.4 563h0M668.6 550.2h0M658.2 555.9h0M666.6 552h0M669.2 561.7h0M657.3 544.3h0M661.7 549.7h0M672.9 549.8h0M663.9 550.6h0M667.5 558.5h0M662.8 561.2h0M662.6 559.7h0M666.9 551.6h0M665.9 562.2h0M668.8 561.7h0M660.6 547.5h0M668.8 560.9h0M665.6 569.6h0M670.6 553.6h0M672.1 554.8h0M670.3 562.4h0M669.5 567.1h0M669.9 562h0M665.4 546.7h0M670.1 551.5h0M666.9 548.6h0M671.2 543.9h0M663.3 535.7h0M662 565.9h0M673.1 549.7h0M668.2 541.7h0M661.6 557.6h0M663.9 544.5h0M671.9 571.4h0M658.9 553.8h0M669.5 554.5h0M669.3 548.5h0M663.4 554.4h0M668.5 559h0M665.3 561.9h0M664.1 554.9h0M665.8 564.1h0M661.1 547.4h0M661.7 552.6h0M664.8 546.3h0M662.3 541.4h0M662.6 564.6h0M663 545.2h0" stroke="#ff3b3b" stroke-width="0.84" stroke-linecap="round" stroke-opacity="0.4"/>
<path d="M585.1 538.3L585.1 472.9" stroke="#707070" stroke-width="0.8"/>
<path d="M579.7 472.9L590.5 472.9" stroke="#555" stroke-width="0.9"/>
<rect x="574.7" y="538.3" width="20.8" height="45.5" fill="none" stroke="#707070" stroke-width="0.7"/>
<path d="M584.5 464.7a0.62 0.62 0 1 0 0.01 0" stroke="#111" stroke-width="0.4" fill="none"/>
<path d="M625.5 545.8L625.5 492.4" stroke="#707070" stroke-width="0.8"/>
<path d="M620.1 492.4L630.9 492.4" stroke="#555" stroke-width="0.9"/>
<rect x="615.3" y="545.8" width="20.4" height="38" fill="none" stroke="#707070" stroke-width="0.7"/>
<path d="M624.9 487.8a0.62 0.62 0 1 0 0.01 0" stroke="#111" stroke-width="0.4" fill="none"/>
<path d="M666.5 562.5L666.5 529.8" stroke="#707070" stroke-width="0.8"/>
<path d="M661.1 529.8L671.9 529.8" stroke="#555" stroke-width="0.9"/>
<rect x="656.5" y="562.5" width="20" height="21.3" fill="none" stroke="#707070" stroke-width="0.7"/>
<path d="M665.9 528.7a0.62 0.62 0 1 0 0.01 0M665.9 528a0.62 0.62 0 1 0 0.01 0M665.9 527.3a0.62 0.62 0 1 0 0.01 0M665.9 526.6a0.62 0.62 0 1 0 0.01 0M665.9 525.9a0.62 0.62 0 1 0 0.01 0M665.9 525.1a0.62 0.62 0 1 0 0.01 0M665.9 524.4a0.62 0.62 0 1 0 0.01 0M665.9 523.7a0.62 0.62 0 1 0 0.01 0M665.9 523a0.62 0.62 0 1 0 0.01 0M665.9 522.3a0.62 0.62 0 1 0 0.01 0M665.9 521.6a0.62 0.62 0 1 0 0.01 0M665.9 520.9a0.62 0.62 0 1 0 0.01 0M665.9 520.2a0.62 0.62 0 1 0 0.01 0M665.9 519.5a0.62 0.62 0 1 0 0.01 0M665.9 518.7a0.62 0.62 0 1 0 0.01 0M665.9 518a0.62 0.62 0 1 0 0.01 0M665.9 517.3a0.62 0.62 0 1 0 0.01 0M665.9 516.6a0.62 0.62 0 1 0 0.01 0M665.9 514.5a0.62 0.62 0 1 0 0.01 0M665.9 510.9a0.62 0.62 0 1 0 0.01 0M665.9 506.3a0.62 0.62 0 1 0 0.01 0" stroke="#111" stroke-width="0.4" fill="none"/>
<path d="M314.9 389.7L337.9 389.7" stroke="#ffc8c0" stroke-width="2.0"/>
<path d="M317.4 389.7L335.4 389.7" stroke="#ff6a5a" stroke-width="1.5"/>
<path d="M359.4 389.7L380.4 389.7" stroke="#ffc8c0" stroke-width="2.0"/>
<path d="M361.9 389.7L377.9 389.7" stroke="#ff6a5a" stroke-width="1.5"/>
<path d="M314.9 584.4L337.9 584.4" stroke="#ffc8c0" stroke-width="2.0"/>
<path d="M317.4 584.4L335.4 584.4" stroke="#ff6a5a" stroke-width="1.5"/>
<path d="M359.4 584.4L380.4 584.4" stroke="#ffc8c0" stroke-width="2.0"/>
<path d="M361.9 584.4L377.9 584.4" stroke="#ff6a5a" stroke-width="1.5"/>
<path d="M576.6 389.6L593.6 389.6" stroke="#ffc8c0" stroke-width="2.0"/>
<path d="M579.1 389.6L591.1 389.6" stroke="#ff6a5a" stroke-width="1.5"/>
<path d="M575.6 583.8L594.6 583.8" stroke="#ffc8c0" stroke-width="2.0"/>
<path d="M578.1 583.8L592.1 583.8" stroke="#ff6a5a" stroke-width="1.5"/>
<path d="M616.2 583.8L635.2 583.8" stroke="#ffc8c0" stroke-width="2.0"/>
<path d="M618.7 583.8L632.7 583.8" stroke="#ff6a5a" stroke-width="1.5"/>
<path d="M656.8 583.8L675.8 583.8" stroke="#ffc8c0" stroke-width="2.0"/>
<path d="M659.3 583.8L673.3 583.8" stroke="#ff6a5a" stroke-width="1.5"/>
</g>
</svg>
</body></html>
